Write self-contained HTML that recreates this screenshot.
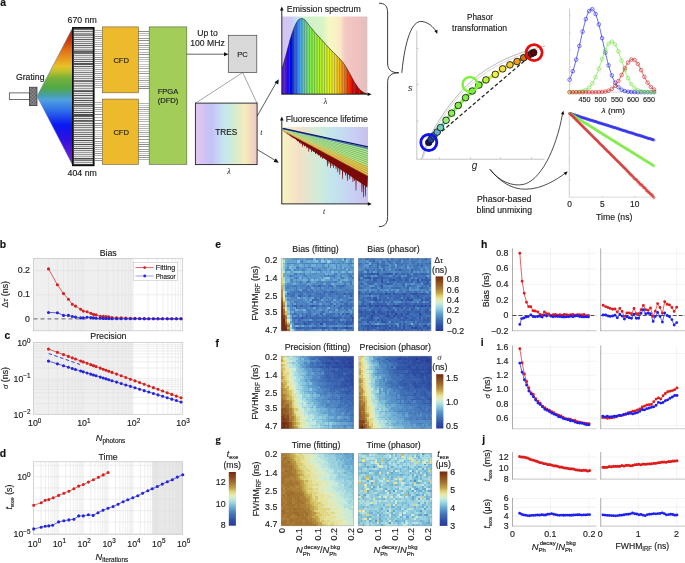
<!DOCTYPE html>
<html><head><meta charset="utf-8"><style>
html,body{margin:0;padding:0;background:#fff;width:685px;height:563px;overflow:hidden}
svg{display:block;font-family:"Liberation Sans",sans-serif;will-change:transform}
text{stroke:#222;stroke-width:0.16px}
</style></head><body>
<svg width="685" height="563" viewBox="0 0 685 563" fill="#222">
<rect width="685" height="563" fill="#fff"/>
<text x="0.2" y="5.9" font-size="10.4" fill="#111" font-weight="bold">a</text>
<defs>
<linearGradient id="spec" x1="0" y1="0" x2="0" y2="1">
<stop offset="0" stop-color="#9c1a00"/><stop offset="0.09" stop-color="#c83a08"/>
<stop offset="0.163" stop-color="#e07018"/><stop offset="0.236" stop-color="#e8a020"/>
<stop offset="0.28" stop-color="#e8c028"/><stop offset="0.322" stop-color="#b8c030"/>
<stop offset="0.366" stop-color="#78b038"/><stop offset="0.438" stop-color="#50a848"/>
<stop offset="0.489" stop-color="#48a0a0"/><stop offset="0.525" stop-color="#50a0e0"/>
<stop offset="0.598" stop-color="#3070e8"/><stop offset="0.707" stop-color="#0818f0"/>
<stop offset="0.815" stop-color="#3010e0"/><stop offset="0.96" stop-color="#7020d0"/>
<stop offset="1" stop-color="#8020d0"/>
</linearGradient>
<linearGradient id="tres" x1="0" y1="0" x2="1" y2="0">
<stop offset="0" stop-color="#e4c8ee"/><stop offset="0.25" stop-color="#c4c0f6"/>
<stop offset="0.45" stop-color="#c6e4f4"/><stop offset="0.62" stop-color="#d2ecd2"/>
<stop offset="0.8" stop-color="#f6ecbe"/><stop offset="1" stop-color="#ecc8c2"/>
</linearGradient>
<linearGradient id="embg" x1="0" y1="0" x2="1" y2="0">
<stop offset="0" stop-color="#d4c4f2"/><stop offset="0.1" stop-color="#d0c8f4"/>
<stop offset="0.16" stop-color="#c4dcf8"/><stop offset="0.27" stop-color="#cef0cc"/>
<stop offset="0.48" stop-color="#d8f4c4"/><stop offset="0.55" stop-color="#f8f8c4"/>
<stop offset="0.68" stop-color="#f8ecc4"/><stop offset="0.74" stop-color="#f4c8c4"/>
<stop offset="0.9" stop-color="#eec0c0"/><stop offset="1" stop-color="#e0c0c0"/>
</linearGradient>
<linearGradient id="ltbg" x1="0" y1="0" x2="1" y2="0">
<stop offset="0" stop-color="#f8f4c2"/><stop offset="0.2" stop-color="#f4e0c8"/>
<stop offset="0.42" stop-color="#d0ecd8"/><stop offset="0.6" stop-color="#c2e4ee"/>
<stop offset="0.85" stop-color="#c8cef4"/><stop offset="1" stop-color="#c8c0ec"/>
</linearGradient>
<pattern id="chk" width="1.4" height="1.4" patternUnits="userSpaceOnUse">
<rect width="1.4" height="1.4" fill="#9a9a9a"/><rect width="0.7" height="0.7" fill="#555"/><rect x="0.7" y="0.7" width="0.7" height="0.7" fill="#555"/>
</pattern>
</defs>
<rect x="9.3" y="92.9" width="20.1" height="6.6" fill="#fff" stroke="#333" stroke-width="0.7"/>
<rect x="29.4" y="87.2" width="7.6" height="18.5" fill="url(#chk)" stroke="#333" stroke-width="0.7"/>
<path d="M37 96.3L72.8 27.6L72.8 165.4Z" fill="url(#spec)" stroke="#5a78b8" stroke-width="0.5"/>
<rect x="73" y="28" width="20.6" height="137" fill="#e4e4e4"/>
<g shape-rendering="crispEdges">
<rect x="73.8" y="29" width="19" height="1" fill="#666666"/>
<rect x="73.8" y="31" width="19" height="1" fill="#777777"/>
<rect x="73.8" y="33" width="19" height="1" fill="#989898"/>
<rect x="73.8" y="34" width="19" height="1" fill="#959595"/>
<rect x="73.8" y="35" width="19" height="1" fill="#848484"/>
<rect x="73.8" y="37" width="19" height="1" fill="#8e8e8e"/>
<rect x="73.8" y="39" width="19" height="1" fill="#606060"/>
<rect x="73.8" y="41" width="19" height="1" fill="#8d8d8d"/>
<rect x="73.8" y="43" width="19" height="1" fill="#7a7a7a"/>
<rect x="73.8" y="45" width="19" height="1" fill="#656565"/>
<rect x="73.8" y="47" width="19" height="1" fill="#8a8a8a"/>
<rect x="73.8" y="49" width="19" height="1" fill="#a6a6a6"/>
<rect x="73.8" y="50" width="19" height="1" fill="#9d9d9d"/>
<rect x="73.8" y="51" width="19" height="1" fill="#5c5c5c"/>
<rect x="73.8" y="52" width="19" height="1" fill="#6e6e6e"/>
<rect x="73.8" y="53" width="19" height="1" fill="#6a6a6a"/>
<rect x="73.8" y="55" width="19" height="1" fill="#949494"/>
<rect x="73.8" y="57" width="19" height="1" fill="#a3a3a3"/>
<rect x="73.8" y="59" width="19" height="1" fill="#7a7a7a"/>
<rect x="73.8" y="61" width="19" height="1" fill="#595959"/>
<rect x="73.8" y="63" width="19" height="1" fill="#545454"/>
<rect x="73.8" y="64" width="19" height="1" fill="#595959"/>
<rect x="73.8" y="66" width="19" height="1" fill="#636363"/>
<rect x="73.8" y="68" width="19" height="1" fill="#9e9e9e"/>
<rect x="73.8" y="70" width="19" height="1" fill="#ababab"/>
<rect x="73.8" y="72" width="19" height="1" fill="#7d7d7d"/>
<rect x="73.8" y="74" width="19" height="1" fill="#919191"/>
<rect x="73.8" y="76" width="19" height="1" fill="#8c8c8c"/>
<rect x="73.8" y="78" width="19" height="1" fill="#929292"/>
<rect x="73.8" y="80" width="19" height="1" fill="#737373"/>
<rect x="73.8" y="81" width="19" height="1" fill="#6b6b6b"/>
<rect x="73.8" y="83" width="19" height="1" fill="#a1a1a1"/>
<rect x="73.8" y="85" width="19" height="1" fill="#8d8d8d"/>
<rect x="73.8" y="86" width="19" height="1" fill="#a3a3a3"/>
<rect x="73.8" y="88" width="19" height="1" fill="#999999"/>
<rect x="73.8" y="90" width="19" height="1" fill="#6c6c6c"/>
<rect x="73.8" y="91" width="19" height="1" fill="#505050"/>
<rect x="73.8" y="93" width="19" height="1" fill="#999999"/>
<rect x="73.8" y="95" width="19" height="1" fill="#535353"/>
<rect x="73.8" y="97" width="19" height="1" fill="#aeaeae"/>
<rect x="73.8" y="98" width="19" height="1" fill="#7c7c7c"/>
<rect x="73.8" y="100" width="19" height="1" fill="#4a4a4a"/>
<rect x="73.8" y="102" width="19" height="1" fill="#7e7e7e"/>
<rect x="73.8" y="104" width="19" height="1" fill="#575757"/>
<rect x="73.8" y="105" width="19" height="1" fill="#959595"/>
<rect x="73.8" y="106" width="19" height="1" fill="#787878"/>
<rect x="73.8" y="108" width="19" height="1" fill="#8e8e8e"/>
<rect x="73.8" y="110" width="19" height="1" fill="#888888"/>
<rect x="73.8" y="112" width="19" height="1" fill="#4c4c4c"/>
<rect x="73.8" y="114" width="19" height="1" fill="#484848"/>
<rect x="73.8" y="115" width="19" height="1" fill="#555555"/>
<rect x="73.8" y="116" width="19" height="1" fill="#616161"/>
<rect x="73.8" y="118" width="19" height="1" fill="#6d6d6d"/>
<rect x="73.8" y="120" width="19" height="1" fill="#5b5b5b"/>
<rect x="73.8" y="121" width="19" height="1" fill="#737373"/>
<rect x="73.8" y="123" width="19" height="1" fill="#767676"/>
<rect x="73.8" y="125" width="19" height="1" fill="#787878"/>
<rect x="73.8" y="127" width="19" height="1" fill="#828282"/>
<rect x="73.8" y="129" width="19" height="1" fill="#9a9a9a"/>
<rect x="73.8" y="130" width="19" height="1" fill="#979797"/>
<rect x="73.8" y="132" width="19" height="1" fill="#7f7f7f"/>
<rect x="73.8" y="134" width="19" height="1" fill="#6e6e6e"/>
<rect x="73.8" y="136" width="19" height="1" fill="#696969"/>
<rect x="73.8" y="138" width="19" height="1" fill="#8e8e8e"/>
<rect x="73.8" y="140" width="19" height="1" fill="#494949"/>
<rect x="73.8" y="142" width="19" height="1" fill="#929292"/>
<rect x="73.8" y="144" width="19" height="1" fill="#4a4a4a"/>
<rect x="73.8" y="146" width="19" height="1" fill="#969696"/>
<rect x="73.8" y="148" width="19" height="1" fill="#4f4f4f"/>
<rect x="73.8" y="150" width="19" height="1" fill="#838383"/>
<rect x="73.8" y="152" width="19" height="1" fill="#9e9e9e"/>
<rect x="73.8" y="154" width="19" height="1" fill="#959595"/>
<rect x="73.8" y="156" width="19" height="1" fill="#a6a6a6"/>
<rect x="73.8" y="158" width="19" height="1" fill="#4a4a4a"/>
<rect x="73.8" y="159" width="19" height="1" fill="#9e9e9e"/>
<rect x="73.8" y="160" width="19" height="1" fill="#777777"/>
<rect x="73.8" y="162" width="19" height="1" fill="#989898"/>
<rect x="73.8" y="164" width="19" height="1" fill="#6e6e6e"/>
</g>
<rect x="72.9" y="27.9" width="20.8" height="137.4" fill="none" stroke="#111" stroke-width="1.8"/>
<g shape-rendering="crispEdges">
<rect x="94.6" y="30" width="7.8" height="1" fill="#a8a8a8"/>
<rect x="94.6" y="32" width="7.8" height="1" fill="#cbcbcb"/>
<rect x="94.6" y="34" width="7.8" height="1" fill="#c3c3c3"/>
<rect x="94.6" y="36" width="7.8" height="1" fill="#8e8e8e"/>
<rect x="94.6" y="38" width="7.8" height="1" fill="#969696"/>
<rect x="94.6" y="40" width="7.8" height="1" fill="#c4c4c4"/>
<rect x="94.6" y="42" width="7.8" height="1" fill="#b8b8b8"/>
<rect x="94.6" y="44" width="7.8" height="1" fill="#a7a7a7"/>
<rect x="94.6" y="46" width="7.8" height="1" fill="#a3a3a3"/>
<rect x="94.6" y="49" width="7.8" height="1" fill="#ababab"/>
<rect x="94.6" y="51" width="7.8" height="1" fill="#b9b9b9"/>
<rect x="94.6" y="53" width="7.8" height="1" fill="#919191"/>
<rect x="94.6" y="55" width="7.8" height="1" fill="#c0c0c0"/>
<rect x="94.6" y="57" width="7.8" height="1" fill="#989898"/>
<rect x="94.6" y="59" width="7.8" height="1" fill="#888888"/>
<rect x="94.6" y="61" width="7.8" height="1" fill="#a3a3a3"/>
<rect x="94.6" y="63" width="7.8" height="1" fill="#9d9d9d"/>
<rect x="94.6" y="65" width="7.8" height="1" fill="#b0b0b0"/>
<rect x="94.6" y="67" width="7.8" height="1" fill="#cdcdcd"/>
<rect x="94.6" y="69" width="7.8" height="1" fill="#9f9f9f"/>
<rect x="94.6" y="71" width="7.8" height="1" fill="#b9b9b9"/>
<rect x="94.6" y="73" width="7.8" height="1" fill="#8a8a8a"/>
<rect x="94.6" y="75" width="7.8" height="1" fill="#bdbdbd"/>
<rect x="94.6" y="77" width="7.8" height="1" fill="#9a9a9a"/>
<rect x="94.6" y="79" width="7.8" height="1" fill="#909090"/>
<rect x="94.6" y="81" width="7.8" height="1" fill="#aeaeae"/>
<rect x="94.6" y="83" width="7.8" height="1" fill="#b3b3b3"/>
<rect x="94.6" y="85" width="7.8" height="1" fill="#afafaf"/>
<rect x="94.6" y="87" width="7.8" height="1" fill="#afafaf"/>
<rect x="94.6" y="102" width="7.8" height="1" fill="#b0b0b0"/>
<rect x="94.6" y="104" width="7.8" height="1" fill="#c5c5c5"/>
<rect x="94.6" y="107" width="7.8" height="1" fill="#9e9e9e"/>
<rect x="94.6" y="109" width="7.8" height="1" fill="#a8a8a8"/>
<rect x="94.6" y="111" width="7.8" height="1" fill="#b5b5b5"/>
<rect x="94.6" y="114" width="7.8" height="1" fill="#8a8a8a"/>
<rect x="94.6" y="117" width="7.8" height="1" fill="#b6b6b6"/>
<rect x="94.6" y="120" width="7.8" height="1" fill="#898989"/>
<rect x="94.6" y="123" width="7.8" height="1" fill="#8d8d8d"/>
<rect x="94.6" y="125" width="7.8" height="1" fill="#a1a1a1"/>
<rect x="94.6" y="127" width="7.8" height="1" fill="#a7a7a7"/>
<rect x="94.6" y="130" width="7.8" height="1" fill="#b4b4b4"/>
<rect x="94.6" y="132" width="7.8" height="1" fill="#cbcbcb"/>
<rect x="94.6" y="134" width="7.8" height="1" fill="#c3c3c3"/>
<rect x="94.6" y="136" width="7.8" height="1" fill="#b7b7b7"/>
<rect x="94.6" y="138" width="7.8" height="1" fill="#8c8c8c"/>
<rect x="94.6" y="141" width="7.8" height="1" fill="#939393"/>
<rect x="94.6" y="143" width="7.8" height="1" fill="#b3b3b3"/>
<rect x="94.6" y="145" width="7.8" height="1" fill="#9a9a9a"/>
<rect x="94.6" y="147" width="7.8" height="1" fill="#ababab"/>
<rect x="94.6" y="149" width="7.8" height="1" fill="#afafaf"/>
<rect x="94.6" y="151" width="7.8" height="1" fill="#afafaf"/>
<rect x="94.6" y="153" width="7.8" height="1" fill="#929292"/>
<rect x="94.6" y="155" width="7.8" height="1" fill="#afafaf"/>
<rect x="94.6" y="158" width="7.8" height="1" fill="#9c9c9c"/>
<rect x="94.6" y="160" width="7.8" height="1" fill="#929292"/>
<rect x="138.3" y="31" width="10.8" height="1" fill="#8c8c8c"/>
<rect x="138.3" y="33" width="10.8" height="1" fill="#b4b4b4"/>
<rect x="138.3" y="35" width="10.8" height="1" fill="#c2c2c2"/>
<rect x="138.3" y="38" width="10.8" height="1" fill="#9a9a9a"/>
<rect x="138.3" y="40" width="10.8" height="1" fill="#8c8c8c"/>
<rect x="138.3" y="43" width="10.8" height="1" fill="#b2b2b2"/>
<rect x="138.3" y="45" width="10.8" height="1" fill="#989898"/>
<rect x="138.3" y="47" width="10.8" height="1" fill="#bcbcbc"/>
<rect x="138.3" y="49" width="10.8" height="1" fill="#9d9d9d"/>
<rect x="138.3" y="52" width="10.8" height="1" fill="#b7b7b7"/>
<rect x="138.3" y="54" width="10.8" height="1" fill="#8f8f8f"/>
<rect x="138.3" y="57" width="10.8" height="1" fill="#adadad"/>
<rect x="138.3" y="59" width="10.8" height="1" fill="#c2c2c2"/>
<rect x="138.3" y="61" width="10.8" height="1" fill="#cacaca"/>
<rect x="138.3" y="64" width="10.8" height="1" fill="#c6c6c6"/>
<rect x="138.3" y="66" width="10.8" height="1" fill="#c5c5c5"/>
<rect x="138.3" y="68" width="10.8" height="1" fill="#adadad"/>
<rect x="138.3" y="71" width="10.8" height="1" fill="#bbbbbb"/>
<rect x="138.3" y="73" width="10.8" height="1" fill="#969696"/>
<rect x="138.3" y="76" width="10.8" height="1" fill="#cccccc"/>
<rect x="138.3" y="78" width="10.8" height="1" fill="#c7c7c7"/>
<rect x="138.3" y="80" width="10.8" height="1" fill="#9f9f9f"/>
<rect x="138.3" y="82" width="10.8" height="1" fill="#c6c6c6"/>
<rect x="138.3" y="84" width="10.8" height="1" fill="#c9c9c9"/>
<rect x="138.3" y="86" width="10.8" height="1" fill="#909090"/>
<rect x="138.3" y="88" width="10.8" height="1" fill="#8c8c8c"/>
<rect x="138.3" y="103" width="10.8" height="1" fill="#b6b6b6"/>
<rect x="138.3" y="105" width="10.8" height="1" fill="#c6c6c6"/>
<rect x="138.3" y="107" width="10.8" height="1" fill="#adadad"/>
<rect x="138.3" y="109" width="10.8" height="1" fill="#9e9e9e"/>
<rect x="138.3" y="111" width="10.8" height="1" fill="#c4c4c4"/>
<rect x="138.3" y="113" width="10.8" height="1" fill="#b1b1b1"/>
<rect x="138.3" y="115" width="10.8" height="1" fill="#c3c3c3"/>
<rect x="138.3" y="117" width="10.8" height="1" fill="#c8c8c8"/>
<rect x="138.3" y="119" width="10.8" height="1" fill="#b4b4b4"/>
<rect x="138.3" y="121" width="10.8" height="1" fill="#b4b4b4"/>
<rect x="138.3" y="124" width="10.8" height="1" fill="#b4b4b4"/>
<rect x="138.3" y="126" width="10.8" height="1" fill="#c1c1c1"/>
<rect x="138.3" y="128" width="10.8" height="1" fill="#b2b2b2"/>
<rect x="138.3" y="130" width="10.8" height="1" fill="#cbcbcb"/>
<rect x="138.3" y="132" width="10.8" height="1" fill="#a1a1a1"/>
<rect x="138.3" y="134" width="10.8" height="1" fill="#c5c5c5"/>
<rect x="138.3" y="136" width="10.8" height="1" fill="#929292"/>
<rect x="138.3" y="139" width="10.8" height="1" fill="#9d9d9d"/>
<rect x="138.3" y="142" width="10.8" height="1" fill="#aeaeae"/>
<rect x="138.3" y="144" width="10.8" height="1" fill="#8b8b8b"/>
<rect x="138.3" y="146" width="10.8" height="1" fill="#9c9c9c"/>
<rect x="138.3" y="149" width="10.8" height="1" fill="#9f9f9f"/>
<rect x="138.3" y="151" width="10.8" height="1" fill="#9f9f9f"/>
<rect x="138.3" y="153" width="10.8" height="1" fill="#c4c4c4"/>
<rect x="138.3" y="155" width="10.8" height="1" fill="#9d9d9d"/>
<rect x="138.3" y="157" width="10.8" height="1" fill="#999999"/>
<rect x="138.3" y="159" width="10.8" height="1" fill="#b0b0b0"/>
</g>
<rect x="102.5" y="26.9" width="35.8" height="65.9" fill="#eeba2d" stroke="#6a5a30" stroke-width="0.6"/>
<rect x="102.5" y="99.1" width="35.8" height="65.2" fill="#eeba2d" stroke="#6a5a30" stroke-width="0.6"/>
<text x="121.2" y="63.2" font-size="7.6" text-anchor="middle">CFD</text>
<text x="121.2" y="135" font-size="7.6" text-anchor="middle">CFD</text>
<rect x="149.2" y="26.9" width="37.6" height="137.4" fill="#a2cd58" stroke="#50603a" stroke-width="0.6"/>
<text x="168" y="93.8" font-size="7.6" text-anchor="middle">FPGA</text>
<text x="168" y="102.8" font-size="7.6" text-anchor="middle">(DFD)</text>
<text x="67.6" y="22.7" font-size="8.6" textLength="29.2" lengthAdjust="spacingAndGlyphs">670 nm</text>
<text x="67.6" y="176.2" font-size="8.6" textLength="29.2" lengthAdjust="spacingAndGlyphs">404 nm</text>
<text x="15.9" y="80.4" font-size="8.6" textLength="28.6" lengthAdjust="spacingAndGlyphs">Grating</text>
<line x1="186.8" y1="54.2" x2="226" y2="54.2" stroke="#222" stroke-width="0.7" />
<path d="M228.6 54.2L224 56.27L224 52.13Z" fill="#111"/>
<text x="207.5" y="36" font-size="8.6" text-anchor="middle">Up to</text>
<text x="207.5" y="45.7" font-size="8.6" text-anchor="middle">100 MHz</text>
<rect x="228.3" y="35.3" width="28.5" height="37.2" fill="#d9d9d9" stroke="#444" stroke-width="0.7"/>
<text x="242.5" y="57.2" font-size="7.6" text-anchor="middle">PC</text>
<line x1="242.7" y1="72.5" x2="195.5" y2="103.2" stroke="#333" stroke-width="0.45" />
<line x1="242.7" y1="72.5" x2="257" y2="103.2" stroke="#333" stroke-width="0.45" />
<rect x="195.4" y="103.1" width="61.7" height="61.5" fill="url(#tres)" stroke="#222" stroke-width="0.9"/>
<text x="226.2" y="135.3" font-size="8.2" text-anchor="middle">TRES</text>
<text x="260.2" y="134.5" font-size="8" font-style="italic" font-family="Liberation Serif" style="stroke:none">t</text>
<text x="229" y="174.3" font-size="8" text-anchor="middle" font-style="italic" font-family="Liberation Serif" style="stroke:none">&#955;</text>
<line x1="257.2" y1="116" x2="276.5" y2="82.2" stroke="#111" stroke-width="0.7" />
<path d="M278.8 79.2L278.25 84.43L274.52 82.26Z" fill="#111"/>
<line x1="257.2" y1="149.5" x2="275.5" y2="160.6" stroke="#111" stroke-width="0.7" />
<path d="M278.8 162.7L273.58 162.04L275.83 158.36Z" fill="#111"/>
<rect x="282" y="16.5" width="85.4" height="77.6" fill="url(#embg)"/>
<defs><clipPath id="specclip"><path d="M282 94.1L282 68.4L284 62L286 55L288 47.5L290 40L292 33.5L294 28L296 23.5L298 20.3L300 18.8L301.6 18.5L303 18.8L305 20L307 22.5L310 26.5L315 32.5L320 38L325 43.5L330 49L335 54L340 59L343 62.5L346 67L350 74L354 81.5L358 87.5L361 90.8L364 92.8L367.4 94L367.4 94.1Z"/></clipPath></defs>
<g clip-path="url(#specclip)">
<rect x="282" y="16" width="2.55" height="78.1" fill="#5f10eb"/>
<rect x="284.5" y="16" width="2.55" height="78.1" fill="#4410f0"/>
<rect x="287" y="16" width="2.55" height="78.1" fill="#1d0ef0"/>
<rect x="289.5" y="16" width="2.55" height="78.1" fill="#0104f0"/>
<rect x="292" y="16" width="2.55" height="78.1" fill="#0d33f0"/>
<rect x="294.5" y="16" width="2.55" height="78.1" fill="#2662f0"/>
<rect x="297" y="16" width="2.55" height="78.1" fill="#3e87f0"/>
<rect x="299.5" y="16" width="2.55" height="78.1" fill="#4ca8e4"/>
<rect x="302" y="16" width="2.55" height="78.1" fill="#57bfc6"/>
<rect x="304.5" y="16" width="2.55" height="78.1" fill="#68d09b"/>
<rect x="307" y="16" width="2.55" height="78.1" fill="#79e171"/>
<rect x="309.5" y="16" width="2.55" height="78.1" fill="#80ec4e"/>
<rect x="312" y="16" width="2.55" height="78.1" fill="#87f03c"/>
<rect x="314.5" y="16" width="2.55" height="78.1" fill="#95f036"/>
<rect x="317" y="16" width="2.55" height="78.1" fill="#a2f030"/>
<rect x="319.5" y="16" width="2.55" height="78.1" fill="#adf02d"/>
<rect x="322" y="16" width="2.55" height="78.1" fill="#b9f02a"/>
<rect x="324.5" y="16" width="2.55" height="78.1" fill="#c7f026"/>
<rect x="327" y="16" width="2.55" height="78.1" fill="#d6f022"/>
<rect x="329.5" y="16" width="2.55" height="78.1" fill="#e3ed20"/>
<rect x="332" y="16" width="2.55" height="78.1" fill="#ebe520"/>
<rect x="334.5" y="16" width="2.55" height="78.1" fill="#f0d820"/>
<rect x="337" y="16" width="2.55" height="78.1" fill="#f0c120"/>
<rect x="339.5" y="16" width="2.55" height="78.1" fill="#f0aa1a"/>
<rect x="342" y="16" width="2.55" height="78.1" fill="#f08b15"/>
<rect x="344.5" y="16" width="2.55" height="78.1" fill="#f0660f"/>
<rect x="347" y="16" width="2.55" height="78.1" fill="#f03709"/>
<rect x="349.5" y="16" width="2.55" height="78.1" fill="#e91c05"/>
<rect x="352" y="16" width="2.55" height="78.1" fill="#e20501"/>
<rect x="354.5" y="16" width="2.55" height="78.1" fill="#d20000"/>
<rect x="357" y="16" width="2.55" height="78.1" fill="#c00000"/>
<rect x="359.5" y="16" width="2.55" height="78.1" fill="#ae0000"/>
<rect x="362" y="16" width="2.55" height="78.1" fill="#970000"/>
<rect x="364.5" y="16" width="2.55" height="78.1" fill="#7f0000"/>
<rect x="367" y="16" width="0.45" height="78.1" fill="#720000"/>
<path d="M284.5 16V94.1M287 16V94.1M289.5 16V94.1M292 16V94.1M294.5 16V94.1M297 16V94.1M299.5 16V94.1M302 16V94.1M304.5 16V94.1M307 16V94.1M309.5 16V94.1M312 16V94.1M314.5 16V94.1M317 16V94.1M319.5 16V94.1M322 16V94.1M324.5 16V94.1M327 16V94.1M329.5 16V94.1M332 16V94.1M334.5 16V94.1M337 16V94.1M339.5 16V94.1M342 16V94.1M344.5 16V94.1M347 16V94.1M349.5 16V94.1M352 16V94.1M354.5 16V94.1M357 16V94.1M359.5 16V94.1M362 16V94.1M364.5 16V94.1" fill="none" stroke="#222" stroke-width="0.42" stroke-opacity="0.65"/>
</g>
<polyline points="282,68.4 284,62 286,55 288,47.5 290,40 292,33.5 294,28 296,23.5 298,20.3 300,18.8 301.6,18.5 303,18.8 305,20 307,22.5 310,26.5 315,32.5 320,38 325,43.5 330,49 335,54 340,59 343,62.5 346,67 350,74 354,81.5 358,87.5 361,90.8 364,92.8 367.4,94" fill="none" stroke="#222" stroke-width="0.6"/>
<line x1="281.8" y1="9.5" x2="281.8" y2="94.4" stroke="#111" stroke-width="0.9" />
<path d="M281.8 6.6L283.6 10.6L280 10.6Z" fill="#111"/>
<line x1="281.5" y1="94.2" x2="368.5" y2="94.2" stroke="#111" stroke-width="0.9" />
<path d="M371.6 94.2L367.6 96L367.6 92.4Z" fill="#111"/>
<text x="286.8" y="12" font-size="8.7" textLength="74" lengthAdjust="spacingAndGlyphs">Emission spectrum</text>
<text x="325.6" y="104.3" font-size="8" text-anchor="middle" font-style="italic" font-family="Liberation Serif" style="stroke:none">&#955;</text>
<rect x="282" y="127" width="86" height="76.8" fill="url(#ltbg)"/>
<path d="M282.8 128.4L368 175L367.39 187.49L366.57 186.94L365.92 186.17L365.67 195.85L365.07 196.97L364.82 185.77L363.93 184.84L363.68 196.6L363.08 197.95L362.83 184.44L362.45 183.85L362.2 191.69L361.6 192.61L361.35 183.45L360.45 182.85L359.38 182.13L358.57 181.59L357.22 180.69L356.55 179.9L356.3 190.03L355.7 191.2L355.45 179.5L355.01 178.88L354.76 180.66L354.16 180.91L353.91 178.48L353.51 177.87L353.26 181.87L352.66 182.36L352.41 177.47L351.11 176.6L350.39 175.78L350.14 179.04L349.54 179.45L349.29 175.38L348.47 174.83L347.92 174.13L347.67 180.59L347.07 181.36L346.82 173.73L345.95 172.81L345.7 175.43L345.1 175.76L344.85 172.41L343.6 171.58L343.15 170.94L342.9 178.66L342.3 179.56L342.05 170.54L341.16 169.94L340.34 169.06L340.09 174.41L339.49 175.04L339.24 168.66L338.36 167.74L338.11 171.93L337.51 172.44L337.26 167.34L336.6 166.56L336.35 169.03L335.75 169.34L335.5 166.16L334.65 165.59L334.17 164.93L333.92 167.86L333.32 168.23L333.07 164.53L332.62 163.89L332.37 165.92L331.77 166.19L331.52 163.49L331.16 162.92L330.91 167.69L330.31 168.26L330.06 162.52L329.52 161.82L329.27 163.66L328.67 163.91L328.42 161.42L327.94 160.76L327.69 166.13L327.09 166.77L326.84 160.36L325.88 159.72L324.82 159.01L323.64 158.22L322.9 157.39L322.65 158.77L322.05 158.97L321.8 156.99L321.16 156.23L320.91 157.46L320.31 157.64L320.06 155.83L319.23 155.27L318.78 154.63L318.53 155.46L317.93 155.6L317.68 154.23L316.3 153.31L315.95 152.74L315.7 154.11L315.1 154.31L314.85 152.34L314.17 151.55L313.92 152.02L313.32 152.12L313.07 151.15L312.18 150.22L311.93 152.12L311.33 152.37L311.08 149.82L310.16 149.2L309.35 148.32L309.1 151.6L308.5 152L308.25 147.92L307.44 147.05L307.19 148.31L306.59 148.5L306.34 146.65L305.5 146.09L305.06 145.46L304.81 146.3L304.21 146.44L303.96 145.06L303.16 144.18L302.91 146.58L302.31 146.89L302.06 143.78L301.59 143.13L301.34 144.08L300.74 144.22L300.49 142.73L299.89 142L299.64 143.16L299.04 143.34L298.79 141.6L297.98 140.72L297.73 141.34L297.13 141.45L296.88 140.32L296.07 139.77L295.65 139.16L295.4 139.05L294.8 139.08L294.55 138.76L294.24 138.22L293.99 138.19L293.39 138.23L293.14 137.82L292.45 137.02L292.2 137.73L291.6 137.86L291.35 136.62L291.02 136.07L290.77 136.35L290.17 136.43L289.92 135.67L289.07 135.1L288.71 134.52L288.46 134.62L287.86 134.68L287.61 134.12L286.51 133.38L285.85 132.61L285.6 132.34L285 132.35L284.75 132.21L283.9 131.3L283.65 130.9L283.05 130.9L282.8 130.9Z" fill="#7a0a0a"/>
<path d="M282.8 128.4L368 166L368 176L282.8 129.9Z" fill="#c8a820"/>
<path d="M282.8 128.4L368 147.5L368 166.5L282.8 129.4Z" fill="#98d070"/>
<line x1="282.8" y1="128.4" x2="368" y2="148" stroke="#e4f2dc" stroke-width="0.55" />
<line x1="282.8" y1="128.48" x2="368" y2="149.12" stroke="#329e93" stroke-width="0.55" />
<line x1="282.8" y1="128.56" x2="368" y2="150.24" stroke="#e4f2dc" stroke-width="0.55" />
<line x1="282.8" y1="128.64" x2="368" y2="151.36" stroke="#47ad65" stroke-width="0.55" />
<line x1="282.8" y1="128.72" x2="368" y2="152.48" stroke="#e4f2dc" stroke-width="0.55" />
<line x1="282.8" y1="128.8" x2="368" y2="153.6" stroke="#53b54d" stroke-width="0.55" />
<line x1="282.8" y1="128.88" x2="368" y2="154.72" stroke="#e4f2dc" stroke-width="0.55" />
<line x1="282.8" y1="128.96" x2="368" y2="155.84" stroke="#59b747" stroke-width="0.55" />
<line x1="282.8" y1="129.04" x2="368" y2="156.96" stroke="#e4f2dc" stroke-width="0.55" />
<line x1="282.8" y1="129.12" x2="368" y2="158.08" stroke="#5fb941" stroke-width="0.55" />
<line x1="282.8" y1="129.2" x2="368" y2="159.2" stroke="#e4f2dc" stroke-width="0.55" />
<line x1="282.8" y1="129.28" x2="368" y2="160.32" stroke="#64bb3c" stroke-width="0.55" />
<line x1="282.8" y1="129.36" x2="368" y2="161.44" stroke="#e4f2dc" stroke-width="0.55" />
<line x1="282.8" y1="129.44" x2="368" y2="162.56" stroke="#6abd36" stroke-width="0.55" />
<line x1="282.8" y1="129.52" x2="368" y2="163.68" stroke="#e4f2dc" stroke-width="0.55" />
<line x1="282.8" y1="129.6" x2="368" y2="164.8" stroke="#7abe31" stroke-width="0.55" />
<line x1="282.8" y1="129.68" x2="368" y2="165.92" stroke="#e4f2dc" stroke-width="0.55" />
<line x1="282.8" y1="129.76" x2="368" y2="167.04" stroke="#9dbe2d" stroke-width="0.55" />
<line x1="282.8" y1="129.84" x2="368" y2="168.16" stroke="#f0e8c0" stroke-width="0.55" />
<line x1="282.8" y1="129.92" x2="368" y2="169.28" stroke="#bfbe29" stroke-width="0.55" />
<line x1="282.8" y1="130" x2="368" y2="170.4" stroke="#f0e8c0" stroke-width="0.55" />
<line x1="282.8" y1="130.08" x2="368" y2="171.52" stroke="#c6ac23" stroke-width="0.55" />
<line x1="282.8" y1="130.16" x2="368" y2="172.64" stroke="#f0e8c0" stroke-width="0.55" />
<line x1="282.8" y1="130.24" x2="368" y2="173.76" stroke="#c3931d" stroke-width="0.55" />
<line x1="282.8" y1="130.32" x2="368" y2="174.88" stroke="#f0e8c0" stroke-width="0.55" />
<line x1="282.8" y1="130.4" x2="368" y2="176" stroke="#c07a17" stroke-width="0.55" />
<line x1="282.8" y1="128.7" x2="368" y2="148.3" stroke="#3060b0" stroke-width="0.9" />
<line x1="282.8" y1="128.4" x2="368" y2="146.8" stroke="#101870" stroke-width="1.3" />
<line x1="281.8" y1="119.5" x2="281.8" y2="204" stroke="#111" stroke-width="0.9" />
<path d="M281.8 116.6L283.6 120.6L280 120.6Z" fill="#111"/>
<line x1="281.5" y1="203.9" x2="368.5" y2="203.9" stroke="#111" stroke-width="0.9" />
<path d="M371.8 203.9L367.8 205.7L367.8 202.1Z" fill="#111"/>
<text x="285.8" y="121.7" font-size="8.7" textLength="82" lengthAdjust="spacingAndGlyphs">Fluorescence lifetime</text>
<text x="324" y="214" font-size="8" text-anchor="middle" font-style="italic" font-family="Liberation Serif" style="stroke:none">t</text>
<path d="M379 3.2C385 3.2 387.6 6 387.6 13V63C387.6 69.5 391 72.8 398.8 72.8C391 72.8 387.6 76 387.6 82.5V216.5C387.6 223.5 385 226.6 379 226.6" fill="none" stroke="#222" stroke-width="0.9"/>
<path d="M401.8 72.8C405 40 412 20 422 21.5C429 22.5 433 27 436 31" fill="none" stroke="#111" stroke-width="0.8"/>
<path d="M437.3 34L434.3 31.11L437.48 29.84Z" fill="#111"/>
<text x="480" y="20.2" font-size="8.2" text-anchor="middle">Phasor</text>
<text x="479.5" y="30.7" font-size="8.2" text-anchor="middle" textLength="55" lengthAdjust="spacingAndGlyphs">transformation</text>
<line x1="416.8" y1="30.5" x2="416.8" y2="159.3" stroke="#aaa" stroke-width="0.7" />
<line x1="416.5" y1="159.2" x2="544.5" y2="159.2" stroke="#aaa" stroke-width="0.7" />
<line x1="416.8" y1="48.4" x2="418.5" y2="48.4" stroke="#aaa" stroke-width="0.6" />
<line x1="416.8" y1="84.4" x2="418.5" y2="84.4" stroke="#aaa" stroke-width="0.6" />
<line x1="416.8" y1="121" x2="418.5" y2="121" stroke="#aaa" stroke-width="0.6" />
<line x1="439.4" y1="159.2" x2="439.4" y2="157.5" stroke="#aaa" stroke-width="0.6" />
<line x1="470.5" y1="159.2" x2="470.5" y2="157.5" stroke="#aaa" stroke-width="0.6" />
<line x1="500.4" y1="159.2" x2="500.4" y2="157.5" stroke="#aaa" stroke-width="0.6" />
<line x1="531.5" y1="159.2" x2="531.5" y2="157.5" stroke="#aaa" stroke-width="0.6" />
<text x="410.2" y="90.8" font-size="9.2" text-anchor="middle" font-style="italic" style="stroke:none">s</text>
<text x="474.6" y="169.4" font-size="10" text-anchor="middle" font-style="italic" style="stroke:none">g</text>
<path d="M421.7 159.1C425 146 432 131 440 119C452 100 468 82 485 70.5C502 59.5 520 51.5 545 46" fill="none" stroke="#888" stroke-width="0.6"/>
<path d="M423.3 157.5C426.6 145 433.5 131 441.3 119.8C453 101.5 469 84 486 72.5C503 61.5 520 54 540 49.5" fill="none" stroke="#999" stroke-width="0.4"/>
<line x1="428.8" y1="142.5" x2="534.1" y2="52.6" stroke="#222" stroke-width="1.25" stroke-dasharray="3.6 2.2"/>
<line x1="428.75" y1="142.48" x2="430.97" y2="139.38" stroke="#101060" stroke-width="3.4" stroke-linecap="round"/>
<line x1="430.97" y1="139.38" x2="433.86" y2="135.83" stroke="#2040a0" stroke-width="3.4" stroke-linecap="round"/>
<line x1="433.86" y1="135.83" x2="437.18" y2="132.06" stroke="#4080c0" stroke-width="3.4" stroke-linecap="round"/>
<line x1="437.18" y1="132.06" x2="440.51" y2="127.62" stroke="#60b0d0" stroke-width="3.4" stroke-linecap="round"/>
<line x1="440.51" y1="127.62" x2="446.06" y2="120.3" stroke="#70d0b8" stroke-width="3.4" stroke-linecap="round"/>
<line x1="446.06" y1="120.3" x2="451.6" y2="113.2" stroke="#98f070" stroke-width="3.4" stroke-linecap="round"/>
<line x1="451.6" y1="113.2" x2="458.26" y2="105.44" stroke="#88f050" stroke-width="3.4" stroke-linecap="round"/>
<line x1="458.26" y1="105.44" x2="465.58" y2="97.68" stroke="#80f048" stroke-width="3.4" stroke-linecap="round"/>
<line x1="465.58" y1="97.68" x2="472.23" y2="91.02" stroke="#80f040" stroke-width="3.4" stroke-linecap="round"/>
<line x1="472.23" y1="91.02" x2="478.89" y2="85.03" stroke="#80f040" stroke-width="3.4" stroke-linecap="round"/>
<line x1="478.89" y1="85.03" x2="485.98" y2="79.93" stroke="#90f040" stroke-width="3.4" stroke-linecap="round"/>
<line x1="485.98" y1="79.93" x2="495.3" y2="74.38" stroke="#c0f040" stroke-width="3.4" stroke-linecap="round"/>
<line x1="495.3" y1="74.38" x2="502.62" y2="68.84" stroke="#f0f040" stroke-width="3.4" stroke-linecap="round"/>
<line x1="502.62" y1="68.84" x2="509.94" y2="64.84" stroke="#f0e040" stroke-width="3.4" stroke-linecap="round"/>
<line x1="509.94" y1="64.84" x2="517.04" y2="61.52" stroke="#f0c830" stroke-width="3.4" stroke-linecap="round"/>
<line x1="517.04" y1="61.52" x2="523.7" y2="57.75" stroke="#f0a020" stroke-width="3.4" stroke-linecap="round"/>
<line x1="523.7" y1="57.75" x2="528.13" y2="55.53" stroke="#d87010" stroke-width="3.4" stroke-linecap="round"/>
<line x1="528.13" y1="55.53" x2="531.46" y2="53.75" stroke="#a84010" stroke-width="3.4" stroke-linecap="round"/>
<line x1="531.46" y1="53.75" x2="533.68" y2="52.64" stroke="#801010" stroke-width="3.4" stroke-linecap="round"/>
<circle cx="428.75" cy="142.48" r="3.3" fill="#101060" stroke="#111" stroke-width="0.85"/>
<circle cx="430.97" cy="139.38" r="3.3" fill="#2040a0" stroke="#111" stroke-width="0.85"/>
<circle cx="433.86" cy="135.83" r="3.3" fill="#4080c0" stroke="#111" stroke-width="0.85"/>
<circle cx="437.18" cy="132.06" r="3.3" fill="#60b0d0" stroke="#111" stroke-width="0.85"/>
<circle cx="440.51" cy="127.62" r="3.3" fill="#70d0b8" stroke="#111" stroke-width="0.85"/>
<circle cx="446.06" cy="120.3" r="3.3" fill="#98f070" stroke="#111" stroke-width="0.85"/>
<circle cx="451.6" cy="113.2" r="3.3" fill="#88f050" stroke="#111" stroke-width="0.85"/>
<circle cx="458.26" cy="105.44" r="3.3" fill="#80f048" stroke="#111" stroke-width="0.85"/>
<circle cx="465.58" cy="97.68" r="3.3" fill="#80f040" stroke="#111" stroke-width="0.85"/>
<circle cx="472.23" cy="91.02" r="3.3" fill="#80f040" stroke="#111" stroke-width="0.85"/>
<circle cx="478.89" cy="85.03" r="3.3" fill="#90f040" stroke="#111" stroke-width="0.85"/>
<circle cx="485.98" cy="79.93" r="3.3" fill="#c0f040" stroke="#111" stroke-width="0.85"/>
<circle cx="495.3" cy="74.38" r="3.3" fill="#f0f040" stroke="#111" stroke-width="0.85"/>
<circle cx="502.62" cy="68.84" r="3.3" fill="#f0e040" stroke="#111" stroke-width="0.85"/>
<circle cx="509.94" cy="64.84" r="3.3" fill="#f0c830" stroke="#111" stroke-width="0.85"/>
<circle cx="517.04" cy="61.52" r="3.3" fill="#f0a020" stroke="#111" stroke-width="0.85"/>
<circle cx="523.7" cy="57.75" r="3.3" fill="#d87010" stroke="#111" stroke-width="0.85"/>
<circle cx="528.13" cy="55.53" r="3.3" fill="#a84010" stroke="#111" stroke-width="0.85"/>
<circle cx="531.46" cy="53.75" r="3.3" fill="#801010" stroke="#111" stroke-width="0.85"/>
<circle cx="533.68" cy="52.64" r="3.3" fill="#600000" stroke="#111" stroke-width="0.85"/>
<circle cx="428.8" cy="142.5" r="8.0" fill="none" stroke="#1010e8" stroke-width="2.8"/>
<circle cx="534.1" cy="52.6" r="8.0" fill="none" stroke="#e01010" stroke-width="2.8"/>
<circle cx="470" cy="84.4" r="7.4" fill="none" stroke="#80f040" stroke-width="2.5"/>
<line x1="569.6" y1="8.5" x2="569.6" y2="92.2" stroke="#bbb" stroke-width="0.7" />
<line x1="569.6" y1="92.2" x2="656" y2="92.2" stroke="#ccc" stroke-width="0.7" />
<line x1="569.6" y1="16" x2="571" y2="16" stroke="#bbb" stroke-width="0.5" />
<line x1="569.6" y1="33" x2="571" y2="33" stroke="#bbb" stroke-width="0.5" />
<line x1="569.6" y1="50" x2="571" y2="50" stroke="#bbb" stroke-width="0.5" />
<line x1="569.6" y1="67" x2="571" y2="67" stroke="#bbb" stroke-width="0.5" />
<line x1="569.6" y1="84" x2="571" y2="84" stroke="#bbb" stroke-width="0.5" />
<polyline points="569.6,79.7 570.1,78.58 570.6,77.4 571.1,76.15 571.6,74.83 572.1,73.43 572.6,71.96 573.1,70.42 573.6,68.8 574.1,67.12 574.6,65.37 575.1,63.55 575.6,61.67 576.1,59.72 576.6,57.73 577.1,55.68 577.6,53.58 578.1,51.44 578.6,49.27 579.1,47.08 579.6,44.86 580.1,42.63 580.6,40.4 581.1,38.17 581.6,35.96 582.1,33.77 582.6,31.61 583.1,29.5 583.6,27.44 584.1,25.45 584.6,23.53 585.1,21.69 585.6,19.94 586.1,18.29 586.6,16.76 587.1,15.34 587.6,14.05 588.1,12.9 588.6,11.88 589.1,11.01 589.6,10.29 590.1,9.73 590.6,9.33 591.1,9.08 591.6,9 592.1,9.08 592.6,9.33 593.1,9.73 593.6,10.29 594.1,11.01 594.6,11.88 595.1,12.9 595.6,14.05 596.1,15.34 596.6,16.76 597.1,18.29 597.6,19.94 598.1,21.69 598.6,23.53 599.1,25.45 599.6,27.44 600.1,29.5 600.6,31.61 601.1,33.77 601.6,35.96 602.1,38.17 602.6,40.4 603.1,42.63 603.6,44.86 604.1,47.08 604.6,49.27 605.1,51.44 605.6,53.58 606.1,55.68 606.6,57.73 607.1,59.72 607.6,61.67 608.1,63.55 608.6,65.37 609.1,67.12 609.6,68.8 610.1,70.42 610.6,71.96 611.1,73.43 611.6,74.83 612.1,76.15 612.6,77.4 613.1,78.58 613.6,79.7 614.1,80.74 614.6,81.72 615.1,82.63 615.6,83.48 616.1,84.27 616.6,85 617.1,85.68 617.6,86.3 618.1,86.88 618.6,87.41 619.1,87.89 619.6,88.34 620.1,88.74 620.6,89.11 621.1,89.44 621.6,89.75 622.1,90.02 622.6,90.27 623.1,90.49 623.6,90.69 624.1,90.87 624.6,91.03 625.1,91.17 625.6,91.3 626.1,91.41 626.6,91.51 627.1,91.6 627.6,91.68 628.1,91.75 628.6,91.81 629.1,91.86 629.6,91.91 630.1,91.95 630.6,91.98 631.1,92.02 631.6,92.04 632.1,92.06 632.6,92.08 633.1,92.1 633.6,92.12 634.1,92.13 634.6,92.14 635.1,92.15 635.6,92.16 636.1,92.16 636.6,92.17 637.1,92.17 637.6,92.18 638.1,92.18 638.6,92.19 639.1,92.19 639.6,92.19 640.1,92.19 640.6,92.19 641.1,92.19 641.6,92.2 642.1,92.2 642.6,92.2 643.1,92.2 643.6,92.2 644.1,92.2 644.6,92.2 645.1,92.2 645.6,92.2 646.1,92.2 646.6,92.2 647.1,92.2 647.6,92.2 648.1,92.2 648.6,92.2 649.1,92.2 649.6,92.2 650.1,92.2 650.6,92.2 651.1,92.2 651.6,92.2 652.1,92.2 652.6,92.2 653.1,92.2 653.6,92.2 654.1,92.2 654.6,92.2 655.1,92.2 655.6,92.2" fill="none" stroke="#2020e8" stroke-width="0.7" />
<path d="M567.8 79.7a1.8 1.8 0 1 0 3.6 0a1.8 1.8 0 1 0 -3.6 0M571.05 71.2a1.8 1.8 0 1 0 3.6 0a1.8 1.8 0 1 0 -3.6 0M574.3 59.72a1.8 1.8 0 1 0 3.6 0a1.8 1.8 0 1 0 -3.6 0M577.55 45.97a1.8 1.8 0 1 0 3.6 0a1.8 1.8 0 1 0 -3.6 0M580.8 31.61a1.8 1.8 0 1 0 3.6 0a1.8 1.8 0 1 0 -3.6 0M584.05 19.1a1.8 1.8 0 1 0 3.6 0a1.8 1.8 0 1 0 -3.6 0M587.3 11.01a1.8 1.8 0 1 0 3.6 0a1.8 1.8 0 1 0 -3.6 0M590.55 9.18a1.8 1.8 0 1 0 3.6 0a1.8 1.8 0 1 0 -3.6 0M593.8 14.05a1.8 1.8 0 1 0 3.6 0a1.8 1.8 0 1 0 -3.6 0M597.05 24.48a1.8 1.8 0 1 0 3.6 0a1.8 1.8 0 1 0 -3.6 0M600.3 38.17a1.8 1.8 0 1 0 3.6 0a1.8 1.8 0 1 0 -3.6 0M603.55 52.52a1.8 1.8 0 1 0 3.6 0a1.8 1.8 0 1 0 -3.6 0M606.8 65.37a1.8 1.8 0 1 0 3.6 0a1.8 1.8 0 1 0 -3.6 0M610.05 75.5a1.8 1.8 0 1 0 3.6 0a1.8 1.8 0 1 0 -3.6 0M613.3 82.63a1.8 1.8 0 1 0 3.6 0a1.8 1.8 0 1 0 -3.6 0M616.55 87.15a1.8 1.8 0 1 0 3.6 0a1.8 1.8 0 1 0 -3.6 0M619.8 89.75a1.8 1.8 0 1 0 3.6 0a1.8 1.8 0 1 0 -3.6 0M623.05 91.1a1.8 1.8 0 1 0 3.6 0a1.8 1.8 0 1 0 -3.6 0M626.3 91.75a1.8 1.8 0 1 0 3.6 0a1.8 1.8 0 1 0 -3.6 0M629.55 92.03a1.8 1.8 0 1 0 3.6 0a1.8 1.8 0 1 0 -3.6 0M632.8 92.14a1.8 1.8 0 1 0 3.6 0a1.8 1.8 0 1 0 -3.6 0M636.05 92.18a1.8 1.8 0 1 0 3.6 0a1.8 1.8 0 1 0 -3.6 0M639.3 92.19a1.8 1.8 0 1 0 3.6 0a1.8 1.8 0 1 0 -3.6 0M642.55 92.2a1.8 1.8 0 1 0 3.6 0a1.8 1.8 0 1 0 -3.6 0M645.8 92.2a1.8 1.8 0 1 0 3.6 0a1.8 1.8 0 1 0 -3.6 0M649.05 92.2a1.8 1.8 0 1 0 3.6 0a1.8 1.8 0 1 0 -3.6 0M652.3 92.2a1.8 1.8 0 1 0 3.6 0a1.8 1.8 0 1 0 -3.6 0" fill="none" stroke="#2020e8" stroke-width="0.6"/>
<polyline points="569.6,92.19 570.1,92.18 570.6,92.18 571.1,92.18 571.6,92.17 572.1,92.17 572.6,92.16 573.1,92.15 573.6,92.14 574.1,92.13 574.6,92.12 575.1,92.11 575.6,92.09 576.1,92.07 576.6,92.04 577.1,92.01 577.6,91.98 578.1,91.94 578.6,91.9 579.1,91.85 579.6,91.79 580.1,91.73 580.6,91.65 581.1,91.57 581.6,91.47 582.1,91.36 582.6,91.24 583.1,91.1 583.6,90.94 584.1,90.77 584.6,90.57 585.1,90.35 585.6,90.11 586.1,89.84 586.6,89.54 587.1,89.21 587.6,88.85 588.1,88.45 588.6,88.02 589.1,87.54 589.6,87.03 590.1,86.47 590.6,85.87 591.1,85.22 591.6,84.52 592.1,83.77 592.6,82.97 593.1,82.12 593.6,81.21 594.1,80.25 594.6,79.24 595.1,78.17 595.6,77.06 596.1,75.89 596.6,74.68 597.1,73.42 597.6,72.11 598.1,70.77 598.6,69.38 599.1,67.97 599.6,66.53 600.1,65.07 600.6,63.59 601.1,62.11 601.6,60.62 602.1,59.13 602.6,57.66 603.1,56.2 603.6,54.78 604.1,53.38 604.6,52.03 605.1,50.74 605.6,49.5 606.1,48.32 606.6,47.22 607.1,46.21 607.6,45.28 608.1,44.44 608.6,43.7 609.1,43.07 609.6,42.54 610.1,42.13 610.6,41.84 611.1,41.66 611.6,41.6 612.1,41.66 612.6,41.84 613.1,42.13 613.6,42.54 614.1,43.07 614.6,43.7 615.1,44.44 615.6,45.28 616.1,46.21 616.6,47.22 617.1,48.32 617.6,49.5 618.1,50.74 618.6,52.03 619.1,53.38 619.6,54.78 620.1,56.2 620.6,57.66 621.1,59.13 621.6,60.62 622.1,62.11 622.6,63.59 623.1,65.07 623.6,66.53 624.1,67.97 624.6,69.38 625.1,70.77 625.6,72.11 626.1,73.42 626.6,74.68 627.1,75.89 627.6,77.06 628.1,78.17 628.6,79.24 629.1,80.25 629.6,81.21 630.1,82.12 630.6,82.97 631.1,83.77 631.6,84.52 632.1,85.22 632.6,85.87 633.1,86.47 633.6,87.03 634.1,87.54 634.6,88.02 635.1,88.45 635.6,88.85 636.1,89.21 636.6,89.54 637.1,89.84 637.6,90.11 638.1,90.35 638.6,90.57 639.1,90.77 639.6,90.94 640.1,91.1 640.6,91.24 641.1,91.36 641.6,91.47 642.1,91.57 642.6,91.65 643.1,91.73 643.6,91.79 644.1,91.85 644.6,91.9 645.1,91.94 645.6,91.98 646.1,92.01 646.6,92.04 647.1,92.07 647.6,92.09 648.1,92.11 648.6,92.12 649.1,92.13 649.6,92.14 650.1,92.15 650.6,92.16 651.1,92.17 651.6,92.17 652.1,92.18 652.6,92.18 653.1,92.18 653.6,92.19 654.1,92.19 654.6,92.19 655.1,92.19 655.6,92.19" fill="none" stroke="#70e040" stroke-width="0.7" />
<path d="M567.8 92.19a1.8 1.8 0 1 0 3.6 0a1.8 1.8 0 1 0 -3.6 0M571.05 92.16a1.8 1.8 0 1 0 3.6 0a1.8 1.8 0 1 0 -3.6 0M574.3 92.07a1.8 1.8 0 1 0 3.6 0a1.8 1.8 0 1 0 -3.6 0M577.55 91.82a1.8 1.8 0 1 0 3.6 0a1.8 1.8 0 1 0 -3.6 0M580.8 91.24a1.8 1.8 0 1 0 3.6 0a1.8 1.8 0 1 0 -3.6 0M584.05 89.98a1.8 1.8 0 1 0 3.6 0a1.8 1.8 0 1 0 -3.6 0M587.3 87.54a1.8 1.8 0 1 0 3.6 0a1.8 1.8 0 1 0 -3.6 0M590.55 83.38a1.8 1.8 0 1 0 3.6 0a1.8 1.8 0 1 0 -3.6 0M593.8 77.06a1.8 1.8 0 1 0 3.6 0a1.8 1.8 0 1 0 -3.6 0M597.05 68.68a1.8 1.8 0 1 0 3.6 0a1.8 1.8 0 1 0 -3.6 0M600.3 59.13a1.8 1.8 0 1 0 3.6 0a1.8 1.8 0 1 0 -3.6 0M603.55 50.11a1.8 1.8 0 1 0 3.6 0a1.8 1.8 0 1 0 -3.6 0M606.8 43.7a1.8 1.8 0 1 0 3.6 0a1.8 1.8 0 1 0 -3.6 0M610.05 41.61a1.8 1.8 0 1 0 3.6 0a1.8 1.8 0 1 0 -3.6 0M613.3 44.44a1.8 1.8 0 1 0 3.6 0a1.8 1.8 0 1 0 -3.6 0M616.55 51.38a1.8 1.8 0 1 0 3.6 0a1.8 1.8 0 1 0 -3.6 0M619.8 60.62a1.8 1.8 0 1 0 3.6 0a1.8 1.8 0 1 0 -3.6 0M623.05 70.08a1.8 1.8 0 1 0 3.6 0a1.8 1.8 0 1 0 -3.6 0M626.3 78.17a1.8 1.8 0 1 0 3.6 0a1.8 1.8 0 1 0 -3.6 0M629.55 84.15a1.8 1.8 0 1 0 3.6 0a1.8 1.8 0 1 0 -3.6 0M632.8 88.02a1.8 1.8 0 1 0 3.6 0a1.8 1.8 0 1 0 -3.6 0M636.05 90.23a1.8 1.8 0 1 0 3.6 0a1.8 1.8 0 1 0 -3.6 0M639.3 91.36a1.8 1.8 0 1 0 3.6 0a1.8 1.8 0 1 0 -3.6 0M642.55 91.88a1.8 1.8 0 1 0 3.6 0a1.8 1.8 0 1 0 -3.6 0M645.8 92.09a1.8 1.8 0 1 0 3.6 0a1.8 1.8 0 1 0 -3.6 0M649.05 92.16a1.8 1.8 0 1 0 3.6 0a1.8 1.8 0 1 0 -3.6 0M652.3 92.19a1.8 1.8 0 1 0 3.6 0a1.8 1.8 0 1 0 -3.6 0" fill="none" stroke="#70e040" stroke-width="0.6"/>
<polyline points="569.6,92.2 570.1,92.2 570.6,92.2 571.1,92.2 571.6,92.2 572.1,92.2 572.6,92.2 573.1,92.2 573.6,92.2 574.1,92.2 574.6,92.2 575.1,92.2 575.6,92.2 576.1,92.2 576.6,92.2 577.1,92.2 577.6,92.2 578.1,92.2 578.6,92.2 579.1,92.2 579.6,92.2 580.1,92.2 580.6,92.2 581.1,92.2 581.6,92.2 582.1,92.2 582.6,92.2 583.1,92.2 583.6,92.2 584.1,92.2 584.6,92.2 585.1,92.2 585.6,92.2 586.1,92.2 586.6,92.2 587.1,92.2 587.6,92.2 588.1,92.2 588.6,92.2 589.1,92.2 589.6,92.2 590.1,92.2 590.6,92.2 591.1,92.2 591.6,92.2 592.1,92.2 592.6,92.19 593.1,92.19 593.6,92.19 594.1,92.19 594.6,92.19 595.1,92.18 595.6,92.18 596.1,92.18 596.6,92.17 597.1,92.16 597.6,92.16 598.1,92.15 598.6,92.14 599.1,92.12 599.6,92.11 600.1,92.09 600.6,92.07 601.1,92.04 601.6,92.01 602.1,91.98 602.6,91.94 603.1,91.9 603.6,91.85 604.1,91.79 604.6,91.72 605.1,91.64 605.6,91.55 606.1,91.45 606.6,91.34 607.1,91.21 607.6,91.06 608.1,90.9 608.6,90.72 609.1,90.51 609.6,90.29 610.1,90.04 610.6,89.76 611.1,89.46 611.6,89.12 612.1,88.76 612.6,88.36 613.1,87.93 613.6,87.46 614.1,86.96 614.6,86.42 615.1,85.83 615.6,85.21 616.1,84.55 616.6,83.85 617.1,83.11 617.6,82.34 618.1,81.52 618.6,80.67 619.1,79.78 619.6,78.86 620.1,77.91 620.6,76.94 621.1,75.95 621.6,74.93 622.1,73.9 622.6,72.87 623.1,71.83 623.6,70.79 624.1,69.76 624.6,68.75 625.1,67.76 625.6,66.79 626.1,65.86 626.6,64.96 627.1,64.11 627.6,63.32 628.1,62.58 628.6,61.91 629.1,61.3 629.6,60.77 630.1,60.31 630.6,59.94 631.1,59.65 631.6,59.44 632.1,59.33 632.6,59.3 633.1,59.36 633.6,59.52 634.1,59.75 634.6,60.08 635.1,60.48 635.6,60.97 636.1,61.53 636.6,62.17 637.1,62.87 637.6,63.63 638.1,64.45 638.6,65.31 639.1,66.22 639.6,67.17 640.1,68.15 640.6,69.15 641.1,70.17 641.6,71.21 642.1,72.25 642.6,73.28 643.1,74.32 643.6,75.34 644.1,76.35 644.6,77.33 645.1,78.3 645.6,79.23 646.1,80.14 646.6,81.01 647.1,81.85 647.6,82.65 648.1,83.41 648.6,84.14 649.1,84.82 649.6,85.47 650.1,86.07 650.6,86.64 651.1,87.16 651.6,87.65 652.1,88.11 652.6,88.52 653.1,88.91 653.6,89.26 654.1,89.58 654.6,89.88 655.1,90.14 655.6,90.38" fill="none" stroke="#d02020" stroke-width="0.7" />
<path d="M567.8 92.2a1.8 1.8 0 1 0 3.6 0a1.8 1.8 0 1 0 -3.6 0M571.05 92.2a1.8 1.8 0 1 0 3.6 0a1.8 1.8 0 1 0 -3.6 0M574.3 92.2a1.8 1.8 0 1 0 3.6 0a1.8 1.8 0 1 0 -3.6 0M577.55 92.2a1.8 1.8 0 1 0 3.6 0a1.8 1.8 0 1 0 -3.6 0M580.8 92.2a1.8 1.8 0 1 0 3.6 0a1.8 1.8 0 1 0 -3.6 0M584.05 92.2a1.8 1.8 0 1 0 3.6 0a1.8 1.8 0 1 0 -3.6 0M587.3 92.2a1.8 1.8 0 1 0 3.6 0a1.8 1.8 0 1 0 -3.6 0M590.55 92.19a1.8 1.8 0 1 0 3.6 0a1.8 1.8 0 1 0 -3.6 0M593.8 92.18a1.8 1.8 0 1 0 3.6 0a1.8 1.8 0 1 0 -3.6 0M597.05 92.13a1.8 1.8 0 1 0 3.6 0a1.8 1.8 0 1 0 -3.6 0M600.3 91.98a1.8 1.8 0 1 0 3.6 0a1.8 1.8 0 1 0 -3.6 0M603.55 91.6a1.8 1.8 0 1 0 3.6 0a1.8 1.8 0 1 0 -3.6 0M606.8 90.72a1.8 1.8 0 1 0 3.6 0a1.8 1.8 0 1 0 -3.6 0M610.05 88.95a1.8 1.8 0 1 0 3.6 0a1.8 1.8 0 1 0 -3.6 0M613.3 85.83a1.8 1.8 0 1 0 3.6 0a1.8 1.8 0 1 0 -3.6 0M616.55 81.1a1.8 1.8 0 1 0 3.6 0a1.8 1.8 0 1 0 -3.6 0M619.8 74.93a1.8 1.8 0 1 0 3.6 0a1.8 1.8 0 1 0 -3.6 0M623.05 68.25a1.8 1.8 0 1 0 3.6 0a1.8 1.8 0 1 0 -3.6 0M626.3 62.58a1.8 1.8 0 1 0 3.6 0a1.8 1.8 0 1 0 -3.6 0M629.55 59.54a1.8 1.8 0 1 0 3.6 0a1.8 1.8 0 1 0 -3.6 0M632.8 60.08a1.8 1.8 0 1 0 3.6 0a1.8 1.8 0 1 0 -3.6 0M636.05 64.03a1.8 1.8 0 1 0 3.6 0a1.8 1.8 0 1 0 -3.6 0M639.3 70.17a1.8 1.8 0 1 0 3.6 0a1.8 1.8 0 1 0 -3.6 0M642.55 76.84a1.8 1.8 0 1 0 3.6 0a1.8 1.8 0 1 0 -3.6 0M645.8 82.65a1.8 1.8 0 1 0 3.6 0a1.8 1.8 0 1 0 -3.6 0M649.05 86.91a1.8 1.8 0 1 0 3.6 0a1.8 1.8 0 1 0 -3.6 0M652.3 89.58a1.8 1.8 0 1 0 3.6 0a1.8 1.8 0 1 0 -3.6 0" fill="none" stroke="#d02020" stroke-width="0.6"/>
<text x="584.5" y="102" font-size="7.2" text-anchor="middle">450</text>
<text x="600.5" y="102" font-size="7.2" text-anchor="middle">500</text>
<text x="617" y="102" font-size="7.2" text-anchor="middle">550</text>
<text x="633" y="102" font-size="7.2" text-anchor="middle">600</text>
<text x="649" y="102" font-size="7.2" text-anchor="middle">650</text>
<text x="613.3" y="112.7" font-size="7.8" text-anchor="middle" textLength="23.5" lengthAdjust="spacingAndGlyphs"><tspan font-style="italic">&#955;</tspan> (nm)</text>
<line x1="569.3" y1="112.7" x2="569.3" y2="197.2" stroke="#bbb" stroke-width="0.7" />
<line x1="569.3" y1="197.2" x2="655.4" y2="197.2" stroke="#ccc" stroke-width="0.7" />
<line x1="569.3" y1="138" x2="570.8" y2="138" stroke="#bbb" stroke-width="0.5" />
<line x1="569.3" y1="160" x2="570.8" y2="160" stroke="#bbb" stroke-width="0.5" />
<line x1="569.3" y1="180" x2="570.8" y2="180" stroke="#bbb" stroke-width="0.5" />
<line x1="602.3" y1="197.2" x2="602.3" y2="195.7" stroke="#bbb" stroke-width="0.5" />
<line x1="634.7" y1="197.2" x2="634.7" y2="195.7" stroke="#bbb" stroke-width="0.5" />
<line x1="569.8" y1="113.5" x2="653.8" y2="140" stroke="#3030ec" stroke-width="1.3" />
<path d="M568.65 113.58a1.15 1.15 0 1 0 2.3 0a1.15 1.15 0 1 0 -2.3 0M569.58 113.98a1.15 1.15 0 1 0 2.3 0a1.15 1.15 0 1 0 -2.3 0M570.52 113.9a1.15 1.15 0 1 0 2.3 0a1.15 1.15 0 1 0 -2.3 0M571.45 114.44a1.15 1.15 0 1 0 2.3 0a1.15 1.15 0 1 0 -2.3 0M572.38 114.67a1.15 1.15 0 1 0 2.3 0a1.15 1.15 0 1 0 -2.3 0M573.32 115.06a1.15 1.15 0 1 0 2.3 0a1.15 1.15 0 1 0 -2.3 0M574.25 115.19a1.15 1.15 0 1 0 2.3 0a1.15 1.15 0 1 0 -2.3 0M575.18 115.76a1.15 1.15 0 1 0 2.3 0a1.15 1.15 0 1 0 -2.3 0M576.12 115.69a1.15 1.15 0 1 0 2.3 0a1.15 1.15 0 1 0 -2.3 0M577.05 116.17a1.15 1.15 0 1 0 2.3 0a1.15 1.15 0 1 0 -2.3 0M577.98 116.54a1.15 1.15 0 1 0 2.3 0a1.15 1.15 0 1 0 -2.3 0M578.92 116.9a1.15 1.15 0 1 0 2.3 0a1.15 1.15 0 1 0 -2.3 0M579.85 117.13a1.15 1.15 0 1 0 2.3 0a1.15 1.15 0 1 0 -2.3 0M580.78 117.41a1.15 1.15 0 1 0 2.3 0a1.15 1.15 0 1 0 -2.3 0M581.72 117.74a1.15 1.15 0 1 0 2.3 0a1.15 1.15 0 1 0 -2.3 0M582.65 118.08a1.15 1.15 0 1 0 2.3 0a1.15 1.15 0 1 0 -2.3 0M583.58 118.15a1.15 1.15 0 1 0 2.3 0a1.15 1.15 0 1 0 -2.3 0M584.52 118.58a1.15 1.15 0 1 0 2.3 0a1.15 1.15 0 1 0 -2.3 0M585.45 118.96a1.15 1.15 0 1 0 2.3 0a1.15 1.15 0 1 0 -2.3 0M586.38 119.24a1.15 1.15 0 1 0 2.3 0a1.15 1.15 0 1 0 -2.3 0M587.32 119.36a1.15 1.15 0 1 0 2.3 0a1.15 1.15 0 1 0 -2.3 0M588.25 119.8a1.15 1.15 0 1 0 2.3 0a1.15 1.15 0 1 0 -2.3 0M589.18 120.12a1.15 1.15 0 1 0 2.3 0a1.15 1.15 0 1 0 -2.3 0M590.12 120.3a1.15 1.15 0 1 0 2.3 0a1.15 1.15 0 1 0 -2.3 0M591.05 120.62a1.15 1.15 0 1 0 2.3 0a1.15 1.15 0 1 0 -2.3 0M591.98 120.81a1.15 1.15 0 1 0 2.3 0a1.15 1.15 0 1 0 -2.3 0M592.92 121.19a1.15 1.15 0 1 0 2.3 0a1.15 1.15 0 1 0 -2.3 0M593.85 121.49a1.15 1.15 0 1 0 2.3 0a1.15 1.15 0 1 0 -2.3 0M594.78 121.58a1.15 1.15 0 1 0 2.3 0a1.15 1.15 0 1 0 -2.3 0M595.72 122.09a1.15 1.15 0 1 0 2.3 0a1.15 1.15 0 1 0 -2.3 0M596.65 122.53a1.15 1.15 0 1 0 2.3 0a1.15 1.15 0 1 0 -2.3 0M597.58 122.78a1.15 1.15 0 1 0 2.3 0a1.15 1.15 0 1 0 -2.3 0M598.52 123.01a1.15 1.15 0 1 0 2.3 0a1.15 1.15 0 1 0 -2.3 0M599.45 123.17a1.15 1.15 0 1 0 2.3 0a1.15 1.15 0 1 0 -2.3 0M600.38 123.61a1.15 1.15 0 1 0 2.3 0a1.15 1.15 0 1 0 -2.3 0M601.32 123.84a1.15 1.15 0 1 0 2.3 0a1.15 1.15 0 1 0 -2.3 0M602.25 124.08a1.15 1.15 0 1 0 2.3 0a1.15 1.15 0 1 0 -2.3 0M603.18 124.53a1.15 1.15 0 1 0 2.3 0a1.15 1.15 0 1 0 -2.3 0M604.12 124.52a1.15 1.15 0 1 0 2.3 0a1.15 1.15 0 1 0 -2.3 0M605.05 125.08a1.15 1.15 0 1 0 2.3 0a1.15 1.15 0 1 0 -2.3 0M605.98 125.09a1.15 1.15 0 1 0 2.3 0a1.15 1.15 0 1 0 -2.3 0M606.92 125.61a1.15 1.15 0 1 0 2.3 0a1.15 1.15 0 1 0 -2.3 0M607.85 125.86a1.15 1.15 0 1 0 2.3 0a1.15 1.15 0 1 0 -2.3 0M608.78 126.05a1.15 1.15 0 1 0 2.3 0a1.15 1.15 0 1 0 -2.3 0M609.72 126.53a1.15 1.15 0 1 0 2.3 0a1.15 1.15 0 1 0 -2.3 0M610.65 126.75a1.15 1.15 0 1 0 2.3 0a1.15 1.15 0 1 0 -2.3 0M611.58 127.09a1.15 1.15 0 1 0 2.3 0a1.15 1.15 0 1 0 -2.3 0M612.52 127.51a1.15 1.15 0 1 0 2.3 0a1.15 1.15 0 1 0 -2.3 0M613.45 127.54a1.15 1.15 0 1 0 2.3 0a1.15 1.15 0 1 0 -2.3 0M614.38 127.73a1.15 1.15 0 1 0 2.3 0a1.15 1.15 0 1 0 -2.3 0M615.32 128.14a1.15 1.15 0 1 0 2.3 0a1.15 1.15 0 1 0 -2.3 0M616.25 128.59a1.15 1.15 0 1 0 2.3 0a1.15 1.15 0 1 0 -2.3 0M617.18 128.69a1.15 1.15 0 1 0 2.3 0a1.15 1.15 0 1 0 -2.3 0M618.12 128.97a1.15 1.15 0 1 0 2.3 0a1.15 1.15 0 1 0 -2.3 0M619.05 129.56a1.15 1.15 0 1 0 2.3 0a1.15 1.15 0 1 0 -2.3 0M619.98 129.76a1.15 1.15 0 1 0 2.3 0a1.15 1.15 0 1 0 -2.3 0M620.92 129.97a1.15 1.15 0 1 0 2.3 0a1.15 1.15 0 1 0 -2.3 0M621.85 130.44a1.15 1.15 0 1 0 2.3 0a1.15 1.15 0 1 0 -2.3 0M622.78 130.51a1.15 1.15 0 1 0 2.3 0a1.15 1.15 0 1 0 -2.3 0M623.72 130.94a1.15 1.15 0 1 0 2.3 0a1.15 1.15 0 1 0 -2.3 0M624.65 131.05a1.15 1.15 0 1 0 2.3 0a1.15 1.15 0 1 0 -2.3 0M625.58 131.43a1.15 1.15 0 1 0 2.3 0a1.15 1.15 0 1 0 -2.3 0M626.52 131.88a1.15 1.15 0 1 0 2.3 0a1.15 1.15 0 1 0 -2.3 0M627.45 132.22a1.15 1.15 0 1 0 2.3 0a1.15 1.15 0 1 0 -2.3 0M628.38 132.5a1.15 1.15 0 1 0 2.3 0a1.15 1.15 0 1 0 -2.3 0M629.32 132.59a1.15 1.15 0 1 0 2.3 0a1.15 1.15 0 1 0 -2.3 0M630.25 132.97a1.15 1.15 0 1 0 2.3 0a1.15 1.15 0 1 0 -2.3 0M631.18 133.15a1.15 1.15 0 1 0 2.3 0a1.15 1.15 0 1 0 -2.3 0M632.12 133.38a1.15 1.15 0 1 0 2.3 0a1.15 1.15 0 1 0 -2.3 0M633.05 133.82a1.15 1.15 0 1 0 2.3 0a1.15 1.15 0 1 0 -2.3 0M633.98 134.25a1.15 1.15 0 1 0 2.3 0a1.15 1.15 0 1 0 -2.3 0M634.92 134.55a1.15 1.15 0 1 0 2.3 0a1.15 1.15 0 1 0 -2.3 0M635.85 134.78a1.15 1.15 0 1 0 2.3 0a1.15 1.15 0 1 0 -2.3 0M636.78 135.17a1.15 1.15 0 1 0 2.3 0a1.15 1.15 0 1 0 -2.3 0M637.72 135.2a1.15 1.15 0 1 0 2.3 0a1.15 1.15 0 1 0 -2.3 0M638.65 135.45a1.15 1.15 0 1 0 2.3 0a1.15 1.15 0 1 0 -2.3 0M639.58 135.86a1.15 1.15 0 1 0 2.3 0a1.15 1.15 0 1 0 -2.3 0M640.52 136.08a1.15 1.15 0 1 0 2.3 0a1.15 1.15 0 1 0 -2.3 0M641.45 136.35a1.15 1.15 0 1 0 2.3 0a1.15 1.15 0 1 0 -2.3 0M642.38 136.73a1.15 1.15 0 1 0 2.3 0a1.15 1.15 0 1 0 -2.3 0M643.32 137.11a1.15 1.15 0 1 0 2.3 0a1.15 1.15 0 1 0 -2.3 0M644.25 137.35a1.15 1.15 0 1 0 2.3 0a1.15 1.15 0 1 0 -2.3 0M645.18 137.57a1.15 1.15 0 1 0 2.3 0a1.15 1.15 0 1 0 -2.3 0M646.12 138.07a1.15 1.15 0 1 0 2.3 0a1.15 1.15 0 1 0 -2.3 0M647.05 138.43a1.15 1.15 0 1 0 2.3 0a1.15 1.15 0 1 0 -2.3 0M647.98 138.51a1.15 1.15 0 1 0 2.3 0a1.15 1.15 0 1 0 -2.3 0M648.92 138.65a1.15 1.15 0 1 0 2.3 0a1.15 1.15 0 1 0 -2.3 0M649.85 138.93a1.15 1.15 0 1 0 2.3 0a1.15 1.15 0 1 0 -2.3 0M650.78 139.56a1.15 1.15 0 1 0 2.3 0a1.15 1.15 0 1 0 -2.3 0M651.72 139.52a1.15 1.15 0 1 0 2.3 0a1.15 1.15 0 1 0 -2.3 0M652.65 140.08a1.15 1.15 0 1 0 2.3 0a1.15 1.15 0 1 0 -2.3 0" fill="none" stroke="#3030ec" stroke-width="0.65"/>
<line x1="569.8" y1="113.5" x2="653.8" y2="165.8" stroke="#80ea48" stroke-width="1.3" />
<path d="M568.65 113.53a1.15 1.15 0 1 0 2.3 0a1.15 1.15 0 1 0 -2.3 0M569.58 114a1.15 1.15 0 1 0 2.3 0a1.15 1.15 0 1 0 -2.3 0M570.52 114.78a1.15 1.15 0 1 0 2.3 0a1.15 1.15 0 1 0 -2.3 0M571.45 115.05a1.15 1.15 0 1 0 2.3 0a1.15 1.15 0 1 0 -2.3 0M572.38 115.68a1.15 1.15 0 1 0 2.3 0a1.15 1.15 0 1 0 -2.3 0M573.32 116.39a1.15 1.15 0 1 0 2.3 0a1.15 1.15 0 1 0 -2.3 0M574.25 116.8a1.15 1.15 0 1 0 2.3 0a1.15 1.15 0 1 0 -2.3 0M575.18 117.7a1.15 1.15 0 1 0 2.3 0a1.15 1.15 0 1 0 -2.3 0M576.12 118.04a1.15 1.15 0 1 0 2.3 0a1.15 1.15 0 1 0 -2.3 0M577.05 118.59a1.15 1.15 0 1 0 2.3 0a1.15 1.15 0 1 0 -2.3 0M577.98 119.13a1.15 1.15 0 1 0 2.3 0a1.15 1.15 0 1 0 -2.3 0M578.92 119.94a1.15 1.15 0 1 0 2.3 0a1.15 1.15 0 1 0 -2.3 0M579.85 120.45a1.15 1.15 0 1 0 2.3 0a1.15 1.15 0 1 0 -2.3 0M580.78 121.11a1.15 1.15 0 1 0 2.3 0a1.15 1.15 0 1 0 -2.3 0M581.72 121.7a1.15 1.15 0 1 0 2.3 0a1.15 1.15 0 1 0 -2.3 0M582.65 122.34a1.15 1.15 0 1 0 2.3 0a1.15 1.15 0 1 0 -2.3 0M583.58 122.98a1.15 1.15 0 1 0 2.3 0a1.15 1.15 0 1 0 -2.3 0M584.52 123.45a1.15 1.15 0 1 0 2.3 0a1.15 1.15 0 1 0 -2.3 0M585.45 123.84a1.15 1.15 0 1 0 2.3 0a1.15 1.15 0 1 0 -2.3 0M586.38 124.53a1.15 1.15 0 1 0 2.3 0a1.15 1.15 0 1 0 -2.3 0M587.32 124.99a1.15 1.15 0 1 0 2.3 0a1.15 1.15 0 1 0 -2.3 0M588.25 125.51a1.15 1.15 0 1 0 2.3 0a1.15 1.15 0 1 0 -2.3 0M589.18 126.27a1.15 1.15 0 1 0 2.3 0a1.15 1.15 0 1 0 -2.3 0M590.12 126.95a1.15 1.15 0 1 0 2.3 0a1.15 1.15 0 1 0 -2.3 0M591.05 127.32a1.15 1.15 0 1 0 2.3 0a1.15 1.15 0 1 0 -2.3 0M591.98 127.94a1.15 1.15 0 1 0 2.3 0a1.15 1.15 0 1 0 -2.3 0M592.92 128.55a1.15 1.15 0 1 0 2.3 0a1.15 1.15 0 1 0 -2.3 0M593.85 129.27a1.15 1.15 0 1 0 2.3 0a1.15 1.15 0 1 0 -2.3 0M594.78 129.78a1.15 1.15 0 1 0 2.3 0a1.15 1.15 0 1 0 -2.3 0M595.72 130.4a1.15 1.15 0 1 0 2.3 0a1.15 1.15 0 1 0 -2.3 0M596.65 131.04a1.15 1.15 0 1 0 2.3 0a1.15 1.15 0 1 0 -2.3 0M597.58 131.47a1.15 1.15 0 1 0 2.3 0a1.15 1.15 0 1 0 -2.3 0M598.52 132.21a1.15 1.15 0 1 0 2.3 0a1.15 1.15 0 1 0 -2.3 0M599.45 132.84a1.15 1.15 0 1 0 2.3 0a1.15 1.15 0 1 0 -2.3 0M600.38 133.09a1.15 1.15 0 1 0 2.3 0a1.15 1.15 0 1 0 -2.3 0M601.32 134.01a1.15 1.15 0 1 0 2.3 0a1.15 1.15 0 1 0 -2.3 0M602.25 134.51a1.15 1.15 0 1 0 2.3 0a1.15 1.15 0 1 0 -2.3 0M603.18 134.85a1.15 1.15 0 1 0 2.3 0a1.15 1.15 0 1 0 -2.3 0M604.12 135.56a1.15 1.15 0 1 0 2.3 0a1.15 1.15 0 1 0 -2.3 0M605.05 136.21a1.15 1.15 0 1 0 2.3 0a1.15 1.15 0 1 0 -2.3 0M605.98 136.91a1.15 1.15 0 1 0 2.3 0a1.15 1.15 0 1 0 -2.3 0M606.92 137.28a1.15 1.15 0 1 0 2.3 0a1.15 1.15 0 1 0 -2.3 0M607.85 137.93a1.15 1.15 0 1 0 2.3 0a1.15 1.15 0 1 0 -2.3 0M608.78 138.64a1.15 1.15 0 1 0 2.3 0a1.15 1.15 0 1 0 -2.3 0M609.72 139.19a1.15 1.15 0 1 0 2.3 0a1.15 1.15 0 1 0 -2.3 0M610.65 139.83a1.15 1.15 0 1 0 2.3 0a1.15 1.15 0 1 0 -2.3 0M611.58 140.22a1.15 1.15 0 1 0 2.3 0a1.15 1.15 0 1 0 -2.3 0M612.52 140.87a1.15 1.15 0 1 0 2.3 0a1.15 1.15 0 1 0 -2.3 0M613.45 141.28a1.15 1.15 0 1 0 2.3 0a1.15 1.15 0 1 0 -2.3 0M614.38 142.06a1.15 1.15 0 1 0 2.3 0a1.15 1.15 0 1 0 -2.3 0M615.32 142.68a1.15 1.15 0 1 0 2.3 0a1.15 1.15 0 1 0 -2.3 0M616.25 143.19a1.15 1.15 0 1 0 2.3 0a1.15 1.15 0 1 0 -2.3 0M617.18 143.8a1.15 1.15 0 1 0 2.3 0a1.15 1.15 0 1 0 -2.3 0M618.12 144.18a1.15 1.15 0 1 0 2.3 0a1.15 1.15 0 1 0 -2.3 0M619.05 145.04a1.15 1.15 0 1 0 2.3 0a1.15 1.15 0 1 0 -2.3 0M619.98 145.65a1.15 1.15 0 1 0 2.3 0a1.15 1.15 0 1 0 -2.3 0M620.92 146.23a1.15 1.15 0 1 0 2.3 0a1.15 1.15 0 1 0 -2.3 0M621.85 146.64a1.15 1.15 0 1 0 2.3 0a1.15 1.15 0 1 0 -2.3 0M622.78 147.32a1.15 1.15 0 1 0 2.3 0a1.15 1.15 0 1 0 -2.3 0M623.72 147.71a1.15 1.15 0 1 0 2.3 0a1.15 1.15 0 1 0 -2.3 0M624.65 148.53a1.15 1.15 0 1 0 2.3 0a1.15 1.15 0 1 0 -2.3 0M625.58 149.09a1.15 1.15 0 1 0 2.3 0a1.15 1.15 0 1 0 -2.3 0M626.52 149.47a1.15 1.15 0 1 0 2.3 0a1.15 1.15 0 1 0 -2.3 0M627.45 149.94a1.15 1.15 0 1 0 2.3 0a1.15 1.15 0 1 0 -2.3 0M628.38 150.67a1.15 1.15 0 1 0 2.3 0a1.15 1.15 0 1 0 -2.3 0M629.32 151.29a1.15 1.15 0 1 0 2.3 0a1.15 1.15 0 1 0 -2.3 0M630.25 151.96a1.15 1.15 0 1 0 2.3 0a1.15 1.15 0 1 0 -2.3 0M631.18 152.43a1.15 1.15 0 1 0 2.3 0a1.15 1.15 0 1 0 -2.3 0M632.12 152.83a1.15 1.15 0 1 0 2.3 0a1.15 1.15 0 1 0 -2.3 0M633.05 153.72a1.15 1.15 0 1 0 2.3 0a1.15 1.15 0 1 0 -2.3 0M633.98 154a1.15 1.15 0 1 0 2.3 0a1.15 1.15 0 1 0 -2.3 0M634.92 154.88a1.15 1.15 0 1 0 2.3 0a1.15 1.15 0 1 0 -2.3 0M635.85 155.21a1.15 1.15 0 1 0 2.3 0a1.15 1.15 0 1 0 -2.3 0M636.78 155.86a1.15 1.15 0 1 0 2.3 0a1.15 1.15 0 1 0 -2.3 0M637.72 156.62a1.15 1.15 0 1 0 2.3 0a1.15 1.15 0 1 0 -2.3 0M638.65 156.94a1.15 1.15 0 1 0 2.3 0a1.15 1.15 0 1 0 -2.3 0M639.58 157.52a1.15 1.15 0 1 0 2.3 0a1.15 1.15 0 1 0 -2.3 0M640.52 158.25a1.15 1.15 0 1 0 2.3 0a1.15 1.15 0 1 0 -2.3 0M641.45 158.92a1.15 1.15 0 1 0 2.3 0a1.15 1.15 0 1 0 -2.3 0M642.38 159.54a1.15 1.15 0 1 0 2.3 0a1.15 1.15 0 1 0 -2.3 0M643.32 160.06a1.15 1.15 0 1 0 2.3 0a1.15 1.15 0 1 0 -2.3 0M644.25 160.75a1.15 1.15 0 1 0 2.3 0a1.15 1.15 0 1 0 -2.3 0M645.18 161.15a1.15 1.15 0 1 0 2.3 0a1.15 1.15 0 1 0 -2.3 0M646.12 161.91a1.15 1.15 0 1 0 2.3 0a1.15 1.15 0 1 0 -2.3 0M647.05 162.15a1.15 1.15 0 1 0 2.3 0a1.15 1.15 0 1 0 -2.3 0M647.98 162.78a1.15 1.15 0 1 0 2.3 0a1.15 1.15 0 1 0 -2.3 0M648.92 163.49a1.15 1.15 0 1 0 2.3 0a1.15 1.15 0 1 0 -2.3 0M649.85 163.97a1.15 1.15 0 1 0 2.3 0a1.15 1.15 0 1 0 -2.3 0M650.78 164.73a1.15 1.15 0 1 0 2.3 0a1.15 1.15 0 1 0 -2.3 0M651.72 165.27a1.15 1.15 0 1 0 2.3 0a1.15 1.15 0 1 0 -2.3 0M652.65 165.81a1.15 1.15 0 1 0 2.3 0a1.15 1.15 0 1 0 -2.3 0" fill="none" stroke="#80ea48" stroke-width="0.65"/>
<line x1="569.8" y1="113.5" x2="653.8" y2="197.4" stroke="#d43a3a" stroke-width="1.3" />
<path d="M568.65 113.5a1.15 1.15 0 1 0 2.3 0a1.15 1.15 0 1 0 -2.3 0M569.58 114.43a1.15 1.15 0 1 0 2.3 0a1.15 1.15 0 1 0 -2.3 0M570.52 115.36a1.15 1.15 0 1 0 2.3 0a1.15 1.15 0 1 0 -2.3 0M571.45 116.3a1.15 1.15 0 1 0 2.3 0a1.15 1.15 0 1 0 -2.3 0M572.38 117.23a1.15 1.15 0 1 0 2.3 0a1.15 1.15 0 1 0 -2.3 0M573.32 118.16a1.15 1.15 0 1 0 2.3 0a1.15 1.15 0 1 0 -2.3 0M574.25 119.09a1.15 1.15 0 1 0 2.3 0a1.15 1.15 0 1 0 -2.3 0M575.18 120.03a1.15 1.15 0 1 0 2.3 0a1.15 1.15 0 1 0 -2.3 0M576.12 120.97a1.15 1.15 0 1 0 2.3 0a1.15 1.15 0 1 0 -2.3 0M577.05 121.89a1.15 1.15 0 1 0 2.3 0a1.15 1.15 0 1 0 -2.3 0M577.98 122.82a1.15 1.15 0 1 0 2.3 0a1.15 1.15 0 1 0 -2.3 0M578.92 123.75a1.15 1.15 0 1 0 2.3 0a1.15 1.15 0 1 0 -2.3 0M579.85 124.69a1.15 1.15 0 1 0 2.3 0a1.15 1.15 0 1 0 -2.3 0M580.78 125.62a1.15 1.15 0 1 0 2.3 0a1.15 1.15 0 1 0 -2.3 0M581.72 126.56a1.15 1.15 0 1 0 2.3 0a1.15 1.15 0 1 0 -2.3 0M582.65 127.46a1.15 1.15 0 1 0 2.3 0a1.15 1.15 0 1 0 -2.3 0M583.58 128.45a1.15 1.15 0 1 0 2.3 0a1.15 1.15 0 1 0 -2.3 0M584.52 129.35a1.15 1.15 0 1 0 2.3 0a1.15 1.15 0 1 0 -2.3 0M585.45 130.27a1.15 1.15 0 1 0 2.3 0a1.15 1.15 0 1 0 -2.3 0M586.38 131.24a1.15 1.15 0 1 0 2.3 0a1.15 1.15 0 1 0 -2.3 0M587.32 132.15a1.15 1.15 0 1 0 2.3 0a1.15 1.15 0 1 0 -2.3 0M588.25 133.08a1.15 1.15 0 1 0 2.3 0a1.15 1.15 0 1 0 -2.3 0M589.18 134.03a1.15 1.15 0 1 0 2.3 0a1.15 1.15 0 1 0 -2.3 0M590.12 134.88a1.15 1.15 0 1 0 2.3 0a1.15 1.15 0 1 0 -2.3 0M591.05 135.88a1.15 1.15 0 1 0 2.3 0a1.15 1.15 0 1 0 -2.3 0M591.98 136.79a1.15 1.15 0 1 0 2.3 0a1.15 1.15 0 1 0 -2.3 0M592.92 137.81a1.15 1.15 0 1 0 2.3 0a1.15 1.15 0 1 0 -2.3 0M593.85 138.75a1.15 1.15 0 1 0 2.3 0a1.15 1.15 0 1 0 -2.3 0M594.78 139.56a1.15 1.15 0 1 0 2.3 0a1.15 1.15 0 1 0 -2.3 0M595.72 140.53a1.15 1.15 0 1 0 2.3 0a1.15 1.15 0 1 0 -2.3 0M596.65 141.38a1.15 1.15 0 1 0 2.3 0a1.15 1.15 0 1 0 -2.3 0M597.58 142.38a1.15 1.15 0 1 0 2.3 0a1.15 1.15 0 1 0 -2.3 0M598.52 143.41a1.15 1.15 0 1 0 2.3 0a1.15 1.15 0 1 0 -2.3 0M599.45 144.37a1.15 1.15 0 1 0 2.3 0a1.15 1.15 0 1 0 -2.3 0M600.38 145.19a1.15 1.15 0 1 0 2.3 0a1.15 1.15 0 1 0 -2.3 0M601.32 146.07a1.15 1.15 0 1 0 2.3 0a1.15 1.15 0 1 0 -2.3 0M602.25 146.96a1.15 1.15 0 1 0 2.3 0a1.15 1.15 0 1 0 -2.3 0M603.18 148.03a1.15 1.15 0 1 0 2.3 0a1.15 1.15 0 1 0 -2.3 0M604.12 149.08a1.15 1.15 0 1 0 2.3 0a1.15 1.15 0 1 0 -2.3 0M605.05 149.72a1.15 1.15 0 1 0 2.3 0a1.15 1.15 0 1 0 -2.3 0M605.98 150.9a1.15 1.15 0 1 0 2.3 0a1.15 1.15 0 1 0 -2.3 0M606.92 151.52a1.15 1.15 0 1 0 2.3 0a1.15 1.15 0 1 0 -2.3 0M607.85 152.52a1.15 1.15 0 1 0 2.3 0a1.15 1.15 0 1 0 -2.3 0M608.78 153.46a1.15 1.15 0 1 0 2.3 0a1.15 1.15 0 1 0 -2.3 0M609.72 154.61a1.15 1.15 0 1 0 2.3 0a1.15 1.15 0 1 0 -2.3 0M610.65 155.36a1.15 1.15 0 1 0 2.3 0a1.15 1.15 0 1 0 -2.3 0M611.58 156.31a1.15 1.15 0 1 0 2.3 0a1.15 1.15 0 1 0 -2.3 0M612.52 157.38a1.15 1.15 0 1 0 2.3 0a1.15 1.15 0 1 0 -2.3 0M613.45 158.02a1.15 1.15 0 1 0 2.3 0a1.15 1.15 0 1 0 -2.3 0M614.38 159.32a1.15 1.15 0 1 0 2.3 0a1.15 1.15 0 1 0 -2.3 0M615.32 159.88a1.15 1.15 0 1 0 2.3 0a1.15 1.15 0 1 0 -2.3 0M616.25 161.05a1.15 1.15 0 1 0 2.3 0a1.15 1.15 0 1 0 -2.3 0M617.18 161.81a1.15 1.15 0 1 0 2.3 0a1.15 1.15 0 1 0 -2.3 0M618.12 162.7a1.15 1.15 0 1 0 2.3 0a1.15 1.15 0 1 0 -2.3 0M619.05 163.86a1.15 1.15 0 1 0 2.3 0a1.15 1.15 0 1 0 -2.3 0M619.98 164.72a1.15 1.15 0 1 0 2.3 0a1.15 1.15 0 1 0 -2.3 0M620.92 165.61a1.15 1.15 0 1 0 2.3 0a1.15 1.15 0 1 0 -2.3 0M621.85 166.57a1.15 1.15 0 1 0 2.3 0a1.15 1.15 0 1 0 -2.3 0M622.78 167.59a1.15 1.15 0 1 0 2.3 0a1.15 1.15 0 1 0 -2.3 0M623.72 168.21a1.15 1.15 0 1 0 2.3 0a1.15 1.15 0 1 0 -2.3 0M624.65 169.17a1.15 1.15 0 1 0 2.3 0a1.15 1.15 0 1 0 -2.3 0M625.58 170.49a1.15 1.15 0 1 0 2.3 0a1.15 1.15 0 1 0 -2.3 0M626.52 171.43a1.15 1.15 0 1 0 2.3 0a1.15 1.15 0 1 0 -2.3 0M627.45 172.26a1.15 1.15 0 1 0 2.3 0a1.15 1.15 0 1 0 -2.3 0M628.38 173.52a1.15 1.15 0 1 0 2.3 0a1.15 1.15 0 1 0 -2.3 0M629.32 174.21a1.15 1.15 0 1 0 2.3 0a1.15 1.15 0 1 0 -2.3 0M630.25 175.41a1.15 1.15 0 1 0 2.3 0a1.15 1.15 0 1 0 -2.3 0M631.18 175.66a1.15 1.15 0 1 0 2.3 0a1.15 1.15 0 1 0 -2.3 0M632.12 177.17a1.15 1.15 0 1 0 2.3 0a1.15 1.15 0 1 0 -2.3 0M633.05 178.19a1.15 1.15 0 1 0 2.3 0a1.15 1.15 0 1 0 -2.3 0M633.98 179.24a1.15 1.15 0 1 0 2.3 0a1.15 1.15 0 1 0 -2.3 0M634.92 179.46a1.15 1.15 0 1 0 2.3 0a1.15 1.15 0 1 0 -2.3 0M635.85 180.38a1.15 1.15 0 1 0 2.3 0a1.15 1.15 0 1 0 -2.3 0M636.78 182.11a1.15 1.15 0 1 0 2.3 0a1.15 1.15 0 1 0 -2.3 0M637.72 182.1a1.15 1.15 0 1 0 2.3 0a1.15 1.15 0 1 0 -2.3 0M638.65 184.11a1.15 1.15 0 1 0 2.3 0a1.15 1.15 0 1 0 -2.3 0M639.58 184.9a1.15 1.15 0 1 0 2.3 0a1.15 1.15 0 1 0 -2.3 0M640.52 184.75a1.15 1.15 0 1 0 2.3 0a1.15 1.15 0 1 0 -2.3 0M641.45 185.82a1.15 1.15 0 1 0 2.3 0a1.15 1.15 0 1 0 -2.3 0M642.38 187.49a1.15 1.15 0 1 0 2.3 0a1.15 1.15 0 1 0 -2.3 0M643.32 187.7a1.15 1.15 0 1 0 2.3 0a1.15 1.15 0 1 0 -2.3 0M644.25 188.36a1.15 1.15 0 1 0 2.3 0a1.15 1.15 0 1 0 -2.3 0M645.18 190.49a1.15 1.15 0 1 0 2.3 0a1.15 1.15 0 1 0 -2.3 0M646.12 190.74a1.15 1.15 0 1 0 2.3 0a1.15 1.15 0 1 0 -2.3 0M647.05 192.31a1.15 1.15 0 1 0 2.3 0a1.15 1.15 0 1 0 -2.3 0M647.98 192.07a1.15 1.15 0 1 0 2.3 0a1.15 1.15 0 1 0 -2.3 0M648.92 193.49a1.15 1.15 0 1 0 2.3 0a1.15 1.15 0 1 0 -2.3 0M649.85 194.95a1.15 1.15 0 1 0 2.3 0a1.15 1.15 0 1 0 -2.3 0M650.78 194.61a1.15 1.15 0 1 0 2.3 0a1.15 1.15 0 1 0 -2.3 0M651.72 195.88a1.15 1.15 0 1 0 2.3 0a1.15 1.15 0 1 0 -2.3 0M652.65 197.76a1.15 1.15 0 1 0 2.3 0a1.15 1.15 0 1 0 -2.3 0" fill="none" stroke="#d43a3a" stroke-width="0.65"/>
<text x="569.5" y="207.4" font-size="8.4" text-anchor="middle">0</text>
<text x="602.3" y="207.4" font-size="8.4" text-anchor="middle">5</text>
<text x="634.7" y="207.4" font-size="8.4" text-anchor="middle">10</text>
<text x="614.2" y="220.2" font-size="8.7" text-anchor="middle" textLength="36.4" lengthAdjust="spacingAndGlyphs">Time (ns)</text>
<path d="M489.9 169.3C500 182 512 186 522 184.7C540 182 556 150 562.5 114" fill="none" stroke="#111" stroke-width="0.75"/>
<path d="M563.4 110.7L564.24 114.78L560.91 114.04Z" fill="#111"/>
<path d="M489.9 169.3C500 182 512 189.5 526 189.2C542 189 556 180 565.5 173" fill="none" stroke="#111" stroke-width="0.75"/>
<path d="M567.7 171.4L565.9 175.16L563.69 172.55Z" fill="#111"/>
<text x="504.2" y="202.2" font-size="8.8" text-anchor="middle" textLength="54.4" lengthAdjust="spacingAndGlyphs">Phasor-based</text>
<text x="504.3" y="212.8" font-size="8.8" text-anchor="middle" textLength="55.4" lengthAdjust="spacingAndGlyphs">blind unmixing</text>
<rect x="33.5" y="258.4" width="99.2" height="72.4" fill="#efefef"/>
<path d="M48.49 258.4V330.8M57.26 258.4V330.8M63.48 258.4V330.8M68.31 258.4V330.8M72.25 258.4V330.8M75.59 258.4V330.8M78.47 258.4V330.8M81.02 258.4V330.8M83.3 258.4V330.8M98.29 258.4V330.8M107.06 258.4V330.8M113.28 258.4V330.8M118.11 258.4V330.8M122.05 258.4V330.8M125.39 258.4V330.8M128.27 258.4V330.8M130.82 258.4V330.8M133.1 258.4V330.8M148.09 258.4V330.8M156.86 258.4V330.8M163.08 258.4V330.8M167.91 258.4V330.8M171.85 258.4V330.8M175.19 258.4V330.8M178.07 258.4V330.8M180.62 258.4V330.8" fill="none" stroke="#dedede" stroke-width="0.5"/>
<path d="M33.5 270.6H182.7M33.5 294.8H182.7" fill="none" stroke="#dedede" stroke-width="0.5"/>
<rect x="33.5" y="258.4" width="149.2" height="72.4" fill="none" stroke="#c4c4c4" stroke-width="0.7"/>
<line x1="33.5" y1="318.9" x2="182.7" y2="318.9" stroke="#555" stroke-width="0.9" stroke-dasharray="4 3"/>
<polyline points="48.5,268.9 57.4,284.8 63.5,293.6 68.4,299.3 72.3,304.3 75.5,306.1 80.7,309.3 83.3,311.1 87.1,311.8 90.8,313.2 93.5,314.4 96.1,314.9 100.3,316.4 103.2,316.4 106,316.6 108.8,316.8 112,317.6 116.6,317.75 121.2,317.91 125.8,318.06 130.4,318.21 135,318.37 139.6,318.52 144.2,318.67 148.8,318.8 153.4,318.8 158,318.8 162.6,318.8 167.2,318.8 171.8,318.8 176.4,318.8 181,318.8" fill="none" stroke="#d42020" stroke-width="0.7" />
<path d="M46.95 268.9a1.55 1.55 0 1 0 3.1 0a1.55 1.55 0 1 0 -3.1 0M55.85 284.8a1.55 1.55 0 1 0 3.1 0a1.55 1.55 0 1 0 -3.1 0M61.95 293.6a1.55 1.55 0 1 0 3.1 0a1.55 1.55 0 1 0 -3.1 0M66.85 299.3a1.55 1.55 0 1 0 3.1 0a1.55 1.55 0 1 0 -3.1 0M70.75 304.3a1.55 1.55 0 1 0 3.1 0a1.55 1.55 0 1 0 -3.1 0M73.95 306.1a1.55 1.55 0 1 0 3.1 0a1.55 1.55 0 1 0 -3.1 0M79.15 309.3a1.55 1.55 0 1 0 3.1 0a1.55 1.55 0 1 0 -3.1 0M81.75 311.1a1.55 1.55 0 1 0 3.1 0a1.55 1.55 0 1 0 -3.1 0M85.55 311.8a1.55 1.55 0 1 0 3.1 0a1.55 1.55 0 1 0 -3.1 0M89.25 313.2a1.55 1.55 0 1 0 3.1 0a1.55 1.55 0 1 0 -3.1 0M91.95 314.4a1.55 1.55 0 1 0 3.1 0a1.55 1.55 0 1 0 -3.1 0M94.55 314.9a1.55 1.55 0 1 0 3.1 0a1.55 1.55 0 1 0 -3.1 0M98.75 316.4a1.55 1.55 0 1 0 3.1 0a1.55 1.55 0 1 0 -3.1 0M101.65 316.4a1.55 1.55 0 1 0 3.1 0a1.55 1.55 0 1 0 -3.1 0M104.45 316.6a1.55 1.55 0 1 0 3.1 0a1.55 1.55 0 1 0 -3.1 0M107.25 316.8a1.55 1.55 0 1 0 3.1 0a1.55 1.55 0 1 0 -3.1 0M110.45 317.6a1.55 1.55 0 1 0 3.1 0a1.55 1.55 0 1 0 -3.1 0M115.05 317.75a1.55 1.55 0 1 0 3.1 0a1.55 1.55 0 1 0 -3.1 0M119.65 317.91a1.55 1.55 0 1 0 3.1 0a1.55 1.55 0 1 0 -3.1 0M124.25 318.06a1.55 1.55 0 1 0 3.1 0a1.55 1.55 0 1 0 -3.1 0M128.85 318.21a1.55 1.55 0 1 0 3.1 0a1.55 1.55 0 1 0 -3.1 0M133.45 318.37a1.55 1.55 0 1 0 3.1 0a1.55 1.55 0 1 0 -3.1 0M138.05 318.52a1.55 1.55 0 1 0 3.1 0a1.55 1.55 0 1 0 -3.1 0M142.65 318.67a1.55 1.55 0 1 0 3.1 0a1.55 1.55 0 1 0 -3.1 0M147.25 318.8a1.55 1.55 0 1 0 3.1 0a1.55 1.55 0 1 0 -3.1 0M151.85 318.8a1.55 1.55 0 1 0 3.1 0a1.55 1.55 0 1 0 -3.1 0M156.45 318.8a1.55 1.55 0 1 0 3.1 0a1.55 1.55 0 1 0 -3.1 0M161.05 318.8a1.55 1.55 0 1 0 3.1 0a1.55 1.55 0 1 0 -3.1 0M165.65 318.8a1.55 1.55 0 1 0 3.1 0a1.55 1.55 0 1 0 -3.1 0M170.25 318.8a1.55 1.55 0 1 0 3.1 0a1.55 1.55 0 1 0 -3.1 0M174.85 318.8a1.55 1.55 0 1 0 3.1 0a1.55 1.55 0 1 0 -3.1 0M179.45 318.8a1.55 1.55 0 1 0 3.1 0a1.55 1.55 0 1 0 -3.1 0" fill="#d42020"/>
<polyline points="48.5,312.5 57.4,312.8 63.5,315.4 68.4,315.4 72.3,316.5 75.5,317.1 80.7,317.9 83.3,317.9 87.1,317.2 90.8,317.6 93.5,317.9 96.1,318.2 100.3,318.3 103.2,318.4 106,318.5 108.8,318.6 112,318.8 116.6,318.8 121.2,318.8 125.8,318.8 130.4,318.8 135,318.8 139.6,318.8 144.2,318.8 148.8,318.8 153.4,318.8 158,318.8 162.6,318.8 167.2,318.8 171.8,318.8 176.4,318.8 181,318.8" fill="none" stroke="#2424d8" stroke-width="0.7" />
<path d="M46.95 312.5a1.55 1.55 0 1 0 3.1 0a1.55 1.55 0 1 0 -3.1 0M55.85 312.8a1.55 1.55 0 1 0 3.1 0a1.55 1.55 0 1 0 -3.1 0M61.95 315.4a1.55 1.55 0 1 0 3.1 0a1.55 1.55 0 1 0 -3.1 0M66.85 315.4a1.55 1.55 0 1 0 3.1 0a1.55 1.55 0 1 0 -3.1 0M70.75 316.5a1.55 1.55 0 1 0 3.1 0a1.55 1.55 0 1 0 -3.1 0M73.95 317.1a1.55 1.55 0 1 0 3.1 0a1.55 1.55 0 1 0 -3.1 0M79.15 317.9a1.55 1.55 0 1 0 3.1 0a1.55 1.55 0 1 0 -3.1 0M81.75 317.9a1.55 1.55 0 1 0 3.1 0a1.55 1.55 0 1 0 -3.1 0M85.55 317.2a1.55 1.55 0 1 0 3.1 0a1.55 1.55 0 1 0 -3.1 0M89.25 317.6a1.55 1.55 0 1 0 3.1 0a1.55 1.55 0 1 0 -3.1 0M91.95 317.9a1.55 1.55 0 1 0 3.1 0a1.55 1.55 0 1 0 -3.1 0M94.55 318.2a1.55 1.55 0 1 0 3.1 0a1.55 1.55 0 1 0 -3.1 0M98.75 318.3a1.55 1.55 0 1 0 3.1 0a1.55 1.55 0 1 0 -3.1 0M101.65 318.4a1.55 1.55 0 1 0 3.1 0a1.55 1.55 0 1 0 -3.1 0M104.45 318.5a1.55 1.55 0 1 0 3.1 0a1.55 1.55 0 1 0 -3.1 0M107.25 318.6a1.55 1.55 0 1 0 3.1 0a1.55 1.55 0 1 0 -3.1 0M110.45 318.8a1.55 1.55 0 1 0 3.1 0a1.55 1.55 0 1 0 -3.1 0M115.05 318.8a1.55 1.55 0 1 0 3.1 0a1.55 1.55 0 1 0 -3.1 0M119.65 318.8a1.55 1.55 0 1 0 3.1 0a1.55 1.55 0 1 0 -3.1 0M124.25 318.8a1.55 1.55 0 1 0 3.1 0a1.55 1.55 0 1 0 -3.1 0M128.85 318.8a1.55 1.55 0 1 0 3.1 0a1.55 1.55 0 1 0 -3.1 0M133.45 318.8a1.55 1.55 0 1 0 3.1 0a1.55 1.55 0 1 0 -3.1 0M138.05 318.8a1.55 1.55 0 1 0 3.1 0a1.55 1.55 0 1 0 -3.1 0M142.65 318.8a1.55 1.55 0 1 0 3.1 0a1.55 1.55 0 1 0 -3.1 0M147.25 318.8a1.55 1.55 0 1 0 3.1 0a1.55 1.55 0 1 0 -3.1 0M151.85 318.8a1.55 1.55 0 1 0 3.1 0a1.55 1.55 0 1 0 -3.1 0M156.45 318.8a1.55 1.55 0 1 0 3.1 0a1.55 1.55 0 1 0 -3.1 0M161.05 318.8a1.55 1.55 0 1 0 3.1 0a1.55 1.55 0 1 0 -3.1 0M165.65 318.8a1.55 1.55 0 1 0 3.1 0a1.55 1.55 0 1 0 -3.1 0M170.25 318.8a1.55 1.55 0 1 0 3.1 0a1.55 1.55 0 1 0 -3.1 0M174.85 318.8a1.55 1.55 0 1 0 3.1 0a1.55 1.55 0 1 0 -3.1 0M179.45 318.8a1.55 1.55 0 1 0 3.1 0a1.55 1.55 0 1 0 -3.1 0" fill="#2424d8"/>
<rect x="133.3" y="262.4" width="44.5" height="18.3" fill="#fff" stroke="#bbb" stroke-width="0.5"/>
<line x1="135.5" y1="267.6" x2="153.5" y2="267.6" stroke="#d42020" stroke-width="0.7" />
<path d="M143.3 267.6a1.4 1.4 0 1 0 2.8 0a1.4 1.4 0 1 0 -2.8 0" fill="#d42020"/>
<line x1="135.5" y1="276" x2="153.5" y2="276" stroke="#7070e8" stroke-width="0.7" />
<path d="M143.3 276a1.4 1.4 0 1 0 2.8 0a1.4 1.4 0 1 0 -2.8 0" fill="#2424d8"/>
<text x="155.8" y="270.2" font-size="7.2" textLength="19.5" lengthAdjust="spacingAndGlyphs">Fitting</text>
<text x="155.8" y="279" font-size="7.2" textLength="19.8" lengthAdjust="spacingAndGlyphs">Phasor</text>
<text x="30" y="273.2" font-size="8.8" text-anchor="end">0.2</text>
<text x="30" y="297.4" font-size="8.8" text-anchor="end">0.1</text>
<text x="30" y="321.5" font-size="8.8" text-anchor="end">0</text>
<text x="108.2" y="255.8" font-size="8.8" text-anchor="middle">Bias</text>
<text transform="translate(7.6 294.3) rotate(-90)" font-size="8.8" text-anchor="middle" >&#916;<tspan font-style="italic" font-family="Liberation Serif">&#964;</tspan> (ns)</text>
<text x="-0.3" y="247.8" font-size="10.4" fill="#111" font-weight="bold">b</text>
<rect x="33.5" y="342.4" width="99.2" height="71.9" fill="#efefef"/>
<path d="M48.49 342.4V414.3M57.26 342.4V414.3M63.48 342.4V414.3M68.31 342.4V414.3M72.25 342.4V414.3M75.59 342.4V414.3M78.47 342.4V414.3M81.02 342.4V414.3M83.3 342.4V414.3M98.29 342.4V414.3M107.06 342.4V414.3M113.28 342.4V414.3M118.11 342.4V414.3M122.05 342.4V414.3M125.39 342.4V414.3M128.27 342.4V414.3M130.82 342.4V414.3M133.1 342.4V414.3M148.09 342.4V414.3M156.86 342.4V414.3M163.08 342.4V414.3M167.91 342.4V414.3M171.85 342.4V414.3M175.19 342.4V414.3M178.07 342.4V414.3M180.62 342.4V414.3M33.5 403.65H182.7M33.5 397.37H182.7M33.5 392.91H182.7M33.5 389.45H182.7M33.5 386.62H182.7M33.5 384.23H182.7M33.5 382.16H182.7M33.5 380.33H182.7M33.5 378.7H182.7M33.5 367.95H182.7M33.5 361.67H182.7M33.5 357.21H182.7M33.5 353.75H182.7M33.5 350.92H182.7M33.5 348.53H182.7M33.5 346.46H182.7M33.5 344.63H182.7" fill="none" stroke="#dedede" stroke-width="0.5"/>
<rect x="33.5" y="342.4" width="149.2" height="71.9" fill="none" stroke="#c4c4c4" stroke-width="0.7"/>
<polyline points="48.5,349.1 57.4,352.37 63.5,354.61 68.4,356.41 72.3,357.84 75.5,359.02 80.7,360.93 83.3,361.88 87.1,363.28 90.8,364.64 93.5,365.63 96.1,366.58 100.3,368.13 103.2,369.19 106,370.22 108.8,371.25 112,372.42 116.6,374.11 121.2,375.8 125.8,377.49 130.4,379.18 135,380.87 139.6,382.56 144.2,384.25 148.8,385.94 153.4,387.63 158,389.32 162.6,391.01 167.2,392.7 171.8,394.39 176.4,396.08 181,397.77" fill="none" stroke="#d42020" stroke-width="0.7" />
<path d="M46.95 349.1a1.55 1.55 0 1 0 3.1 0a1.55 1.55 0 1 0 -3.1 0M55.85 352.37a1.55 1.55 0 1 0 3.1 0a1.55 1.55 0 1 0 -3.1 0M61.95 354.61a1.55 1.55 0 1 0 3.1 0a1.55 1.55 0 1 0 -3.1 0M66.85 356.41a1.55 1.55 0 1 0 3.1 0a1.55 1.55 0 1 0 -3.1 0M70.75 357.84a1.55 1.55 0 1 0 3.1 0a1.55 1.55 0 1 0 -3.1 0M73.95 359.02a1.55 1.55 0 1 0 3.1 0a1.55 1.55 0 1 0 -3.1 0M79.15 360.93a1.55 1.55 0 1 0 3.1 0a1.55 1.55 0 1 0 -3.1 0M81.75 361.88a1.55 1.55 0 1 0 3.1 0a1.55 1.55 0 1 0 -3.1 0M85.55 363.28a1.55 1.55 0 1 0 3.1 0a1.55 1.55 0 1 0 -3.1 0M89.25 364.64a1.55 1.55 0 1 0 3.1 0a1.55 1.55 0 1 0 -3.1 0M91.95 365.63a1.55 1.55 0 1 0 3.1 0a1.55 1.55 0 1 0 -3.1 0M94.55 366.58a1.55 1.55 0 1 0 3.1 0a1.55 1.55 0 1 0 -3.1 0M98.75 368.13a1.55 1.55 0 1 0 3.1 0a1.55 1.55 0 1 0 -3.1 0M101.65 369.19a1.55 1.55 0 1 0 3.1 0a1.55 1.55 0 1 0 -3.1 0M104.45 370.22a1.55 1.55 0 1 0 3.1 0a1.55 1.55 0 1 0 -3.1 0M107.25 371.25a1.55 1.55 0 1 0 3.1 0a1.55 1.55 0 1 0 -3.1 0M110.45 372.42a1.55 1.55 0 1 0 3.1 0a1.55 1.55 0 1 0 -3.1 0M115.05 374.11a1.55 1.55 0 1 0 3.1 0a1.55 1.55 0 1 0 -3.1 0M119.65 375.8a1.55 1.55 0 1 0 3.1 0a1.55 1.55 0 1 0 -3.1 0M124.25 377.49a1.55 1.55 0 1 0 3.1 0a1.55 1.55 0 1 0 -3.1 0M128.85 379.18a1.55 1.55 0 1 0 3.1 0a1.55 1.55 0 1 0 -3.1 0M133.45 380.87a1.55 1.55 0 1 0 3.1 0a1.55 1.55 0 1 0 -3.1 0M138.05 382.56a1.55 1.55 0 1 0 3.1 0a1.55 1.55 0 1 0 -3.1 0M142.65 384.25a1.55 1.55 0 1 0 3.1 0a1.55 1.55 0 1 0 -3.1 0M147.25 385.94a1.55 1.55 0 1 0 3.1 0a1.55 1.55 0 1 0 -3.1 0M151.85 387.63a1.55 1.55 0 1 0 3.1 0a1.55 1.55 0 1 0 -3.1 0M156.45 389.32a1.55 1.55 0 1 0 3.1 0a1.55 1.55 0 1 0 -3.1 0M161.05 391.01a1.55 1.55 0 1 0 3.1 0a1.55 1.55 0 1 0 -3.1 0M165.65 392.7a1.55 1.55 0 1 0 3.1 0a1.55 1.55 0 1 0 -3.1 0M170.25 394.39a1.55 1.55 0 1 0 3.1 0a1.55 1.55 0 1 0 -3.1 0M174.85 396.08a1.55 1.55 0 1 0 3.1 0a1.55 1.55 0 1 0 -3.1 0M179.45 397.77a1.55 1.55 0 1 0 3.1 0a1.55 1.55 0 1 0 -3.1 0" fill="#d42020"/>
<polyline points="48.5,361.1 57.4,363.85 63.5,365.73 68.4,367.24 72.3,368.44 75.5,369.43 80.7,371.04 83.3,371.84 87.1,373.01 90.8,374.15 93.5,374.98 96.1,375.79 100.3,377.08 103.2,377.98 106,378.84 108.8,379.71 112,380.69 116.6,382.11 121.2,383.53 125.8,384.95 130.4,386.37 135,387.79 139.6,389.21 144.2,390.63 148.8,392.05 153.4,393.47 158,394.89 162.6,396.31 167.2,397.72 171.8,399.14 176.4,400.56 181,401.98" fill="none" stroke="#2424d8" stroke-width="0.7" />
<path d="M46.95 361.1a1.55 1.55 0 1 0 3.1 0a1.55 1.55 0 1 0 -3.1 0M55.85 363.85a1.55 1.55 0 1 0 3.1 0a1.55 1.55 0 1 0 -3.1 0M61.95 365.73a1.55 1.55 0 1 0 3.1 0a1.55 1.55 0 1 0 -3.1 0M66.85 367.24a1.55 1.55 0 1 0 3.1 0a1.55 1.55 0 1 0 -3.1 0M70.75 368.44a1.55 1.55 0 1 0 3.1 0a1.55 1.55 0 1 0 -3.1 0M73.95 369.43a1.55 1.55 0 1 0 3.1 0a1.55 1.55 0 1 0 -3.1 0M79.15 371.04a1.55 1.55 0 1 0 3.1 0a1.55 1.55 0 1 0 -3.1 0M81.75 371.84a1.55 1.55 0 1 0 3.1 0a1.55 1.55 0 1 0 -3.1 0M85.55 373.01a1.55 1.55 0 1 0 3.1 0a1.55 1.55 0 1 0 -3.1 0M89.25 374.15a1.55 1.55 0 1 0 3.1 0a1.55 1.55 0 1 0 -3.1 0M91.95 374.98a1.55 1.55 0 1 0 3.1 0a1.55 1.55 0 1 0 -3.1 0M94.55 375.79a1.55 1.55 0 1 0 3.1 0a1.55 1.55 0 1 0 -3.1 0M98.75 377.08a1.55 1.55 0 1 0 3.1 0a1.55 1.55 0 1 0 -3.1 0M101.65 377.98a1.55 1.55 0 1 0 3.1 0a1.55 1.55 0 1 0 -3.1 0M104.45 378.84a1.55 1.55 0 1 0 3.1 0a1.55 1.55 0 1 0 -3.1 0M107.25 379.71a1.55 1.55 0 1 0 3.1 0a1.55 1.55 0 1 0 -3.1 0M110.45 380.69a1.55 1.55 0 1 0 3.1 0a1.55 1.55 0 1 0 -3.1 0M115.05 382.11a1.55 1.55 0 1 0 3.1 0a1.55 1.55 0 1 0 -3.1 0M119.65 383.53a1.55 1.55 0 1 0 3.1 0a1.55 1.55 0 1 0 -3.1 0M124.25 384.95a1.55 1.55 0 1 0 3.1 0a1.55 1.55 0 1 0 -3.1 0M128.85 386.37a1.55 1.55 0 1 0 3.1 0a1.55 1.55 0 1 0 -3.1 0M133.45 387.79a1.55 1.55 0 1 0 3.1 0a1.55 1.55 0 1 0 -3.1 0M138.05 389.21a1.55 1.55 0 1 0 3.1 0a1.55 1.55 0 1 0 -3.1 0M142.65 390.63a1.55 1.55 0 1 0 3.1 0a1.55 1.55 0 1 0 -3.1 0M147.25 392.05a1.55 1.55 0 1 0 3.1 0a1.55 1.55 0 1 0 -3.1 0M151.85 393.47a1.55 1.55 0 1 0 3.1 0a1.55 1.55 0 1 0 -3.1 0M156.45 394.89a1.55 1.55 0 1 0 3.1 0a1.55 1.55 0 1 0 -3.1 0M161.05 396.31a1.55 1.55 0 1 0 3.1 0a1.55 1.55 0 1 0 -3.1 0M165.65 397.72a1.55 1.55 0 1 0 3.1 0a1.55 1.55 0 1 0 -3.1 0M170.25 399.14a1.55 1.55 0 1 0 3.1 0a1.55 1.55 0 1 0 -3.1 0M174.85 400.56a1.55 1.55 0 1 0 3.1 0a1.55 1.55 0 1 0 -3.1 0M179.45 401.98a1.55 1.55 0 1 0 3.1 0a1.55 1.55 0 1 0 -3.1 0" fill="#2424d8"/>
<line x1="48.7" y1="353.5" x2="80" y2="364.5" stroke="#2424d8" stroke-width="0.9" stroke-dasharray="3.5 2.5"/>
<text x="30.5" y="346.3" font-size="8.8" text-anchor="end">10<tspan font-size="6.34" dy="-3.6">0</tspan></text>
<text x="30.5" y="381.9" font-size="8.8" text-anchor="end">10<tspan font-size="6.34" dy="-3.6">&#8722;1</tspan></text>
<text x="30.5" y="417.5" font-size="8.8" text-anchor="end">10<tspan font-size="6.34" dy="-3.6">&#8722;2</tspan></text>
<text x="34.7" y="426.3" font-size="8.8" text-anchor="middle">10<tspan font-size="6.34" dy="-3.6">0</tspan></text>
<text x="83.8" y="426.3" font-size="8.8" text-anchor="middle">10<tspan font-size="6.34" dy="-3.6">1</tspan></text>
<text x="133.6" y="426.3" font-size="8.8" text-anchor="middle">10<tspan font-size="6.34" dy="-3.6">2</tspan></text>
<text x="183" y="426.3" font-size="8.8" text-anchor="middle">10<tspan font-size="6.34" dy="-3.6">3</tspan></text>
<text x="108.4" y="339.3" font-size="8.8" text-anchor="middle">Precision</text>
<text transform="translate(8.2 378) rotate(-90)" font-size="8.8" text-anchor="middle" ><tspan font-style="italic" font-family="Liberation Serif">&#963;</tspan> (ns)</text>
<text x="4.6" y="338.5" font-size="10.4" fill="#111" font-weight="bold">c</text>
<text x="95.8" y="440.6" font-size="9.2" font-style="italic">N<tspan font-style="normal" font-size="6.4" dy="2">photons</tspan></text>
<rect x="152.2" y="461.8" width="30.5" height="72.5" fill="#e8e8e8"/>
<path d="M40.98 461.8V534.3M45.36 461.8V534.3M48.46 461.8V534.3M50.87 461.8V534.3M52.84 461.8V534.3M54.5 461.8V534.3M55.94 461.8V534.3M57.21 461.8V534.3M58.35 461.8V534.3M65.83 461.8V534.3M70.21 461.8V534.3M73.31 461.8V534.3M75.72 461.8V534.3M77.69 461.8V534.3M79.35 461.8V534.3M80.79 461.8V534.3M82.06 461.8V534.3M83.2 461.8V534.3M90.68 461.8V534.3M95.06 461.8V534.3M98.16 461.8V534.3M100.57 461.8V534.3M102.54 461.8V534.3M104.2 461.8V534.3M105.64 461.8V534.3M106.91 461.8V534.3M108.05 461.8V534.3M115.53 461.8V534.3M119.91 461.8V534.3M123.01 461.8V534.3M125.42 461.8V534.3M127.39 461.8V534.3M129.05 461.8V534.3M130.49 461.8V534.3M131.76 461.8V534.3M132.9 461.8V534.3M140.38 461.8V534.3M144.76 461.8V534.3M147.86 461.8V534.3M150.27 461.8V534.3M152.24 461.8V534.3M153.9 461.8V534.3M155.34 461.8V534.3M156.61 461.8V534.3M157.75 461.8V534.3M165.23 461.8V534.3M169.61 461.8V534.3M172.71 461.8V534.3M175.12 461.8V534.3M177.09 461.8V534.3M178.75 461.8V534.3M180.19 461.8V534.3M181.46 461.8V534.3M33.5 533.4H182.7M33.5 522.04H182.7M33.5 510.68H182.7M33.5 499.32H182.7M33.5 487.96H182.7M33.5 476.6H182.7M33.5 465.24H182.7" fill="none" stroke="#dedede" stroke-width="0.5"/>
<rect x="33.5" y="461.8" width="149.2" height="72.5" fill="none" stroke="#c4c4c4" stroke-width="0.7"/>
<polyline points="33.7,505.2 41.2,502.8 45.2,500.2 48.8,499.6 53.2,497.8 58.6,495.4 63.9,493.2 68.9,491.2 73.9,488.8 78.7,486.1 83.3,484.5 88.4,482.1 93.4,479.7 98.4,477.3 103.2,474.9 108.1,472.5" fill="none" stroke="#d42020" stroke-width="0.7" />
<path d="M32.15 505.2a1.55 1.55 0 1 0 3.1 0a1.55 1.55 0 1 0 -3.1 0M39.65 502.8a1.55 1.55 0 1 0 3.1 0a1.55 1.55 0 1 0 -3.1 0M43.65 500.2a1.55 1.55 0 1 0 3.1 0a1.55 1.55 0 1 0 -3.1 0M47.25 499.6a1.55 1.55 0 1 0 3.1 0a1.55 1.55 0 1 0 -3.1 0M51.65 497.8a1.55 1.55 0 1 0 3.1 0a1.55 1.55 0 1 0 -3.1 0M57.05 495.4a1.55 1.55 0 1 0 3.1 0a1.55 1.55 0 1 0 -3.1 0M62.35 493.2a1.55 1.55 0 1 0 3.1 0a1.55 1.55 0 1 0 -3.1 0M67.35 491.2a1.55 1.55 0 1 0 3.1 0a1.55 1.55 0 1 0 -3.1 0M72.35 488.8a1.55 1.55 0 1 0 3.1 0a1.55 1.55 0 1 0 -3.1 0M77.15 486.1a1.55 1.55 0 1 0 3.1 0a1.55 1.55 0 1 0 -3.1 0M81.75 484.5a1.55 1.55 0 1 0 3.1 0a1.55 1.55 0 1 0 -3.1 0M86.85 482.1a1.55 1.55 0 1 0 3.1 0a1.55 1.55 0 1 0 -3.1 0M91.85 479.7a1.55 1.55 0 1 0 3.1 0a1.55 1.55 0 1 0 -3.1 0M96.85 477.3a1.55 1.55 0 1 0 3.1 0a1.55 1.55 0 1 0 -3.1 0M101.65 474.9a1.55 1.55 0 1 0 3.1 0a1.55 1.55 0 1 0 -3.1 0M106.55 472.5a1.55 1.55 0 1 0 3.1 0a1.55 1.55 0 1 0 -3.1 0" fill="#d42020"/>
<polyline points="33.7,528.9 41.2,527.3 45.2,526.3 48.8,525.9 52.6,525.3 58.6,521.9 63.9,520.7 68.9,519.9 73.9,519.3 78.7,515.9 83.3,515.9 88.4,514.7 93.2,515.4 98,512.7 103,510.2 108,508.2 113.1,506.6 118.1,504.2 123.1,501.8 127.8,499.8 132.8,497.8 137.8,495.8 142.6,493.2 147.8,490.8 152.2,488.8 157.3,486.5 162.3,484.1 167.3,481.7 172.3,479.7 177.3,477.1 182.8,474.7" fill="none" stroke="#2424d8" stroke-width="0.7" />
<path d="M32.15 528.9a1.55 1.55 0 1 0 3.1 0a1.55 1.55 0 1 0 -3.1 0M39.65 527.3a1.55 1.55 0 1 0 3.1 0a1.55 1.55 0 1 0 -3.1 0M43.65 526.3a1.55 1.55 0 1 0 3.1 0a1.55 1.55 0 1 0 -3.1 0M47.25 525.9a1.55 1.55 0 1 0 3.1 0a1.55 1.55 0 1 0 -3.1 0M51.05 525.3a1.55 1.55 0 1 0 3.1 0a1.55 1.55 0 1 0 -3.1 0M57.05 521.9a1.55 1.55 0 1 0 3.1 0a1.55 1.55 0 1 0 -3.1 0M62.35 520.7a1.55 1.55 0 1 0 3.1 0a1.55 1.55 0 1 0 -3.1 0M67.35 519.9a1.55 1.55 0 1 0 3.1 0a1.55 1.55 0 1 0 -3.1 0M72.35 519.3a1.55 1.55 0 1 0 3.1 0a1.55 1.55 0 1 0 -3.1 0M77.15 515.9a1.55 1.55 0 1 0 3.1 0a1.55 1.55 0 1 0 -3.1 0M81.75 515.9a1.55 1.55 0 1 0 3.1 0a1.55 1.55 0 1 0 -3.1 0M86.85 514.7a1.55 1.55 0 1 0 3.1 0a1.55 1.55 0 1 0 -3.1 0M91.65 515.4a1.55 1.55 0 1 0 3.1 0a1.55 1.55 0 1 0 -3.1 0M96.45 512.7a1.55 1.55 0 1 0 3.1 0a1.55 1.55 0 1 0 -3.1 0M101.45 510.2a1.55 1.55 0 1 0 3.1 0a1.55 1.55 0 1 0 -3.1 0M106.45 508.2a1.55 1.55 0 1 0 3.1 0a1.55 1.55 0 1 0 -3.1 0M111.55 506.6a1.55 1.55 0 1 0 3.1 0a1.55 1.55 0 1 0 -3.1 0M116.55 504.2a1.55 1.55 0 1 0 3.1 0a1.55 1.55 0 1 0 -3.1 0M121.55 501.8a1.55 1.55 0 1 0 3.1 0a1.55 1.55 0 1 0 -3.1 0M126.25 499.8a1.55 1.55 0 1 0 3.1 0a1.55 1.55 0 1 0 -3.1 0M131.25 497.8a1.55 1.55 0 1 0 3.1 0a1.55 1.55 0 1 0 -3.1 0M136.25 495.8a1.55 1.55 0 1 0 3.1 0a1.55 1.55 0 1 0 -3.1 0M141.05 493.2a1.55 1.55 0 1 0 3.1 0a1.55 1.55 0 1 0 -3.1 0M146.25 490.8a1.55 1.55 0 1 0 3.1 0a1.55 1.55 0 1 0 -3.1 0M150.65 488.8a1.55 1.55 0 1 0 3.1 0a1.55 1.55 0 1 0 -3.1 0M155.75 486.5a1.55 1.55 0 1 0 3.1 0a1.55 1.55 0 1 0 -3.1 0M160.75 484.1a1.55 1.55 0 1 0 3.1 0a1.55 1.55 0 1 0 -3.1 0M165.75 481.7a1.55 1.55 0 1 0 3.1 0a1.55 1.55 0 1 0 -3.1 0M170.75 479.7a1.55 1.55 0 1 0 3.1 0a1.55 1.55 0 1 0 -3.1 0M175.75 477.1a1.55 1.55 0 1 0 3.1 0a1.55 1.55 0 1 0 -3.1 0M181.25 474.7a1.55 1.55 0 1 0 3.1 0a1.55 1.55 0 1 0 -3.1 0" fill="#2424d8"/>
<text x="30.5" y="480.3" font-size="8.8" text-anchor="end">10<tspan font-size="6.34" dy="-3.6">0</tspan></text>
<text x="30.5" y="537.1" font-size="8.8" text-anchor="end">10<tspan font-size="6.34" dy="-3.6">&#8722;5</tspan></text>
<text x="34.5" y="546.6" font-size="8.8" text-anchor="middle">10<tspan font-size="6.34" dy="-3.6">0</tspan></text>
<text x="59.35" y="546.6" font-size="8.8" text-anchor="middle">10<tspan font-size="6.34" dy="-3.6">1</tspan></text>
<text x="84.2" y="546.6" font-size="8.8" text-anchor="middle">10<tspan font-size="6.34" dy="-3.6">2</tspan></text>
<text x="109.05" y="546.6" font-size="8.8" text-anchor="middle">10<tspan font-size="6.34" dy="-3.6">3</tspan></text>
<text x="133.9" y="546.6" font-size="8.8" text-anchor="middle">10<tspan font-size="6.34" dy="-3.6">4</tspan></text>
<text x="158.75" y="546.6" font-size="8.8" text-anchor="middle">10<tspan font-size="6.34" dy="-3.6">5</tspan></text>
<text x="183.6" y="546.6" font-size="8.8" text-anchor="middle">10<tspan font-size="6.34" dy="-3.6">6</tspan></text>
<text x="108" y="460" font-size="8.8" text-anchor="middle">Time</text>
<text transform="translate(12.2 497) rotate(-90)" font-size="8.8" text-anchor="middle" ><tspan font-style="italic">t</tspan><tspan font-size="6" dy="2">exe</tspan><tspan dy="-2"> (s)</tspan></text>
<text x="-0.3" y="456.7" font-size="10.4" fill="#111" font-weight="bold">d</text>
<text x="95.6" y="560.4" font-size="9.2" font-style="italic">N<tspan font-style="normal" font-size="6.4" dy="2">iterations</tspan></text>
<path shape-rendering="crispEdges" fill="#2c459d" d="M351.59 316.88h2.36v2.37h-2.36zM335.48 326.97h2.36v2.37h-2.36zM345.54 326.97h2.36v2.37h-2.36z"/>
<path shape-rendering="crispEdges" fill="#2e4aa0" d="M311.31 304.78h2.36v2.37h-2.36zM301.24 316.88h2.36v2.37h-2.36zM319.36 322.93h2.36v2.37h-2.36z"/>
<path shape-rendering="crispEdges" fill="#3050a4" d="M317.35 320.92h2.36v2.37h-2.36zM303.25 322.93h2.36v2.37h-2.36zM321.38 322.93h2.36v2.37h-2.36zM345.54 322.93h2.36v2.37h-2.36zM321.38 326.97h2.36v2.37h-2.36z"/>
<path shape-rendering="crispEdges" fill="#3458a8" d="M331.45 290.67h2.36v2.37h-2.36zM299.23 294.7h2.36v2.37h-2.36zM311.31 300.75h2.36v2.37h-2.36zM295.2 304.78h2.36v2.37h-2.36zM333.46 304.78h2.36v2.37h-2.36zM339.5 304.78h2.36v2.37h-2.36zM345.54 312.85h2.36v2.37h-2.36zM297.21 314.87h2.36v2.37h-2.36zM305.27 314.87h2.36v2.37h-2.36zM349.57 314.87h2.36v2.37h-2.36zM311.31 316.88h2.36v2.37h-2.36zM329.43 316.88h2.36v2.37h-2.36zM333.46 316.88h4.38v2.37h-4.38zM321.38 318.9h2.36v2.37h-2.36zM351.59 318.9h2.36v2.37h-2.36zM307.28 320.92h2.36v2.37h-2.36zM325.41 320.92h2.36v2.37h-2.36zM345.54 320.92h2.36v2.37h-2.36zM351.59 320.92h2.36v2.37h-2.36zM305.27 322.93h2.36v2.37h-2.36zM335.48 322.93h2.36v2.37h-2.36zM349.57 322.93h2.36v2.37h-2.36zM295.2 326.97h2.36v2.37h-2.36zM311.31 326.97h4.38v2.37h-4.38zM323.39 326.97h2.36v2.37h-2.36zM333.46 326.97h2.36v2.37h-2.36zM343.53 326.97h2.36v2.37h-2.36zM349.57 326.97h2.36v2.37h-2.36zM321.38 328.98h2.36v2.37h-2.36z"/>
<path shape-rendering="crispEdges" fill="#3860ad" d="M307.28 284.62h2.36v2.37h-2.36zM317.35 284.62h4.38v2.37h-4.38zM305.27 286.63h2.36v2.37h-2.36zM331.45 286.63h2.36v2.37h-2.36zM323.39 290.67h2.36v2.37h-2.36zM319.36 292.68h2.36v2.37h-2.36zM323.39 292.68h2.36v2.37h-2.36zM335.48 292.68h2.36v2.37h-2.36zM343.53 292.68h2.36v2.37h-2.36zM297.21 294.7h2.36v2.37h-2.36zM307.28 294.7h2.36v2.37h-2.36zM349.57 294.7h2.36v2.37h-2.36zM319.36 296.72h2.36v2.37h-2.36zM311.31 298.73h2.36v2.37h-2.36zM293.18 304.78h2.36v2.37h-2.36zM299.23 304.78h4.38v2.37h-4.38zM309.29 304.78h2.36v2.37h-2.36zM313.32 304.78h2.36v2.37h-2.36zM323.39 304.78h2.36v2.37h-2.36zM345.54 304.78h2.36v2.37h-2.36zM333.46 308.82h2.36v2.37h-2.36zM319.36 312.85h2.36v2.37h-2.36zM329.43 312.85h2.36v2.37h-2.36zM341.52 312.85h2.36v2.37h-2.36zM309.29 314.87h2.36v2.37h-2.36zM327.42 314.87h2.36v2.37h-2.36zM295.2 316.88h2.36v2.37h-2.36zM299.23 316.88h2.36v2.37h-2.36zM305.27 316.88h2.36v2.37h-2.36zM317.35 316.88h2.36v2.37h-2.36zM323.39 316.88h4.38v2.37h-4.38zM331.45 316.88h2.36v2.37h-2.36zM337.49 316.88h2.36v2.37h-2.36zM343.53 316.88h2.36v2.37h-2.36zM297.21 318.9h2.36v2.37h-2.36zM313.32 318.9h2.36v2.37h-2.36zM303.25 320.92h2.36v2.37h-2.36zM309.29 320.92h2.36v2.37h-2.36zM321.38 320.92h4.38v2.37h-4.38zM333.46 320.92h2.36v2.37h-2.36zM337.49 320.92h2.36v2.37h-2.36zM341.52 320.92h2.36v2.37h-2.36zM347.56 320.92h4.38v2.37h-4.38zM295.2 322.93h2.36v2.37h-2.36zM315.34 322.93h2.36v2.37h-2.36zM325.41 322.93h2.36v2.37h-2.36zM331.45 322.93h2.36v2.37h-2.36zM343.53 322.93h2.36v2.37h-2.36zM347.56 322.93h2.36v2.37h-2.36zM297.21 326.97h6.39v2.37h-6.39zM307.28 326.97h2.36v2.37h-2.36zM315.34 326.97h2.36v2.37h-2.36zM319.36 326.97h2.36v2.37h-2.36zM325.41 326.97h2.36v2.37h-2.36zM331.45 326.97h2.36v2.37h-2.36zM341.52 326.97h2.36v2.37h-2.36z"/>
<path shape-rendering="crispEdges" fill="#3c68b2" d="M301.24 260.42h2.36v2.37h-2.36zM323.39 262.43h2.36v2.37h-2.36zM297.21 266.47h2.36v2.37h-2.36zM293.18 284.62h2.36v2.37h-2.36zM313.32 284.62h2.36v2.37h-2.36zM329.43 284.62h2.36v2.37h-2.36zM341.52 284.62h2.36v2.37h-2.36zM297.21 290.67h2.36v2.37h-2.36zM307.28 290.67h2.36v2.37h-2.36zM311.31 290.67h2.36v2.37h-2.36zM329.43 290.67h2.36v2.37h-2.36zM287.14 292.68h2.36v2.37h-2.36zM301.24 292.68h2.36v2.37h-2.36zM309.29 292.68h2.36v2.37h-2.36zM329.43 292.68h2.36v2.37h-2.36zM347.56 292.68h4.38v2.37h-4.38zM303.25 294.7h2.36v2.37h-2.36zM309.29 294.7h2.36v2.37h-2.36zM321.38 294.7h2.36v2.37h-2.36zM313.32 298.73h4.38v2.37h-4.38zM349.57 298.73h2.36v2.37h-2.36zM325.41 300.75h2.36v2.37h-2.36zM329.43 300.75h2.36v2.37h-2.36zM339.5 300.75h2.36v2.37h-2.36zM343.53 302.77h4.38v2.37h-4.38zM315.34 304.78h4.38v2.37h-4.38zM329.43 304.78h2.36v2.37h-2.36zM347.56 304.78h4.38v2.37h-4.38zM295.2 306.8h2.36v2.37h-2.36zM305.27 306.8h2.36v2.37h-2.36zM337.49 306.8h2.36v2.37h-2.36zM343.53 306.8h2.36v2.37h-2.36zM345.54 308.82h2.36v2.37h-2.36zM321.38 310.83h2.36v2.37h-2.36zM293.18 312.85h2.36v2.37h-2.36zM301.24 312.85h2.36v2.37h-2.36zM305.27 312.85h2.36v2.37h-2.36zM309.29 312.85h2.36v2.37h-2.36zM321.38 312.85h2.36v2.37h-2.36zM333.46 312.85h2.36v2.37h-2.36zM337.49 312.85h2.36v2.37h-2.36zM347.56 312.85h2.36v2.37h-2.36zM315.34 314.87h2.36v2.37h-2.36zM321.38 314.87h2.36v2.37h-2.36zM325.41 314.87h2.36v2.37h-2.36zM293.18 316.88h2.36v2.37h-2.36zM303.25 316.88h2.36v2.37h-2.36zM309.29 316.88h2.36v2.37h-2.36zM313.32 316.88h4.38v2.37h-4.38zM319.36 316.88h4.38v2.37h-4.38zM339.5 316.88h2.36v2.37h-2.36zM347.56 316.88h4.38v2.37h-4.38zM299.23 318.9h2.36v2.37h-2.36zM325.41 318.9h2.36v2.37h-2.36zM333.46 318.9h2.36v2.37h-2.36zM337.49 318.9h2.36v2.37h-2.36zM345.54 318.9h4.38v2.37h-4.38zM297.21 320.92h2.36v2.37h-2.36zM301.24 320.92h2.36v2.37h-2.36zM311.31 320.92h2.36v2.37h-2.36zM315.34 320.92h2.36v2.37h-2.36zM327.42 320.92h6.39v2.37h-6.39zM339.5 320.92h2.36v2.37h-2.36zM293.18 322.93h2.36v2.37h-2.36zM297.21 322.93h4.38v2.37h-4.38zM307.28 322.93h4.38v2.37h-4.38zM313.32 322.93h2.36v2.37h-2.36zM327.42 322.93h4.38v2.37h-4.38zM333.46 322.93h2.36v2.37h-2.36zM303.25 326.97h4.38v2.37h-4.38zM317.35 326.97h2.36v2.37h-2.36zM327.42 326.97h2.36v2.37h-2.36zM339.5 326.97h2.36v2.37h-2.36zM347.56 326.97h2.36v2.37h-2.36zM305.27 328.98h2.36v2.37h-2.36zM327.42 328.98h2.36v2.37h-2.36zM333.46 328.98h2.36v2.37h-2.36z"/>
<path shape-rendering="crispEdges" fill="#4070b6" d="M311.31 258.4h2.36v2.37h-2.36zM315.34 258.4h2.36v2.37h-2.36zM343.53 258.4h2.36v2.37h-2.36zM315.34 262.43h2.36v2.37h-2.36zM321.38 262.43h2.36v2.37h-2.36zM349.57 262.43h2.36v2.37h-2.36zM295.2 266.47h2.36v2.37h-2.36zM307.28 266.47h2.36v2.37h-2.36zM293.18 268.48h2.36v2.37h-2.36zM301.24 268.48h2.36v2.37h-2.36zM295.2 272.52h2.36v2.37h-2.36zM335.48 272.52h2.36v2.37h-2.36zM289.16 274.53h2.36v2.37h-2.36zM327.42 274.53h2.36v2.37h-2.36zM349.57 274.53h2.36v2.37h-2.36zM295.2 276.55h2.36v2.37h-2.36zM351.59 276.55h2.36v2.37h-2.36zM299.23 280.58h2.36v2.37h-2.36zM307.28 280.58h2.36v2.37h-2.36zM327.42 280.58h2.36v2.37h-2.36zM323.39 284.62h2.36v2.37h-2.36zM327.42 284.62h2.36v2.37h-2.36zM331.45 284.62h2.36v2.37h-2.36zM337.49 284.62h4.38v2.37h-4.38zM295.2 286.63h2.36v2.37h-2.36zM309.29 286.63h2.36v2.37h-2.36zM319.36 286.63h2.36v2.37h-2.36zM327.42 286.63h2.36v2.37h-2.36zM339.5 286.63h2.36v2.37h-2.36zM295.2 288.65h2.36v2.37h-2.36zM303.25 288.65h4.38v2.37h-4.38zM345.54 288.65h2.36v2.37h-2.36zM293.18 290.67h2.36v2.37h-2.36zM299.23 290.67h2.36v2.37h-2.36zM305.27 290.67h2.36v2.37h-2.36zM315.34 290.67h2.36v2.37h-2.36zM325.41 290.67h2.36v2.37h-2.36zM333.46 290.67h4.38v2.37h-4.38zM351.59 290.67h2.36v2.37h-2.36zM291.17 292.68h4.38v2.37h-4.38zM299.23 292.68h2.36v2.37h-2.36zM315.34 292.68h4.38v2.37h-4.38zM327.42 292.68h2.36v2.37h-2.36zM337.49 292.68h2.36v2.37h-2.36zM341.52 292.68h2.36v2.37h-2.36zM345.54 292.68h2.36v2.37h-2.36zM351.59 292.68h2.36v2.37h-2.36zM289.16 294.7h6.39v2.37h-6.39zM319.36 294.7h2.36v2.37h-2.36zM323.39 294.7h2.36v2.37h-2.36zM329.43 294.7h2.36v2.37h-2.36zM337.49 294.7h4.38v2.37h-4.38zM345.54 294.7h2.36v2.37h-2.36zM313.32 296.72h4.38v2.37h-4.38zM321.38 296.72h2.36v2.37h-2.36zM331.45 296.72h2.36v2.37h-2.36zM337.49 296.72h2.36v2.37h-2.36zM307.28 298.73h2.36v2.37h-2.36zM317.35 298.73h2.36v2.37h-2.36zM323.39 298.73h2.36v2.37h-2.36zM331.45 298.73h2.36v2.37h-2.36zM347.56 298.73h2.36v2.37h-2.36zM295.2 300.75h2.36v2.37h-2.36zM309.29 300.75h2.36v2.37h-2.36zM291.17 302.77h2.36v2.37h-2.36zM305.27 302.77h2.36v2.37h-2.36zM329.43 302.77h4.38v2.37h-4.38zM335.48 302.77h2.36v2.37h-2.36zM349.57 302.77h2.36v2.37h-2.36zM291.17 304.78h2.36v2.37h-2.36zM305.27 304.78h2.36v2.37h-2.36zM321.38 304.78h2.36v2.37h-2.36zM327.42 304.78h2.36v2.37h-2.36zM341.52 304.78h4.38v2.37h-4.38zM351.59 304.78h2.36v2.37h-2.36zM315.34 306.8h2.36v2.37h-2.36zM349.57 306.8h2.36v2.37h-2.36zM307.28 308.82h2.36v2.37h-2.36zM293.18 310.83h2.36v2.37h-2.36zM307.28 310.83h4.38v2.37h-4.38zM313.32 310.83h2.36v2.37h-2.36zM323.39 310.83h2.36v2.37h-2.36zM295.2 312.85h2.36v2.37h-2.36zM315.34 312.85h2.36v2.37h-2.36zM325.41 312.85h2.36v2.37h-2.36zM331.45 312.85h2.36v2.37h-2.36zM351.59 312.85h2.36v2.37h-2.36zM291.17 314.87h2.36v2.37h-2.36zM301.24 314.87h2.36v2.37h-2.36zM307.28 314.87h2.36v2.37h-2.36zM313.32 314.87h2.36v2.37h-2.36zM317.35 314.87h2.36v2.37h-2.36zM329.43 314.87h4.38v2.37h-4.38zM337.49 314.87h4.38v2.37h-4.38zM345.54 314.87h2.36v2.37h-2.36zM351.59 314.87h2.36v2.37h-2.36zM291.17 316.88h2.36v2.37h-2.36zM297.21 316.88h2.36v2.37h-2.36zM307.28 316.88h2.36v2.37h-2.36zM327.42 316.88h2.36v2.37h-2.36zM345.54 316.88h2.36v2.37h-2.36zM293.18 318.9h2.36v2.37h-2.36zM315.34 318.9h2.36v2.37h-2.36zM327.42 318.9h2.36v2.37h-2.36zM331.45 318.9h2.36v2.37h-2.36zM335.48 318.9h2.36v2.37h-2.36zM293.18 320.92h2.36v2.37h-2.36zM305.27 320.92h2.36v2.37h-2.36zM313.32 320.92h2.36v2.37h-2.36zM319.36 320.92h2.36v2.37h-2.36zM343.53 320.92h2.36v2.37h-2.36zM301.24 322.93h2.36v2.37h-2.36zM339.5 322.93h4.38v2.37h-4.38zM351.59 322.93h2.36v2.37h-2.36zM315.34 324.95h4.38v2.37h-4.38zM325.41 324.95h2.36v2.37h-2.36zM309.29 326.97h2.36v2.37h-2.36zM337.49 326.97h2.36v2.37h-2.36zM351.59 326.97h2.36v2.37h-2.36zM299.23 328.98h2.36v2.37h-2.36zM303.25 328.98h2.36v2.37h-2.36zM335.48 328.98h2.36v2.37h-2.36zM347.56 328.98h2.36v2.37h-2.36zM351.59 328.98h2.36v2.37h-2.36z"/>
<path shape-rendering="crispEdges" fill="#477abb" d="M305.27 258.4h2.36v2.37h-2.36zM323.39 258.4h2.36v2.37h-2.36zM293.18 262.43h2.36v2.37h-2.36zM305.27 262.43h4.38v2.37h-4.38zM311.31 262.43h2.36v2.37h-2.36zM329.43 262.43h2.36v2.37h-2.36zM333.46 262.43h2.36v2.37h-2.36zM337.49 262.43h2.36v2.37h-2.36zM351.59 262.43h2.36v2.37h-2.36zM311.31 266.47h2.36v2.37h-2.36zM335.48 266.47h2.36v2.37h-2.36zM351.59 266.47h2.36v2.37h-2.36zM311.31 268.48h2.36v2.37h-2.36zM317.35 268.48h4.38v2.37h-4.38zM329.43 268.48h2.36v2.37h-2.36zM293.18 272.52h2.36v2.37h-2.36zM299.23 272.52h2.36v2.37h-2.36zM303.25 272.52h2.36v2.37h-2.36zM347.56 272.52h2.36v2.37h-2.36zM303.25 274.53h2.36v2.37h-2.36zM331.45 274.53h4.38v2.37h-4.38zM301.24 276.55h2.36v2.37h-2.36zM333.46 276.55h2.36v2.37h-2.36zM341.52 276.55h2.36v2.37h-2.36zM291.17 278.57h2.36v2.37h-2.36zM307.28 278.57h2.36v2.37h-2.36zM305.27 280.58h2.36v2.37h-2.36zM321.38 280.58h2.36v2.37h-2.36zM333.46 280.58h4.38v2.37h-4.38zM349.57 280.58h2.36v2.37h-2.36zM299.23 282.6h2.36v2.37h-2.36zM325.41 282.6h2.36v2.37h-2.36zM329.43 282.6h2.36v2.37h-2.36zM343.53 282.6h2.36v2.37h-2.36zM349.57 282.6h2.36v2.37h-2.36zM289.16 284.62h2.36v2.37h-2.36zM295.2 284.62h2.36v2.37h-2.36zM301.24 284.62h4.38v2.37h-4.38zM311.31 284.62h2.36v2.37h-2.36zM315.34 284.62h2.36v2.37h-2.36zM321.38 284.62h2.36v2.37h-2.36zM335.48 284.62h2.36v2.37h-2.36zM343.53 284.62h2.36v2.37h-2.36zM287.14 286.63h2.36v2.37h-2.36zM307.28 286.63h2.36v2.37h-2.36zM315.34 286.63h2.36v2.37h-2.36zM323.39 286.63h2.36v2.37h-2.36zM335.48 286.63h2.36v2.37h-2.36zM301.24 288.65h2.36v2.37h-2.36zM309.29 288.65h4.38v2.37h-4.38zM319.36 288.65h4.38v2.37h-4.38zM329.43 288.65h2.36v2.37h-2.36zM351.59 288.65h2.36v2.37h-2.36zM289.16 290.67h4.38v2.37h-4.38zM295.2 290.67h2.36v2.37h-2.36zM301.24 290.67h4.38v2.37h-4.38zM309.29 290.67h2.36v2.37h-2.36zM317.35 290.67h2.36v2.37h-2.36zM321.38 290.67h2.36v2.37h-2.36zM327.42 290.67h2.36v2.37h-2.36zM337.49 290.67h8.41v2.37h-8.41zM347.56 290.67h4.38v2.37h-4.38zM289.16 292.68h2.36v2.37h-2.36zM297.21 292.68h2.36v2.37h-2.36zM305.27 292.68h4.38v2.37h-4.38zM313.32 292.68h2.36v2.37h-2.36zM321.38 292.68h2.36v2.37h-2.36zM331.45 292.68h4.38v2.37h-4.38zM339.5 292.68h2.36v2.37h-2.36zM301.24 294.7h2.36v2.37h-2.36zM311.31 294.7h8.41v2.37h-8.41zM327.42 294.7h2.36v2.37h-2.36zM331.45 294.7h4.38v2.37h-4.38zM341.52 294.7h2.36v2.37h-2.36zM351.59 294.7h2.36v2.37h-2.36zM295.2 296.72h2.36v2.37h-2.36zM325.41 296.72h2.36v2.37h-2.36zM335.48 296.72h2.36v2.37h-2.36zM339.5 296.72h8.41v2.37h-8.41zM297.21 298.73h2.36v2.37h-2.36zM319.36 298.73h2.36v2.37h-2.36zM327.42 298.73h2.36v2.37h-2.36zM337.49 298.73h2.36v2.37h-2.36zM345.54 298.73h2.36v2.37h-2.36zM351.59 298.73h2.36v2.37h-2.36zM289.16 300.75h2.36v2.37h-2.36zM293.18 300.75h2.36v2.37h-2.36zM301.24 300.75h2.36v2.37h-2.36zM315.34 300.75h4.38v2.37h-4.38zM321.38 300.75h2.36v2.37h-2.36zM327.42 300.75h2.36v2.37h-2.36zM333.46 300.75h2.36v2.37h-2.36zM341.52 300.75h2.36v2.37h-2.36zM345.54 300.75h4.38v2.37h-4.38zM295.2 302.77h2.36v2.37h-2.36zM321.38 302.77h2.36v2.37h-2.36zM351.59 302.77h2.36v2.37h-2.36zM297.21 304.78h2.36v2.37h-2.36zM303.25 304.78h2.36v2.37h-2.36zM307.28 304.78h2.36v2.37h-2.36zM319.36 304.78h2.36v2.37h-2.36zM325.41 304.78h2.36v2.37h-2.36zM297.21 306.8h4.38v2.37h-4.38zM303.25 306.8h2.36v2.37h-2.36zM309.29 306.8h2.36v2.37h-2.36zM317.35 306.8h2.36v2.37h-2.36zM321.38 306.8h2.36v2.37h-2.36zM325.41 306.8h2.36v2.37h-2.36zM339.5 306.8h2.36v2.37h-2.36zM345.54 306.8h4.38v2.37h-4.38zM305.27 308.82h2.36v2.37h-2.36zM315.34 308.82h2.36v2.37h-2.36zM323.39 308.82h2.36v2.37h-2.36zM327.42 308.82h4.38v2.37h-4.38zM337.49 308.82h2.36v2.37h-2.36zM301.24 310.83h2.36v2.37h-2.36zM319.36 310.83h2.36v2.37h-2.36zM327.42 310.83h2.36v2.37h-2.36zM331.45 310.83h2.36v2.37h-2.36zM291.17 312.85h2.36v2.37h-2.36zM307.28 312.85h2.36v2.37h-2.36zM327.42 312.85h2.36v2.37h-2.36zM343.53 312.85h2.36v2.37h-2.36zM303.25 314.87h2.36v2.37h-2.36zM323.39 314.87h2.36v2.37h-2.36zM333.46 314.87h2.36v2.37h-2.36zM343.53 314.87h2.36v2.37h-2.36zM347.56 314.87h2.36v2.37h-2.36zM341.52 316.88h2.36v2.37h-2.36zM291.17 318.9h2.36v2.37h-2.36zM301.24 318.9h2.36v2.37h-2.36zM307.28 318.9h2.36v2.37h-2.36zM311.31 318.9h2.36v2.37h-2.36zM317.35 318.9h4.38v2.37h-4.38zM323.39 318.9h2.36v2.37h-2.36zM349.57 318.9h2.36v2.37h-2.36zM299.23 320.92h2.36v2.37h-2.36zM335.48 320.92h2.36v2.37h-2.36zM317.35 322.93h2.36v2.37h-2.36zM337.49 322.93h2.36v2.37h-2.36zM299.23 324.95h2.36v2.37h-2.36zM307.28 324.95h2.36v2.37h-2.36zM327.42 324.95h2.36v2.37h-2.36zM333.46 324.95h2.36v2.37h-2.36zM345.54 324.95h2.36v2.37h-2.36zM293.18 326.97h2.36v2.37h-2.36zM329.43 326.97h2.36v2.37h-2.36zM295.2 328.98h4.38v2.37h-4.38zM307.28 328.98h4.38v2.37h-4.38zM323.39 328.98h2.36v2.37h-2.36zM329.43 328.98h2.36v2.37h-2.36zM339.5 328.98h2.36v2.37h-2.36zM345.54 328.98h2.36v2.37h-2.36zM349.57 328.98h2.36v2.37h-2.36z"/>
<path shape-rendering="crispEdges" fill="#4e84c0" d="M297.21 258.4h2.36v2.37h-2.36zM301.24 258.4h2.36v2.37h-2.36zM307.28 258.4h4.38v2.37h-4.38zM335.48 258.4h2.36v2.37h-2.36zM299.23 260.42h2.36v2.37h-2.36zM287.14 262.43h6.39v2.37h-6.39zM301.24 262.43h4.38v2.37h-4.38zM309.29 262.43h2.36v2.37h-2.36zM313.32 262.43h2.36v2.37h-2.36zM319.36 262.43h2.36v2.37h-2.36zM325.41 262.43h2.36v2.37h-2.36zM331.45 262.43h2.36v2.37h-2.36zM341.52 262.43h2.36v2.37h-2.36zM345.54 262.43h4.38v2.37h-4.38zM327.42 264.45h2.36v2.37h-2.36zM335.48 264.45h2.36v2.37h-2.36zM303.25 266.47h2.36v2.37h-2.36zM309.29 266.47h2.36v2.37h-2.36zM321.38 266.47h4.38v2.37h-4.38zM327.42 266.47h2.36v2.37h-2.36zM331.45 266.47h2.36v2.37h-2.36zM339.5 266.47h2.36v2.37h-2.36zM349.57 266.47h2.36v2.37h-2.36zM287.14 268.48h2.36v2.37h-2.36zM297.21 268.48h2.36v2.37h-2.36zM303.25 268.48h2.36v2.37h-2.36zM347.56 268.48h2.36v2.37h-2.36zM345.54 270.5h2.36v2.37h-2.36zM323.39 272.52h2.36v2.37h-2.36zM333.46 272.52h2.36v2.37h-2.36zM351.59 272.52h2.36v2.37h-2.36zM291.17 274.53h2.36v2.37h-2.36zM305.27 274.53h2.36v2.37h-2.36zM309.29 274.53h2.36v2.37h-2.36zM323.39 274.53h4.38v2.37h-4.38zM329.43 274.53h2.36v2.37h-2.36zM339.5 274.53h2.36v2.37h-2.36zM347.56 274.53h2.36v2.37h-2.36zM293.18 276.55h2.36v2.37h-2.36zM313.32 276.55h2.36v2.37h-2.36zM321.38 276.55h2.36v2.37h-2.36zM329.43 276.55h2.36v2.37h-2.36zM339.5 276.55h2.36v2.37h-2.36zM347.56 276.55h2.36v2.37h-2.36zM289.16 278.57h2.36v2.37h-2.36zM329.43 278.57h2.36v2.37h-2.36zM337.49 278.57h2.36v2.37h-2.36zM291.17 280.58h2.36v2.37h-2.36zM295.2 280.58h2.36v2.37h-2.36zM301.24 280.58h2.36v2.37h-2.36zM309.29 280.58h2.36v2.37h-2.36zM315.34 280.58h6.39v2.37h-6.39zM325.41 280.58h2.36v2.37h-2.36zM329.43 280.58h4.38v2.37h-4.38zM341.52 280.58h4.38v2.37h-4.38zM347.56 280.58h2.36v2.37h-2.36zM303.25 282.6h2.36v2.37h-2.36zM313.32 282.6h2.36v2.37h-2.36zM319.36 282.6h4.38v2.37h-4.38zM327.42 282.6h2.36v2.37h-2.36zM287.14 284.62h2.36v2.37h-2.36zM291.17 284.62h2.36v2.37h-2.36zM297.21 284.62h4.38v2.37h-4.38zM305.27 284.62h2.36v2.37h-2.36zM325.41 284.62h2.36v2.37h-2.36zM345.54 284.62h2.36v2.37h-2.36zM351.59 284.62h2.36v2.37h-2.36zM285.13 286.63h2.36v2.37h-2.36zM291.17 286.63h2.36v2.37h-2.36zM299.23 286.63h4.38v2.37h-4.38zM313.32 286.63h2.36v2.37h-2.36zM325.41 286.63h2.36v2.37h-2.36zM337.49 286.63h2.36v2.37h-2.36zM341.52 286.63h4.38v2.37h-4.38zM347.56 286.63h2.36v2.37h-2.36zM289.16 288.65h2.36v2.37h-2.36zM293.18 288.65h2.36v2.37h-2.36zM315.34 288.65h4.38v2.37h-4.38zM323.39 288.65h4.38v2.37h-4.38zM331.45 288.65h6.39v2.37h-6.39zM341.52 288.65h4.38v2.37h-4.38zM347.56 288.65h4.38v2.37h-4.38zM313.32 290.67h2.36v2.37h-2.36zM319.36 290.67h2.36v2.37h-2.36zM295.2 292.68h2.36v2.37h-2.36zM311.31 292.68h2.36v2.37h-2.36zM325.41 292.68h2.36v2.37h-2.36zM287.14 294.7h2.36v2.37h-2.36zM305.27 294.7h2.36v2.37h-2.36zM325.41 294.7h2.36v2.37h-2.36zM335.48 294.7h2.36v2.37h-2.36zM347.56 294.7h2.36v2.37h-2.36zM291.17 296.72h4.38v2.37h-4.38zM299.23 296.72h2.36v2.37h-2.36zM307.28 296.72h4.38v2.37h-4.38zM317.35 296.72h2.36v2.37h-2.36zM327.42 296.72h2.36v2.37h-2.36zM333.46 296.72h2.36v2.37h-2.36zM351.59 296.72h2.36v2.37h-2.36zM287.14 298.73h2.36v2.37h-2.36zM295.2 298.73h2.36v2.37h-2.36zM299.23 298.73h4.38v2.37h-4.38zM329.43 298.73h2.36v2.37h-2.36zM335.48 298.73h2.36v2.37h-2.36zM341.52 298.73h4.38v2.37h-4.38zM297.21 300.75h4.38v2.37h-4.38zM303.25 300.75h2.36v2.37h-2.36zM319.36 300.75h2.36v2.37h-2.36zM343.53 300.75h2.36v2.37h-2.36zM297.21 302.77h8.41v2.37h-8.41zM307.28 302.77h2.36v2.37h-2.36zM311.31 302.77h2.36v2.37h-2.36zM315.34 302.77h4.38v2.37h-4.38zM323.39 302.77h2.36v2.37h-2.36zM327.42 302.77h2.36v2.37h-2.36zM337.49 302.77h2.36v2.37h-2.36zM341.52 302.77h2.36v2.37h-2.36zM347.56 302.77h2.36v2.37h-2.36zM287.14 304.78h2.36v2.37h-2.36zM331.45 304.78h2.36v2.37h-2.36zM335.48 304.78h4.38v2.37h-4.38zM289.16 306.8h2.36v2.37h-2.36zM301.24 306.8h2.36v2.37h-2.36zM311.31 306.8h2.36v2.37h-2.36zM323.39 306.8h2.36v2.37h-2.36zM329.43 306.8h8.41v2.37h-8.41zM291.17 308.82h4.38v2.37h-4.38zM309.29 308.82h6.39v2.37h-6.39zM321.38 308.82h2.36v2.37h-2.36zM331.45 308.82h2.36v2.37h-2.36zM339.5 308.82h6.39v2.37h-6.39zM351.59 308.82h2.36v2.37h-2.36zM289.16 310.83h2.36v2.37h-2.36zM297.21 310.83h4.38v2.37h-4.38zM337.49 310.83h2.36v2.37h-2.36zM343.53 310.83h2.36v2.37h-2.36zM347.56 310.83h2.36v2.37h-2.36zM351.59 310.83h2.36v2.37h-2.36zM297.21 312.85h4.38v2.37h-4.38zM303.25 312.85h2.36v2.37h-2.36zM311.31 312.85h2.36v2.37h-2.36zM317.35 312.85h2.36v2.37h-2.36zM335.48 312.85h2.36v2.37h-2.36zM349.57 312.85h2.36v2.37h-2.36zM295.2 314.87h2.36v2.37h-2.36zM311.31 314.87h2.36v2.37h-2.36zM319.36 314.87h2.36v2.37h-2.36zM335.48 314.87h2.36v2.37h-2.36zM341.52 314.87h2.36v2.37h-2.36zM295.2 318.9h2.36v2.37h-2.36zM303.25 318.9h4.38v2.37h-4.38zM341.52 318.9h4.38v2.37h-4.38zM291.17 320.92h2.36v2.37h-2.36zM295.2 320.92h2.36v2.37h-2.36zM311.31 322.93h2.36v2.37h-2.36zM293.18 324.95h2.36v2.37h-2.36zM303.25 324.95h4.38v2.37h-4.38zM311.31 324.95h4.38v2.37h-4.38zM319.36 324.95h4.38v2.37h-4.38zM341.52 324.95h2.36v2.37h-2.36zM347.56 324.95h2.36v2.37h-2.36zM301.24 328.98h2.36v2.37h-2.36zM311.31 328.98h4.38v2.37h-4.38zM317.35 328.98h2.36v2.37h-2.36zM331.45 328.98h2.36v2.37h-2.36zM337.49 328.98h2.36v2.37h-2.36z"/>
<path shape-rendering="crispEdges" fill="#558ec5" d="M291.17 258.4h6.39v2.37h-6.39zM317.35 258.4h4.38v2.37h-4.38zM327.42 258.4h6.39v2.37h-6.39zM349.57 258.4h2.36v2.37h-2.36zM325.41 260.42h2.36v2.37h-2.36zM333.46 260.42h2.36v2.37h-2.36zM339.5 260.42h4.38v2.37h-4.38zM349.57 260.42h2.36v2.37h-2.36zM295.2 262.43h2.36v2.37h-2.36zM299.23 262.43h2.36v2.37h-2.36zM317.35 262.43h2.36v2.37h-2.36zM335.48 262.43h2.36v2.37h-2.36zM303.25 264.45h2.36v2.37h-2.36zM309.29 264.45h2.36v2.37h-2.36zM315.34 264.45h2.36v2.37h-2.36zM321.38 264.45h2.36v2.37h-2.36zM339.5 264.45h2.36v2.37h-2.36zM347.56 264.45h2.36v2.37h-2.36zM287.14 266.47h2.36v2.37h-2.36zM291.17 266.47h2.36v2.37h-2.36zM305.27 266.47h2.36v2.37h-2.36zM313.32 266.47h2.36v2.37h-2.36zM317.35 266.47h2.36v2.37h-2.36zM325.41 266.47h2.36v2.37h-2.36zM343.53 266.47h2.36v2.37h-2.36zM285.13 268.48h2.36v2.37h-2.36zM289.16 268.48h2.36v2.37h-2.36zM295.2 268.48h2.36v2.37h-2.36zM313.32 268.48h4.38v2.37h-4.38zM323.39 268.48h4.38v2.37h-4.38zM333.46 268.48h4.38v2.37h-4.38zM339.5 268.48h6.39v2.37h-6.39zM319.36 270.5h2.36v2.37h-2.36zM325.41 270.5h2.36v2.37h-2.36zM329.43 270.5h2.36v2.37h-2.36zM337.49 270.5h2.36v2.37h-2.36zM301.24 272.52h2.36v2.37h-2.36zM311.31 272.52h6.39v2.37h-6.39zM339.5 272.52h8.41v2.37h-8.41zM349.57 272.52h2.36v2.37h-2.36zM293.18 274.53h2.36v2.37h-2.36zM297.21 274.53h2.36v2.37h-2.36zM301.24 274.53h2.36v2.37h-2.36zM319.36 274.53h4.38v2.37h-4.38zM335.48 274.53h2.36v2.37h-2.36zM289.16 276.55h2.36v2.37h-2.36zM297.21 276.55h2.36v2.37h-2.36zM305.27 276.55h4.38v2.37h-4.38zM349.57 276.55h2.36v2.37h-2.36zM295.2 278.57h2.36v2.37h-2.36zM313.32 278.57h2.36v2.37h-2.36zM319.36 278.57h2.36v2.37h-2.36zM331.45 278.57h2.36v2.37h-2.36zM349.57 278.57h2.36v2.37h-2.36zM289.16 280.58h2.36v2.37h-2.36zM297.21 280.58h2.36v2.37h-2.36zM323.39 280.58h2.36v2.37h-2.36zM345.54 280.58h2.36v2.37h-2.36zM287.14 282.6h4.38v2.37h-4.38zM297.21 282.6h2.36v2.37h-2.36zM301.24 282.6h2.36v2.37h-2.36zM305.27 282.6h2.36v2.37h-2.36zM311.31 282.6h2.36v2.37h-2.36zM315.34 282.6h4.38v2.37h-4.38zM285.13 284.62h2.36v2.37h-2.36zM309.29 284.62h2.36v2.37h-2.36zM347.56 284.62h4.38v2.37h-4.38zM289.16 286.63h2.36v2.37h-2.36zM293.18 286.63h2.36v2.37h-2.36zM297.21 286.63h2.36v2.37h-2.36zM303.25 286.63h2.36v2.37h-2.36zM317.35 286.63h2.36v2.37h-2.36zM329.43 286.63h2.36v2.37h-2.36zM333.46 286.63h2.36v2.37h-2.36zM345.54 286.63h2.36v2.37h-2.36zM349.57 286.63h4.38v2.37h-4.38zM285.13 288.65h2.36v2.37h-2.36zM297.21 288.65h2.36v2.37h-2.36zM307.28 288.65h2.36v2.37h-2.36zM313.32 288.65h2.36v2.37h-2.36zM327.42 288.65h2.36v2.37h-2.36zM337.49 288.65h4.38v2.37h-4.38zM287.14 290.67h2.36v2.37h-2.36zM345.54 290.67h2.36v2.37h-2.36zM303.25 292.68h2.36v2.37h-2.36zM285.13 294.7h2.36v2.37h-2.36zM295.2 294.7h2.36v2.37h-2.36zM289.16 296.72h2.36v2.37h-2.36zM301.24 296.72h2.36v2.37h-2.36zM305.27 296.72h2.36v2.37h-2.36zM323.39 296.72h2.36v2.37h-2.36zM329.43 296.72h2.36v2.37h-2.36zM347.56 296.72h4.38v2.37h-4.38zM289.16 298.73h6.39v2.37h-6.39zM303.25 298.73h2.36v2.37h-2.36zM325.41 298.73h2.36v2.37h-2.36zM305.27 300.75h2.36v2.37h-2.36zM323.39 300.75h2.36v2.37h-2.36zM335.48 300.75h4.38v2.37h-4.38zM349.57 300.75h4.38v2.37h-4.38zM289.16 302.77h2.36v2.37h-2.36zM313.32 302.77h2.36v2.37h-2.36zM325.41 302.77h2.36v2.37h-2.36zM339.5 302.77h2.36v2.37h-2.36zM289.16 304.78h2.36v2.37h-2.36zM291.17 306.8h2.36v2.37h-2.36zM307.28 306.8h2.36v2.37h-2.36zM319.36 306.8h2.36v2.37h-2.36zM341.52 306.8h2.36v2.37h-2.36zM289.16 308.82h2.36v2.37h-2.36zM317.35 308.82h2.36v2.37h-2.36zM349.57 308.82h2.36v2.37h-2.36zM295.2 310.83h2.36v2.37h-2.36zM305.27 310.83h2.36v2.37h-2.36zM311.31 310.83h2.36v2.37h-2.36zM315.34 310.83h4.38v2.37h-4.38zM325.41 310.83h2.36v2.37h-2.36zM333.46 310.83h4.38v2.37h-4.38zM339.5 310.83h2.36v2.37h-2.36zM345.54 310.83h2.36v2.37h-2.36zM289.16 312.85h2.36v2.37h-2.36zM329.43 318.9h2.36v2.37h-2.36zM323.39 322.93h2.36v2.37h-2.36zM329.43 324.95h4.38v2.37h-4.38zM337.49 324.95h4.38v2.37h-4.38zM343.53 324.95h2.36v2.37h-2.36zM351.59 324.95h2.36v2.37h-2.36zM291.17 326.97h2.36v2.37h-2.36zM315.34 328.98h2.36v2.37h-2.36zM325.41 328.98h2.36v2.37h-2.36z"/>
<path shape-rendering="crispEdges" fill="#5c98ca" d="M299.23 258.4h2.36v2.37h-2.36zM337.49 258.4h4.38v2.37h-4.38zM351.59 258.4h2.36v2.37h-2.36zM295.2 260.42h2.36v2.37h-2.36zM317.35 260.42h4.38v2.37h-4.38zM331.45 260.42h2.36v2.37h-2.36zM337.49 260.42h2.36v2.37h-2.36zM343.53 260.42h2.36v2.37h-2.36zM347.56 260.42h2.36v2.37h-2.36zM297.21 262.43h2.36v2.37h-2.36zM327.42 262.43h2.36v2.37h-2.36zM339.5 262.43h2.36v2.37h-2.36zM343.53 262.43h2.36v2.37h-2.36zM287.14 264.45h2.36v2.37h-2.36zM293.18 264.45h6.39v2.37h-6.39zM307.28 264.45h2.36v2.37h-2.36zM323.39 264.45h2.36v2.37h-2.36zM349.57 264.45h2.36v2.37h-2.36zM299.23 266.47h4.38v2.37h-4.38zM315.34 266.47h2.36v2.37h-2.36zM319.36 266.47h2.36v2.37h-2.36zM345.54 266.47h4.38v2.37h-4.38zM299.23 268.48h2.36v2.37h-2.36zM305.27 268.48h2.36v2.37h-2.36zM321.38 268.48h2.36v2.37h-2.36zM331.45 268.48h2.36v2.37h-2.36zM337.49 268.48h2.36v2.37h-2.36zM349.57 268.48h4.38v2.37h-4.38zM289.16 270.5h2.36v2.37h-2.36zM303.25 270.5h2.36v2.37h-2.36zM309.29 270.5h2.36v2.37h-2.36zM315.34 270.5h2.36v2.37h-2.36zM321.38 270.5h2.36v2.37h-2.36zM333.46 270.5h2.36v2.37h-2.36zM297.21 272.52h2.36v2.37h-2.36zM307.28 272.52h4.38v2.37h-4.38zM317.35 272.52h6.39v2.37h-6.39zM327.42 272.52h2.36v2.37h-2.36zM287.14 274.53h2.36v2.37h-2.36zM295.2 274.53h2.36v2.37h-2.36zM307.28 274.53h2.36v2.37h-2.36zM311.31 274.53h8.41v2.37h-8.41zM337.49 274.53h2.36v2.37h-2.36zM343.53 274.53h4.38v2.37h-4.38zM351.59 274.53h2.36v2.37h-2.36zM309.29 276.55h4.38v2.37h-4.38zM315.34 276.55h4.38v2.37h-4.38zM331.45 276.55h2.36v2.37h-2.36zM335.48 276.55h2.36v2.37h-2.36zM343.53 276.55h2.36v2.37h-2.36zM309.29 278.57h2.36v2.37h-2.36zM317.35 278.57h2.36v2.37h-2.36zM325.41 278.57h2.36v2.37h-2.36zM335.48 278.57h2.36v2.37h-2.36zM347.56 278.57h2.36v2.37h-2.36zM351.59 278.57h2.36v2.37h-2.36zM293.18 280.58h2.36v2.37h-2.36zM337.49 280.58h2.36v2.37h-2.36zM291.17 282.6h2.36v2.37h-2.36zM295.2 282.6h2.36v2.37h-2.36zM309.29 282.6h2.36v2.37h-2.36zM333.46 282.6h10.42v2.37h-10.42zM345.54 282.6h4.38v2.37h-4.38zM333.46 284.62h2.36v2.37h-2.36zM321.38 286.63h2.36v2.37h-2.36zM287.14 288.65h2.36v2.37h-2.36zM291.17 288.65h2.36v2.37h-2.36zM343.53 294.7h2.36v2.37h-2.36zM287.14 296.72h2.36v2.37h-2.36zM305.27 298.73h2.36v2.37h-2.36zM291.17 300.75h2.36v2.37h-2.36zM307.28 300.75h2.36v2.37h-2.36zM331.45 300.75h2.36v2.37h-2.36zM309.29 302.77h2.36v2.37h-2.36zM333.46 302.77h2.36v2.37h-2.36zM297.21 308.82h6.39v2.37h-6.39zM319.36 308.82h2.36v2.37h-2.36zM325.41 308.82h2.36v2.37h-2.36zM347.56 308.82h2.36v2.37h-2.36zM303.25 310.83h2.36v2.37h-2.36zM341.52 310.83h2.36v2.37h-2.36zM313.32 312.85h2.36v2.37h-2.36zM323.39 312.85h2.36v2.37h-2.36zM339.5 312.85h2.36v2.37h-2.36zM293.18 314.87h2.36v2.37h-2.36zM299.23 314.87h2.36v2.37h-2.36zM309.29 318.9h2.36v2.37h-2.36zM339.5 318.9h2.36v2.37h-2.36zM289.16 320.92h2.36v2.37h-2.36zM291.17 322.93h2.36v2.37h-2.36zM291.17 324.95h2.36v2.37h-2.36zM297.21 324.95h2.36v2.37h-2.36zM309.29 324.95h2.36v2.37h-2.36zM323.39 324.95h2.36v2.37h-2.36zM335.48 324.95h2.36v2.37h-2.36zM349.57 324.95h2.36v2.37h-2.36zM293.18 328.98h2.36v2.37h-2.36zM319.36 328.98h2.36v2.37h-2.36zM341.52 328.98h2.36v2.37h-2.36z"/>
<path shape-rendering="crispEdges" fill="#67a4ce" d="M287.14 258.4h4.38v2.37h-4.38zM303.25 258.4h2.36v2.37h-2.36zM325.41 258.4h2.36v2.37h-2.36zM333.46 258.4h2.36v2.37h-2.36zM347.56 258.4h2.36v2.37h-2.36zM287.14 260.42h8.41v2.37h-8.41zM303.25 260.42h4.38v2.37h-4.38zM309.29 260.42h4.38v2.37h-4.38zM335.48 260.42h2.36v2.37h-2.36zM285.13 262.43h2.36v2.37h-2.36zM289.16 264.45h2.36v2.37h-2.36zM301.24 264.45h2.36v2.37h-2.36zM305.27 264.45h2.36v2.37h-2.36zM317.35 264.45h4.38v2.37h-4.38zM329.43 264.45h2.36v2.37h-2.36zM333.46 264.45h2.36v2.37h-2.36zM337.49 264.45h2.36v2.37h-2.36zM341.52 264.45h6.39v2.37h-6.39zM285.13 266.47h2.36v2.37h-2.36zM329.43 266.47h2.36v2.37h-2.36zM337.49 266.47h2.36v2.37h-2.36zM307.28 268.48h4.38v2.37h-4.38zM327.42 268.48h2.36v2.37h-2.36zM285.13 270.5h2.36v2.37h-2.36zM291.17 270.5h2.36v2.37h-2.36zM301.24 270.5h2.36v2.37h-2.36zM327.42 270.5h2.36v2.37h-2.36zM339.5 270.5h2.36v2.37h-2.36zM351.59 270.5h2.36v2.37h-2.36zM285.13 272.52h8.41v2.37h-8.41zM305.27 272.52h2.36v2.37h-2.36zM329.43 272.52h4.38v2.37h-4.38zM337.49 272.52h2.36v2.37h-2.36zM283.11 274.53h2.36v2.37h-2.36zM299.23 274.53h2.36v2.37h-2.36zM341.52 274.53h2.36v2.37h-2.36zM291.17 276.55h2.36v2.37h-2.36zM303.25 276.55h2.36v2.37h-2.36zM319.36 276.55h2.36v2.37h-2.36zM337.49 276.55h2.36v2.37h-2.36zM345.54 276.55h2.36v2.37h-2.36zM293.18 278.57h2.36v2.37h-2.36zM297.21 278.57h6.39v2.37h-6.39zM327.42 278.57h2.36v2.37h-2.36zM333.46 278.57h2.36v2.37h-2.36zM339.5 278.57h4.38v2.37h-4.38zM303.25 280.58h2.36v2.37h-2.36zM311.31 280.58h4.38v2.37h-4.38zM351.59 280.58h2.36v2.37h-2.36zM285.13 282.6h2.36v2.37h-2.36zM307.28 282.6h2.36v2.37h-2.36zM323.39 282.6h2.36v2.37h-2.36zM351.59 282.6h2.36v2.37h-2.36zM311.31 286.63h2.36v2.37h-2.36zM299.23 288.65h2.36v2.37h-2.36zM303.25 296.72h2.36v2.37h-2.36zM311.31 296.72h2.36v2.37h-2.36zM309.29 298.73h2.36v2.37h-2.36zM321.38 298.73h2.36v2.37h-2.36zM333.46 298.73h2.36v2.37h-2.36zM339.5 298.73h2.36v2.37h-2.36zM313.32 300.75h2.36v2.37h-2.36zM287.14 302.77h2.36v2.37h-2.36zM293.18 302.77h2.36v2.37h-2.36zM319.36 302.77h2.36v2.37h-2.36zM293.18 306.8h2.36v2.37h-2.36zM313.32 306.8h2.36v2.37h-2.36zM351.59 306.8h2.36v2.37h-2.36zM335.48 308.82h2.36v2.37h-2.36zM329.43 310.83h2.36v2.37h-2.36zM349.57 310.83h2.36v2.37h-2.36zM289.16 316.88h2.36v2.37h-2.36zM301.24 324.95h2.36v2.37h-2.36zM343.53 328.98h2.36v2.37h-2.36z"/>
<path shape-rendering="crispEdges" fill="#72b1d3" d="M285.13 258.4h2.36v2.37h-2.36zM321.38 258.4h2.36v2.37h-2.36zM345.54 258.4h2.36v2.37h-2.36zM285.13 260.42h2.36v2.37h-2.36zM307.28 260.42h2.36v2.37h-2.36zM313.32 260.42h2.36v2.37h-2.36zM323.39 260.42h2.36v2.37h-2.36zM329.43 260.42h2.36v2.37h-2.36zM351.59 260.42h2.36v2.37h-2.36zM285.13 264.45h2.36v2.37h-2.36zM291.17 264.45h2.36v2.37h-2.36zM299.23 264.45h2.36v2.37h-2.36zM311.31 264.45h4.38v2.37h-4.38zM325.41 264.45h2.36v2.37h-2.36zM331.45 264.45h2.36v2.37h-2.36zM351.59 264.45h2.36v2.37h-2.36zM293.18 266.47h2.36v2.37h-2.36zM333.46 266.47h2.36v2.37h-2.36zM341.52 266.47h2.36v2.37h-2.36zM291.17 268.48h2.36v2.37h-2.36zM345.54 268.48h2.36v2.37h-2.36zM293.18 270.5h2.36v2.37h-2.36zM305.27 270.5h4.38v2.37h-4.38zM313.32 270.5h2.36v2.37h-2.36zM317.35 270.5h2.36v2.37h-2.36zM323.39 270.5h2.36v2.37h-2.36zM335.48 270.5h2.36v2.37h-2.36zM343.53 270.5h2.36v2.37h-2.36zM283.11 272.52h2.36v2.37h-2.36zM325.41 272.52h2.36v2.37h-2.36zM285.13 274.53h2.36v2.37h-2.36zM285.13 276.55h4.38v2.37h-4.38zM299.23 276.55h2.36v2.37h-2.36zM323.39 276.55h2.36v2.37h-2.36zM285.13 278.57h2.36v2.37h-2.36zM303.25 278.57h4.38v2.37h-4.38zM315.34 278.57h2.36v2.37h-2.36zM323.39 278.57h2.36v2.37h-2.36zM343.53 278.57h4.38v2.37h-4.38zM287.14 280.58h2.36v2.37h-2.36zM339.5 280.58h2.36v2.37h-2.36zM293.18 282.6h2.36v2.37h-2.36zM331.45 282.6h2.36v2.37h-2.36zM285.13 292.68h2.36v2.37h-2.36zM297.21 296.72h2.36v2.37h-2.36zM287.14 300.75h2.36v2.37h-2.36zM327.42 306.8h2.36v2.37h-2.36zM295.2 308.82h2.36v2.37h-2.36zM303.25 308.82h2.36v2.37h-2.36zM291.17 310.83h2.36v2.37h-2.36zM289.16 314.87h2.36v2.37h-2.36zM295.2 324.95h2.36v2.37h-2.36z"/>
<path shape-rendering="crispEdges" fill="#7ebed7" d="M283.11 258.4h2.36v2.37h-2.36zM313.32 258.4h2.36v2.37h-2.36zM341.52 258.4h2.36v2.37h-2.36zM315.34 260.42h2.36v2.37h-2.36zM345.54 260.42h2.36v2.37h-2.36zM283.11 262.43h2.36v2.37h-2.36zM289.16 266.47h2.36v2.37h-2.36zM295.2 270.5h6.39v2.37h-6.39zM311.31 270.5h2.36v2.37h-2.36zM331.45 270.5h2.36v2.37h-2.36zM341.52 270.5h2.36v2.37h-2.36zM347.56 270.5h4.38v2.37h-4.38zM325.41 276.55h2.36v2.37h-2.36zM287.14 278.57h2.36v2.37h-2.36zM311.31 278.57h2.36v2.37h-2.36zM321.38 278.57h2.36v2.37h-2.36zM285.13 280.58h2.36v2.37h-2.36zM283.11 284.62h2.36v2.37h-2.36zM285.13 296.72h2.36v2.37h-2.36zM285.13 298.73h2.36v2.37h-2.36zM287.14 306.8h2.36v2.37h-2.36zM287.14 308.82h2.36v2.37h-2.36zM287.14 312.85h2.36v2.37h-2.36zM289.16 322.93h2.36v2.37h-2.36z"/>
<path shape-rendering="crispEdges" fill="#8cc8da" d="M297.21 260.42h2.36v2.37h-2.36zM321.38 260.42h2.36v2.37h-2.36zM283.11 266.47h2.36v2.37h-2.36zM287.14 270.5h2.36v2.37h-2.36zM327.42 276.55h2.36v2.37h-2.36zM285.13 290.67h2.36v2.37h-2.36zM289.16 318.9h2.36v2.37h-2.36z"/>
<path shape-rendering="crispEdges" fill="#9bd2dd" d="M327.42 260.42h2.36v2.37h-2.36zM283.11 264.45h2.36v2.37h-2.36zM283.11 268.48h2.36v2.37h-2.36zM283.11 282.6h2.36v2.37h-2.36zM283.11 286.63h2.36v2.37h-2.36zM283.11 288.65h2.36v2.37h-2.36zM285.13 300.75h2.36v2.37h-2.36zM285.13 304.78h2.36v2.37h-2.36zM287.14 310.83h2.36v2.37h-2.36zM287.14 316.88h2.36v2.37h-2.36zM289.16 326.97h2.36v2.37h-2.36z"/>
<path shape-rendering="crispEdges" fill="#aadce0" d="M283.11 276.55h2.36v2.37h-2.36zM283.11 278.57h2.36v2.37h-2.36zM291.17 328.98h2.36v2.37h-2.36z"/>
<path shape-rendering="crispEdges" fill="#b9e3dc" d="M283.11 260.42h2.36v2.37h-2.36zM281.1 268.48h2.36v2.37h-2.36zM283.11 270.5h2.36v2.37h-2.36zM283.11 280.58h2.36v2.37h-2.36zM285.13 302.77h2.36v2.37h-2.36zM287.14 314.87h2.36v2.37h-2.36z"/>
<path shape-rendering="crispEdges" fill="#c8ead8" d="M281.1 262.43h2.36v2.37h-2.36zM281.1 266.47h2.36v2.37h-2.36zM283.11 290.67h2.36v2.37h-2.36zM283.11 292.68h2.36v2.37h-2.36zM289.16 324.95h2.36v2.37h-2.36z"/>
<path shape-rendering="crispEdges" fill="#d4ebcc" d="M281.1 258.4h2.36v2.37h-2.36zM283.11 294.7h2.36v2.37h-2.36z"/>
<path shape-rendering="crispEdges" fill="#e0ecc0" d="M281.1 260.42h2.36v2.37h-2.36zM281.1 264.45h2.36v2.37h-2.36zM283.11 296.72h2.36v2.37h-2.36zM285.13 308.82h2.36v2.37h-2.36zM287.14 318.9h2.36v2.37h-2.36z"/>
<path shape-rendering="crispEdges" fill="#e3e7ad" d="M281.1 270.5h2.36v2.37h-2.36zM281.1 274.53h2.36v2.37h-2.36zM285.13 306.8h2.36v2.37h-2.36zM289.16 328.98h2.36v2.37h-2.36z"/>
<path shape-rendering="crispEdges" fill="#e6e29a" d="M281.1 272.52h2.36v2.37h-2.36zM283.11 298.73h2.36v2.37h-2.36zM287.14 320.92h2.36v2.37h-2.36z"/>
<path shape-rendering="crispEdges" fill="#dfd582" d="M281.1 276.55h2.36v2.37h-2.36zM281.1 278.57h2.36v2.37h-2.36zM281.1 280.58h2.36v2.37h-2.36z"/>
<path shape-rendering="crispEdges" fill="#d8c86a" d="M281.1 282.6h2.36v2.37h-2.36zM285.13 312.85h2.36v2.37h-2.36z"/>
<path shape-rendering="crispEdges" fill="#cdb55a" d="M281.1 284.62h2.36v2.37h-2.36zM283.11 300.75h2.36v2.37h-2.36zM285.13 310.83h2.36v2.37h-2.36z"/>
<path shape-rendering="crispEdges" fill="#c2a24a" d="M281.1 286.63h2.36v2.37h-2.36zM283.11 306.8h2.36v2.37h-2.36zM287.14 322.93h2.36v2.37h-2.36zM287.14 326.97h2.36v2.37h-2.36z"/>
<path shape-rendering="crispEdges" fill="#ba9644" d="M281.1 288.65h2.36v2.37h-2.36zM283.11 302.77h2.36v2.37h-2.36z"/>
<path shape-rendering="crispEdges" fill="#b28a3d" d="M281.1 290.67h2.36v2.37h-2.36zM281.1 292.68h2.36v2.37h-2.36zM281.1 294.7h2.36v2.37h-2.36zM285.13 318.9h2.36v2.37h-2.36z"/>
<path shape-rendering="crispEdges" fill="#aa7e36" d="M283.11 304.78h2.36v2.37h-2.36zM285.13 314.87h2.36v2.37h-2.36z"/>
<path shape-rendering="crispEdges" fill="#a27230" d="M281.1 296.72h2.36v2.37h-2.36zM283.11 308.82h2.36v2.37h-2.36zM285.13 316.88h2.36v2.37h-2.36zM285.13 320.92h2.36v2.37h-2.36zM287.14 324.95h2.36v2.37h-2.36z"/>
<path shape-rendering="crispEdges" fill="#9c692c" d="M283.11 310.83h2.36v2.37h-2.36zM283.11 312.85h2.36v2.37h-2.36zM287.14 328.98h2.36v2.37h-2.36z"/>
<path shape-rendering="crispEdges" fill="#965f27" d="M281.1 298.73h2.36v2.37h-2.36z"/>
<path shape-rendering="crispEdges" fill="#905623" d="M285.13 322.93h2.36v2.37h-2.36z"/>
<path shape-rendering="crispEdges" fill="#8a4c1e" d="M281.1 300.75h2.36v2.37h-2.36z"/>
<path shape-rendering="crispEdges" fill="#84431a" d="M281.1 302.77h2.36v2.37h-2.36zM283.11 314.87h2.36v2.37h-2.36z"/>
<path shape-rendering="crispEdges" fill="#7d3b17" d="M281.1 304.78h2.36v2.37h-2.36zM283.11 316.88h2.36v2.37h-2.36zM285.13 324.95h2.36v2.37h-2.36z"/>
<path shape-rendering="crispEdges" fill="#763314" d="M281.1 306.8h2.36v2.37h-2.36zM285.13 326.97h2.36v2.37h-2.36z"/>
<path shape-rendering="crispEdges" fill="#702a10" d="M281.1 308.82h2.36v2.37h-2.36zM281.1 310.83h2.36v2.37h-2.36zM281.1 312.85h2.36v2.37h-2.36zM281.1 314.87h2.36v2.37h-2.36zM281.1 316.88h2.36v2.37h-2.36zM281.1 318.9h4.38v2.37h-4.38zM281.1 320.92h4.38v2.37h-4.38zM281.1 322.93h4.38v2.37h-4.38zM281.1 324.95h4.38v2.37h-4.38zM281.1 326.97h4.38v2.37h-4.38zM281.1 328.98h6.39v2.37h-6.39z"/>
<rect x="281.1" y="258.4" width="72.5" height="72.6" fill="none" stroke="#9a9a9a" stroke-width="0.4"/>
<path shape-rendering="crispEdges" fill="#2a409a" d="M394.75 312.85h2.37v2.37h-2.37z"/>
<path shape-rendering="crispEdges" fill="#2c459d" d="M396.77 304.78h2.37v2.37h-2.37zM421 304.78h2.37v2.37h-2.37zM429.08 304.78h2.37v2.37h-2.37zM364.46 314.87h2.37v2.37h-2.37zM370.52 314.87h2.37v2.37h-2.37zM414.94 326.97h2.37v2.37h-2.37zM362.44 328.98h2.37v2.37h-2.37z"/>
<path shape-rendering="crispEdges" fill="#2e4aa0" d="M376.57 272.52h2.37v2.37h-2.37zM368.5 292.68h2.37v2.37h-2.37zM384.65 292.68h2.37v2.37h-2.37zM374.56 298.73h2.37v2.37h-2.37zM374.56 304.78h2.37v2.37h-2.37zM412.93 304.78h2.37v2.37h-2.37zM416.96 304.78h2.37v2.37h-2.37zM425.04 304.78h2.37v2.37h-2.37zM360.42 310.83h2.37v2.37h-2.37zM372.54 312.85h2.37v2.37h-2.37zM418.98 312.85h2.37v2.37h-2.37zM386.67 314.87h2.37v2.37h-2.37zM392.73 314.87h2.37v2.37h-2.37zM370.52 324.95h2.37v2.37h-2.37zM425.04 324.95h2.37v2.37h-2.37zM388.69 326.97h2.37v2.37h-2.37zM402.83 326.97h2.37v2.37h-2.37zM427.06 326.97h2.37v2.37h-2.37z"/>
<path shape-rendering="crispEdges" fill="#3050a4" d="M360.42 272.52h2.37v2.37h-2.37zM370.52 272.52h2.37v2.37h-2.37zM368.5 276.55h2.37v2.37h-2.37zM392.73 278.57h2.37v2.37h-2.37zM416.96 278.57h2.37v2.37h-2.37zM380.61 280.58h2.37v2.37h-2.37zM427.06 280.58h2.37v2.37h-2.37zM392.73 292.68h2.37v2.37h-2.37zM402.83 292.68h2.37v2.37h-2.37zM412.93 292.68h4.39v2.37h-4.39zM416.96 294.7h2.37v2.37h-2.37zM406.87 296.72h2.37v2.37h-2.37zM400.81 298.73h2.37v2.37h-2.37zM408.89 298.73h4.39v2.37h-4.39zM421 298.73h2.37v2.37h-2.37zM368.5 302.77h2.37v2.37h-2.37zM404.85 302.77h2.37v2.37h-2.37zM364.46 304.78h2.37v2.37h-2.37zM370.52 304.78h2.37v2.37h-2.37zM376.57 304.78h2.37v2.37h-2.37zM380.61 304.78h2.37v2.37h-2.37zM384.65 304.78h2.37v2.37h-2.37zM392.73 304.78h4.39v2.37h-4.39zM398.79 304.78h2.37v2.37h-2.37zM400.81 306.8h2.37v2.37h-2.37zM364.46 310.83h2.37v2.37h-2.37zM370.52 310.83h4.39v2.37h-4.39zM376.57 310.83h4.39v2.37h-4.39zM386.67 310.83h2.37v2.37h-2.37zM390.71 310.83h2.37v2.37h-2.37zM380.61 312.85h2.37v2.37h-2.37zM400.81 312.85h2.37v2.37h-2.37zM406.87 312.85h2.37v2.37h-2.37zM384.65 314.87h2.37v2.37h-2.37zM400.81 314.87h2.37v2.37h-2.37zM370.52 316.88h2.37v2.37h-2.37zM404.85 316.88h2.37v2.37h-2.37zM376.57 318.9h2.37v2.37h-2.37zM380.61 318.9h2.37v2.37h-2.37zM366.48 320.92h2.37v2.37h-2.37zM382.63 320.92h2.37v2.37h-2.37zM366.48 324.95h2.37v2.37h-2.37zM374.56 324.95h2.37v2.37h-2.37zM378.59 324.95h2.37v2.37h-2.37zM390.71 324.95h2.37v2.37h-2.37zM402.83 324.95h2.37v2.37h-2.37zM423.02 324.95h2.37v2.37h-2.37zM384.65 326.97h2.37v2.37h-2.37zM410.91 326.97h4.39v2.37h-4.39zM366.48 328.98h2.37v2.37h-2.37zM382.63 328.98h2.37v2.37h-2.37zM400.81 328.98h2.37v2.37h-2.37zM421 328.98h2.37v2.37h-2.37z"/>
<path shape-rendering="crispEdges" fill="#3458a8" d="M372.54 260.42h2.37v2.37h-2.37zM429.08 262.43h2.37v2.37h-2.37zM421 264.45h2.37v2.37h-2.37zM398.79 268.48h2.37v2.37h-2.37zM372.54 272.52h2.37v2.37h-2.37zM384.65 272.52h6.41v2.37h-6.41zM394.75 272.52h2.37v2.37h-2.37zM364.46 276.55h4.39v2.37h-4.39zM374.56 276.55h2.37v2.37h-2.37zM380.61 276.55h2.37v2.37h-2.37zM398.79 276.55h2.37v2.37h-2.37zM425.04 276.55h2.37v2.37h-2.37zM358.4 278.57h2.37v2.37h-2.37zM372.54 278.57h4.39v2.37h-4.39zM380.61 278.57h2.37v2.37h-2.37zM390.71 278.57h2.37v2.37h-2.37zM404.85 278.57h2.37v2.37h-2.37zM421 278.57h2.37v2.37h-2.37zM425.04 278.57h2.37v2.37h-2.37zM416.96 280.58h2.37v2.37h-2.37zM360.42 282.6h2.37v2.37h-2.37zM425.04 282.6h2.37v2.37h-2.37zM380.61 284.62h2.37v2.37h-2.37zM421 286.63h2.37v2.37h-2.37zM358.4 290.67h2.37v2.37h-2.37zM358.4 292.68h2.37v2.37h-2.37zM380.61 292.68h2.37v2.37h-2.37zM388.69 292.68h2.37v2.37h-2.37zM410.91 292.68h2.37v2.37h-2.37zM421 292.68h4.39v2.37h-4.39zM372.54 296.72h4.39v2.37h-4.39zM429.08 296.72h2.37v2.37h-2.37zM372.54 298.73h2.37v2.37h-2.37zM378.59 298.73h2.37v2.37h-2.37zM406.87 298.73h2.37v2.37h-2.37zM425.04 298.73h4.39v2.37h-4.39zM429.08 300.75h2.37v2.37h-2.37zM414.94 302.77h2.37v2.37h-2.37zM360.42 304.78h4.39v2.37h-4.39zM368.5 304.78h2.37v2.37h-2.37zM382.63 304.78h2.37v2.37h-2.37zM386.67 304.78h2.37v2.37h-2.37zM402.83 304.78h2.37v2.37h-2.37zM406.87 304.78h4.39v2.37h-4.39zM418.98 304.78h2.37v2.37h-2.37zM423.02 304.78h2.37v2.37h-2.37zM386.67 306.8h2.37v2.37h-2.37zM364.46 308.82h2.37v2.37h-2.37zM378.59 308.82h2.37v2.37h-2.37zM410.91 308.82h2.37v2.37h-2.37zM425.04 308.82h4.39v2.37h-4.39zM358.4 310.83h2.37v2.37h-2.37zM392.73 310.83h2.37v2.37h-2.37zM406.87 310.83h4.39v2.37h-4.39zM414.94 310.83h4.39v2.37h-4.39zM425.04 310.83h2.37v2.37h-2.37zM429.08 310.83h2.37v2.37h-2.37zM360.42 312.85h2.37v2.37h-2.37zM366.48 312.85h2.37v2.37h-2.37zM382.63 312.85h2.37v2.37h-2.37zM386.67 312.85h2.37v2.37h-2.37zM390.71 312.85h2.37v2.37h-2.37zM404.85 312.85h2.37v2.37h-2.37zM360.42 314.87h2.37v2.37h-2.37zM388.69 314.87h2.37v2.37h-2.37zM396.77 314.87h2.37v2.37h-2.37zM418.98 314.87h2.37v2.37h-2.37zM368.5 316.88h2.37v2.37h-2.37zM390.71 316.88h2.37v2.37h-2.37zM396.77 316.88h2.37v2.37h-2.37zM418.98 316.88h2.37v2.37h-2.37zM427.06 316.88h2.37v2.37h-2.37zM362.44 318.9h2.37v2.37h-2.37zM366.48 318.9h6.41v2.37h-6.41zM402.83 318.9h2.37v2.37h-2.37zM410.91 318.9h2.37v2.37h-2.37zM423.02 318.9h2.37v2.37h-2.37zM427.06 318.9h2.37v2.37h-2.37zM380.61 320.92h2.37v2.37h-2.37zM384.65 320.92h2.37v2.37h-2.37zM390.71 320.92h2.37v2.37h-2.37zM427.06 320.92h2.37v2.37h-2.37zM398.79 322.93h2.37v2.37h-2.37zM360.42 324.95h2.37v2.37h-2.37zM364.46 324.95h2.37v2.37h-2.37zM372.54 324.95h2.37v2.37h-2.37zM382.63 324.95h6.41v2.37h-6.41zM394.75 324.95h2.37v2.37h-2.37zM408.89 324.95h2.37v2.37h-2.37zM414.94 324.95h2.37v2.37h-2.37zM366.48 326.97h2.37v2.37h-2.37zM372.54 326.97h2.37v2.37h-2.37zM394.75 326.97h2.37v2.37h-2.37zM398.79 326.97h2.37v2.37h-2.37zM418.98 326.97h2.37v2.37h-2.37zM378.59 328.98h4.39v2.37h-4.39zM386.67 328.98h2.37v2.37h-2.37zM390.71 328.98h2.37v2.37h-2.37zM396.77 328.98h2.37v2.37h-2.37z"/>
<path shape-rendering="crispEdges" fill="#3860ad" d="M425.04 258.4h2.37v2.37h-2.37zM382.63 260.42h2.37v2.37h-2.37zM398.79 260.42h2.37v2.37h-2.37zM376.57 262.43h2.37v2.37h-2.37zM396.77 262.43h2.37v2.37h-2.37zM366.48 268.48h2.37v2.37h-2.37zM382.63 268.48h2.37v2.37h-2.37zM410.91 268.48h2.37v2.37h-2.37zM366.48 272.52h4.39v2.37h-4.39zM382.63 272.52h2.37v2.37h-2.37zM390.71 272.52h2.37v2.37h-2.37zM400.81 272.52h2.37v2.37h-2.37zM406.87 272.52h2.37v2.37h-2.37zM414.94 272.52h2.37v2.37h-2.37zM421 272.52h2.37v2.37h-2.37zM360.42 274.53h4.39v2.37h-4.39zM408.89 274.53h2.37v2.37h-2.37zM358.4 276.55h2.37v2.37h-2.37zM372.54 276.55h2.37v2.37h-2.37zM376.57 276.55h2.37v2.37h-2.37zM382.63 276.55h2.37v2.37h-2.37zM388.69 276.55h2.37v2.37h-2.37zM396.77 276.55h2.37v2.37h-2.37zM404.85 276.55h4.39v2.37h-4.39zM388.69 278.57h2.37v2.37h-2.37zM398.79 278.57h4.39v2.37h-4.39zM406.87 278.57h2.37v2.37h-2.37zM410.91 278.57h4.39v2.37h-4.39zM423.02 278.57h2.37v2.37h-2.37zM427.06 278.57h4.39v2.37h-4.39zM366.48 280.58h2.37v2.37h-2.37zM396.77 280.58h2.37v2.37h-2.37zM410.91 280.58h2.37v2.37h-2.37zM368.5 282.6h2.37v2.37h-2.37zM386.67 282.6h4.39v2.37h-4.39zM402.83 284.62h2.37v2.37h-2.37zM360.42 286.63h2.37v2.37h-2.37zM380.61 286.63h2.37v2.37h-2.37zM406.87 286.63h2.37v2.37h-2.37zM414.94 290.67h2.37v2.37h-2.37zM364.46 292.68h2.37v2.37h-2.37zM386.67 292.68h2.37v2.37h-2.37zM394.75 292.68h4.39v2.37h-4.39zM400.81 292.68h2.37v2.37h-2.37zM404.85 292.68h2.37v2.37h-2.37zM416.96 292.68h4.39v2.37h-4.39zM425.04 292.68h2.37v2.37h-2.37zM378.59 294.7h2.37v2.37h-2.37zM388.69 294.7h2.37v2.37h-2.37zM398.79 294.7h2.37v2.37h-2.37zM402.83 294.7h2.37v2.37h-2.37zM362.44 296.72h2.37v2.37h-2.37zM366.48 296.72h4.39v2.37h-4.39zM394.75 296.72h4.39v2.37h-4.39zM402.83 296.72h2.37v2.37h-2.37zM416.96 296.72h2.37v2.37h-2.37zM362.44 298.73h2.37v2.37h-2.37zM382.63 298.73h2.37v2.37h-2.37zM386.67 298.73h2.37v2.37h-2.37zM404.85 298.73h2.37v2.37h-2.37zM362.44 300.75h2.37v2.37h-2.37zM382.63 300.75h2.37v2.37h-2.37zM390.71 300.75h2.37v2.37h-2.37zM360.42 302.77h4.39v2.37h-4.39zM372.54 302.77h2.37v2.37h-2.37zM376.57 302.77h6.41v2.37h-6.41zM384.65 302.77h2.37v2.37h-2.37zM392.73 302.77h2.37v2.37h-2.37zM400.81 302.77h2.37v2.37h-2.37zM406.87 302.77h2.37v2.37h-2.37zM418.98 302.77h4.39v2.37h-4.39zM427.06 302.77h2.37v2.37h-2.37zM358.4 304.78h2.37v2.37h-2.37zM378.59 304.78h2.37v2.37h-2.37zM388.69 304.78h4.39v2.37h-4.39zM400.81 304.78h2.37v2.37h-2.37zM410.91 304.78h2.37v2.37h-2.37zM368.5 306.8h2.37v2.37h-2.37zM388.69 306.8h2.37v2.37h-2.37zM406.87 306.8h2.37v2.37h-2.37zM410.91 306.8h4.39v2.37h-4.39zM358.4 308.82h2.37v2.37h-2.37zM370.52 308.82h4.39v2.37h-4.39zM388.69 308.82h2.37v2.37h-2.37zM392.73 308.82h2.37v2.37h-2.37zM396.77 308.82h2.37v2.37h-2.37zM418.98 308.82h2.37v2.37h-2.37zM362.44 310.83h2.37v2.37h-2.37zM366.48 310.83h2.37v2.37h-2.37zM380.61 310.83h2.37v2.37h-2.37zM384.65 310.83h2.37v2.37h-2.37zM402.83 310.83h2.37v2.37h-2.37zM418.98 310.83h2.37v2.37h-2.37zM423.02 310.83h2.37v2.37h-2.37zM427.06 310.83h2.37v2.37h-2.37zM362.44 312.85h4.39v2.37h-4.39zM368.5 312.85h2.37v2.37h-2.37zM374.56 312.85h6.41v2.37h-6.41zM398.79 312.85h2.37v2.37h-2.37zM421 312.85h2.37v2.37h-2.37zM427.06 312.85h4.39v2.37h-4.39zM358.4 314.87h2.37v2.37h-2.37zM362.44 314.87h2.37v2.37h-2.37zM368.5 314.87h2.37v2.37h-2.37zM372.54 314.87h2.37v2.37h-2.37zM376.57 314.87h2.37v2.37h-2.37zM394.75 314.87h2.37v2.37h-2.37zM398.79 314.87h2.37v2.37h-2.37zM404.85 314.87h2.37v2.37h-2.37zM410.91 314.87h2.37v2.37h-2.37zM378.59 316.88h2.37v2.37h-2.37zM382.63 316.88h2.37v2.37h-2.37zM386.67 316.88h4.39v2.37h-4.39zM398.79 316.88h2.37v2.37h-2.37zM402.83 316.88h2.37v2.37h-2.37zM406.87 316.88h2.37v2.37h-2.37zM412.93 316.88h4.39v2.37h-4.39zM423.02 316.88h2.37v2.37h-2.37zM429.08 316.88h2.37v2.37h-2.37zM360.42 318.9h2.37v2.37h-2.37zM372.54 318.9h2.37v2.37h-2.37zM384.65 318.9h2.37v2.37h-2.37zM388.69 318.9h2.37v2.37h-2.37zM398.79 318.9h4.39v2.37h-4.39zM408.89 318.9h2.37v2.37h-2.37zM412.93 318.9h2.37v2.37h-2.37zM418.98 318.9h2.37v2.37h-2.37zM425.04 318.9h2.37v2.37h-2.37zM358.4 320.92h4.39v2.37h-4.39zM374.56 320.92h2.37v2.37h-2.37zM412.93 320.92h2.37v2.37h-2.37zM416.96 320.92h2.37v2.37h-2.37zM423.02 320.92h2.37v2.37h-2.37zM368.5 322.93h2.37v2.37h-2.37zM402.83 322.93h2.37v2.37h-2.37zM362.44 324.95h2.37v2.37h-2.37zM376.57 324.95h2.37v2.37h-2.37zM380.61 324.95h2.37v2.37h-2.37zM398.79 324.95h2.37v2.37h-2.37zM406.87 324.95h2.37v2.37h-2.37zM410.91 324.95h2.37v2.37h-2.37zM416.96 324.95h2.37v2.37h-2.37zM362.44 326.97h2.37v2.37h-2.37zM368.5 326.97h4.39v2.37h-4.39zM374.56 326.97h2.37v2.37h-2.37zM378.59 326.97h2.37v2.37h-2.37zM382.63 326.97h2.37v2.37h-2.37zM392.73 326.97h2.37v2.37h-2.37zM416.96 326.97h2.37v2.37h-2.37zM423.02 326.97h2.37v2.37h-2.37zM429.08 326.97h2.37v2.37h-2.37zM384.65 328.98h2.37v2.37h-2.37zM394.75 328.98h2.37v2.37h-2.37zM404.85 328.98h4.39v2.37h-4.39zM416.96 328.98h2.37v2.37h-2.37zM425.04 328.98h2.37v2.37h-2.37z"/>
<path shape-rendering="crispEdges" fill="#3c68b2" d="M364.46 258.4h4.39v2.37h-4.39zM370.52 258.4h2.37v2.37h-2.37zM390.71 258.4h2.37v2.37h-2.37zM406.87 258.4h2.37v2.37h-2.37zM368.5 260.42h2.37v2.37h-2.37zM386.67 260.42h4.39v2.37h-4.39zM360.42 262.43h2.37v2.37h-2.37zM416.96 262.43h2.37v2.37h-2.37zM425.04 262.43h2.37v2.37h-2.37zM368.5 264.45h2.37v2.37h-2.37zM376.57 264.45h2.37v2.37h-2.37zM380.61 264.45h6.41v2.37h-6.41zM414.94 264.45h4.39v2.37h-4.39zM364.46 266.47h2.37v2.37h-2.37zM394.75 268.48h2.37v2.37h-2.37zM423.02 268.48h2.37v2.37h-2.37zM366.48 270.5h2.37v2.37h-2.37zM410.91 270.5h2.37v2.37h-2.37zM364.46 272.52h2.37v2.37h-2.37zM374.56 272.52h2.37v2.37h-2.37zM402.83 272.52h2.37v2.37h-2.37zM412.93 272.52h2.37v2.37h-2.37zM423.02 272.52h4.39v2.37h-4.39zM358.4 274.53h2.37v2.37h-2.37zM378.59 274.53h4.39v2.37h-4.39zM392.73 274.53h2.37v2.37h-2.37zM398.79 274.53h2.37v2.37h-2.37zM406.87 274.53h2.37v2.37h-2.37zM414.94 274.53h2.37v2.37h-2.37zM362.44 276.55h2.37v2.37h-2.37zM378.59 276.55h2.37v2.37h-2.37zM384.65 276.55h2.37v2.37h-2.37zM368.5 278.57h2.37v2.37h-2.37zM394.75 278.57h4.39v2.37h-4.39zM370.52 280.58h4.39v2.37h-4.39zM384.65 280.58h2.37v2.37h-2.37zM388.69 280.58h2.37v2.37h-2.37zM404.85 280.58h4.39v2.37h-4.39zM418.98 280.58h2.37v2.37h-2.37zM423.02 280.58h2.37v2.37h-2.37zM370.52 282.6h2.37v2.37h-2.37zM384.65 282.6h2.37v2.37h-2.37zM390.71 282.6h2.37v2.37h-2.37zM402.83 282.6h2.37v2.37h-2.37zM423.02 282.6h2.37v2.37h-2.37zM427.06 282.6h2.37v2.37h-2.37zM358.4 284.62h2.37v2.37h-2.37zM378.59 284.62h2.37v2.37h-2.37zM406.87 284.62h4.39v2.37h-4.39zM429.08 284.62h2.37v2.37h-2.37zM358.4 286.63h2.37v2.37h-2.37zM370.52 286.63h2.37v2.37h-2.37zM374.56 286.63h2.37v2.37h-2.37zM394.75 286.63h6.41v2.37h-6.41zM370.52 290.67h2.37v2.37h-2.37zM384.65 290.67h2.37v2.37h-2.37zM392.73 290.67h2.37v2.37h-2.37zM406.87 290.67h2.37v2.37h-2.37zM360.42 292.68h2.37v2.37h-2.37zM370.52 292.68h10.45v2.37h-10.45zM398.79 292.68h2.37v2.37h-2.37zM408.89 292.68h2.37v2.37h-2.37zM429.08 292.68h2.37v2.37h-2.37zM358.4 294.7h2.37v2.37h-2.37zM380.61 294.7h4.39v2.37h-4.39zM390.71 294.7h2.37v2.37h-2.37zM394.75 294.7h4.39v2.37h-4.39zM404.85 294.7h6.41v2.37h-6.41zM412.93 294.7h4.39v2.37h-4.39zM418.98 294.7h2.37v2.37h-2.37zM423.02 294.7h2.37v2.37h-2.37zM427.06 294.7h2.37v2.37h-2.37zM358.4 296.72h2.37v2.37h-2.37zM378.59 296.72h2.37v2.37h-2.37zM382.63 296.72h4.39v2.37h-4.39zM388.69 296.72h2.37v2.37h-2.37zM392.73 296.72h2.37v2.37h-2.37zM398.79 296.72h2.37v2.37h-2.37zM410.91 296.72h2.37v2.37h-2.37zM414.94 296.72h2.37v2.37h-2.37zM418.98 296.72h4.39v2.37h-4.39zM425.04 296.72h4.39v2.37h-4.39zM360.42 298.73h2.37v2.37h-2.37zM368.5 298.73h4.39v2.37h-4.39zM376.57 298.73h2.37v2.37h-2.37zM384.65 298.73h2.37v2.37h-2.37zM392.73 298.73h2.37v2.37h-2.37zM398.79 298.73h2.37v2.37h-2.37zM364.46 300.75h2.37v2.37h-2.37zM374.56 300.75h4.39v2.37h-4.39zM404.85 300.75h2.37v2.37h-2.37zM418.98 300.75h2.37v2.37h-2.37zM366.48 302.77h2.37v2.37h-2.37zM374.56 302.77h2.37v2.37h-2.37zM382.63 302.77h2.37v2.37h-2.37zM398.79 302.77h2.37v2.37h-2.37zM408.89 302.77h2.37v2.37h-2.37zM412.93 302.77h2.37v2.37h-2.37zM423.02 302.77h4.39v2.37h-4.39zM429.08 302.77h2.37v2.37h-2.37zM366.48 304.78h2.37v2.37h-2.37zM372.54 304.78h2.37v2.37h-2.37zM404.85 304.78h2.37v2.37h-2.37zM414.94 304.78h2.37v2.37h-2.37zM427.06 304.78h2.37v2.37h-2.37zM372.54 306.8h10.45v2.37h-10.45zM390.71 306.8h2.37v2.37h-2.37zM396.77 306.8h2.37v2.37h-2.37zM404.85 306.8h2.37v2.37h-2.37zM418.98 306.8h2.37v2.37h-2.37zM427.06 306.8h2.37v2.37h-2.37zM360.42 308.82h2.37v2.37h-2.37zM374.56 308.82h4.39v2.37h-4.39zM390.71 308.82h2.37v2.37h-2.37zM402.83 308.82h4.39v2.37h-4.39zM412.93 308.82h2.37v2.37h-2.37zM368.5 310.83h2.37v2.37h-2.37zM382.63 310.83h2.37v2.37h-2.37zM388.69 310.83h2.37v2.37h-2.37zM394.75 310.83h8.43v2.37h-8.43zM404.85 310.83h2.37v2.37h-2.37zM410.91 310.83h4.39v2.37h-4.39zM358.4 312.85h2.37v2.37h-2.37zM370.52 312.85h2.37v2.37h-2.37zM384.65 312.85h2.37v2.37h-2.37zM392.73 312.85h2.37v2.37h-2.37zM396.77 312.85h2.37v2.37h-2.37zM414.94 312.85h2.37v2.37h-2.37zM425.04 312.85h2.37v2.37h-2.37zM374.56 314.87h2.37v2.37h-2.37zM378.59 314.87h2.37v2.37h-2.37zM382.63 314.87h2.37v2.37h-2.37zM402.83 314.87h2.37v2.37h-2.37zM408.89 314.87h2.37v2.37h-2.37zM416.96 314.87h2.37v2.37h-2.37zM421 314.87h2.37v2.37h-2.37zM358.4 316.88h2.37v2.37h-2.37zM366.48 316.88h2.37v2.37h-2.37zM380.61 316.88h2.37v2.37h-2.37zM392.73 316.88h2.37v2.37h-2.37zM410.91 316.88h2.37v2.37h-2.37zM364.46 318.9h2.37v2.37h-2.37zM378.59 318.9h2.37v2.37h-2.37zM382.63 318.9h2.37v2.37h-2.37zM394.75 318.9h2.37v2.37h-2.37zM404.85 318.9h4.39v2.37h-4.39zM414.94 318.9h2.37v2.37h-2.37zM429.08 318.9h2.37v2.37h-2.37zM394.75 320.92h4.39v2.37h-4.39zM402.83 320.92h2.37v2.37h-2.37zM418.98 320.92h4.39v2.37h-4.39zM425.04 320.92h2.37v2.37h-2.37zM404.85 322.93h2.37v2.37h-2.37zM416.96 322.93h2.37v2.37h-2.37zM425.04 322.93h2.37v2.37h-2.37zM368.5 324.95h2.37v2.37h-2.37zM429.08 324.95h2.37v2.37h-2.37zM358.4 326.97h2.37v2.37h-2.37zM364.46 326.97h2.37v2.37h-2.37zM380.61 326.97h2.37v2.37h-2.37zM386.67 326.97h2.37v2.37h-2.37zM390.71 326.97h2.37v2.37h-2.37zM396.77 326.97h2.37v2.37h-2.37zM406.87 326.97h4.39v2.37h-4.39zM421 326.97h2.37v2.37h-2.37zM425.04 326.97h2.37v2.37h-2.37zM358.4 328.98h2.37v2.37h-2.37zM368.5 328.98h4.39v2.37h-4.39zM374.56 328.98h4.39v2.37h-4.39zM398.79 328.98h2.37v2.37h-2.37zM402.83 328.98h2.37v2.37h-2.37zM408.89 328.98h4.39v2.37h-4.39zM414.94 328.98h2.37v2.37h-2.37zM418.98 328.98h2.37v2.37h-2.37zM427.06 328.98h2.37v2.37h-2.37z"/>
<path shape-rendering="crispEdges" fill="#4070b6" d="M360.42 258.4h2.37v2.37h-2.37zM372.54 258.4h2.37v2.37h-2.37zM380.61 258.4h2.37v2.37h-2.37zM386.67 258.4h2.37v2.37h-2.37zM398.79 258.4h2.37v2.37h-2.37zM402.83 258.4h4.39v2.37h-4.39zM410.91 258.4h2.37v2.37h-2.37zM416.96 258.4h2.37v2.37h-2.37zM394.75 260.42h2.37v2.37h-2.37zM412.93 260.42h2.37v2.37h-2.37zM358.4 262.43h2.37v2.37h-2.37zM364.46 262.43h4.39v2.37h-4.39zM374.56 262.43h2.37v2.37h-2.37zM380.61 262.43h4.39v2.37h-4.39zM388.69 262.43h4.39v2.37h-4.39zM400.81 262.43h4.39v2.37h-4.39zM406.87 262.43h2.37v2.37h-2.37zM410.91 262.43h4.39v2.37h-4.39zM421 262.43h2.37v2.37h-2.37zM358.4 264.45h2.37v2.37h-2.37zM370.52 264.45h2.37v2.37h-2.37zM386.67 264.45h2.37v2.37h-2.37zM396.77 264.45h2.37v2.37h-2.37zM400.81 264.45h2.37v2.37h-2.37zM404.85 264.45h2.37v2.37h-2.37zM408.89 264.45h2.37v2.37h-2.37zM368.5 266.47h2.37v2.37h-2.37zM376.57 266.47h2.37v2.37h-2.37zM380.61 266.47h4.39v2.37h-4.39zM390.71 266.47h4.39v2.37h-4.39zM396.77 266.47h2.37v2.37h-2.37zM404.85 266.47h2.37v2.37h-2.37zM414.94 266.47h2.37v2.37h-2.37zM421 266.47h2.37v2.37h-2.37zM364.46 268.48h2.37v2.37h-2.37zM372.54 268.48h2.37v2.37h-2.37zM376.57 268.48h4.39v2.37h-4.39zM400.81 268.48h2.37v2.37h-2.37zM406.87 268.48h2.37v2.37h-2.37zM414.94 268.48h2.37v2.37h-2.37zM360.42 270.5h2.37v2.37h-2.37zM376.57 270.5h2.37v2.37h-2.37zM358.4 272.52h2.37v2.37h-2.37zM362.44 272.52h2.37v2.37h-2.37zM396.77 272.52h2.37v2.37h-2.37zM404.85 272.52h2.37v2.37h-2.37zM416.96 272.52h4.39v2.37h-4.39zM427.06 272.52h2.37v2.37h-2.37zM366.48 274.53h4.39v2.37h-4.39zM376.57 274.53h2.37v2.37h-2.37zM412.93 274.53h2.37v2.37h-2.37zM416.96 274.53h2.37v2.37h-2.37zM423.02 274.53h2.37v2.37h-2.37zM386.67 276.55h2.37v2.37h-2.37zM390.71 276.55h6.41v2.37h-6.41zM402.83 276.55h2.37v2.37h-2.37zM408.89 276.55h2.37v2.37h-2.37zM412.93 276.55h2.37v2.37h-2.37zM416.96 276.55h6.41v2.37h-6.41zM427.06 276.55h2.37v2.37h-2.37zM360.42 278.57h4.39v2.37h-4.39zM378.59 278.57h2.37v2.37h-2.37zM386.67 278.57h2.37v2.37h-2.37zM360.42 280.58h2.37v2.37h-2.37zM368.5 280.58h2.37v2.37h-2.37zM374.56 280.58h4.39v2.37h-4.39zM382.63 280.58h2.37v2.37h-2.37zM390.71 280.58h4.39v2.37h-4.39zM398.79 280.58h6.41v2.37h-6.41zM408.89 280.58h2.37v2.37h-2.37zM414.94 280.58h2.37v2.37h-2.37zM425.04 280.58h2.37v2.37h-2.37zM358.4 282.6h2.37v2.37h-2.37zM362.44 282.6h2.37v2.37h-2.37zM380.61 282.6h4.39v2.37h-4.39zM394.75 282.6h2.37v2.37h-2.37zM400.81 282.6h2.37v2.37h-2.37zM429.08 282.6h2.37v2.37h-2.37zM364.46 284.62h2.37v2.37h-2.37zM374.56 284.62h2.37v2.37h-2.37zM412.93 284.62h2.37v2.37h-2.37zM421 284.62h2.37v2.37h-2.37zM425.04 284.62h2.37v2.37h-2.37zM372.54 286.63h2.37v2.37h-2.37zM390.71 286.63h4.39v2.37h-4.39zM404.85 286.63h2.37v2.37h-2.37zM418.98 286.63h2.37v2.37h-2.37zM423.02 286.63h6.41v2.37h-6.41zM376.57 288.65h2.37v2.37h-2.37zM406.87 288.65h2.37v2.37h-2.37zM360.42 290.67h2.37v2.37h-2.37zM364.46 290.67h4.39v2.37h-4.39zM372.54 290.67h2.37v2.37h-2.37zM376.57 290.67h4.39v2.37h-4.39zM390.71 290.67h2.37v2.37h-2.37zM400.81 290.67h2.37v2.37h-2.37zM404.85 290.67h2.37v2.37h-2.37zM408.89 290.67h2.37v2.37h-2.37zM423.02 290.67h2.37v2.37h-2.37zM429.08 290.67h2.37v2.37h-2.37zM362.44 292.68h2.37v2.37h-2.37zM366.48 292.68h2.37v2.37h-2.37zM382.63 292.68h2.37v2.37h-2.37zM406.87 292.68h2.37v2.37h-2.37zM427.06 292.68h2.37v2.37h-2.37zM362.44 294.7h2.37v2.37h-2.37zM386.67 294.7h2.37v2.37h-2.37zM392.73 294.7h2.37v2.37h-2.37zM400.81 294.7h2.37v2.37h-2.37zM421 294.7h2.37v2.37h-2.37zM364.46 296.72h2.37v2.37h-2.37zM380.61 296.72h2.37v2.37h-2.37zM404.85 296.72h2.37v2.37h-2.37zM408.89 296.72h2.37v2.37h-2.37zM412.93 296.72h2.37v2.37h-2.37zM358.4 298.73h2.37v2.37h-2.37zM366.48 298.73h2.37v2.37h-2.37zM380.61 298.73h2.37v2.37h-2.37zM388.69 298.73h4.39v2.37h-4.39zM394.75 298.73h4.39v2.37h-4.39zM402.83 298.73h2.37v2.37h-2.37zM423.02 298.73h2.37v2.37h-2.37zM429.08 298.73h2.37v2.37h-2.37zM360.42 300.75h2.37v2.37h-2.37zM386.67 300.75h2.37v2.37h-2.37zM408.89 300.75h2.37v2.37h-2.37zM421 300.75h2.37v2.37h-2.37zM388.69 302.77h4.39v2.37h-4.39zM396.77 302.77h2.37v2.37h-2.37zM402.83 302.77h2.37v2.37h-2.37zM410.91 302.77h2.37v2.37h-2.37zM416.96 302.77h2.37v2.37h-2.37zM358.4 306.8h4.39v2.37h-4.39zM384.65 306.8h2.37v2.37h-2.37zM394.75 306.8h2.37v2.37h-2.37zM398.79 306.8h2.37v2.37h-2.37zM421 306.8h6.41v2.37h-6.41zM429.08 306.8h2.37v2.37h-2.37zM362.44 308.82h2.37v2.37h-2.37zM366.48 308.82h2.37v2.37h-2.37zM380.61 308.82h4.39v2.37h-4.39zM386.67 308.82h2.37v2.37h-2.37zM398.79 308.82h2.37v2.37h-2.37zM406.87 308.82h2.37v2.37h-2.37zM414.94 308.82h4.39v2.37h-4.39zM421 308.82h4.39v2.37h-4.39zM421 310.83h2.37v2.37h-2.37zM388.69 312.85h2.37v2.37h-2.37zM402.83 312.85h2.37v2.37h-2.37zM408.89 312.85h6.41v2.37h-6.41zM416.96 312.85h2.37v2.37h-2.37zM423.02 312.85h2.37v2.37h-2.37zM366.48 314.87h2.37v2.37h-2.37zM380.61 314.87h2.37v2.37h-2.37zM390.71 314.87h2.37v2.37h-2.37zM406.87 314.87h2.37v2.37h-2.37zM412.93 314.87h4.39v2.37h-4.39zM423.02 314.87h4.39v2.37h-4.39zM429.08 314.87h2.37v2.37h-2.37zM362.44 316.88h4.39v2.37h-4.39zM372.54 316.88h2.37v2.37h-2.37zM384.65 316.88h2.37v2.37h-2.37zM408.89 316.88h2.37v2.37h-2.37zM425.04 316.88h2.37v2.37h-2.37zM386.67 318.9h2.37v2.37h-2.37zM390.71 318.9h4.39v2.37h-4.39zM396.77 318.9h2.37v2.37h-2.37zM416.96 318.9h2.37v2.37h-2.37zM421 318.9h2.37v2.37h-2.37zM370.52 320.92h2.37v2.37h-2.37zM378.59 320.92h2.37v2.37h-2.37zM386.67 320.92h2.37v2.37h-2.37zM392.73 320.92h2.37v2.37h-2.37zM398.79 320.92h2.37v2.37h-2.37zM406.87 320.92h2.37v2.37h-2.37zM429.08 320.92h2.37v2.37h-2.37zM360.42 322.93h2.37v2.37h-2.37zM384.65 322.93h2.37v2.37h-2.37zM388.69 322.93h6.41v2.37h-6.41zM414.94 322.93h2.37v2.37h-2.37zM421 322.93h2.37v2.37h-2.37zM358.4 324.95h2.37v2.37h-2.37zM392.73 324.95h2.37v2.37h-2.37zM400.81 324.95h2.37v2.37h-2.37zM404.85 324.95h2.37v2.37h-2.37zM418.98 324.95h4.39v2.37h-4.39zM427.06 324.95h2.37v2.37h-2.37zM360.42 326.97h2.37v2.37h-2.37zM404.85 326.97h2.37v2.37h-2.37zM360.42 328.98h2.37v2.37h-2.37zM364.46 328.98h2.37v2.37h-2.37zM388.69 328.98h2.37v2.37h-2.37zM392.73 328.98h2.37v2.37h-2.37zM412.93 328.98h2.37v2.37h-2.37z"/>
<path shape-rendering="crispEdges" fill="#477abb" d="M368.5 258.4h2.37v2.37h-2.37zM374.56 258.4h2.37v2.37h-2.37zM378.59 258.4h2.37v2.37h-2.37zM384.65 258.4h2.37v2.37h-2.37zM392.73 258.4h2.37v2.37h-2.37zM396.77 258.4h2.37v2.37h-2.37zM400.81 258.4h2.37v2.37h-2.37zM414.94 258.4h2.37v2.37h-2.37zM421 258.4h4.39v2.37h-4.39zM427.06 258.4h2.37v2.37h-2.37zM370.52 260.42h2.37v2.37h-2.37zM376.57 260.42h2.37v2.37h-2.37zM380.61 260.42h2.37v2.37h-2.37zM390.71 260.42h2.37v2.37h-2.37zM396.77 260.42h2.37v2.37h-2.37zM402.83 260.42h4.39v2.37h-4.39zM408.89 260.42h4.39v2.37h-4.39zM414.94 260.42h2.37v2.37h-2.37zM421 260.42h4.39v2.37h-4.39zM429.08 260.42h2.37v2.37h-2.37zM370.52 262.43h4.39v2.37h-4.39zM394.75 262.43h2.37v2.37h-2.37zM398.79 262.43h2.37v2.37h-2.37zM404.85 262.43h2.37v2.37h-2.37zM427.06 262.43h2.37v2.37h-2.37zM360.42 264.45h2.37v2.37h-2.37zM390.71 264.45h4.39v2.37h-4.39zM398.79 264.45h2.37v2.37h-2.37zM412.93 264.45h2.37v2.37h-2.37zM418.98 264.45h2.37v2.37h-2.37zM423.02 264.45h8.43v2.37h-8.43zM360.42 266.47h2.37v2.37h-2.37zM372.54 266.47h4.39v2.37h-4.39zM412.93 266.47h2.37v2.37h-2.37zM416.96 266.47h2.37v2.37h-2.37zM429.08 266.47h2.37v2.37h-2.37zM370.52 268.48h2.37v2.37h-2.37zM390.71 268.48h2.37v2.37h-2.37zM396.77 268.48h2.37v2.37h-2.37zM402.83 268.48h4.39v2.37h-4.39zM412.93 268.48h2.37v2.37h-2.37zM416.96 268.48h4.39v2.37h-4.39zM429.08 268.48h2.37v2.37h-2.37zM358.4 270.5h2.37v2.37h-2.37zM362.44 270.5h2.37v2.37h-2.37zM370.52 270.5h2.37v2.37h-2.37zM378.59 270.5h2.37v2.37h-2.37zM384.65 270.5h2.37v2.37h-2.37zM388.69 270.5h2.37v2.37h-2.37zM396.77 270.5h2.37v2.37h-2.37zM400.81 270.5h6.41v2.37h-6.41zM429.08 270.5h2.37v2.37h-2.37zM378.59 272.52h4.39v2.37h-4.39zM398.79 272.52h2.37v2.37h-2.37zM408.89 272.52h2.37v2.37h-2.37zM429.08 272.52h2.37v2.37h-2.37zM382.63 274.53h6.41v2.37h-6.41zM394.75 274.53h4.39v2.37h-4.39zM410.91 274.53h2.37v2.37h-2.37zM418.98 274.53h4.39v2.37h-4.39zM425.04 274.53h2.37v2.37h-2.37zM370.52 276.55h2.37v2.37h-2.37zM400.81 276.55h2.37v2.37h-2.37zM423.02 276.55h2.37v2.37h-2.37zM429.08 276.55h2.37v2.37h-2.37zM376.57 278.57h2.37v2.37h-2.37zM382.63 278.57h4.39v2.37h-4.39zM402.83 278.57h2.37v2.37h-2.37zM414.94 278.57h2.37v2.37h-2.37zM358.4 280.58h2.37v2.37h-2.37zM364.46 280.58h2.37v2.37h-2.37zM378.59 280.58h2.37v2.37h-2.37zM394.75 280.58h2.37v2.37h-2.37zM421 280.58h2.37v2.37h-2.37zM366.48 282.6h2.37v2.37h-2.37zM372.54 282.6h2.37v2.37h-2.37zM376.57 282.6h4.39v2.37h-4.39zM398.79 282.6h2.37v2.37h-2.37zM414.94 282.6h6.41v2.37h-6.41zM362.44 284.62h2.37v2.37h-2.37zM366.48 284.62h2.37v2.37h-2.37zM392.73 284.62h6.41v2.37h-6.41zM400.81 284.62h2.37v2.37h-2.37zM410.91 284.62h2.37v2.37h-2.37zM414.94 284.62h2.37v2.37h-2.37zM423.02 284.62h2.37v2.37h-2.37zM362.44 286.63h4.39v2.37h-4.39zM382.63 286.63h6.41v2.37h-6.41zM402.83 286.63h2.37v2.37h-2.37zM410.91 286.63h4.39v2.37h-4.39zM362.44 288.65h2.37v2.37h-2.37zM366.48 288.65h2.37v2.37h-2.37zM388.69 288.65h2.37v2.37h-2.37zM398.79 288.65h4.39v2.37h-4.39zM418.98 288.65h2.37v2.37h-2.37zM427.06 288.65h2.37v2.37h-2.37zM380.61 290.67h2.37v2.37h-2.37zM388.69 290.67h2.37v2.37h-2.37zM398.79 290.67h2.37v2.37h-2.37zM410.91 290.67h4.39v2.37h-4.39zM416.96 290.67h4.39v2.37h-4.39zM390.71 292.68h2.37v2.37h-2.37zM360.42 294.7h2.37v2.37h-2.37zM368.5 294.7h2.37v2.37h-2.37zM374.56 294.7h2.37v2.37h-2.37zM384.65 294.7h2.37v2.37h-2.37zM425.04 294.7h2.37v2.37h-2.37zM429.08 294.7h2.37v2.37h-2.37zM360.42 296.72h2.37v2.37h-2.37zM370.52 296.72h2.37v2.37h-2.37zM390.71 296.72h2.37v2.37h-2.37zM423.02 296.72h2.37v2.37h-2.37zM364.46 298.73h2.37v2.37h-2.37zM412.93 298.73h2.37v2.37h-2.37zM416.96 298.73h2.37v2.37h-2.37zM366.48 300.75h2.37v2.37h-2.37zM378.59 300.75h2.37v2.37h-2.37zM400.81 300.75h4.39v2.37h-4.39zM406.87 300.75h2.37v2.37h-2.37zM414.94 300.75h2.37v2.37h-2.37zM425.04 300.75h2.37v2.37h-2.37zM364.46 302.77h2.37v2.37h-2.37zM370.52 302.77h2.37v2.37h-2.37zM362.44 306.8h6.41v2.37h-6.41zM370.52 306.8h2.37v2.37h-2.37zM382.63 306.8h2.37v2.37h-2.37zM408.89 306.8h2.37v2.37h-2.37zM414.94 306.8h2.37v2.37h-2.37zM384.65 308.82h2.37v2.37h-2.37zM400.81 308.82h2.37v2.37h-2.37zM408.89 308.82h2.37v2.37h-2.37zM374.56 310.83h2.37v2.37h-2.37zM427.06 314.87h2.37v2.37h-2.37zM374.56 316.88h2.37v2.37h-2.37zM394.75 316.88h2.37v2.37h-2.37zM400.81 316.88h2.37v2.37h-2.37zM416.96 316.88h2.37v2.37h-2.37zM421 316.88h2.37v2.37h-2.37zM374.56 318.9h2.37v2.37h-2.37zM362.44 320.92h4.39v2.37h-4.39zM368.5 320.92h2.37v2.37h-2.37zM372.54 320.92h2.37v2.37h-2.37zM376.57 320.92h2.37v2.37h-2.37zM400.81 320.92h2.37v2.37h-2.37zM408.89 320.92h4.39v2.37h-4.39zM358.4 322.93h2.37v2.37h-2.37zM362.44 322.93h2.37v2.37h-2.37zM366.48 322.93h2.37v2.37h-2.37zM386.67 322.93h2.37v2.37h-2.37zM400.81 322.93h2.37v2.37h-2.37zM406.87 322.93h4.39v2.37h-4.39zM412.93 322.93h2.37v2.37h-2.37zM423.02 322.93h2.37v2.37h-2.37zM388.69 324.95h2.37v2.37h-2.37zM412.93 324.95h2.37v2.37h-2.37zM376.57 326.97h2.37v2.37h-2.37zM400.81 326.97h2.37v2.37h-2.37zM423.02 328.98h2.37v2.37h-2.37zM429.08 328.98h2.37v2.37h-2.37z"/>
<path shape-rendering="crispEdges" fill="#4e84c0" d="M358.4 258.4h2.37v2.37h-2.37zM376.57 258.4h2.37v2.37h-2.37zM394.75 258.4h2.37v2.37h-2.37zM412.93 258.4h2.37v2.37h-2.37zM418.98 258.4h2.37v2.37h-2.37zM429.08 258.4h2.37v2.37h-2.37zM358.4 260.42h2.37v2.37h-2.37zM364.46 260.42h2.37v2.37h-2.37zM374.56 260.42h2.37v2.37h-2.37zM392.73 260.42h2.37v2.37h-2.37zM406.87 260.42h2.37v2.37h-2.37zM416.96 260.42h2.37v2.37h-2.37zM425.04 260.42h4.39v2.37h-4.39zM362.44 262.43h2.37v2.37h-2.37zM378.59 262.43h2.37v2.37h-2.37zM384.65 262.43h4.39v2.37h-4.39zM414.94 262.43h2.37v2.37h-2.37zM418.98 262.43h2.37v2.37h-2.37zM423.02 262.43h2.37v2.37h-2.37zM362.44 264.45h2.37v2.37h-2.37zM374.56 264.45h2.37v2.37h-2.37zM378.59 264.45h2.37v2.37h-2.37zM402.83 264.45h2.37v2.37h-2.37zM410.91 264.45h2.37v2.37h-2.37zM358.4 266.47h2.37v2.37h-2.37zM370.52 266.47h2.37v2.37h-2.37zM384.65 266.47h6.41v2.37h-6.41zM398.79 266.47h2.37v2.37h-2.37zM402.83 266.47h2.37v2.37h-2.37zM408.89 266.47h4.39v2.37h-4.39zM418.98 266.47h2.37v2.37h-2.37zM423.02 266.47h2.37v2.37h-2.37zM427.06 266.47h2.37v2.37h-2.37zM360.42 268.48h4.39v2.37h-4.39zM368.5 268.48h2.37v2.37h-2.37zM374.56 268.48h2.37v2.37h-2.37zM384.65 268.48h4.39v2.37h-4.39zM392.73 268.48h2.37v2.37h-2.37zM380.61 270.5h4.39v2.37h-4.39zM386.67 270.5h2.37v2.37h-2.37zM406.87 270.5h4.39v2.37h-4.39zM418.98 270.5h2.37v2.37h-2.37zM423.02 270.5h4.39v2.37h-4.39zM372.54 274.53h2.37v2.37h-2.37zM390.71 274.53h2.37v2.37h-2.37zM402.83 274.53h2.37v2.37h-2.37zM429.08 274.53h2.37v2.37h-2.37zM364.46 278.57h4.39v2.37h-4.39zM370.52 278.57h2.37v2.37h-2.37zM408.89 278.57h2.37v2.37h-2.37zM418.98 278.57h2.37v2.37h-2.37zM362.44 280.58h2.37v2.37h-2.37zM412.93 280.58h2.37v2.37h-2.37zM429.08 280.58h2.37v2.37h-2.37zM392.73 282.6h2.37v2.37h-2.37zM396.77 282.6h2.37v2.37h-2.37zM406.87 282.6h4.39v2.37h-4.39zM360.42 284.62h2.37v2.37h-2.37zM376.57 284.62h2.37v2.37h-2.37zM384.65 284.62h4.39v2.37h-4.39zM398.79 284.62h2.37v2.37h-2.37zM427.06 284.62h2.37v2.37h-2.37zM366.48 286.63h4.39v2.37h-4.39zM378.59 286.63h2.37v2.37h-2.37zM388.69 286.63h2.37v2.37h-2.37zM400.81 286.63h2.37v2.37h-2.37zM414.94 286.63h2.37v2.37h-2.37zM358.4 288.65h2.37v2.37h-2.37zM378.59 288.65h2.37v2.37h-2.37zM382.63 288.65h2.37v2.37h-2.37zM392.73 288.65h2.37v2.37h-2.37zM402.83 288.65h4.39v2.37h-4.39zM423.02 288.65h4.39v2.37h-4.39zM362.44 290.67h2.37v2.37h-2.37zM374.56 290.67h2.37v2.37h-2.37zM382.63 290.67h2.37v2.37h-2.37zM386.67 290.67h2.37v2.37h-2.37zM396.77 290.67h2.37v2.37h-2.37zM364.46 294.7h4.39v2.37h-4.39zM372.54 294.7h2.37v2.37h-2.37zM376.57 294.7h2.37v2.37h-2.37zM410.91 294.7h2.37v2.37h-2.37zM376.57 296.72h2.37v2.37h-2.37zM386.67 296.72h2.37v2.37h-2.37zM414.94 298.73h2.37v2.37h-2.37zM418.98 298.73h2.37v2.37h-2.37zM368.5 300.75h2.37v2.37h-2.37zM372.54 300.75h2.37v2.37h-2.37zM380.61 300.75h2.37v2.37h-2.37zM384.65 300.75h2.37v2.37h-2.37zM388.69 300.75h2.37v2.37h-2.37zM410.91 300.75h4.39v2.37h-4.39zM427.06 300.75h2.37v2.37h-2.37zM358.4 302.77h2.37v2.37h-2.37zM394.75 302.77h2.37v2.37h-2.37zM402.83 306.8h2.37v2.37h-2.37zM368.5 308.82h2.37v2.37h-2.37zM429.08 308.82h2.37v2.37h-2.37zM360.42 316.88h2.37v2.37h-2.37zM376.57 316.88h2.37v2.37h-2.37zM358.4 318.9h2.37v2.37h-2.37zM404.85 320.92h2.37v2.37h-2.37zM414.94 320.92h2.37v2.37h-2.37zM364.46 322.93h2.37v2.37h-2.37zM370.52 322.93h4.39v2.37h-4.39zM380.61 322.93h4.39v2.37h-4.39zM418.98 322.93h2.37v2.37h-2.37zM429.08 322.93h2.37v2.37h-2.37zM372.54 328.98h2.37v2.37h-2.37z"/>
<path shape-rendering="crispEdges" fill="#558ec5" d="M362.44 258.4h2.37v2.37h-2.37zM382.63 258.4h2.37v2.37h-2.37zM388.69 258.4h2.37v2.37h-2.37zM408.89 258.4h2.37v2.37h-2.37zM360.42 260.42h4.39v2.37h-4.39zM384.65 260.42h2.37v2.37h-2.37zM418.98 260.42h2.37v2.37h-2.37zM392.73 262.43h2.37v2.37h-2.37zM408.89 262.43h2.37v2.37h-2.37zM372.54 264.45h2.37v2.37h-2.37zM406.87 264.45h2.37v2.37h-2.37zM362.44 266.47h2.37v2.37h-2.37zM366.48 266.47h2.37v2.37h-2.37zM394.75 266.47h2.37v2.37h-2.37zM400.81 266.47h2.37v2.37h-2.37zM425.04 266.47h2.37v2.37h-2.37zM358.4 268.48h2.37v2.37h-2.37zM408.89 268.48h2.37v2.37h-2.37zM425.04 268.48h4.39v2.37h-4.39zM368.5 270.5h2.37v2.37h-2.37zM374.56 270.5h2.37v2.37h-2.37zM390.71 270.5h6.41v2.37h-6.41zM398.79 270.5h2.37v2.37h-2.37zM414.94 270.5h2.37v2.37h-2.37zM421 270.5h2.37v2.37h-2.37zM392.73 272.52h2.37v2.37h-2.37zM410.91 272.52h2.37v2.37h-2.37zM364.46 274.53h2.37v2.37h-2.37zM404.85 274.53h2.37v2.37h-2.37zM360.42 276.55h2.37v2.37h-2.37zM410.91 276.55h2.37v2.37h-2.37zM414.94 276.55h2.37v2.37h-2.37zM386.67 280.58h2.37v2.37h-2.37zM364.46 282.6h2.37v2.37h-2.37zM412.93 282.6h2.37v2.37h-2.37zM372.54 284.62h2.37v2.37h-2.37zM382.63 284.62h2.37v2.37h-2.37zM388.69 284.62h4.39v2.37h-4.39zM418.98 284.62h2.37v2.37h-2.37zM376.57 286.63h2.37v2.37h-2.37zM416.96 286.63h2.37v2.37h-2.37zM429.08 286.63h2.37v2.37h-2.37zM360.42 288.65h2.37v2.37h-2.37zM370.52 288.65h6.41v2.37h-6.41zM380.61 288.65h2.37v2.37h-2.37zM394.75 288.65h2.37v2.37h-2.37zM410.91 288.65h6.41v2.37h-6.41zM421 288.65h2.37v2.37h-2.37zM368.5 290.67h2.37v2.37h-2.37zM402.83 290.67h2.37v2.37h-2.37zM421 290.67h2.37v2.37h-2.37zM425.04 290.67h2.37v2.37h-2.37zM400.81 296.72h2.37v2.37h-2.37zM358.4 300.75h2.37v2.37h-2.37zM392.73 300.75h6.41v2.37h-6.41zM386.67 302.77h2.37v2.37h-2.37zM392.73 306.8h2.37v2.37h-2.37zM416.96 306.8h2.37v2.37h-2.37zM394.75 308.82h2.37v2.37h-2.37zM378.59 322.93h2.37v2.37h-2.37zM394.75 322.93h2.37v2.37h-2.37zM427.06 322.93h2.37v2.37h-2.37zM396.77 324.95h2.37v2.37h-2.37z"/>
<path shape-rendering="crispEdges" fill="#5c98ca" d="M366.48 260.42h2.37v2.37h-2.37zM378.59 260.42h2.37v2.37h-2.37zM400.81 260.42h2.37v2.37h-2.37zM364.46 264.45h4.39v2.37h-4.39zM388.69 264.45h2.37v2.37h-2.37zM378.59 266.47h2.37v2.37h-2.37zM380.61 268.48h2.37v2.37h-2.37zM388.69 268.48h2.37v2.37h-2.37zM421 268.48h2.37v2.37h-2.37zM412.93 270.5h2.37v2.37h-2.37zM416.96 270.5h2.37v2.37h-2.37zM370.52 274.53h2.37v2.37h-2.37zM374.56 274.53h2.37v2.37h-2.37zM388.69 274.53h2.37v2.37h-2.37zM400.81 274.53h2.37v2.37h-2.37zM374.56 282.6h2.37v2.37h-2.37zM404.85 282.6h2.37v2.37h-2.37zM410.91 282.6h2.37v2.37h-2.37zM421 282.6h2.37v2.37h-2.37zM368.5 284.62h4.39v2.37h-4.39zM404.85 284.62h2.37v2.37h-2.37zM416.96 284.62h2.37v2.37h-2.37zM408.89 286.63h2.37v2.37h-2.37zM364.46 288.65h2.37v2.37h-2.37zM368.5 288.65h2.37v2.37h-2.37zM384.65 288.65h4.39v2.37h-4.39zM390.71 288.65h2.37v2.37h-2.37zM408.89 288.65h2.37v2.37h-2.37zM416.96 288.65h2.37v2.37h-2.37zM429.08 288.65h2.37v2.37h-2.37zM394.75 290.67h2.37v2.37h-2.37zM427.06 290.67h2.37v2.37h-2.37zM370.52 294.7h2.37v2.37h-2.37zM370.52 300.75h2.37v2.37h-2.37zM398.79 300.75h2.37v2.37h-2.37zM416.96 300.75h2.37v2.37h-2.37zM423.02 300.75h2.37v2.37h-2.37zM388.69 320.92h2.37v2.37h-2.37zM374.56 322.93h2.37v2.37h-2.37zM396.77 322.93h2.37v2.37h-2.37z"/>
<path shape-rendering="crispEdges" fill="#67a4ce" d="M394.75 264.45h2.37v2.37h-2.37zM406.87 266.47h2.37v2.37h-2.37zM364.46 270.5h2.37v2.37h-2.37zM372.54 270.5h2.37v2.37h-2.37zM427.06 270.5h2.37v2.37h-2.37zM427.06 274.53h2.37v2.37h-2.37zM396.77 288.65h2.37v2.37h-2.37zM376.57 322.93h2.37v2.37h-2.37z"/>
<path shape-rendering="crispEdges" fill="#72b1d3" d="M368.5 262.43h2.37v2.37h-2.37zM410.91 322.93h2.37v2.37h-2.37z"/>
<rect x="358.4" y="258.4" width="72.7" height="72.6" fill="none" stroke="#9a9a9a" stroke-width="0.4"/>
<defs><linearGradient id="cb1" x1="0" y1="0" x2="0" y2="1"><stop offset="0" stop-color="#702a10"/><stop offset="0.1" stop-color="#8a4c1e"/><stop offset="0.2" stop-color="#a27230"/><stop offset="0.3" stop-color="#c2a24a"/><stop offset="0.35" stop-color="#d8c86a"/><stop offset="0.4" stop-color="#e6e29a"/><stop offset="0.45" stop-color="#e0ecc0"/><stop offset="0.5" stop-color="#c8ead8"/><stop offset="0.55" stop-color="#aadce0"/><stop offset="0.62" stop-color="#80c0d8"/><stop offset="0.7" stop-color="#5c98ca"/><stop offset="0.8" stop-color="#4070b6"/><stop offset="0.9" stop-color="#3050a4"/><stop offset="1" stop-color="#283a96"/></linearGradient></defs>
<rect x="435.6" y="276.4" width="7.6" height="54.6" fill="url(#cb1)"/>
<text x="315.6" y="252.4" font-size="8.8" text-anchor="middle">Bias (fitting)</text>
<text x="393.5" y="252.4" font-size="8.8" text-anchor="middle">Bias (phasor)</text>
<text x="277.3" y="263" font-size="8.8" text-anchor="end">0.2</text>
<text x="277.3" y="280.8" font-size="8.8" text-anchor="end">1.4</text>
<text x="277.3" y="299.1" font-size="8.8" text-anchor="end">2.5</text>
<text x="277.3" y="314.6" font-size="8.8" text-anchor="end">3.5</text>
<text x="277.3" y="332.8" font-size="8.8" text-anchor="end">4.7</text>
<text transform="translate(257.6 293.3) rotate(-90)" font-size="8.8" text-anchor="middle" >FWHM<tspan font-size="6.3" dy="2">IRF</tspan><tspan dy="-2"> (ns)</tspan></text>
<text x="215.3" y="247.9" font-size="10.4" fill="#111" font-weight="bold">e</text>
<text x="434.6" y="262.8" font-size="8.2">&#916;<tspan font-family="Liberation Serif" font-style="italic">&#964;</tspan></text>
<text x="432" y="273.2" font-size="8.8">(ns)</text>
<text x="446.8" y="281.7" font-size="8.8">0.8</text>
<text x="446.8" y="292.7" font-size="8.8">0.6</text>
<text x="446.8" y="303" font-size="8.8">0.4</text>
<text x="446.8" y="313.4" font-size="8.8">0.2</text>
<text x="446.8" y="323.5" font-size="8.8">0</text>
<text x="446.8" y="334.2" font-size="8.8">&#8722;0.2</text>
<path shape-rendering="crispEdges" fill="#283a96" d="M349.48 362.12h2.36v2.36h-2.36zM349.48 366.14h4.37v2.36h-4.37z"/>
<path shape-rendering="crispEdges" fill="#2a409a" d="M331.38 358.11h2.36v2.36h-2.36zM345.46 358.11h6.38v2.36h-6.38zM351.49 360.12h2.36v2.36h-2.36zM335.4 362.12h2.36v2.36h-2.36zM343.44 362.12h2.36v2.36h-2.36zM347.47 362.12h2.36v2.36h-2.36zM351.49 362.12h2.36v2.36h-2.36z"/>
<path shape-rendering="crispEdges" fill="#2c459d" d="M331.38 356.1h2.36v2.36h-2.36zM337.41 356.1h2.36v2.36h-2.36zM343.44 356.1h2.36v2.36h-2.36zM349.48 356.1h2.36v2.36h-2.36zM341.43 358.11h2.36v2.36h-2.36zM351.49 358.11h2.36v2.36h-2.36zM337.41 362.12h2.36v2.36h-2.36zM345.46 364.13h2.36v2.36h-2.36zM349.48 364.13h4.37v2.36h-4.37zM345.46 366.14h4.37v2.36h-4.37zM351.49 374.18h2.36v2.36h-2.36zM351.49 378.19h2.36v2.36h-2.36zM345.46 380.2h2.36v2.36h-2.36zM351.49 382.21h2.36v2.36h-2.36zM351.49 384.22h2.36v2.36h-2.36z"/>
<path shape-rendering="crispEdges" fill="#2e4aa0" d="M341.43 356.1h2.36v2.36h-2.36zM345.46 356.1h2.36v2.36h-2.36zM351.49 356.1h2.36v2.36h-2.36zM329.37 358.11h2.36v2.36h-2.36zM339.42 358.11h2.36v2.36h-2.36zM343.44 358.11h2.36v2.36h-2.36zM333.39 360.12h2.36v2.36h-2.36zM341.43 360.12h4.37v2.36h-4.37zM347.47 360.12h4.37v2.36h-4.37zM325.34 362.12h6.38v2.36h-6.38zM333.39 362.12h2.36v2.36h-2.36zM341.43 362.12h2.36v2.36h-2.36zM343.44 364.13h2.36v2.36h-2.36zM347.47 364.13h2.36v2.36h-2.36zM331.38 366.14h10.41v2.36h-10.41zM343.44 366.14h2.36v2.36h-2.36zM349.48 368.15h4.37v2.36h-4.37zM333.39 370.16h2.36v2.36h-2.36zM343.44 370.16h4.37v2.36h-4.37zM349.48 372.17h2.36v2.36h-2.36zM347.47 374.18h4.37v2.36h-4.37zM343.44 376.18h2.36v2.36h-2.36zM347.47 376.18h2.36v2.36h-2.36zM351.49 376.18h2.36v2.36h-2.36zM345.46 378.19h2.36v2.36h-2.36zM349.48 378.19h2.36v2.36h-2.36zM347.47 380.2h6.38v2.36h-6.38zM343.44 384.22h4.37v2.36h-4.37zM349.48 384.22h2.36v2.36h-2.36z"/>
<path shape-rendering="crispEdges" fill="#3050a4" d="M327.36 356.1h4.37v2.36h-4.37zM335.4 356.1h2.36v2.36h-2.36zM339.42 356.1h2.36v2.36h-2.36zM347.47 356.1h2.36v2.36h-2.36zM333.39 358.11h6.38v2.36h-6.38zM339.42 360.12h2.36v2.36h-2.36zM345.46 360.12h2.36v2.36h-2.36zM321.32 362.12h2.36v2.36h-2.36zM339.42 362.12h2.36v2.36h-2.36zM345.46 362.12h2.36v2.36h-2.36zM329.37 364.13h2.36v2.36h-2.36zM335.4 364.13h8.39v2.36h-8.39zM325.34 366.14h4.37v2.36h-4.37zM341.43 366.14h2.36v2.36h-2.36zM339.42 368.15h4.37v2.36h-4.37zM347.47 368.15h2.36v2.36h-2.36zM331.38 370.16h2.36v2.36h-2.36zM337.41 370.16h2.36v2.36h-2.36zM341.43 370.16h2.36v2.36h-2.36zM351.49 370.16h2.36v2.36h-2.36zM335.4 372.17h2.36v2.36h-2.36zM341.43 372.17h2.36v2.36h-2.36zM351.49 372.17h2.36v2.36h-2.36zM337.41 374.18h6.38v2.36h-6.38zM345.46 374.18h2.36v2.36h-2.36zM349.48 376.18h2.36v2.36h-2.36zM341.43 380.2h2.36v2.36h-2.36zM341.43 382.21h2.36v2.36h-2.36zM345.46 382.21h2.36v2.36h-2.36zM349.48 382.21h2.36v2.36h-2.36zM339.42 384.22h2.36v2.36h-2.36zM347.47 386.23h2.36v2.36h-2.36zM351.49 386.23h2.36v2.36h-2.36zM345.46 390.24h2.36v2.36h-2.36zM349.48 390.24h2.36v2.36h-2.36zM347.47 392.25h2.36v2.36h-2.36zM351.49 392.25h2.36v2.36h-2.36zM351.49 402.29h2.36v2.36h-2.36z"/>
<path shape-rendering="crispEdges" fill="#3458a8" d="M323.33 356.1h4.37v2.36h-4.37zM333.39 356.1h2.36v2.36h-2.36zM325.34 358.11h4.37v2.36h-4.37zM321.32 360.12h2.36v2.36h-2.36zM325.34 360.12h2.36v2.36h-2.36zM329.37 360.12h4.37v2.36h-4.37zM337.41 360.12h2.36v2.36h-2.36zM323.33 362.12h2.36v2.36h-2.36zM331.38 362.12h2.36v2.36h-2.36zM325.34 364.13h4.37v2.36h-4.37zM331.38 364.13h4.37v2.36h-4.37zM319.31 366.14h4.37v2.36h-4.37zM327.36 368.15h2.36v2.36h-2.36zM333.39 368.15h2.36v2.36h-2.36zM337.41 368.15h2.36v2.36h-2.36zM343.44 368.15h4.37v2.36h-4.37zM325.34 370.16h2.36v2.36h-2.36zM329.37 370.16h2.36v2.36h-2.36zM335.4 370.16h2.36v2.36h-2.36zM339.42 370.16h2.36v2.36h-2.36zM347.47 370.16h4.37v2.36h-4.37zM333.39 372.17h2.36v2.36h-2.36zM337.41 372.17h4.37v2.36h-4.37zM345.46 372.17h4.37v2.36h-4.37zM325.34 374.18h2.36v2.36h-2.36zM333.39 374.18h2.36v2.36h-2.36zM343.44 374.18h2.36v2.36h-2.36zM333.39 376.18h10.41v2.36h-10.41zM345.46 376.18h2.36v2.36h-2.36zM337.41 378.19h2.36v2.36h-2.36zM343.44 378.19h2.36v2.36h-2.36zM347.47 378.19h2.36v2.36h-2.36zM327.36 380.2h2.36v2.36h-2.36zM331.38 380.2h2.36v2.36h-2.36zM335.4 380.2h2.36v2.36h-2.36zM343.44 380.2h2.36v2.36h-2.36zM343.44 382.21h2.36v2.36h-2.36zM347.47 382.21h2.36v2.36h-2.36zM335.4 384.22h2.36v2.36h-2.36zM341.43 384.22h2.36v2.36h-2.36zM347.47 384.22h2.36v2.36h-2.36zM333.39 386.23h2.36v2.36h-2.36zM339.42 386.23h8.39v2.36h-8.39zM347.47 388.23h6.38v2.36h-6.38zM333.39 390.24h2.36v2.36h-2.36zM339.42 390.24h2.36v2.36h-2.36zM343.44 390.24h2.36v2.36h-2.36zM347.47 390.24h2.36v2.36h-2.36zM345.46 392.25h2.36v2.36h-2.36zM343.44 396.27h2.36v2.36h-2.36zM347.47 398.27h2.36v2.36h-2.36z"/>
<path shape-rendering="crispEdges" fill="#3860ad" d="M321.32 356.1h2.36v2.36h-2.36zM317.3 358.11h8.39v2.36h-8.39zM323.33 360.12h2.36v2.36h-2.36zM327.36 360.12h2.36v2.36h-2.36zM335.4 360.12h2.36v2.36h-2.36zM323.33 366.14h2.36v2.36h-2.36zM329.37 366.14h2.36v2.36h-2.36zM331.38 368.15h2.36v2.36h-2.36zM327.36 370.16h2.36v2.36h-2.36zM327.36 372.17h2.36v2.36h-2.36zM331.38 372.17h2.36v2.36h-2.36zM321.32 374.18h2.36v2.36h-2.36zM327.36 374.18h4.37v2.36h-4.37zM335.4 374.18h2.36v2.36h-2.36zM325.34 376.18h6.38v2.36h-6.38zM327.36 378.19h4.37v2.36h-4.37zM333.39 378.19h4.37v2.36h-4.37zM339.42 378.19h2.36v2.36h-2.36zM325.34 380.2h2.36v2.36h-2.36zM329.37 380.2h2.36v2.36h-2.36zM333.39 380.2h2.36v2.36h-2.36zM339.42 380.2h2.36v2.36h-2.36zM331.38 382.21h2.36v2.36h-2.36zM335.4 382.21h2.36v2.36h-2.36zM339.42 382.21h2.36v2.36h-2.36zM329.37 384.22h2.36v2.36h-2.36zM333.39 384.22h2.36v2.36h-2.36zM337.41 384.22h2.36v2.36h-2.36zM335.4 386.23h4.37v2.36h-4.37zM349.48 386.23h2.36v2.36h-2.36zM337.41 388.23h2.36v2.36h-2.36zM343.44 388.23h2.36v2.36h-2.36zM341.43 390.24h2.36v2.36h-2.36zM351.49 390.24h2.36v2.36h-2.36zM341.43 392.25h4.37v2.36h-4.37zM349.48 392.25h2.36v2.36h-2.36zM345.46 394.26h2.36v2.36h-2.36zM339.42 396.27h4.37v2.36h-4.37zM351.49 396.27h2.36v2.36h-2.36zM339.42 398.27h2.36v2.36h-2.36zM351.49 398.27h2.36v2.36h-2.36zM345.46 400.28h2.36v2.36h-2.36zM349.48 400.28h2.36v2.36h-2.36zM343.44 402.29h2.36v2.36h-2.36zM349.48 404.3h2.36v2.36h-2.36z"/>
<path shape-rendering="crispEdges" fill="#3c68b2" d="M315.29 356.1h6.38v2.36h-6.38zM311.27 358.11h4.37v2.36h-4.37zM319.31 360.12h2.36v2.36h-2.36zM311.27 362.12h2.36v2.36h-2.36zM315.29 362.12h6.38v2.36h-6.38zM317.3 364.13h2.36v2.36h-2.36zM321.32 364.13h4.37v2.36h-4.37zM315.29 366.14h4.37v2.36h-4.37zM321.32 368.15h6.38v2.36h-6.38zM329.37 368.15h2.36v2.36h-2.36zM335.4 368.15h2.36v2.36h-2.36zM319.31 370.16h2.36v2.36h-2.36zM323.33 370.16h2.36v2.36h-2.36zM323.33 372.17h4.37v2.36h-4.37zM329.37 372.17h2.36v2.36h-2.36zM343.44 372.17h2.36v2.36h-2.36zM323.33 374.18h2.36v2.36h-2.36zM331.38 374.18h2.36v2.36h-2.36zM323.33 376.18h2.36v2.36h-2.36zM331.38 376.18h2.36v2.36h-2.36zM321.32 378.19h2.36v2.36h-2.36zM325.34 378.19h2.36v2.36h-2.36zM331.38 378.19h2.36v2.36h-2.36zM341.43 378.19h2.36v2.36h-2.36zM319.31 380.2h2.36v2.36h-2.36zM337.41 380.2h2.36v2.36h-2.36zM333.39 382.21h2.36v2.36h-2.36zM337.41 382.21h2.36v2.36h-2.36zM325.34 384.22h4.37v2.36h-4.37zM331.38 384.22h2.36v2.36h-2.36zM325.34 386.23h2.36v2.36h-2.36zM329.37 386.23h4.37v2.36h-4.37zM329.37 388.23h8.39v2.36h-8.39zM339.42 388.23h2.36v2.36h-2.36zM345.46 388.23h2.36v2.36h-2.36zM329.37 390.24h2.36v2.36h-2.36zM331.38 392.25h2.36v2.36h-2.36zM335.4 392.25h6.38v2.36h-6.38zM347.47 394.26h6.38v2.36h-6.38zM331.38 396.27h2.36v2.36h-2.36zM335.4 396.27h2.36v2.36h-2.36zM345.46 396.27h6.38v2.36h-6.38zM327.36 398.27h2.36v2.36h-2.36zM333.39 398.27h2.36v2.36h-2.36zM341.43 398.27h2.36v2.36h-2.36zM345.46 398.27h2.36v2.36h-2.36zM349.48 398.27h2.36v2.36h-2.36zM351.49 400.28h2.36v2.36h-2.36zM345.46 402.29h4.37v2.36h-4.37zM341.43 404.3h2.36v2.36h-2.36zM347.47 404.3h2.36v2.36h-2.36zM351.49 404.3h2.36v2.36h-2.36zM337.41 406.31h2.36v2.36h-2.36zM345.46 406.31h2.36v2.36h-2.36zM349.48 414.34h2.36v2.36h-2.36z"/>
<path shape-rendering="crispEdges" fill="#4070b6" d="M313.28 356.1h2.36v2.36h-2.36zM309.26 358.11h2.36v2.36h-2.36zM309.26 362.12h2.36v2.36h-2.36zM311.27 364.13h2.36v2.36h-2.36zM315.29 364.13h2.36v2.36h-2.36zM319.31 364.13h2.36v2.36h-2.36zM309.26 366.14h6.38v2.36h-6.38zM313.28 370.16h2.36v2.36h-2.36zM319.31 376.18h4.37v2.36h-4.37zM323.33 378.19h2.36v2.36h-2.36zM321.32 380.2h4.37v2.36h-4.37zM325.34 382.21h6.38v2.36h-6.38zM323.33 384.22h2.36v2.36h-2.36zM319.31 386.23h2.36v2.36h-2.36zM323.33 386.23h2.36v2.36h-2.36zM327.36 386.23h2.36v2.36h-2.36zM341.43 388.23h2.36v2.36h-2.36zM325.34 390.24h2.36v2.36h-2.36zM331.38 390.24h2.36v2.36h-2.36zM337.41 390.24h2.36v2.36h-2.36zM323.33 392.25h2.36v2.36h-2.36zM339.42 394.26h6.38v2.36h-6.38zM335.4 398.27h4.37v2.36h-4.37zM343.44 398.27h2.36v2.36h-2.36zM339.42 400.28h6.38v2.36h-6.38zM347.47 400.28h2.36v2.36h-2.36zM339.42 402.29h2.36v2.36h-2.36zM349.48 402.29h2.36v2.36h-2.36zM339.42 404.3h2.36v2.36h-2.36zM343.44 404.3h2.36v2.36h-2.36zM339.42 406.31h2.36v2.36h-2.36zM347.47 406.31h6.38v2.36h-6.38zM347.47 408.32h6.38v2.36h-6.38zM341.43 410.32h2.36v2.36h-2.36zM345.46 410.32h4.37v2.36h-4.37zM345.46 412.33h2.36v2.36h-2.36zM351.49 412.33h2.36v2.36h-2.36zM351.49 414.34h2.36v2.36h-2.36zM349.48 420.37h2.36v2.36h-2.36z"/>
<path shape-rendering="crispEdges" fill="#477abb" d="M309.26 356.1h4.37v2.36h-4.37zM315.29 358.11h2.36v2.36h-2.36zM315.29 360.12h4.37v2.36h-4.37zM313.28 362.12h2.36v2.36h-2.36zM309.26 364.13h2.36v2.36h-2.36zM313.28 364.13h2.36v2.36h-2.36zM319.31 368.15h2.36v2.36h-2.36zM317.3 370.16h2.36v2.36h-2.36zM321.32 370.16h2.36v2.36h-2.36zM315.29 372.17h2.36v2.36h-2.36zM319.31 372.17h2.36v2.36h-2.36zM317.3 374.18h4.37v2.36h-4.37zM317.3 378.19h4.37v2.36h-4.37zM317.3 380.2h2.36v2.36h-2.36zM317.3 382.21h2.36v2.36h-2.36zM321.32 382.21h4.37v2.36h-4.37zM317.3 384.22h6.38v2.36h-6.38zM321.32 386.23h2.36v2.36h-2.36zM317.3 388.23h2.36v2.36h-2.36zM321.32 388.23h2.36v2.36h-2.36zM325.34 388.23h4.37v2.36h-4.37zM323.33 390.24h2.36v2.36h-2.36zM327.36 390.24h2.36v2.36h-2.36zM335.4 390.24h2.36v2.36h-2.36zM319.31 392.25h2.36v2.36h-2.36zM325.34 392.25h2.36v2.36h-2.36zM329.37 392.25h2.36v2.36h-2.36zM333.39 392.25h2.36v2.36h-2.36zM325.34 394.26h2.36v2.36h-2.36zM331.38 394.26h4.37v2.36h-4.37zM337.41 394.26h2.36v2.36h-2.36zM329.37 396.27h2.36v2.36h-2.36zM333.39 396.27h2.36v2.36h-2.36zM329.37 398.27h4.37v2.36h-4.37zM329.37 400.28h2.36v2.36h-2.36zM335.4 400.28h2.36v2.36h-2.36zM331.38 402.29h2.36v2.36h-2.36zM337.41 402.29h2.36v2.36h-2.36zM341.43 402.29h2.36v2.36h-2.36zM325.34 404.3h4.37v2.36h-4.37zM333.39 404.3h2.36v2.36h-2.36zM337.41 404.3h2.36v2.36h-2.36zM345.46 404.3h2.36v2.36h-2.36zM335.4 406.31h2.36v2.36h-2.36zM341.43 406.31h4.37v2.36h-4.37zM343.44 408.32h4.37v2.36h-4.37zM349.48 410.32h4.37v2.36h-4.37zM339.42 412.33h2.36v2.36h-2.36zM349.48 412.33h2.36v2.36h-2.36zM345.46 414.34h2.36v2.36h-2.36zM349.48 416.35h4.37v2.36h-4.37zM343.44 418.36h4.37v2.36h-4.37zM349.48 418.36h4.37v2.36h-4.37zM347.47 420.37h2.36v2.36h-2.36zM351.49 420.37h2.36v2.36h-2.36zM343.44 424.38h2.36v2.36h-2.36zM351.49 424.38h2.36v2.36h-2.36z"/>
<path shape-rendering="crispEdges" fill="#4e84c0" d="M307.24 356.1h2.36v2.36h-2.36zM309.26 360.12h2.36v2.36h-2.36zM303.22 362.12h4.37v2.36h-4.37zM307.24 364.13h2.36v2.36h-2.36zM305.23 366.14h4.37v2.36h-4.37zM311.27 368.15h8.39v2.36h-8.39zM311.27 370.16h2.36v2.36h-2.36zM315.29 370.16h2.36v2.36h-2.36zM311.27 374.18h2.36v2.36h-2.36zM315.29 374.18h2.36v2.36h-2.36zM313.28 376.18h4.37v2.36h-4.37zM311.27 378.19h6.38v2.36h-6.38zM313.28 380.2h4.37v2.36h-4.37zM319.31 382.21h2.36v2.36h-2.36zM315.29 384.22h2.36v2.36h-2.36zM323.33 388.23h2.36v2.36h-2.36zM321.32 390.24h2.36v2.36h-2.36zM317.3 392.25h2.36v2.36h-2.36zM321.32 392.25h2.36v2.36h-2.36zM327.36 392.25h2.36v2.36h-2.36zM319.31 394.26h2.36v2.36h-2.36zM323.33 394.26h2.36v2.36h-2.36zM329.37 394.26h2.36v2.36h-2.36zM335.4 394.26h2.36v2.36h-2.36zM327.36 396.27h2.36v2.36h-2.36zM337.41 396.27h2.36v2.36h-2.36zM321.32 398.27h6.38v2.36h-6.38zM331.38 400.28h4.37v2.36h-4.37zM337.41 400.28h2.36v2.36h-2.36zM325.34 402.29h6.38v2.36h-6.38zM333.39 402.29h4.37v2.36h-4.37zM329.37 404.3h2.36v2.36h-2.36zM335.4 404.3h2.36v2.36h-2.36zM325.34 406.31h2.36v2.36h-2.36zM329.37 406.31h6.38v2.36h-6.38zM335.4 408.32h2.36v2.36h-2.36zM339.42 408.32h4.37v2.36h-4.37zM337.41 410.32h4.37v2.36h-4.37zM343.44 410.32h2.36v2.36h-2.36zM343.44 412.33h2.36v2.36h-2.36zM347.47 412.33h2.36v2.36h-2.36zM343.44 414.34h2.36v2.36h-2.36zM347.47 414.34h2.36v2.36h-2.36zM339.42 420.37h4.37v2.36h-4.37zM345.46 420.37h2.36v2.36h-2.36zM349.48 424.38h2.36v2.36h-2.36z"/>
<path shape-rendering="crispEdges" fill="#558ec5" d="M307.24 358.11h2.36v2.36h-2.36zM311.27 360.12h4.37v2.36h-4.37zM305.23 364.13h2.36v2.36h-2.36zM307.24 370.16h2.36v2.36h-2.36zM313.28 372.17h2.36v2.36h-2.36zM317.3 372.17h2.36v2.36h-2.36zM321.32 372.17h2.36v2.36h-2.36zM307.24 374.18h2.36v2.36h-2.36zM313.28 374.18h2.36v2.36h-2.36zM311.27 376.18h2.36v2.36h-2.36zM317.3 376.18h2.36v2.36h-2.36zM305.23 378.19h2.36v2.36h-2.36zM309.26 378.19h2.36v2.36h-2.36zM305.23 380.2h2.36v2.36h-2.36zM309.26 380.2h4.37v2.36h-4.37zM313.28 382.21h4.37v2.36h-4.37zM309.26 384.22h2.36v2.36h-2.36zM313.28 384.22h2.36v2.36h-2.36zM315.29 386.23h2.36v2.36h-2.36zM319.31 388.23h2.36v2.36h-2.36zM313.28 390.24h8.39v2.36h-8.39zM311.27 392.25h2.36v2.36h-2.36zM315.29 392.25h2.36v2.36h-2.36zM321.32 394.26h2.36v2.36h-2.36zM327.36 394.26h2.36v2.36h-2.36zM323.33 396.27h4.37v2.36h-4.37zM315.29 398.27h2.36v2.36h-2.36zM321.32 400.28h6.38v2.36h-6.38zM321.32 402.29h4.37v2.36h-4.37zM321.32 404.3h2.36v2.36h-2.36zM331.38 404.3h2.36v2.36h-2.36zM327.36 406.31h2.36v2.36h-2.36zM327.36 408.32h2.36v2.36h-2.36zM337.41 408.32h2.36v2.36h-2.36zM329.37 410.32h2.36v2.36h-2.36zM333.39 410.32h4.37v2.36h-4.37zM331.38 412.33h2.36v2.36h-2.36zM335.4 412.33h4.37v2.36h-4.37zM335.4 414.34h8.39v2.36h-8.39zM335.4 416.35h2.36v2.36h-2.36zM343.44 416.35h2.36v2.36h-2.36zM347.47 416.35h2.36v2.36h-2.36zM331.38 418.36h2.36v2.36h-2.36zM339.42 418.36h4.37v2.36h-4.37zM347.47 418.36h2.36v2.36h-2.36zM335.4 420.37h4.37v2.36h-4.37zM343.44 420.37h2.36v2.36h-2.36zM351.49 422.38h2.36v2.36h-2.36zM337.41 424.38h2.36v2.36h-2.36zM341.43 424.38h2.36v2.36h-2.36zM345.46 424.38h4.37v2.36h-4.37zM343.44 426.39h4.37v2.36h-4.37zM351.49 426.39h2.36v2.36h-2.36z"/>
<path shape-rendering="crispEdges" fill="#5c98ca" d="M301.21 356.1h2.36v2.36h-2.36zM305.23 356.1h2.36v2.36h-2.36zM299.2 358.11h2.36v2.36h-2.36zM303.22 358.11h4.37v2.36h-4.37zM307.24 362.12h2.36v2.36h-2.36zM303.22 364.13h2.36v2.36h-2.36zM301.21 366.14h4.37v2.36h-4.37zM305.23 368.15h6.38v2.36h-6.38zM309.26 370.16h2.36v2.36h-2.36zM307.24 372.17h4.37v2.36h-4.37zM305.23 374.18h2.36v2.36h-2.36zM309.26 374.18h2.36v2.36h-2.36zM311.27 382.21h2.36v2.36h-2.36zM311.27 384.22h2.36v2.36h-2.36zM307.24 386.23h2.36v2.36h-2.36zM311.27 386.23h4.37v2.36h-4.37zM317.3 386.23h2.36v2.36h-2.36zM315.29 388.23h2.36v2.36h-2.36zM317.3 396.27h6.38v2.36h-6.38zM317.3 398.27h4.37v2.36h-4.37zM317.3 400.28h4.37v2.36h-4.37zM327.36 400.28h2.36v2.36h-2.36zM313.28 402.29h2.36v2.36h-2.36zM319.31 402.29h2.36v2.36h-2.36zM319.31 404.3h2.36v2.36h-2.36zM323.33 404.3h2.36v2.36h-2.36zM323.33 406.31h2.36v2.36h-2.36zM329.37 408.32h6.38v2.36h-6.38zM323.33 410.32h2.36v2.36h-2.36zM327.36 410.32h2.36v2.36h-2.36zM323.33 412.33h2.36v2.36h-2.36zM327.36 412.33h4.37v2.36h-4.37zM333.39 412.33h2.36v2.36h-2.36zM341.43 412.33h2.36v2.36h-2.36zM327.36 414.34h8.39v2.36h-8.39zM333.39 416.35h2.36v2.36h-2.36zM341.43 416.35h2.36v2.36h-2.36zM345.46 416.35h2.36v2.36h-2.36zM329.37 418.36h2.36v2.36h-2.36zM333.39 418.36h6.38v2.36h-6.38zM333.39 420.37h2.36v2.36h-2.36zM347.47 422.38h4.37v2.36h-4.37zM331.38 424.38h6.38v2.36h-6.38zM339.42 424.38h2.36v2.36h-2.36zM337.41 426.39h2.36v2.36h-2.36zM341.43 426.39h2.36v2.36h-2.36zM349.48 426.39h2.36v2.36h-2.36z"/>
<path shape-rendering="crispEdges" fill="#67a4ce" d="M303.22 356.1h2.36v2.36h-2.36zM303.22 360.12h6.38v2.36h-6.38zM301.21 362.12h2.36v2.36h-2.36zM299.2 364.13h4.37v2.36h-4.37zM303.22 368.15h2.36v2.36h-2.36zM301.21 370.16h2.36v2.36h-2.36zM305.23 370.16h2.36v2.36h-2.36zM305.23 372.17h2.36v2.36h-2.36zM311.27 372.17h2.36v2.36h-2.36zM307.24 376.18h4.37v2.36h-4.37zM307.24 378.19h2.36v2.36h-2.36zM307.24 382.21h2.36v2.36h-2.36zM305.23 384.22h4.37v2.36h-4.37zM309.26 386.23h2.36v2.36h-2.36zM307.24 388.23h2.36v2.36h-2.36zM311.27 388.23h4.37v2.36h-4.37zM307.24 390.24h6.38v2.36h-6.38zM311.27 396.27h2.36v2.36h-2.36zM315.29 396.27h2.36v2.36h-2.36zM313.28 398.27h2.36v2.36h-2.36zM315.29 400.28h2.36v2.36h-2.36zM317.3 402.29h2.36v2.36h-2.36zM317.3 404.3h2.36v2.36h-2.36zM311.27 406.31h2.36v2.36h-2.36zM315.29 406.31h8.39v2.36h-8.39zM325.34 408.32h2.36v2.36h-2.36zM319.31 410.32h2.36v2.36h-2.36zM325.34 410.32h2.36v2.36h-2.36zM331.38 410.32h2.36v2.36h-2.36zM321.32 412.33h2.36v2.36h-2.36zM325.34 412.33h2.36v2.36h-2.36zM327.36 416.35h2.36v2.36h-2.36zM339.42 416.35h2.36v2.36h-2.36zM327.36 418.36h2.36v2.36h-2.36zM327.36 420.37h6.38v2.36h-6.38zM339.42 422.38h8.39v2.36h-8.39zM327.36 424.38h2.36v2.36h-2.36zM331.38 426.39h6.38v2.36h-6.38zM339.42 426.39h2.36v2.36h-2.36zM347.47 426.39h2.36v2.36h-2.36z"/>
<path shape-rendering="crispEdges" fill="#72b1d3" d="M299.2 356.1h2.36v2.36h-2.36zM299.2 360.12h4.37v2.36h-4.37zM297.19 362.12h4.37v2.36h-4.37zM299.2 366.14h2.36v2.36h-2.36zM303.22 370.16h2.36v2.36h-2.36zM301.21 374.18h4.37v2.36h-4.37zM303.22 376.18h4.37v2.36h-4.37zM303.22 378.19h2.36v2.36h-2.36zM303.22 380.2h2.36v2.36h-2.36zM307.24 380.2h2.36v2.36h-2.36zM305.23 382.21h2.36v2.36h-2.36zM303.22 384.22h2.36v2.36h-2.36zM305.23 386.23h2.36v2.36h-2.36zM303.22 390.24h4.37v2.36h-4.37zM307.24 392.25h4.37v2.36h-4.37zM313.28 392.25h2.36v2.36h-2.36zM311.27 394.26h2.36v2.36h-2.36zM315.29 394.26h4.37v2.36h-4.37zM313.28 396.27h2.36v2.36h-2.36zM305.23 398.27h2.36v2.36h-2.36zM311.27 398.27h2.36v2.36h-2.36zM311.27 400.28h4.37v2.36h-4.37zM307.24 402.29h2.36v2.36h-2.36zM315.29 402.29h2.36v2.36h-2.36zM315.29 404.3h2.36v2.36h-2.36zM319.31 408.32h6.38v2.36h-6.38zM317.3 410.32h2.36v2.36h-2.36zM321.32 410.32h2.36v2.36h-2.36zM319.31 412.33h2.36v2.36h-2.36zM325.34 416.35h2.36v2.36h-2.36zM329.37 416.35h4.37v2.36h-4.37zM337.41 416.35h2.36v2.36h-2.36zM321.32 418.36h2.36v2.36h-2.36zM325.34 418.36h2.36v2.36h-2.36zM323.33 420.37h4.37v2.36h-4.37zM327.36 422.38h2.36v2.36h-2.36zM335.4 422.38h4.37v2.36h-4.37zM323.33 424.38h4.37v2.36h-4.37zM327.36 426.39h2.36v2.36h-2.36z"/>
<path shape-rendering="crispEdges" fill="#7ebed7" d="M297.19 356.1h2.36v2.36h-2.36zM297.19 358.11h2.36v2.36h-2.36zM301.21 358.11h2.36v2.36h-2.36zM295.18 360.12h4.37v2.36h-4.37zM297.19 366.14h2.36v2.36h-2.36zM299.2 368.15h4.37v2.36h-4.37zM303.22 372.17h2.36v2.36h-2.36zM299.2 374.18h2.36v2.36h-2.36zM299.2 378.19h4.37v2.36h-4.37zM301.21 380.2h2.36v2.36h-2.36zM301.21 382.21h2.36v2.36h-2.36zM309.26 382.21h2.36v2.36h-2.36zM299.2 384.22h4.37v2.36h-4.37zM303.22 386.23h2.36v2.36h-2.36zM303.22 388.23h4.37v2.36h-4.37zM303.22 392.25h4.37v2.36h-4.37zM309.26 394.26h2.36v2.36h-2.36zM313.28 394.26h2.36v2.36h-2.36zM303.22 396.27h2.36v2.36h-2.36zM309.26 396.27h2.36v2.36h-2.36zM307.24 398.27h4.37v2.36h-4.37zM309.26 400.28h2.36v2.36h-2.36zM311.27 404.3h4.37v2.36h-4.37zM309.26 406.31h2.36v2.36h-2.36zM315.29 408.32h4.37v2.36h-4.37zM311.27 410.32h2.36v2.36h-2.36zM315.29 410.32h2.36v2.36h-2.36zM317.3 412.33h2.36v2.36h-2.36zM317.3 414.34h10.41v2.36h-10.41zM321.32 416.35h2.36v2.36h-2.36zM319.31 418.36h2.36v2.36h-2.36zM323.33 418.36h2.36v2.36h-2.36zM321.32 420.37h2.36v2.36h-2.36zM331.38 422.38h4.37v2.36h-4.37zM319.31 424.38h2.36v2.36h-2.36zM329.37 424.38h2.36v2.36h-2.36zM323.33 426.39h2.36v2.36h-2.36z"/>
<path shape-rendering="crispEdges" fill="#8cc8da" d="M295.18 356.1h2.36v2.36h-2.36zM291.16 362.12h4.37v2.36h-4.37zM295.18 364.13h4.37v2.36h-4.37zM297.19 368.15h2.36v2.36h-2.36zM297.19 370.16h4.37v2.36h-4.37zM297.19 372.17h6.38v2.36h-6.38zM297.19 376.18h2.36v2.36h-2.36zM301.21 376.18h2.36v2.36h-2.36zM299.2 380.2h2.36v2.36h-2.36zM303.22 382.21h2.36v2.36h-2.36zM301.21 386.23h2.36v2.36h-2.36zM297.19 388.23h2.36v2.36h-2.36zM301.21 388.23h2.36v2.36h-2.36zM309.26 388.23h2.36v2.36h-2.36zM301.21 390.24h2.36v2.36h-2.36zM303.22 394.26h2.36v2.36h-2.36zM301.21 396.27h2.36v2.36h-2.36zM305.23 396.27h4.37v2.36h-4.37zM307.24 400.28h2.36v2.36h-2.36zM301.21 402.29h2.36v2.36h-2.36zM309.26 402.29h4.37v2.36h-4.37zM303.22 406.31h2.36v2.36h-2.36zM313.28 410.32h2.36v2.36h-2.36zM307.24 412.33h2.36v2.36h-2.36zM313.28 412.33h4.37v2.36h-4.37zM315.29 414.34h2.36v2.36h-2.36zM317.3 416.35h2.36v2.36h-2.36zM323.33 416.35h2.36v2.36h-2.36zM311.27 418.36h2.36v2.36h-2.36zM317.3 418.36h2.36v2.36h-2.36zM315.29 420.37h4.37v2.36h-4.37zM319.31 422.38h6.38v2.36h-6.38zM315.29 424.38h2.36v2.36h-2.36zM321.32 424.38h2.36v2.36h-2.36zM325.34 426.39h2.36v2.36h-2.36zM329.37 426.39h2.36v2.36h-2.36z"/>
<path shape-rendering="crispEdges" fill="#9bd2dd" d="M293.17 356.1h2.36v2.36h-2.36zM295.18 358.11h2.36v2.36h-2.36zM295.18 362.12h2.36v2.36h-2.36zM295.18 366.14h2.36v2.36h-2.36zM295.18 368.15h2.36v2.36h-2.36zM295.18 370.16h2.36v2.36h-2.36zM293.17 374.18h6.38v2.36h-6.38zM299.2 376.18h2.36v2.36h-2.36zM297.19 380.2h2.36v2.36h-2.36zM297.19 382.21h4.37v2.36h-4.37zM299.2 388.23h2.36v2.36h-2.36zM299.2 390.24h2.36v2.36h-2.36zM299.2 392.25h4.37v2.36h-4.37zM301.21 394.26h2.36v2.36h-2.36zM305.23 394.26h4.37v2.36h-4.37zM301.21 398.27h2.36v2.36h-2.36zM305.23 400.28h2.36v2.36h-2.36zM305.23 402.29h2.36v2.36h-2.36zM307.24 404.3h4.37v2.36h-4.37zM305.23 406.31h4.37v2.36h-4.37zM313.28 406.31h2.36v2.36h-2.36zM309.26 408.32h6.38v2.36h-6.38zM307.24 410.32h4.37v2.36h-4.37zM309.26 412.33h4.37v2.36h-4.37zM313.28 414.34h2.36v2.36h-2.36zM309.26 416.35h2.36v2.36h-2.36zM313.28 416.35h4.37v2.36h-4.37zM319.31 416.35h2.36v2.36h-2.36zM313.28 418.36h4.37v2.36h-4.37zM319.31 420.37h2.36v2.36h-2.36zM315.29 422.38h4.37v2.36h-4.37zM325.34 422.38h2.36v2.36h-2.36zM329.37 422.38h2.36v2.36h-2.36zM311.27 424.38h4.37v2.36h-4.37zM319.31 426.39h4.37v2.36h-4.37z"/>
<path shape-rendering="crispEdges" fill="#aadce0" d="M287.13 356.1h2.36v2.36h-2.36zM291.16 356.1h2.36v2.36h-2.36zM289.14 358.11h6.38v2.36h-6.38zM293.17 360.12h2.36v2.36h-2.36zM289.14 362.12h2.36v2.36h-2.36zM291.16 364.13h4.37v2.36h-4.37zM293.17 366.14h2.36v2.36h-2.36zM293.17 370.16h2.36v2.36h-2.36zM293.17 372.17h4.37v2.36h-4.37zM295.18 376.18h2.36v2.36h-2.36zM295.18 378.19h4.37v2.36h-4.37zM295.18 380.2h2.36v2.36h-2.36zM297.19 384.22h2.36v2.36h-2.36zM297.19 386.23h4.37v2.36h-4.37zM295.18 388.23h2.36v2.36h-2.36zM303.22 398.27h2.36v2.36h-2.36zM303.22 400.28h2.36v2.36h-2.36zM299.2 402.29h2.36v2.36h-2.36zM301.21 404.3h2.36v2.36h-2.36zM305.23 404.3h2.36v2.36h-2.36zM301.21 406.31h2.36v2.36h-2.36zM303.22 408.32h4.37v2.36h-4.37zM305.23 410.32h2.36v2.36h-2.36zM307.24 414.34h2.36v2.36h-2.36zM311.27 414.34h2.36v2.36h-2.36zM307.24 418.36h2.36v2.36h-2.36zM311.27 420.37h2.36v2.36h-2.36zM309.26 424.38h2.36v2.36h-2.36zM317.3 424.38h2.36v2.36h-2.36zM315.29 426.39h2.36v2.36h-2.36z"/>
<path shape-rendering="crispEdges" fill="#b9e3dc" d="M291.16 360.12h2.36v2.36h-2.36zM287.13 362.12h2.36v2.36h-2.36zM289.14 366.14h4.37v2.36h-4.37zM291.16 370.16h2.36v2.36h-2.36zM293.17 378.19h2.36v2.36h-2.36zM293.17 380.2h2.36v2.36h-2.36zM295.18 382.21h2.36v2.36h-2.36zM295.18 384.22h2.36v2.36h-2.36zM295.18 386.23h2.36v2.36h-2.36zM297.19 390.24h2.36v2.36h-2.36zM295.18 392.25h4.37v2.36h-4.37zM295.18 396.27h4.37v2.36h-4.37zM299.2 398.27h2.36v2.36h-2.36zM297.19 400.28h2.36v2.36h-2.36zM301.21 400.28h2.36v2.36h-2.36zM303.22 404.3h2.36v2.36h-2.36zM307.24 408.32h2.36v2.36h-2.36zM303.22 410.32h2.36v2.36h-2.36zM303.22 412.33h4.37v2.36h-4.37zM303.22 414.34h2.36v2.36h-2.36zM309.26 414.34h2.36v2.36h-2.36zM307.24 416.35h2.36v2.36h-2.36zM311.27 416.35h2.36v2.36h-2.36zM305.23 418.36h2.36v2.36h-2.36zM305.23 420.37h6.38v2.36h-6.38zM313.28 420.37h2.36v2.36h-2.36zM305.23 424.38h2.36v2.36h-2.36zM311.27 426.39h4.37v2.36h-4.37zM317.3 426.39h2.36v2.36h-2.36z"/>
<path shape-rendering="crispEdges" fill="#c8ead8" d="M289.14 356.1h2.36v2.36h-2.36zM289.14 360.12h2.36v2.36h-2.36zM289.14 364.13h2.36v2.36h-2.36zM291.16 368.15h2.36v2.36h-2.36zM291.16 372.17h2.36v2.36h-2.36zM291.16 374.18h2.36v2.36h-2.36zM291.16 376.18h4.37v2.36h-4.37zM293.17 382.21h2.36v2.36h-2.36zM295.18 390.24h2.36v2.36h-2.36zM293.17 392.25h2.36v2.36h-2.36zM297.19 394.26h4.37v2.36h-4.37zM299.2 396.27h2.36v2.36h-2.36zM303.22 402.29h2.36v2.36h-2.36zM299.2 410.32h2.36v2.36h-2.36zM301.21 412.33h2.36v2.36h-2.36zM305.23 414.34h2.36v2.36h-2.36zM309.26 418.36h2.36v2.36h-2.36zM303.22 420.37h2.36v2.36h-2.36zM307.24 422.38h8.39v2.36h-8.39zM307.24 424.38h2.36v2.36h-2.36zM307.24 426.39h4.37v2.36h-4.37z"/>
<path shape-rendering="crispEdges" fill="#d4ebcc" d="M285.12 356.1h2.36v2.36h-2.36zM285.12 358.11h4.37v2.36h-4.37zM287.13 364.13h2.36v2.36h-2.36zM287.13 366.14h2.36v2.36h-2.36zM293.17 368.15h2.36v2.36h-2.36zM289.14 370.16h2.36v2.36h-2.36zM291.16 378.19h2.36v2.36h-2.36zM291.16 382.21h2.36v2.36h-2.36zM293.17 384.22h2.36v2.36h-2.36zM293.17 386.23h2.36v2.36h-2.36zM295.18 394.26h2.36v2.36h-2.36zM295.18 398.27h4.37v2.36h-4.37zM299.2 400.28h2.36v2.36h-2.36zM297.19 402.29h2.36v2.36h-2.36zM297.19 404.3h4.37v2.36h-4.37zM297.19 406.31h4.37v2.36h-4.37zM299.2 408.32h4.37v2.36h-4.37zM301.21 410.32h2.36v2.36h-2.36zM299.2 412.33h2.36v2.36h-2.36zM303.22 416.35h4.37v2.36h-4.37zM301.21 418.36h4.37v2.36h-4.37zM299.2 420.37h2.36v2.36h-2.36zM303.22 424.38h2.36v2.36h-2.36zM301.21 426.39h4.37v2.36h-4.37z"/>
<path shape-rendering="crispEdges" fill="#e0ecc0" d="M283.11 358.11h2.36v2.36h-2.36zM287.13 360.12h2.36v2.36h-2.36zM285.12 362.12h2.36v2.36h-2.36zM289.14 368.15h2.36v2.36h-2.36zM287.13 370.16h2.36v2.36h-2.36zM289.14 372.17h2.36v2.36h-2.36zM289.14 374.18h2.36v2.36h-2.36zM289.14 376.18h2.36v2.36h-2.36zM289.14 378.19h2.36v2.36h-2.36zM289.14 380.2h4.37v2.36h-4.37zM291.16 384.22h2.36v2.36h-2.36zM291.16 386.23h2.36v2.36h-2.36zM293.17 388.23h2.36v2.36h-2.36zM293.17 390.24h2.36v2.36h-2.36zM293.17 398.27h2.36v2.36h-2.36zM295.18 400.28h2.36v2.36h-2.36zM293.17 402.29h2.36v2.36h-2.36zM301.21 414.34h2.36v2.36h-2.36zM299.2 416.35h4.37v2.36h-4.37zM301.21 420.37h2.36v2.36h-2.36zM305.23 422.38h2.36v2.36h-2.36zM301.21 424.38h2.36v2.36h-2.36zM305.23 426.39h2.36v2.36h-2.36z"/>
<path shape-rendering="crispEdges" fill="#e3e7ad" d="M285.12 366.14h2.36v2.36h-2.36zM287.13 368.15h2.36v2.36h-2.36zM287.13 374.18h2.36v2.36h-2.36zM287.13 378.19h2.36v2.36h-2.36zM289.14 382.21h2.36v2.36h-2.36zM289.14 384.22h2.36v2.36h-2.36zM289.14 386.23h2.36v2.36h-2.36zM291.16 388.23h2.36v2.36h-2.36zM295.18 402.29h2.36v2.36h-2.36zM295.18 404.3h2.36v2.36h-2.36zM295.18 406.31h2.36v2.36h-2.36zM297.19 408.32h2.36v2.36h-2.36zM297.19 410.32h2.36v2.36h-2.36zM297.19 412.33h2.36v2.36h-2.36zM297.19 414.34h4.37v2.36h-4.37zM299.2 418.36h2.36v2.36h-2.36zM301.21 422.38h4.37v2.36h-4.37zM297.19 424.38h2.36v2.36h-2.36z"/>
<path shape-rendering="crispEdges" fill="#e6e29a" d="M285.12 360.12h2.36v2.36h-2.36zM281.1 362.12h4.37v2.36h-4.37zM285.12 364.13h2.36v2.36h-2.36zM285.12 368.15h2.36v2.36h-2.36zM283.11 370.16h4.37v2.36h-4.37zM285.12 372.17h2.36v2.36h-2.36zM287.13 376.18h2.36v2.36h-2.36zM287.13 382.21h2.36v2.36h-2.36zM287.13 384.22h2.36v2.36h-2.36zM289.14 388.23h2.36v2.36h-2.36zM291.16 390.24h2.36v2.36h-2.36zM291.16 392.25h2.36v2.36h-2.36zM291.16 394.26h4.37v2.36h-4.37zM293.17 396.27h2.36v2.36h-2.36zM293.17 400.28h2.36v2.36h-2.36zM293.17 404.3h2.36v2.36h-2.36zM293.17 406.31h2.36v2.36h-2.36zM293.17 410.32h4.37v2.36h-4.37zM295.18 412.33h2.36v2.36h-2.36zM295.18 414.34h2.36v2.36h-2.36zM297.19 420.37h2.36v2.36h-2.36zM299.2 422.38h2.36v2.36h-2.36zM299.2 424.38h2.36v2.36h-2.36zM299.2 426.39h2.36v2.36h-2.36z"/>
<path shape-rendering="crispEdges" fill="#dfd582" d="M283.11 356.1h2.36v2.36h-2.36zM283.11 360.12h2.36v2.36h-2.36zM283.11 366.14h2.36v2.36h-2.36zM283.11 372.17h2.36v2.36h-2.36zM287.13 372.17h2.36v2.36h-2.36zM283.11 374.18h4.37v2.36h-4.37zM285.12 376.18h2.36v2.36h-2.36zM285.12 378.19h2.36v2.36h-2.36zM287.13 380.2h2.36v2.36h-2.36zM291.16 396.27h2.36v2.36h-2.36zM291.16 398.27h2.36v2.36h-2.36zM291.16 402.29h2.36v2.36h-2.36zM293.17 408.32h2.36v2.36h-2.36zM293.17 412.33h2.36v2.36h-2.36zM295.18 416.35h4.37v2.36h-4.37zM297.19 418.36h2.36v2.36h-2.36zM295.18 420.37h2.36v2.36h-2.36zM295.18 424.38h2.36v2.36h-2.36zM297.19 426.39h2.36v2.36h-2.36z"/>
<path shape-rendering="crispEdges" fill="#d8c86a" d="M281.1 356.1h2.36v2.36h-2.36zM283.11 364.13h2.36v2.36h-2.36zM281.1 366.14h2.36v2.36h-2.36zM283.11 368.15h2.36v2.36h-2.36zM283.11 378.19h2.36v2.36h-2.36zM281.1 380.2h2.36v2.36h-2.36zM285.12 380.2h2.36v2.36h-2.36zM285.12 384.22h2.36v2.36h-2.36zM285.12 386.23h2.36v2.36h-2.36zM287.13 388.23h2.36v2.36h-2.36zM289.14 390.24h2.36v2.36h-2.36zM289.14 392.25h2.36v2.36h-2.36zM289.14 394.26h2.36v2.36h-2.36zM291.16 400.28h2.36v2.36h-2.36zM291.16 404.3h2.36v2.36h-2.36zM291.16 406.31h2.36v2.36h-2.36zM295.18 408.32h2.36v2.36h-2.36zM295.18 418.36h2.36v2.36h-2.36zM297.19 422.38h2.36v2.36h-2.36z"/>
<path shape-rendering="crispEdges" fill="#cdb55a" d="M281.1 358.11h2.36v2.36h-2.36zM281.1 364.13h2.36v2.36h-2.36zM281.1 368.15h2.36v2.36h-2.36zM281.1 370.16h2.36v2.36h-2.36zM281.1 374.18h2.36v2.36h-2.36zM283.11 376.18h2.36v2.36h-2.36zM281.1 378.19h2.36v2.36h-2.36zM283.11 380.2h2.36v2.36h-2.36zM283.11 382.21h4.37v2.36h-4.37zM283.11 386.23h2.36v2.36h-2.36zM287.13 386.23h2.36v2.36h-2.36zM287.13 390.24h2.36v2.36h-2.36zM287.13 392.25h2.36v2.36h-2.36zM287.13 396.27h4.37v2.36h-4.37zM287.13 398.27h4.37v2.36h-4.37zM293.17 414.34h2.36v2.36h-2.36zM293.17 420.37h2.36v2.36h-2.36zM295.18 422.38h2.36v2.36h-2.36zM293.17 424.38h2.36v2.36h-2.36z"/>
<path shape-rendering="crispEdges" fill="#c2a24a" d="M281.1 360.12h2.36v2.36h-2.36zM281.1 372.17h2.36v2.36h-2.36zM283.11 384.22h2.36v2.36h-2.36zM285.12 388.23h2.36v2.36h-2.36zM283.11 390.24h4.37v2.36h-4.37zM283.11 392.25h4.37v2.36h-4.37zM287.13 394.26h2.36v2.36h-2.36zM289.14 400.28h2.36v2.36h-2.36zM289.14 404.3h2.36v2.36h-2.36zM291.16 408.32h2.36v2.36h-2.36zM291.16 410.32h2.36v2.36h-2.36zM291.16 414.34h2.36v2.36h-2.36zM293.17 416.35h2.36v2.36h-2.36zM293.17 418.36h2.36v2.36h-2.36zM295.18 426.39h2.36v2.36h-2.36z"/>
<path shape-rendering="crispEdges" fill="#ba9644" d="M281.1 376.18h2.36v2.36h-2.36zM281.1 384.22h2.36v2.36h-2.36zM283.11 388.23h2.36v2.36h-2.36zM285.12 394.26h2.36v2.36h-2.36zM285.12 396.27h2.36v2.36h-2.36zM285.12 398.27h2.36v2.36h-2.36zM289.14 402.29h2.36v2.36h-2.36zM289.14 406.31h2.36v2.36h-2.36zM291.16 412.33h2.36v2.36h-2.36zM291.16 420.37h2.36v2.36h-2.36zM293.17 422.38h2.36v2.36h-2.36zM293.17 426.39h2.36v2.36h-2.36z"/>
<path shape-rendering="crispEdges" fill="#b28a3d" d="M281.1 382.21h2.36v2.36h-2.36zM281.1 386.23h2.36v2.36h-2.36zM283.11 396.27h2.36v2.36h-2.36zM287.13 400.28h2.36v2.36h-2.36zM287.13 402.29h2.36v2.36h-2.36zM289.14 410.32h2.36v2.36h-2.36zM291.16 418.36h2.36v2.36h-2.36zM291.16 424.38h2.36v2.36h-2.36z"/>
<path shape-rendering="crispEdges" fill="#aa7e36" d="M281.1 388.23h2.36v2.36h-2.36zM281.1 390.24h2.36v2.36h-2.36zM281.1 392.25h2.36v2.36h-2.36zM283.11 394.26h2.36v2.36h-2.36zM281.1 396.27h2.36v2.36h-2.36zM283.11 398.27h2.36v2.36h-2.36zM285.12 400.28h2.36v2.36h-2.36zM283.11 402.29h4.37v2.36h-4.37zM289.14 408.32h2.36v2.36h-2.36zM289.14 412.33h2.36v2.36h-2.36zM289.14 414.34h2.36v2.36h-2.36zM289.14 416.35h4.37v2.36h-4.37zM291.16 422.38h2.36v2.36h-2.36z"/>
<path shape-rendering="crispEdges" fill="#a27230" d="M281.1 394.26h2.36v2.36h-2.36zM281.1 398.27h2.36v2.36h-2.36zM283.11 404.3h4.37v2.36h-4.37zM283.11 406.31h2.36v2.36h-2.36zM287.13 406.31h2.36v2.36h-2.36zM285.12 412.33h2.36v2.36h-2.36zM289.14 418.36h2.36v2.36h-2.36zM289.14 420.37h2.36v2.36h-2.36zM291.16 426.39h2.36v2.36h-2.36z"/>
<path shape-rendering="crispEdges" fill="#9c692c" d="M281.1 400.28h4.37v2.36h-4.37zM281.1 404.3h2.36v2.36h-2.36zM287.13 404.3h2.36v2.36h-2.36zM281.1 406.31h2.36v2.36h-2.36zM285.12 406.31h2.36v2.36h-2.36zM287.13 408.32h2.36v2.36h-2.36zM287.13 410.32h2.36v2.36h-2.36zM287.13 412.33h2.36v2.36h-2.36z"/>
<path shape-rendering="crispEdges" fill="#965f27" d="M281.1 402.29h2.36v2.36h-2.36zM285.12 408.32h2.36v2.36h-2.36zM283.11 410.32h2.36v2.36h-2.36zM283.11 412.33h2.36v2.36h-2.36zM285.12 416.35h2.36v2.36h-2.36zM289.14 426.39h2.36v2.36h-2.36z"/>
<path shape-rendering="crispEdges" fill="#905623" d="M283.11 408.32h2.36v2.36h-2.36zM285.12 410.32h2.36v2.36h-2.36zM285.12 414.34h4.37v2.36h-4.37zM287.13 420.37h2.36v2.36h-2.36zM289.14 422.38h2.36v2.36h-2.36zM289.14 424.38h2.36v2.36h-2.36z"/>
<path shape-rendering="crispEdges" fill="#8a4c1e" d="M281.1 408.32h2.36v2.36h-2.36zM281.1 410.32h2.36v2.36h-2.36zM281.1 412.33h2.36v2.36h-2.36zM281.1 414.34h4.37v2.36h-4.37zM287.13 416.35h2.36v2.36h-2.36zM287.13 418.36h2.36v2.36h-2.36zM283.11 420.37h4.37v2.36h-4.37z"/>
<path shape-rendering="crispEdges" fill="#84431a" d="M283.11 416.35h2.36v2.36h-2.36zM285.12 418.36h2.36v2.36h-2.36zM285.12 424.38h4.37v2.36h-4.37z"/>
<path shape-rendering="crispEdges" fill="#7d3b17" d="M281.1 416.35h2.36v2.36h-2.36zM281.1 418.36h4.37v2.36h-4.37zM281.1 420.37h2.36v2.36h-2.36zM287.13 422.38h2.36v2.36h-2.36zM281.1 424.38h2.36v2.36h-2.36zM285.12 426.39h2.36v2.36h-2.36z"/>
<path shape-rendering="crispEdges" fill="#763314" d="M281.1 422.38h2.36v2.36h-2.36zM285.12 422.38h2.36v2.36h-2.36zM283.11 424.38h2.36v2.36h-2.36zM287.13 426.39h2.36v2.36h-2.36z"/>
<path shape-rendering="crispEdges" fill="#702a10" d="M283.11 422.38h2.36v2.36h-2.36zM281.1 426.39h4.37v2.36h-4.37z"/>
<rect x="281.1" y="356.1" width="72.4" height="72.3" fill="none" stroke="#9a9a9a" stroke-width="0.4"/>
<path shape-rendering="crispEdges" fill="#283a96" d="M415.51 358.11h2.39v2.36h-2.39zM425.69 360.12h2.39v2.36h-2.39zM429.76 368.15h2.39v2.36h-2.39zM427.73 372.17h2.39v2.36h-2.39z"/>
<path shape-rendering="crispEdges" fill="#2a409a" d="M425.69 358.11h4.42v2.36h-4.42zM427.73 360.12h2.39v2.36h-2.39zM421.62 368.15h2.39v2.36h-2.39zM427.73 368.15h2.39v2.36h-2.39z"/>
<path shape-rendering="crispEdges" fill="#2c459d" d="M415.51 356.1h2.39v2.36h-2.39zM419.58 356.1h6.46v2.36h-6.46zM399.22 358.11h2.39v2.36h-2.39zM411.44 358.11h2.39v2.36h-2.39zM419.58 358.11h2.39v2.36h-2.39zM429.76 358.11h2.39v2.36h-2.39zM407.37 360.12h2.39v2.36h-2.39zM419.58 360.12h4.42v2.36h-4.42zM429.76 360.12h2.39v2.36h-2.39zM417.55 362.12h2.39v2.36h-2.39zM429.76 362.12h2.39v2.36h-2.39zM409.4 366.14h2.39v2.36h-2.39zM409.4 368.15h2.39v2.36h-2.39zM413.48 368.15h6.46v2.36h-6.46zM425.69 368.15h2.39v2.36h-2.39zM429.76 370.16h2.39v2.36h-2.39zM425.69 372.17h2.39v2.36h-2.39zM429.76 372.17h2.39v2.36h-2.39zM429.76 376.18h2.39v2.36h-2.39z"/>
<path shape-rendering="crispEdges" fill="#2e4aa0" d="M413.48 356.1h2.39v2.36h-2.39zM425.69 356.1h2.39v2.36h-2.39zM397.19 358.11h2.39v2.36h-2.39zM403.29 358.11h4.42v2.36h-4.42zM413.48 358.11h2.39v2.36h-2.39zM417.55 358.11h2.39v2.36h-2.39zM421.62 358.11h4.42v2.36h-4.42zM411.44 360.12h4.42v2.36h-4.42zM423.66 360.12h2.39v2.36h-2.39zM405.33 362.12h2.39v2.36h-2.39zM413.48 362.12h2.39v2.36h-2.39zM419.58 362.12h2.39v2.36h-2.39zM425.69 362.12h4.42v2.36h-4.42zM401.26 366.14h2.39v2.36h-2.39zM407.37 366.14h2.39v2.36h-2.39zM415.51 366.14h2.39v2.36h-2.39zM421.62 366.14h2.39v2.36h-2.39zM427.73 366.14h4.42v2.36h-4.42zM403.29 368.15h2.39v2.36h-2.39zM411.44 368.15h2.39v2.36h-2.39zM419.58 368.15h2.39v2.36h-2.39zM411.44 370.16h2.39v2.36h-2.39zM415.51 370.16h2.39v2.36h-2.39zM427.73 370.16h2.39v2.36h-2.39zM411.44 372.17h4.42v2.36h-4.42zM417.55 372.17h6.46v2.36h-6.46zM413.48 374.18h2.39v2.36h-2.39zM419.58 374.18h4.42v2.36h-4.42zM425.69 374.18h2.39v2.36h-2.39zM425.69 376.18h4.42v2.36h-4.42zM429.76 378.19h2.39v2.36h-2.39zM427.73 380.2h2.39v2.36h-2.39zM413.48 382.21h2.39v2.36h-2.39zM427.73 382.21h4.42v2.36h-4.42zM425.69 384.22h6.46v2.36h-6.46zM413.48 386.23h2.39v2.36h-2.39zM429.76 398.27h2.39v2.36h-2.39z"/>
<path shape-rendering="crispEdges" fill="#3050a4" d="M399.22 356.1h2.39v2.36h-2.39zM407.37 356.1h6.46v2.36h-6.46zM401.26 358.11h2.39v2.36h-2.39zM407.37 358.11h4.42v2.36h-4.42zM401.26 360.12h2.39v2.36h-2.39zM415.51 360.12h2.39v2.36h-2.39zM397.19 362.12h2.39v2.36h-2.39zM401.26 362.12h4.42v2.36h-4.42zM411.44 362.12h2.39v2.36h-2.39zM415.51 362.12h2.39v2.36h-2.39zM421.62 362.12h4.42v2.36h-4.42zM407.37 364.13h8.49v2.36h-8.49zM417.55 364.13h2.39v2.36h-2.39zM421.62 364.13h10.53v2.36h-10.53zM405.33 366.14h2.39v2.36h-2.39zM417.55 366.14h2.39v2.36h-2.39zM423.66 366.14h4.42v2.36h-4.42zM397.19 368.15h6.46v2.36h-6.46zM405.33 368.15h2.39v2.36h-2.39zM423.66 368.15h2.39v2.36h-2.39zM407.37 370.16h2.39v2.36h-2.39zM413.48 370.16h2.39v2.36h-2.39zM417.55 370.16h2.39v2.36h-2.39zM423.66 370.16h4.42v2.36h-4.42zM399.22 372.17h2.39v2.36h-2.39zM403.29 372.17h8.49v2.36h-8.49zM415.51 372.17h2.39v2.36h-2.39zM423.66 372.17h2.39v2.36h-2.39zM423.66 374.18h2.39v2.36h-2.39zM429.76 374.18h2.39v2.36h-2.39zM407.37 376.18h2.39v2.36h-2.39zM415.51 376.18h8.49v2.36h-8.49zM421.62 378.19h2.39v2.36h-2.39zM425.69 378.19h4.42v2.36h-4.42zM411.44 380.2h2.39v2.36h-2.39zM421.62 380.2h4.42v2.36h-4.42zM403.29 382.21h2.39v2.36h-2.39zM411.44 382.21h2.39v2.36h-2.39zM417.55 382.21h10.53v2.36h-10.53zM413.48 384.22h4.42v2.36h-4.42zM415.51 386.23h2.39v2.36h-2.39zM419.58 386.23h2.39v2.36h-2.39zM423.66 386.23h8.49v2.36h-8.49zM427.73 388.23h2.39v2.36h-2.39zM427.73 398.27h2.39v2.36h-2.39z"/>
<path shape-rendering="crispEdges" fill="#3458a8" d="M401.26 356.1h4.42v2.36h-4.42zM417.55 356.1h2.39v2.36h-2.39zM427.73 356.1h4.42v2.36h-4.42zM395.15 358.11h2.39v2.36h-2.39zM389.04 360.12h2.39v2.36h-2.39zM395.15 360.12h4.42v2.36h-4.42zM403.29 360.12h4.42v2.36h-4.42zM409.4 360.12h2.39v2.36h-2.39zM417.55 360.12h2.39v2.36h-2.39zM399.22 362.12h2.39v2.36h-2.39zM407.37 362.12h4.42v2.36h-4.42zM399.22 364.13h2.39v2.36h-2.39zM403.29 364.13h4.42v2.36h-4.42zM415.51 364.13h2.39v2.36h-2.39zM419.58 364.13h2.39v2.36h-2.39zM391.08 366.14h2.39v2.36h-2.39zM395.15 366.14h6.46v2.36h-6.46zM403.29 366.14h2.39v2.36h-2.39zM411.44 366.14h4.42v2.36h-4.42zM419.58 366.14h2.39v2.36h-2.39zM393.11 368.15h4.42v2.36h-4.42zM407.37 368.15h2.39v2.36h-2.39zM409.4 370.16h2.39v2.36h-2.39zM419.58 370.16h4.42v2.36h-4.42zM397.19 374.18h2.39v2.36h-2.39zM405.33 374.18h4.42v2.36h-4.42zM411.44 374.18h2.39v2.36h-2.39zM415.51 374.18h4.42v2.36h-4.42zM427.73 374.18h2.39v2.36h-2.39zM399.22 376.18h2.39v2.36h-2.39zM409.4 376.18h2.39v2.36h-2.39zM413.48 376.18h2.39v2.36h-2.39zM419.58 378.19h2.39v2.36h-2.39zM423.66 378.19h2.39v2.36h-2.39zM399.22 380.2h4.42v2.36h-4.42zM409.4 380.2h2.39v2.36h-2.39zM413.48 380.2h2.39v2.36h-2.39zM417.55 380.2h4.42v2.36h-4.42zM425.69 380.2h2.39v2.36h-2.39zM429.76 380.2h2.39v2.36h-2.39zM405.33 382.21h2.39v2.36h-2.39zM415.51 382.21h2.39v2.36h-2.39zM399.22 384.22h8.49v2.36h-8.49zM411.44 384.22h2.39v2.36h-2.39zM417.55 384.22h8.49v2.36h-8.49zM395.15 386.23h2.39v2.36h-2.39zM407.37 386.23h4.42v2.36h-4.42zM417.55 386.23h2.39v2.36h-2.39zM407.37 388.23h2.39v2.36h-2.39zM425.69 388.23h2.39v2.36h-2.39zM429.76 388.23h2.39v2.36h-2.39zM415.51 390.24h2.39v2.36h-2.39zM423.66 390.24h2.39v2.36h-2.39zM427.73 390.24h2.39v2.36h-2.39zM413.48 392.25h2.39v2.36h-2.39zM419.58 392.25h2.39v2.36h-2.39zM423.66 392.25h2.39v2.36h-2.39zM413.48 394.26h2.39v2.36h-2.39zM421.62 394.26h6.46v2.36h-6.46zM427.73 396.27h4.42v2.36h-4.42zM413.48 398.27h2.39v2.36h-2.39zM417.55 398.27h2.39v2.36h-2.39zM429.76 400.28h2.39v2.36h-2.39zM423.66 402.29h4.42v2.36h-4.42zM429.76 402.29h2.39v2.36h-2.39z"/>
<path shape-rendering="crispEdges" fill="#3860ad" d="M395.15 356.1h4.42v2.36h-4.42zM405.33 356.1h2.39v2.36h-2.39zM387.01 358.11h2.39v2.36h-2.39zM391.08 358.11h4.42v2.36h-4.42zM393.11 360.12h2.39v2.36h-2.39zM399.22 360.12h2.39v2.36h-2.39zM397.19 364.13h2.39v2.36h-2.39zM401.26 364.13h2.39v2.36h-2.39zM395.15 370.16h10.53v2.36h-10.53zM393.11 372.17h6.46v2.36h-6.46zM401.26 372.17h2.39v2.36h-2.39zM403.29 374.18h2.39v2.36h-2.39zM409.4 374.18h2.39v2.36h-2.39zM403.29 376.18h4.42v2.36h-4.42zM411.44 376.18h2.39v2.36h-2.39zM423.66 376.18h2.39v2.36h-2.39zM401.26 378.19h18.68v2.36h-18.68zM403.29 380.2h6.46v2.36h-6.46zM415.51 380.2h2.39v2.36h-2.39zM397.19 382.21h6.46v2.36h-6.46zM407.37 382.21h4.42v2.36h-4.42zM407.37 384.22h2.39v2.36h-2.39zM403.29 386.23h4.42v2.36h-4.42zM421.62 386.23h2.39v2.36h-2.39zM403.29 388.23h4.42v2.36h-4.42zM411.44 388.23h14.6v2.36h-14.6zM407.37 390.24h2.39v2.36h-2.39zM411.44 390.24h2.39v2.36h-2.39zM419.58 390.24h4.42v2.36h-4.42zM429.76 390.24h2.39v2.36h-2.39zM415.51 392.25h2.39v2.36h-2.39zM421.62 392.25h2.39v2.36h-2.39zM425.69 392.25h2.39v2.36h-2.39zM409.4 394.26h4.42v2.36h-4.42zM417.55 394.26h4.42v2.36h-4.42zM429.76 394.26h2.39v2.36h-2.39zM415.51 396.27h2.39v2.36h-2.39zM423.66 396.27h4.42v2.36h-4.42zM411.44 398.27h2.39v2.36h-2.39zM415.51 398.27h2.39v2.36h-2.39zM419.58 398.27h4.42v2.36h-4.42zM425.69 398.27h2.39v2.36h-2.39zM421.62 400.28h2.39v2.36h-2.39zM409.4 402.29h2.39v2.36h-2.39zM427.73 402.29h2.39v2.36h-2.39zM429.76 404.3h2.39v2.36h-2.39z"/>
<path shape-rendering="crispEdges" fill="#3c68b2" d="M389.04 356.1h2.39v2.36h-2.39zM393.11 356.1h2.39v2.36h-2.39zM384.97 358.11h2.39v2.36h-2.39zM389.04 358.11h2.39v2.36h-2.39zM391.08 360.12h2.39v2.36h-2.39zM393.11 362.12h4.42v2.36h-4.42zM393.11 364.13h2.39v2.36h-2.39zM389.04 368.15h2.39v2.36h-2.39zM393.11 370.16h2.39v2.36h-2.39zM405.33 370.16h2.39v2.36h-2.39zM389.04 372.17h2.39v2.36h-2.39zM395.15 374.18h2.39v2.36h-2.39zM401.26 374.18h2.39v2.36h-2.39zM391.08 376.18h2.39v2.36h-2.39zM397.19 376.18h2.39v2.36h-2.39zM401.26 376.18h2.39v2.36h-2.39zM393.11 378.19h2.39v2.36h-2.39zM397.19 378.19h2.39v2.36h-2.39zM397.19 380.2h2.39v2.36h-2.39zM391.08 382.21h2.39v2.36h-2.39zM393.11 384.22h6.46v2.36h-6.46zM409.4 384.22h2.39v2.36h-2.39zM401.26 386.23h2.39v2.36h-2.39zM411.44 386.23h2.39v2.36h-2.39zM401.26 388.23h2.39v2.36h-2.39zM409.4 388.23h2.39v2.36h-2.39zM401.26 390.24h2.39v2.36h-2.39zM405.33 390.24h2.39v2.36h-2.39zM409.4 390.24h2.39v2.36h-2.39zM417.55 390.24h2.39v2.36h-2.39zM425.69 390.24h2.39v2.36h-2.39zM403.29 392.25h2.39v2.36h-2.39zM407.37 392.25h2.39v2.36h-2.39zM411.44 392.25h2.39v2.36h-2.39zM417.55 392.25h2.39v2.36h-2.39zM427.73 392.25h4.42v2.36h-4.42zM401.26 394.26h8.49v2.36h-8.49zM415.51 394.26h2.39v2.36h-2.39zM427.73 394.26h2.39v2.36h-2.39zM405.33 396.27h2.39v2.36h-2.39zM413.48 396.27h2.39v2.36h-2.39zM417.55 396.27h4.42v2.36h-4.42zM397.19 398.27h2.39v2.36h-2.39zM405.33 398.27h2.39v2.36h-2.39zM409.4 398.27h2.39v2.36h-2.39zM423.66 398.27h2.39v2.36h-2.39zM407.37 400.28h2.39v2.36h-2.39zM411.44 400.28h2.39v2.36h-2.39zM423.66 400.28h2.39v2.36h-2.39zM427.73 400.28h2.39v2.36h-2.39zM407.37 402.29h2.39v2.36h-2.39zM413.48 402.29h2.39v2.36h-2.39zM417.55 402.29h6.46v2.36h-6.46zM427.73 404.3h2.39v2.36h-2.39zM417.55 406.31h4.42v2.36h-4.42zM423.66 406.31h2.39v2.36h-2.39zM419.58 408.32h2.39v2.36h-2.39zM427.73 408.32h4.42v2.36h-4.42zM421.62 410.32h2.39v2.36h-2.39zM427.73 410.32h2.39v2.36h-2.39zM429.76 412.33h2.39v2.36h-2.39z"/>
<path shape-rendering="crispEdges" fill="#4070b6" d="M391.08 356.1h2.39v2.36h-2.39zM382.93 360.12h2.39v2.36h-2.39zM387.01 360.12h2.39v2.36h-2.39zM384.97 362.12h2.39v2.36h-2.39zM391.08 362.12h2.39v2.36h-2.39zM395.15 364.13h2.39v2.36h-2.39zM387.01 366.14h2.39v2.36h-2.39zM387.01 368.15h2.39v2.36h-2.39zM391.08 368.15h2.39v2.36h-2.39zM389.04 370.16h4.42v2.36h-4.42zM391.08 372.17h2.39v2.36h-2.39zM391.08 374.18h4.42v2.36h-4.42zM399.22 374.18h2.39v2.36h-2.39zM393.11 376.18h4.42v2.36h-4.42zM395.15 378.19h2.39v2.36h-2.39zM399.22 378.19h2.39v2.36h-2.39zM389.04 380.2h4.42v2.36h-4.42zM395.15 380.2h2.39v2.36h-2.39zM389.04 382.21h2.39v2.36h-2.39zM393.11 382.21h4.42v2.36h-4.42zM391.08 384.22h2.39v2.36h-2.39zM391.08 386.23h2.39v2.36h-2.39zM397.19 386.23h2.39v2.36h-2.39zM397.19 388.23h4.42v2.36h-4.42zM399.22 390.24h2.39v2.36h-2.39zM403.29 390.24h2.39v2.36h-2.39zM413.48 390.24h2.39v2.36h-2.39zM399.22 392.25h4.42v2.36h-4.42zM405.33 392.25h2.39v2.36h-2.39zM409.4 392.25h2.39v2.36h-2.39zM395.15 394.26h2.39v2.36h-2.39zM399.22 394.26h2.39v2.36h-2.39zM403.29 396.27h2.39v2.36h-2.39zM411.44 396.27h2.39v2.36h-2.39zM421.62 396.27h2.39v2.36h-2.39zM401.26 398.27h4.42v2.36h-4.42zM399.22 400.28h2.39v2.36h-2.39zM403.29 400.28h2.39v2.36h-2.39zM415.51 400.28h6.46v2.36h-6.46zM425.69 400.28h2.39v2.36h-2.39zM401.26 402.29h2.39v2.36h-2.39zM405.33 402.29h2.39v2.36h-2.39zM415.51 402.29h2.39v2.36h-2.39zM409.4 404.3h4.42v2.36h-4.42zM417.55 404.3h10.53v2.36h-10.53zM415.51 406.31h2.39v2.36h-2.39zM427.73 406.31h4.42v2.36h-4.42zM421.62 408.32h4.42v2.36h-4.42zM417.55 410.32h2.39v2.36h-2.39zM423.66 410.32h4.42v2.36h-4.42zM429.76 410.32h2.39v2.36h-2.39zM409.4 412.33h2.39v2.36h-2.39zM417.55 412.33h2.39v2.36h-2.39zM425.69 412.33h2.39v2.36h-2.39zM427.73 414.34h2.39v2.36h-2.39zM409.4 416.35h2.39v2.36h-2.39zM419.58 416.35h2.39v2.36h-2.39zM423.66 416.35h2.39v2.36h-2.39zM427.73 416.35h4.42v2.36h-4.42zM415.51 418.36h2.39v2.36h-2.39zM421.62 418.36h6.46v2.36h-6.46zM429.76 418.36h2.39v2.36h-2.39z"/>
<path shape-rendering="crispEdges" fill="#477abb" d="M382.93 356.1h6.46v2.36h-6.46zM376.82 358.11h4.42v2.36h-4.42zM382.93 358.11h2.39v2.36h-2.39zM380.9 360.12h2.39v2.36h-2.39zM384.97 360.12h2.39v2.36h-2.39zM378.86 362.12h2.39v2.36h-2.39zM382.93 362.12h2.39v2.36h-2.39zM387.01 362.12h4.42v2.36h-4.42zM387.01 364.13h6.46v2.36h-6.46zM389.04 366.14h2.39v2.36h-2.39zM393.11 366.14h2.39v2.36h-2.39zM384.97 368.15h2.39v2.36h-2.39zM387.01 370.16h2.39v2.36h-2.39zM384.97 372.17h2.39v2.36h-2.39zM389.04 374.18h2.39v2.36h-2.39zM387.01 376.18h2.39v2.36h-2.39zM382.93 378.19h2.39v2.36h-2.39zM391.08 378.19h2.39v2.36h-2.39zM387.01 380.2h2.39v2.36h-2.39zM393.11 380.2h2.39v2.36h-2.39zM384.97 382.21h4.42v2.36h-4.42zM389.04 384.22h2.39v2.36h-2.39zM387.01 386.23h4.42v2.36h-4.42zM393.11 386.23h2.39v2.36h-2.39zM399.22 386.23h2.39v2.36h-2.39zM393.11 388.23h4.42v2.36h-4.42zM393.11 390.24h2.39v2.36h-2.39zM397.19 390.24h2.39v2.36h-2.39zM395.15 392.25h4.42v2.36h-4.42zM395.15 396.27h2.39v2.36h-2.39zM399.22 396.27h4.42v2.36h-4.42zM407.37 396.27h4.42v2.36h-4.42zM395.15 398.27h2.39v2.36h-2.39zM399.22 398.27h2.39v2.36h-2.39zM407.37 398.27h2.39v2.36h-2.39zM405.33 400.28h2.39v2.36h-2.39zM409.4 400.28h2.39v2.36h-2.39zM397.19 402.29h4.42v2.36h-4.42zM403.29 402.29h2.39v2.36h-2.39zM411.44 402.29h2.39v2.36h-2.39zM405.33 404.3h2.39v2.36h-2.39zM413.48 404.3h4.42v2.36h-4.42zM413.48 406.31h2.39v2.36h-2.39zM421.62 406.31h2.39v2.36h-2.39zM425.69 406.31h2.39v2.36h-2.39zM405.33 408.32h2.39v2.36h-2.39zM409.4 408.32h10.53v2.36h-10.53zM399.22 410.32h4.42v2.36h-4.42zM405.33 410.32h2.39v2.36h-2.39zM409.4 410.32h2.39v2.36h-2.39zM413.48 410.32h4.42v2.36h-4.42zM419.58 410.32h2.39v2.36h-2.39zM407.37 412.33h2.39v2.36h-2.39zM411.44 412.33h4.42v2.36h-4.42zM421.62 412.33h4.42v2.36h-4.42zM427.73 412.33h2.39v2.36h-2.39zM413.48 414.34h2.39v2.36h-2.39zM421.62 414.34h4.42v2.36h-4.42zM411.44 416.35h2.39v2.36h-2.39zM415.51 416.35h2.39v2.36h-2.39zM421.62 416.35h2.39v2.36h-2.39zM407.37 418.36h4.42v2.36h-4.42zM417.55 418.36h2.39v2.36h-2.39zM427.73 418.36h2.39v2.36h-2.39zM417.55 422.38h4.42v2.36h-4.42zM429.76 422.38h2.39v2.36h-2.39z"/>
<path shape-rendering="crispEdges" fill="#4e84c0" d="M380.9 356.1h2.39v2.36h-2.39zM380.9 358.11h2.39v2.36h-2.39zM378.86 360.12h2.39v2.36h-2.39zM380.9 364.13h2.39v2.36h-2.39zM384.97 364.13h2.39v2.36h-2.39zM380.9 366.14h6.46v2.36h-6.46zM376.82 368.15h2.39v2.36h-2.39zM382.93 368.15h2.39v2.36h-2.39zM382.93 370.16h4.42v2.36h-4.42zM378.86 372.17h2.39v2.36h-2.39zM382.93 372.17h2.39v2.36h-2.39zM387.01 372.17h2.39v2.36h-2.39zM387.01 374.18h2.39v2.36h-2.39zM382.93 376.18h4.42v2.36h-4.42zM389.04 376.18h2.39v2.36h-2.39zM387.01 378.19h4.42v2.36h-4.42zM382.93 380.2h2.39v2.36h-2.39zM382.93 384.22h6.46v2.36h-6.46zM391.08 388.23h2.39v2.36h-2.39zM395.15 390.24h2.39v2.36h-2.39zM389.04 392.25h2.39v2.36h-2.39zM391.08 394.26h4.42v2.36h-4.42zM395.15 400.28h2.39v2.36h-2.39zM413.48 400.28h2.39v2.36h-2.39zM395.15 402.29h2.39v2.36h-2.39zM399.22 404.3h2.39v2.36h-2.39zM403.29 404.3h2.39v2.36h-2.39zM407.37 404.3h2.39v2.36h-2.39zM403.29 406.31h6.46v2.36h-6.46zM411.44 406.31h2.39v2.36h-2.39zM401.26 408.32h2.39v2.36h-2.39zM407.37 408.32h2.39v2.36h-2.39zM425.69 408.32h2.39v2.36h-2.39zM397.19 410.32h2.39v2.36h-2.39zM403.29 410.32h2.39v2.36h-2.39zM407.37 410.32h2.39v2.36h-2.39zM411.44 410.32h2.39v2.36h-2.39zM403.29 412.33h2.39v2.36h-2.39zM415.51 412.33h2.39v2.36h-2.39zM419.58 412.33h2.39v2.36h-2.39zM409.4 414.34h4.42v2.36h-4.42zM415.51 414.34h4.42v2.36h-4.42zM425.69 414.34h2.39v2.36h-2.39zM429.76 414.34h2.39v2.36h-2.39zM403.29 416.35h2.39v2.36h-2.39zM413.48 416.35h2.39v2.36h-2.39zM417.55 416.35h2.39v2.36h-2.39zM425.69 416.35h2.39v2.36h-2.39zM405.33 418.36h2.39v2.36h-2.39zM411.44 418.36h4.42v2.36h-4.42zM419.58 418.36h2.39v2.36h-2.39zM411.44 420.37h2.39v2.36h-2.39zM425.69 420.37h2.39v2.36h-2.39zM429.76 420.37h2.39v2.36h-2.39zM415.51 422.38h2.39v2.36h-2.39zM421.62 422.38h2.39v2.36h-2.39zM427.73 422.38h2.39v2.36h-2.39zM419.58 424.38h2.39v2.36h-2.39zM423.66 424.38h2.39v2.36h-2.39zM427.73 424.38h4.42v2.36h-4.42zM421.62 426.39h2.39v2.36h-2.39z"/>
<path shape-rendering="crispEdges" fill="#558ec5" d="M378.86 356.1h2.39v2.36h-2.39zM374.79 358.11h2.39v2.36h-2.39zM376.82 360.12h2.39v2.36h-2.39zM380.9 362.12h2.39v2.36h-2.39zM378.86 364.13h2.39v2.36h-2.39zM382.93 364.13h2.39v2.36h-2.39zM378.86 368.15h4.42v2.36h-4.42zM380.9 370.16h2.39v2.36h-2.39zM376.82 372.17h2.39v2.36h-2.39zM380.9 372.17h2.39v2.36h-2.39zM384.97 374.18h2.39v2.36h-2.39zM378.86 378.19h2.39v2.36h-2.39zM384.97 380.2h2.39v2.36h-2.39zM378.86 382.21h2.39v2.36h-2.39zM384.97 386.23h2.39v2.36h-2.39zM384.97 388.23h2.39v2.36h-2.39zM384.97 390.24h2.39v2.36h-2.39zM389.04 390.24h4.42v2.36h-4.42zM384.97 392.25h2.39v2.36h-2.39zM391.08 392.25h4.42v2.36h-4.42zM389.04 394.26h2.39v2.36h-2.39zM397.19 394.26h2.39v2.36h-2.39zM391.08 396.27h4.42v2.36h-4.42zM397.19 396.27h2.39v2.36h-2.39zM391.08 398.27h4.42v2.36h-4.42zM391.08 400.28h4.42v2.36h-4.42zM397.19 400.28h2.39v2.36h-2.39zM401.26 400.28h2.39v2.36h-2.39zM384.97 402.29h2.39v2.36h-2.39zM391.08 402.29h2.39v2.36h-2.39zM401.26 404.3h2.39v2.36h-2.39zM397.19 406.31h2.39v2.36h-2.39zM401.26 406.31h2.39v2.36h-2.39zM409.4 406.31h2.39v2.36h-2.39zM397.19 408.32h4.42v2.36h-4.42zM403.29 408.32h2.39v2.36h-2.39zM393.11 410.32h4.42v2.36h-4.42zM397.19 412.33h2.39v2.36h-2.39zM401.26 412.33h2.39v2.36h-2.39zM401.26 414.34h4.42v2.36h-4.42zM407.37 414.34h2.39v2.36h-2.39zM419.58 414.34h2.39v2.36h-2.39zM399.22 416.35h2.39v2.36h-2.39zM405.33 416.35h4.42v2.36h-4.42zM403.29 418.36h2.39v2.36h-2.39zM409.4 420.37h2.39v2.36h-2.39zM413.48 420.37h12.57v2.36h-12.57zM427.73 420.37h2.39v2.36h-2.39zM405.33 422.38h2.39v2.36h-2.39zM409.4 422.38h6.46v2.36h-6.46zM423.66 422.38h4.42v2.36h-4.42zM411.44 424.38h2.39v2.36h-2.39zM415.51 424.38h4.42v2.36h-4.42zM419.58 426.39h2.39v2.36h-2.39zM423.66 426.39h2.39v2.36h-2.39zM429.76 426.39h2.39v2.36h-2.39z"/>
<path shape-rendering="crispEdges" fill="#5c98ca" d="M372.75 356.1h2.39v2.36h-2.39zM376.82 356.1h2.39v2.36h-2.39zM372.75 360.12h2.39v2.36h-2.39zM378.86 366.14h2.39v2.36h-2.39zM374.79 368.15h2.39v2.36h-2.39zM376.82 370.16h4.42v2.36h-4.42zM374.79 372.17h2.39v2.36h-2.39zM376.82 374.18h2.39v2.36h-2.39zM380.9 374.18h4.42v2.36h-4.42zM380.9 376.18h2.39v2.36h-2.39zM380.9 378.19h2.39v2.36h-2.39zM384.97 378.19h2.39v2.36h-2.39zM378.86 380.2h4.42v2.36h-4.42zM380.9 382.21h4.42v2.36h-4.42zM376.82 384.22h6.46v2.36h-6.46zM380.9 386.23h4.42v2.36h-4.42zM378.86 388.23h2.39v2.36h-2.39zM382.93 388.23h2.39v2.36h-2.39zM387.01 388.23h4.42v2.36h-4.42zM378.86 390.24h2.39v2.36h-2.39zM382.93 390.24h2.39v2.36h-2.39zM378.86 392.25h2.39v2.36h-2.39zM384.97 394.26h4.42v2.36h-4.42zM384.97 396.27h6.46v2.36h-6.46zM384.97 398.27h2.39v2.36h-2.39zM389.04 398.27h2.39v2.36h-2.39zM387.01 400.28h4.42v2.36h-4.42zM387.01 402.29h4.42v2.36h-4.42zM393.11 402.29h2.39v2.36h-2.39zM389.04 404.3h2.39v2.36h-2.39zM395.15 404.3h4.42v2.36h-4.42zM391.08 406.31h6.46v2.36h-6.46zM399.22 406.31h2.39v2.36h-2.39zM391.08 408.32h6.46v2.36h-6.46zM389.04 410.32h2.39v2.36h-2.39zM399.22 412.33h2.39v2.36h-2.39zM405.33 412.33h2.39v2.36h-2.39zM393.11 414.34h2.39v2.36h-2.39zM401.26 416.35h2.39v2.36h-2.39zM403.29 420.37h6.46v2.36h-6.46zM401.26 422.38h2.39v2.36h-2.39zM405.33 424.38h2.39v2.36h-2.39zM409.4 424.38h2.39v2.36h-2.39zM421.62 424.38h2.39v2.36h-2.39zM425.69 424.38h2.39v2.36h-2.39zM403.29 426.39h2.39v2.36h-2.39zM411.44 426.39h8.49v2.36h-8.49zM425.69 426.39h4.42v2.36h-4.42z"/>
<path shape-rendering="crispEdges" fill="#67a4ce" d="M374.79 356.1h2.39v2.36h-2.39zM372.75 358.11h2.39v2.36h-2.39zM374.79 360.12h2.39v2.36h-2.39zM376.82 362.12h2.39v2.36h-2.39zM374.79 366.14h4.42v2.36h-4.42zM372.75 372.17h2.39v2.36h-2.39zM374.79 374.18h2.39v2.36h-2.39zM378.86 374.18h2.39v2.36h-2.39zM376.82 376.18h2.39v2.36h-2.39zM374.79 380.2h4.42v2.36h-4.42zM378.86 386.23h2.39v2.36h-2.39zM380.9 390.24h2.39v2.36h-2.39zM387.01 390.24h2.39v2.36h-2.39zM387.01 392.25h2.39v2.36h-2.39zM380.9 396.27h4.42v2.36h-4.42zM378.86 398.27h2.39v2.36h-2.39zM382.93 398.27h2.39v2.36h-2.39zM387.01 398.27h2.39v2.36h-2.39zM393.11 404.3h2.39v2.36h-2.39zM389.04 408.32h2.39v2.36h-2.39zM384.97 410.32h2.39v2.36h-2.39zM391.08 412.33h2.39v2.36h-2.39zM395.15 412.33h2.39v2.36h-2.39zM395.15 414.34h6.46v2.36h-6.46zM405.33 414.34h2.39v2.36h-2.39zM395.15 416.35h4.42v2.36h-4.42zM393.11 418.36h2.39v2.36h-2.39zM397.19 418.36h6.46v2.36h-6.46zM395.15 420.37h4.42v2.36h-4.42zM401.26 420.37h2.39v2.36h-2.39zM395.15 422.38h6.46v2.36h-6.46zM403.29 422.38h2.39v2.36h-2.39zM407.37 422.38h2.39v2.36h-2.39zM393.11 424.38h2.39v2.36h-2.39zM401.26 424.38h4.42v2.36h-4.42zM407.37 424.38h2.39v2.36h-2.39zM413.48 424.38h2.39v2.36h-2.39zM405.33 426.39h6.46v2.36h-6.46z"/>
<path shape-rendering="crispEdges" fill="#72b1d3" d="M370.72 360.12h2.39v2.36h-2.39zM372.75 362.12h4.42v2.36h-4.42zM376.82 364.13h2.39v2.36h-2.39zM374.79 370.16h2.39v2.36h-2.39zM374.79 378.19h4.42v2.36h-4.42zM374.79 382.21h4.42v2.36h-4.42zM374.79 384.22h2.39v2.36h-2.39zM374.79 386.23h2.39v2.36h-2.39zM376.82 392.25h2.39v2.36h-2.39zM380.9 392.25h4.42v2.36h-4.42zM378.86 394.26h6.46v2.36h-6.46zM378.86 396.27h2.39v2.36h-2.39zM380.9 398.27h2.39v2.36h-2.39zM378.86 400.28h2.39v2.36h-2.39zM384.97 400.28h2.39v2.36h-2.39zM380.9 402.29h2.39v2.36h-2.39zM384.97 404.3h4.42v2.36h-4.42zM391.08 404.3h2.39v2.36h-2.39zM384.97 406.31h6.46v2.36h-6.46zM380.9 410.32h2.39v2.36h-2.39zM387.01 410.32h2.39v2.36h-2.39zM391.08 410.32h2.39v2.36h-2.39zM393.11 412.33h2.39v2.36h-2.39zM391.08 414.34h2.39v2.36h-2.39zM387.01 416.35h8.49v2.36h-8.49zM384.97 418.36h2.39v2.36h-2.39zM389.04 418.36h2.39v2.36h-2.39zM395.15 418.36h2.39v2.36h-2.39zM399.22 420.37h2.39v2.36h-2.39zM391.08 422.38h4.42v2.36h-4.42zM395.15 424.38h6.46v2.36h-6.46z"/>
<path shape-rendering="crispEdges" fill="#7ebed7" d="M370.72 362.12h2.39v2.36h-2.39zM372.75 364.13h4.42v2.36h-4.42zM372.75 366.14h2.39v2.36h-2.39zM370.72 368.15h4.42v2.36h-4.42zM372.75 370.16h2.39v2.36h-2.39zM372.75 374.18h2.39v2.36h-2.39zM372.75 376.18h2.39v2.36h-2.39zM378.86 376.18h2.39v2.36h-2.39zM376.82 386.23h2.39v2.36h-2.39zM374.79 388.23h2.39v2.36h-2.39zM380.9 388.23h2.39v2.36h-2.39zM374.79 392.25h2.39v2.36h-2.39zM376.82 394.26h2.39v2.36h-2.39zM376.82 396.27h2.39v2.36h-2.39zM380.9 400.28h4.42v2.36h-4.42zM382.93 402.29h2.39v2.36h-2.39zM382.93 404.3h2.39v2.36h-2.39zM376.82 408.32h2.39v2.36h-2.39zM387.01 408.32h2.39v2.36h-2.39zM382.93 410.32h2.39v2.36h-2.39zM384.97 412.33h6.46v2.36h-6.46zM384.97 414.34h2.39v2.36h-2.39zM389.04 414.34h2.39v2.36h-2.39zM380.9 416.35h4.42v2.36h-4.42zM391.08 418.36h2.39v2.36h-2.39zM391.08 420.37h4.42v2.36h-4.42zM387.01 422.38h2.39v2.36h-2.39zM389.04 424.38h4.42v2.36h-4.42zM395.15 426.39h8.49v2.36h-8.49z"/>
<path shape-rendering="crispEdges" fill="#8cc8da" d="M368.68 356.1h4.42v2.36h-4.42zM368.68 358.11h4.42v2.36h-4.42zM368.68 360.12h2.39v2.36h-2.39zM370.72 366.14h2.39v2.36h-2.39zM368.68 368.15h2.39v2.36h-2.39zM370.72 372.17h2.39v2.36h-2.39zM370.72 374.18h2.39v2.36h-2.39zM374.79 376.18h2.39v2.36h-2.39zM372.75 382.21h2.39v2.36h-2.39zM372.75 384.22h2.39v2.36h-2.39zM376.82 388.23h2.39v2.36h-2.39zM374.79 394.26h2.39v2.36h-2.39zM376.82 398.27h2.39v2.36h-2.39zM376.82 402.29h4.42v2.36h-4.42zM380.9 404.3h2.39v2.36h-2.39zM380.9 406.31h2.39v2.36h-2.39zM380.9 408.32h2.39v2.36h-2.39zM384.97 408.32h2.39v2.36h-2.39zM378.86 410.32h2.39v2.36h-2.39zM378.86 412.33h2.39v2.36h-2.39zM382.93 414.34h2.39v2.36h-2.39zM387.01 414.34h2.39v2.36h-2.39zM378.86 416.35h2.39v2.36h-2.39zM384.97 416.35h2.39v2.36h-2.39zM387.01 418.36h2.39v2.36h-2.39zM387.01 420.37h4.42v2.36h-4.42zM384.97 422.38h2.39v2.36h-2.39zM387.01 424.38h2.39v2.36h-2.39zM393.11 426.39h2.39v2.36h-2.39z"/>
<path shape-rendering="crispEdges" fill="#9bd2dd" d="M368.68 362.12h2.39v2.36h-2.39zM370.72 364.13h2.39v2.36h-2.39zM368.68 366.14h2.39v2.36h-2.39zM366.64 368.15h2.39v2.36h-2.39zM368.68 372.17h2.39v2.36h-2.39zM370.72 376.18h2.39v2.36h-2.39zM370.72 378.19h4.42v2.36h-4.42zM370.72 380.2h4.42v2.36h-4.42zM370.72 382.21h2.39v2.36h-2.39zM370.72 384.22h2.39v2.36h-2.39zM370.72 386.23h4.42v2.36h-4.42zM372.75 388.23h2.39v2.36h-2.39zM372.75 390.24h4.42v2.36h-4.42zM372.75 392.25h2.39v2.36h-2.39zM374.79 396.27h2.39v2.36h-2.39zM374.79 398.27h2.39v2.36h-2.39zM376.82 400.28h2.39v2.36h-2.39zM376.82 404.3h4.42v2.36h-4.42zM376.82 406.31h4.42v2.36h-4.42zM382.93 406.31h2.39v2.36h-2.39zM374.79 408.32h2.39v2.36h-2.39zM382.93 408.32h2.39v2.36h-2.39zM380.9 412.33h4.42v2.36h-4.42zM378.86 414.34h4.42v2.36h-4.42zM380.9 418.36h4.42v2.36h-4.42zM389.04 422.38h2.39v2.36h-2.39zM384.97 424.38h2.39v2.36h-2.39zM387.01 426.39h2.39v2.36h-2.39zM391.08 426.39h2.39v2.36h-2.39z"/>
<path shape-rendering="crispEdges" fill="#aadce0" d="M366.64 356.1h2.39v2.36h-2.39zM364.61 358.11h4.42v2.36h-4.42zM366.64 360.12h2.39v2.36h-2.39zM366.64 362.12h2.39v2.36h-2.39zM368.68 364.13h2.39v2.36h-2.39zM370.72 370.16h2.39v2.36h-2.39zM366.64 372.17h2.39v2.36h-2.39zM368.68 376.18h2.39v2.36h-2.39zM368.68 382.21h2.39v2.36h-2.39zM370.72 390.24h2.39v2.36h-2.39zM376.82 390.24h2.39v2.36h-2.39zM370.72 392.25h2.39v2.36h-2.39zM372.75 394.26h2.39v2.36h-2.39zM370.72 398.27h4.42v2.36h-4.42zM372.75 400.28h2.39v2.36h-2.39zM372.75 402.29h4.42v2.36h-4.42zM374.79 406.31h2.39v2.36h-2.39zM378.86 408.32h2.39v2.36h-2.39zM374.79 410.32h4.42v2.36h-4.42zM374.79 412.33h4.42v2.36h-4.42zM376.82 416.35h2.39v2.36h-2.39zM376.82 418.36h4.42v2.36h-4.42zM378.86 420.37h2.39v2.36h-2.39zM382.93 420.37h4.42v2.36h-4.42zM382.93 422.38h2.39v2.36h-2.39zM380.9 424.38h2.39v2.36h-2.39zM382.93 426.39h4.42v2.36h-4.42z"/>
<path shape-rendering="crispEdges" fill="#b9e3dc" d="M364.61 368.15h2.39v2.36h-2.39zM368.68 370.16h2.39v2.36h-2.39zM368.68 374.18h2.39v2.36h-2.39zM368.68 378.19h2.39v2.36h-2.39zM368.68 384.22h2.39v2.36h-2.39zM368.68 388.23h2.39v2.36h-2.39zM370.72 396.27h4.42v2.36h-4.42zM370.72 400.28h2.39v2.36h-2.39zM374.79 400.28h2.39v2.36h-2.39zM374.79 404.3h2.39v2.36h-2.39zM372.75 408.32h2.39v2.36h-2.39zM374.79 414.34h4.42v2.36h-4.42zM374.79 416.35h2.39v2.36h-2.39zM380.9 420.37h2.39v2.36h-2.39zM378.86 422.38h4.42v2.36h-4.42zM382.93 424.38h2.39v2.36h-2.39zM380.9 426.39h2.39v2.36h-2.39zM389.04 426.39h2.39v2.36h-2.39z"/>
<path shape-rendering="crispEdges" fill="#c8ead8" d="M364.61 356.1h2.39v2.36h-2.39zM364.61 360.12h2.39v2.36h-2.39zM366.64 364.13h2.39v2.36h-2.39zM366.64 366.14h2.39v2.36h-2.39zM368.68 380.2h2.39v2.36h-2.39zM366.64 382.21h2.39v2.36h-2.39zM366.64 386.23h2.39v2.36h-2.39zM370.72 388.23h2.39v2.36h-2.39zM368.68 394.26h4.42v2.36h-4.42zM368.68 396.27h2.39v2.36h-2.39zM370.72 402.29h2.39v2.36h-2.39zM372.75 404.3h2.39v2.36h-2.39zM372.75 410.32h2.39v2.36h-2.39zM372.75 412.33h2.39v2.36h-2.39zM372.75 418.36h4.42v2.36h-4.42zM376.82 420.37h2.39v2.36h-2.39zM378.86 424.38h2.39v2.36h-2.39zM376.82 426.39h2.39v2.36h-2.39z"/>
<path shape-rendering="crispEdges" fill="#d4ebcc" d="M362.57 358.11h2.39v2.36h-2.39zM362.57 360.12h2.39v2.36h-2.39zM364.61 362.12h2.39v2.36h-2.39zM364.61 364.13h2.39v2.36h-2.39zM364.61 370.16h4.42v2.36h-4.42zM364.61 372.17h2.39v2.36h-2.39zM364.61 376.18h4.42v2.36h-4.42zM364.61 378.19h2.39v2.36h-2.39zM366.64 380.2h2.39v2.36h-2.39zM366.64 384.22h2.39v2.36h-2.39zM368.68 386.23h2.39v2.36h-2.39zM368.68 392.25h2.39v2.36h-2.39zM368.68 402.29h2.39v2.36h-2.39zM370.72 404.3h2.39v2.36h-2.39zM370.72 406.31h4.42v2.36h-4.42zM370.72 410.32h2.39v2.36h-2.39zM370.72 416.35h4.42v2.36h-4.42zM372.75 420.37h4.42v2.36h-4.42zM372.75 422.38h6.46v2.36h-6.46zM376.82 424.38h2.39v2.36h-2.39zM378.86 426.39h2.39v2.36h-2.39z"/>
<path shape-rendering="crispEdges" fill="#e0ecc0" d="M364.61 366.14h2.39v2.36h-2.39zM362.57 368.15h2.39v2.36h-2.39zM362.57 372.17h2.39v2.36h-2.39zM364.61 374.18h4.42v2.36h-4.42zM362.57 376.18h2.39v2.36h-2.39zM364.61 384.22h2.39v2.36h-2.39zM366.64 388.23h2.39v2.36h-2.39zM368.68 390.24h2.39v2.36h-2.39zM366.64 394.26h2.39v2.36h-2.39zM368.68 398.27h2.39v2.36h-2.39zM368.68 404.3h2.39v2.36h-2.39zM370.72 408.32h2.39v2.36h-2.39zM370.72 414.34h4.42v2.36h-4.42zM370.72 420.37h2.39v2.36h-2.39zM372.75 424.38h4.42v2.36h-4.42zM374.79 426.39h2.39v2.36h-2.39z"/>
<path shape-rendering="crispEdges" fill="#e3e7ad" d="M362.57 356.1h2.39v2.36h-2.39zM362.57 362.12h2.39v2.36h-2.39zM362.57 364.13h2.39v2.36h-2.39zM362.57 366.14h2.39v2.36h-2.39zM362.57 374.18h2.39v2.36h-2.39zM366.64 378.19h2.39v2.36h-2.39zM364.61 380.2h2.39v2.36h-2.39zM364.61 382.21h2.39v2.36h-2.39zM364.61 388.23h2.39v2.36h-2.39zM366.64 390.24h2.39v2.36h-2.39zM366.64 392.25h2.39v2.36h-2.39zM364.61 394.26h2.39v2.36h-2.39zM368.68 400.28h2.39v2.36h-2.39zM366.64 404.3h2.39v2.36h-2.39zM368.68 408.32h2.39v2.36h-2.39zM368.68 412.33h4.42v2.36h-4.42zM368.68 416.35h2.39v2.36h-2.39z"/>
<path shape-rendering="crispEdges" fill="#e6e29a" d="M360.54 358.11h2.39v2.36h-2.39zM360.54 360.12h2.39v2.36h-2.39zM360.54 368.15h2.39v2.36h-2.39zM362.57 370.16h2.39v2.36h-2.39zM360.54 372.17h2.39v2.36h-2.39zM362.57 380.2h2.39v2.36h-2.39zM364.61 386.23h2.39v2.36h-2.39zM364.61 390.24h2.39v2.36h-2.39zM364.61 392.25h2.39v2.36h-2.39zM366.64 396.27h2.39v2.36h-2.39zM366.64 398.27h2.39v2.36h-2.39zM366.64 400.28h2.39v2.36h-2.39zM366.64 402.29h2.39v2.36h-2.39zM368.68 406.31h2.39v2.36h-2.39zM366.64 410.32h4.42v2.36h-4.42zM368.68 414.34h2.39v2.36h-2.39zM372.75 426.39h2.39v2.36h-2.39z"/>
<path shape-rendering="crispEdges" fill="#dfd582" d="M358.5 356.1h2.39v2.36h-2.39zM358.5 360.12h2.39v2.36h-2.39zM360.54 362.12h2.39v2.36h-2.39zM360.54 364.13h2.39v2.36h-2.39zM360.54 366.14h2.39v2.36h-2.39zM362.57 378.19h2.39v2.36h-2.39zM362.57 382.21h2.39v2.36h-2.39zM362.57 384.22h2.39v2.36h-2.39zM362.57 386.23h2.39v2.36h-2.39zM362.57 388.23h2.39v2.36h-2.39zM366.64 406.31h2.39v2.36h-2.39zM366.64 408.32h2.39v2.36h-2.39zM366.64 416.35h2.39v2.36h-2.39zM368.68 418.36h4.42v2.36h-4.42zM368.68 420.37h2.39v2.36h-2.39zM368.68 422.38h4.42v2.36h-4.42zM368.68 424.38h2.39v2.36h-2.39zM370.72 426.39h2.39v2.36h-2.39z"/>
<path shape-rendering="crispEdges" fill="#d8c86a" d="M360.54 356.1h2.39v2.36h-2.39zM358.5 358.11h2.39v2.36h-2.39zM358.5 366.14h2.39v2.36h-2.39zM360.54 370.16h2.39v2.36h-2.39zM358.5 374.18h4.42v2.36h-4.42zM358.5 376.18h4.42v2.36h-4.42zM360.54 382.21h2.39v2.36h-2.39zM362.57 392.25h2.39v2.36h-2.39zM362.57 394.26h2.39v2.36h-2.39zM364.61 396.27h2.39v2.36h-2.39zM364.61 398.27h2.39v2.36h-2.39zM364.61 410.32h2.39v2.36h-2.39zM366.64 412.33h2.39v2.36h-2.39zM366.64 418.36h2.39v2.36h-2.39zM370.72 424.38h2.39v2.36h-2.39z"/>
<path shape-rendering="crispEdges" fill="#cdb55a" d="M358.5 362.12h2.39v2.36h-2.39zM358.5 364.13h2.39v2.36h-2.39zM358.5 368.15h2.39v2.36h-2.39zM360.54 378.19h2.39v2.36h-2.39zM360.54 384.22h2.39v2.36h-2.39zM360.54 386.23h2.39v2.36h-2.39zM362.57 390.24h2.39v2.36h-2.39zM364.61 400.28h2.39v2.36h-2.39zM364.61 402.29h2.39v2.36h-2.39zM364.61 404.3h2.39v2.36h-2.39zM364.61 406.31h2.39v2.36h-2.39zM364.61 408.32h2.39v2.36h-2.39zM366.64 420.37h2.39v2.36h-2.39z"/>
<path shape-rendering="crispEdges" fill="#c2a24a" d="M358.5 370.16h2.39v2.36h-2.39zM358.5 372.17h2.39v2.36h-2.39zM360.54 380.2h2.39v2.36h-2.39zM358.5 382.21h2.39v2.36h-2.39zM358.5 384.22h2.39v2.36h-2.39zM360.54 394.26h2.39v2.36h-2.39zM362.57 396.27h2.39v2.36h-2.39zM362.57 398.27h2.39v2.36h-2.39zM362.57 400.28h2.39v2.36h-2.39zM364.61 412.33h2.39v2.36h-2.39zM366.64 414.34h2.39v2.36h-2.39zM364.61 422.38h2.39v2.36h-2.39zM368.68 426.39h2.39v2.36h-2.39z"/>
<path shape-rendering="crispEdges" fill="#ba9644" d="M358.5 378.19h2.39v2.36h-2.39zM358.5 388.23h4.42v2.36h-4.42zM358.5 390.24h2.39v2.36h-2.39zM360.54 392.25h2.39v2.36h-2.39zM358.5 394.26h2.39v2.36h-2.39zM360.54 398.27h2.39v2.36h-2.39zM364.61 416.35h2.39v2.36h-2.39zM366.64 422.38h2.39v2.36h-2.39zM366.64 424.38h2.39v2.36h-2.39z"/>
<path shape-rendering="crispEdges" fill="#b28a3d" d="M358.5 380.2h2.39v2.36h-2.39zM358.5 386.23h2.39v2.36h-2.39zM360.54 390.24h2.39v2.36h-2.39zM360.54 396.27h2.39v2.36h-2.39zM358.5 398.27h2.39v2.36h-2.39zM360.54 402.29h2.39v2.36h-2.39zM364.61 414.34h2.39v2.36h-2.39zM364.61 418.36h2.39v2.36h-2.39zM366.64 426.39h2.39v2.36h-2.39z"/>
<path shape-rendering="crispEdges" fill="#aa7e36" d="M358.5 392.25h2.39v2.36h-2.39zM360.54 400.28h2.39v2.36h-2.39zM362.57 402.29h2.39v2.36h-2.39zM360.54 404.3h2.39v2.36h-2.39zM362.57 406.31h2.39v2.36h-2.39zM360.54 410.32h2.39v2.36h-2.39zM364.61 420.37h2.39v2.36h-2.39z"/>
<path shape-rendering="crispEdges" fill="#a27230" d="M358.5 396.27h2.39v2.36h-2.39zM358.5 400.28h2.39v2.36h-2.39zM362.57 404.3h2.39v2.36h-2.39zM362.57 408.32h2.39v2.36h-2.39zM362.57 410.32h2.39v2.36h-2.39zM360.54 412.33h4.42v2.36h-4.42zM362.57 416.35h2.39v2.36h-2.39zM364.61 426.39h2.39v2.36h-2.39z"/>
<path shape-rendering="crispEdges" fill="#9c692c" d="M358.5 402.29h2.39v2.36h-2.39zM358.5 404.3h2.39v2.36h-2.39zM358.5 406.31h4.42v2.36h-4.42zM360.54 408.32h2.39v2.36h-2.39zM360.54 414.34h4.42v2.36h-4.42zM360.54 418.36h4.42v2.36h-4.42zM364.61 424.38h2.39v2.36h-2.39z"/>
<path shape-rendering="crispEdges" fill="#965f27" d="M358.5 408.32h2.39v2.36h-2.39zM358.5 410.32h2.39v2.36h-2.39zM358.5 416.35h4.42v2.36h-4.42zM358.5 418.36h2.39v2.36h-2.39zM362.57 422.38h2.39v2.36h-2.39zM362.57 424.38h2.39v2.36h-2.39z"/>
<path shape-rendering="crispEdges" fill="#905623" d="M358.5 412.33h2.39v2.36h-2.39zM358.5 414.34h2.39v2.36h-2.39z"/>
<path shape-rendering="crispEdges" fill="#8a4c1e" d="M362.57 420.37h2.39v2.36h-2.39zM358.5 422.38h4.42v2.36h-4.42z"/>
<path shape-rendering="crispEdges" fill="#84431a" d="M358.5 420.37h4.42v2.36h-4.42zM358.5 424.38h4.42v2.36h-4.42zM362.57 426.39h2.39v2.36h-2.39z"/>
<path shape-rendering="crispEdges" fill="#7d3b17" d="M358.5 426.39h2.39v2.36h-2.39z"/>
<path shape-rendering="crispEdges" fill="#702a10" d="M360.54 426.39h2.39v2.36h-2.39z"/>
<rect x="358.5" y="356.1" width="73.3" height="72.3" fill="none" stroke="#9a9a9a" stroke-width="0.4"/>
<defs><linearGradient id="cb2" x1="0" y1="0" x2="0" y2="1"><stop offset="0" stop-color="#702a10"/><stop offset="0.1" stop-color="#8a4c1e"/><stop offset="0.2" stop-color="#a27230"/><stop offset="0.3" stop-color="#c2a24a"/><stop offset="0.35" stop-color="#d8c86a"/><stop offset="0.4" stop-color="#e6e29a"/><stop offset="0.45" stop-color="#e0ecc0"/><stop offset="0.5" stop-color="#c8ead8"/><stop offset="0.55" stop-color="#aadce0"/><stop offset="0.62" stop-color="#80c0d8"/><stop offset="0.7" stop-color="#5c98ca"/><stop offset="0.8" stop-color="#4070b6"/><stop offset="0.9" stop-color="#3050a4"/><stop offset="1" stop-color="#283a96"/></linearGradient></defs>
<rect x="436.2" y="374.2" width="7.2" height="54.3" fill="url(#cb2)"/>
<text x="317.4" y="350" font-size="8.8" text-anchor="middle">Precision (fitting)</text>
<text x="395.3" y="350" font-size="8.8" text-anchor="middle">Precision (phasor)</text>
<text x="277.3" y="360.1" font-size="8.8" text-anchor="end">0.2</text>
<text x="277.3" y="378.4" font-size="8.8" text-anchor="end">1.4</text>
<text x="277.3" y="395.6" font-size="8.8" text-anchor="end">2.5</text>
<text x="277.3" y="411.3" font-size="8.8" text-anchor="end">3.5</text>
<text x="277.3" y="429.4" font-size="8.8" text-anchor="end">4.7</text>
<text transform="translate(257.6 392.2) rotate(-90)" font-size="8.8" text-anchor="middle" >FWHM<tspan font-size="6.3" dy="2">IRF</tspan><tspan dy="-2"> (ns)</tspan></text>
<text x="215.5" y="346.9" font-size="10.4" fill="#111" font-weight="bold">f</text>
<text x="437.3" y="360.2" font-size="9" font-style="italic" font-family="Liberation Serif" style="stroke:none">&#963;</text>
<text x="432.3" y="370.3" font-size="8.8">(ns)</text>
<text x="446" y="381.2" font-size="8.8">1.5</text>
<text x="446" y="404.9" font-size="8.8">1.0</text>
<text x="446" y="428.5" font-size="8.8">0.5</text>
<path shape-rendering="crispEdges" fill="#558ec5" d="M351.59 457.43h2.36v2.36h-2.36z"/>
<path shape-rendering="crispEdges" fill="#5c98ca" d="M343.53 453.4h4.38v2.36h-4.38zM351.59 453.4h2.36v2.36h-2.36zM351.59 455.41h2.36v2.36h-2.36z"/>
<path shape-rendering="crispEdges" fill="#67a4ce" d="M347.56 453.4h4.38v2.36h-4.38zM345.54 455.41h6.39v2.36h-6.39zM345.54 457.43h4.38v2.36h-4.38zM343.53 459.44h2.36v2.36h-2.36zM349.57 459.44h4.38v2.36h-4.38zM345.54 461.46h2.36v2.36h-2.36zM349.57 461.46h4.38v2.36h-4.38zM345.54 463.47h2.36v2.36h-2.36zM349.57 463.47h4.38v2.36h-4.38zM347.56 465.48h2.36v2.36h-2.36z"/>
<path shape-rendering="crispEdges" fill="#72b1d3" d="M335.48 453.4h8.41v2.36h-8.41zM341.52 455.41h4.38v2.36h-4.38zM339.5 457.43h6.39v2.36h-6.39zM349.57 457.43h2.36v2.36h-2.36zM335.48 459.44h2.36v2.36h-2.36zM339.5 459.44h2.36v2.36h-2.36zM345.54 459.44h4.38v2.36h-4.38zM343.53 461.46h2.36v2.36h-2.36zM347.56 461.46h2.36v2.36h-2.36zM341.52 463.47h4.38v2.36h-4.38zM347.56 463.47h2.36v2.36h-2.36zM341.52 465.48h2.36v2.36h-2.36zM351.59 465.48h2.36v2.36h-2.36zM345.54 467.5h4.38v2.36h-4.38zM351.59 467.5h2.36v2.36h-2.36zM349.57 469.51h4.38v2.36h-4.38zM343.53 471.52h2.36v2.36h-2.36zM351.59 471.52h2.36v2.36h-2.36z"/>
<path shape-rendering="crispEdges" fill="#7ebed7" d="M331.45 453.4h4.38v2.36h-4.38zM335.48 455.41h6.39v2.36h-6.39zM335.48 457.43h4.38v2.36h-4.38zM341.52 459.44h2.36v2.36h-2.36zM337.49 461.46h2.36v2.36h-2.36zM341.52 461.46h2.36v2.36h-2.36zM337.49 463.47h2.36v2.36h-2.36zM343.53 465.48h4.38v2.36h-4.38zM349.57 465.48h2.36v2.36h-2.36zM343.53 467.5h2.36v2.36h-2.36zM349.57 467.5h2.36v2.36h-2.36zM345.54 469.51h4.38v2.36h-4.38zM345.54 471.52h2.36v2.36h-2.36zM349.57 471.52h2.36v2.36h-2.36zM347.56 473.54h6.39v2.36h-6.39zM351.59 475.55h2.36v2.36h-2.36zM347.56 477.57h6.39v2.36h-6.39zM351.59 481.59h2.36v2.36h-2.36zM349.57 485.62h2.36v2.36h-2.36z"/>
<path shape-rendering="crispEdges" fill="#8cc8da" d="M327.42 453.4h4.38v2.36h-4.38zM329.43 455.41h2.36v2.36h-2.36zM333.46 455.41h2.36v2.36h-2.36zM331.45 457.43h2.36v2.36h-2.36zM337.49 459.44h2.36v2.36h-2.36zM331.45 461.46h4.38v2.36h-4.38zM339.5 461.46h2.36v2.36h-2.36zM339.5 463.47h2.36v2.36h-2.36zM333.46 465.48h2.36v2.36h-2.36zM337.49 465.48h4.38v2.36h-4.38zM339.5 467.5h4.38v2.36h-4.38zM335.48 469.51h2.36v2.36h-2.36zM343.53 469.51h2.36v2.36h-2.36zM337.49 471.52h2.36v2.36h-2.36zM341.52 471.52h2.36v2.36h-2.36zM347.56 471.52h2.36v2.36h-2.36zM337.49 473.54h2.36v2.36h-2.36zM345.54 473.54h2.36v2.36h-2.36zM337.49 475.55h14.45v2.36h-14.45zM343.53 477.57h4.38v2.36h-4.38zM343.53 479.58h2.36v2.36h-2.36zM349.57 479.58h4.38v2.36h-4.38zM345.54 481.59h2.36v2.36h-2.36zM343.53 483.61h2.36v2.36h-2.36zM349.57 483.61h4.38v2.36h-4.38zM347.56 485.62h2.36v2.36h-2.36zM351.59 485.62h2.36v2.36h-2.36zM351.59 487.64h2.36v2.36h-2.36zM351.59 491.66h2.36v2.36h-2.36z"/>
<path shape-rendering="crispEdges" fill="#9bd2dd" d="M323.39 453.4h4.38v2.36h-4.38zM323.39 455.41h6.39v2.36h-6.39zM331.45 455.41h2.36v2.36h-2.36zM327.42 457.43h4.38v2.36h-4.38zM333.46 457.43h2.36v2.36h-2.36zM325.41 459.44h10.42v2.36h-10.42zM327.42 461.46h4.38v2.36h-4.38zM335.48 461.46h2.36v2.36h-2.36zM329.43 463.47h8.41v2.36h-8.41zM329.43 465.48h4.38v2.36h-4.38zM335.48 465.48h2.36v2.36h-2.36zM333.46 467.5h6.39v2.36h-6.39zM333.46 469.51h2.36v2.36h-2.36zM339.5 469.51h4.38v2.36h-4.38zM333.46 471.52h4.38v2.36h-4.38zM339.5 471.52h2.36v2.36h-2.36zM339.5 473.54h6.39v2.36h-6.39zM335.48 475.55h2.36v2.36h-2.36zM335.48 477.57h8.41v2.36h-8.41zM339.5 479.58h2.36v2.36h-2.36zM345.54 479.58h4.38v2.36h-4.38zM341.52 481.59h4.38v2.36h-4.38zM347.56 481.59h4.38v2.36h-4.38zM345.54 483.61h4.38v2.36h-4.38zM343.53 485.62h4.38v2.36h-4.38zM343.53 487.64h8.41v2.36h-8.41zM345.54 489.65h8.41v2.36h-8.41zM345.54 491.66h2.36v2.36h-2.36zM349.57 491.66h2.36v2.36h-2.36zM351.59 493.68h2.36v2.36h-2.36zM349.57 495.69h4.38v2.36h-4.38zM351.59 497.71h2.36v2.36h-2.36zM349.57 499.72h2.36v2.36h-2.36zM347.56 501.73h2.36v2.36h-2.36z"/>
<path shape-rendering="crispEdges" fill="#aadce0" d="M321.38 453.4h2.36v2.36h-2.36zM317.35 455.41h4.38v2.36h-4.38zM321.38 457.43h6.39v2.36h-6.39zM325.41 463.47h4.38v2.36h-4.38zM327.42 465.48h2.36v2.36h-2.36zM329.43 467.5h4.38v2.36h-4.38zM337.49 469.51h2.36v2.36h-2.36zM331.45 471.52h2.36v2.36h-2.36zM335.48 473.54h2.36v2.36h-2.36zM329.43 475.55h2.36v2.36h-2.36zM329.43 477.57h2.36v2.36h-2.36zM333.46 477.57h2.36v2.36h-2.36zM335.48 479.58h4.38v2.36h-4.38zM341.52 479.58h2.36v2.36h-2.36zM337.49 481.59h4.38v2.36h-4.38zM337.49 483.61h4.38v2.36h-4.38zM339.5 485.62h4.38v2.36h-4.38zM337.49 487.64h6.39v2.36h-6.39zM341.52 489.65h2.36v2.36h-2.36zM343.53 491.66h2.36v2.36h-2.36zM347.56 491.66h2.36v2.36h-2.36zM343.53 493.68h8.41v2.36h-8.41zM343.53 495.69h6.39v2.36h-6.39zM347.56 497.71h4.38v2.36h-4.38zM345.54 499.72h4.38v2.36h-4.38zM349.57 501.73h4.38v2.36h-4.38zM349.57 503.75h4.38v2.36h-4.38zM343.53 505.76h2.36v2.36h-2.36zM347.56 505.76h2.36v2.36h-2.36zM349.57 507.77h4.38v2.36h-4.38z"/>
<path shape-rendering="crispEdges" fill="#b9e3dc" d="M313.32 453.4h2.36v2.36h-2.36zM317.35 453.4h4.38v2.36h-4.38zM321.38 455.41h2.36v2.36h-2.36zM319.36 457.43h2.36v2.36h-2.36zM321.38 459.44h4.38v2.36h-4.38zM317.35 461.46h4.38v2.36h-4.38zM323.39 461.46h4.38v2.36h-4.38zM321.38 463.47h4.38v2.36h-4.38zM321.38 465.48h6.39v2.36h-6.39zM327.42 467.5h2.36v2.36h-2.36zM325.41 469.51h4.38v2.36h-4.38zM331.45 469.51h2.36v2.36h-2.36zM327.42 471.52h4.38v2.36h-4.38zM329.43 473.54h6.39v2.36h-6.39zM331.45 475.55h4.38v2.36h-4.38zM323.39 477.57h2.36v2.36h-2.36zM331.45 477.57h2.36v2.36h-2.36zM333.46 479.58h2.36v2.36h-2.36zM333.46 481.59h2.36v2.36h-2.36zM341.52 483.61h2.36v2.36h-2.36zM331.45 485.62h8.41v2.36h-8.41zM333.46 487.64h4.38v2.36h-4.38zM335.48 489.65h6.39v2.36h-6.39zM343.53 489.65h2.36v2.36h-2.36zM339.5 491.66h4.38v2.36h-4.38zM339.5 493.68h4.38v2.36h-4.38zM341.52 495.69h2.36v2.36h-2.36zM343.53 497.71h4.38v2.36h-4.38zM351.59 499.72h2.36v2.36h-2.36zM343.53 503.75h6.39v2.36h-6.39zM345.54 505.76h2.36v2.36h-2.36zM349.57 505.76h2.36v2.36h-2.36zM347.56 507.77h2.36v2.36h-2.36zM351.59 509.79h2.36v2.36h-2.36zM351.59 511.8h2.36v2.36h-2.36zM351.59 513.82h2.36v2.36h-2.36zM351.59 515.83h2.36v2.36h-2.36z"/>
<path shape-rendering="crispEdges" fill="#c8ead8" d="M315.34 453.4h2.36v2.36h-2.36zM315.34 455.41h2.36v2.36h-2.36zM315.34 457.43h4.38v2.36h-4.38zM315.34 459.44h6.39v2.36h-6.39zM315.34 461.46h2.36v2.36h-2.36zM321.38 461.46h2.36v2.36h-2.36zM319.36 463.47h2.36v2.36h-2.36zM319.36 465.48h2.36v2.36h-2.36zM321.38 467.5h6.39v2.36h-6.39zM323.39 469.51h2.36v2.36h-2.36zM329.43 469.51h2.36v2.36h-2.36zM325.41 471.52h2.36v2.36h-2.36zM323.39 473.54h4.38v2.36h-4.38zM323.39 475.55h2.36v2.36h-2.36zM327.42 475.55h2.36v2.36h-2.36zM325.41 477.57h4.38v2.36h-4.38zM329.43 479.58h4.38v2.36h-4.38zM331.45 481.59h2.36v2.36h-2.36zM335.48 481.59h2.36v2.36h-2.36zM331.45 483.61h6.39v2.36h-6.39zM327.42 487.64h2.36v2.36h-2.36zM331.45 487.64h2.36v2.36h-2.36zM331.45 489.65h4.38v2.36h-4.38zM333.46 491.66h6.39v2.36h-6.39zM335.48 493.68h4.38v2.36h-4.38zM331.45 495.69h2.36v2.36h-2.36zM337.49 495.69h4.38v2.36h-4.38zM335.48 497.71h2.36v2.36h-2.36zM339.5 497.71h4.38v2.36h-4.38zM337.49 499.72h8.41v2.36h-8.41zM337.49 501.73h10.42v2.36h-10.42zM339.5 503.75h4.38v2.36h-4.38zM351.59 505.76h2.36v2.36h-2.36zM343.53 507.77h2.36v2.36h-2.36zM343.53 509.79h2.36v2.36h-2.36zM347.56 509.79h4.38v2.36h-4.38zM347.56 511.8h4.38v2.36h-4.38zM343.53 513.82h4.38v2.36h-4.38zM349.57 513.82h2.36v2.36h-2.36zM345.54 515.83h6.39v2.36h-6.39zM349.57 517.84h4.38v2.36h-4.38zM347.56 519.86h2.36v2.36h-2.36zM351.59 519.86h2.36v2.36h-2.36zM347.56 521.87h2.36v2.36h-2.36zM349.57 523.89h4.38v2.36h-4.38z"/>
<path shape-rendering="crispEdges" fill="#d4ebcc" d="M307.28 453.4h6.39v2.36h-6.39zM309.29 455.41h2.36v2.36h-2.36zM313.32 455.41h2.36v2.36h-2.36zM313.32 457.43h2.36v2.36h-2.36zM309.29 459.44h6.39v2.36h-6.39zM309.29 461.46h6.39v2.36h-6.39zM309.29 463.47h2.36v2.36h-2.36zM313.32 463.47h6.39v2.36h-6.39zM317.35 465.48h2.36v2.36h-2.36zM315.34 467.5h4.38v2.36h-4.38zM317.35 469.51h6.39v2.36h-6.39zM319.36 471.52h6.39v2.36h-6.39zM327.42 473.54h2.36v2.36h-2.36zM319.36 475.55h4.38v2.36h-4.38zM325.41 475.55h2.36v2.36h-2.36zM319.36 477.57h4.38v2.36h-4.38zM325.41 479.58h4.38v2.36h-4.38zM325.41 481.59h6.39v2.36h-6.39zM325.41 483.61h6.39v2.36h-6.39zM325.41 485.62h6.39v2.36h-6.39zM325.41 487.64h2.36v2.36h-2.36zM329.43 487.64h2.36v2.36h-2.36zM323.39 489.65h8.41v2.36h-8.41zM329.43 491.66h4.38v2.36h-4.38zM333.46 495.69h4.38v2.36h-4.38zM329.43 497.71h2.36v2.36h-2.36zM337.49 497.71h2.36v2.36h-2.36zM333.46 499.72h4.38v2.36h-4.38zM335.48 503.75h4.38v2.36h-4.38zM333.46 505.76h2.36v2.36h-2.36zM337.49 505.76h6.39v2.36h-6.39zM341.52 507.77h2.36v2.36h-2.36zM345.54 507.77h2.36v2.36h-2.36zM341.52 509.79h2.36v2.36h-2.36zM345.54 509.79h2.36v2.36h-2.36zM343.53 511.8h4.38v2.36h-4.38zM337.49 513.82h6.39v2.36h-6.39zM347.56 513.82h2.36v2.36h-2.36zM343.53 517.84h6.39v2.36h-6.39zM345.54 519.86h2.36v2.36h-2.36zM349.57 519.86h2.36v2.36h-2.36zM349.57 521.87h4.38v2.36h-4.38zM345.54 523.89h4.38v2.36h-4.38z"/>
<path shape-rendering="crispEdges" fill="#e0ecc0" d="M301.24 453.4h2.36v2.36h-2.36zM305.27 453.4h2.36v2.36h-2.36zM311.31 455.41h2.36v2.36h-2.36zM305.27 457.43h2.36v2.36h-2.36zM309.29 457.43h4.38v2.36h-4.38zM311.31 463.47h2.36v2.36h-2.36zM313.32 465.48h4.38v2.36h-4.38zM319.36 467.5h2.36v2.36h-2.36zM315.34 471.52h4.38v2.36h-4.38zM317.35 473.54h2.36v2.36h-2.36zM321.38 473.54h2.36v2.36h-2.36zM317.35 477.57h2.36v2.36h-2.36zM315.34 479.58h2.36v2.36h-2.36zM321.38 479.58h2.36v2.36h-2.36zM321.38 481.59h4.38v2.36h-4.38zM321.38 483.61h4.38v2.36h-4.38zM319.36 485.62h6.39v2.36h-6.39zM319.36 487.64h2.36v2.36h-2.36zM323.39 487.64h2.36v2.36h-2.36zM323.39 491.66h6.39v2.36h-6.39zM329.43 493.68h6.39v2.36h-6.39zM325.41 495.69h2.36v2.36h-2.36zM331.45 497.71h4.38v2.36h-4.38zM327.42 499.72h6.39v2.36h-6.39zM329.43 501.73h2.36v2.36h-2.36zM333.46 501.73h4.38v2.36h-4.38zM327.42 503.75h2.36v2.36h-2.36zM333.46 503.75h2.36v2.36h-2.36zM327.42 505.76h2.36v2.36h-2.36zM331.45 505.76h2.36v2.36h-2.36zM335.48 505.76h2.36v2.36h-2.36zM331.45 507.77h2.36v2.36h-2.36zM337.49 507.77h4.38v2.36h-4.38zM333.46 509.79h8.41v2.36h-8.41zM337.49 511.8h6.39v2.36h-6.39zM331.45 513.82h2.36v2.36h-2.36zM335.48 513.82h2.36v2.36h-2.36zM337.49 515.83h8.41v2.36h-8.41zM335.48 517.84h4.38v2.36h-4.38zM341.52 517.84h2.36v2.36h-2.36zM341.52 519.86h4.38v2.36h-4.38zM339.5 521.87h2.36v2.36h-2.36zM343.53 521.87h4.38v2.36h-4.38zM341.52 523.89h2.36v2.36h-2.36z"/>
<path shape-rendering="crispEdges" fill="#e3e7ad" d="M303.25 453.4h2.36v2.36h-2.36zM305.27 455.41h4.38v2.36h-4.38zM303.25 457.43h2.36v2.36h-2.36zM307.28 457.43h2.36v2.36h-2.36zM305.27 459.44h4.38v2.36h-4.38zM305.27 461.46h4.38v2.36h-4.38zM307.28 463.47h2.36v2.36h-2.36zM305.27 465.48h4.38v2.36h-4.38zM311.31 465.48h2.36v2.36h-2.36zM309.29 467.5h6.39v2.36h-6.39zM311.31 469.51h6.39v2.36h-6.39zM311.31 471.52h4.38v2.36h-4.38zM313.32 473.54h4.38v2.36h-4.38zM319.36 473.54h2.36v2.36h-2.36zM311.31 475.55h2.36v2.36h-2.36zM315.34 475.55h4.38v2.36h-4.38zM311.31 477.57h6.39v2.36h-6.39zM317.35 479.58h4.38v2.36h-4.38zM323.39 479.58h2.36v2.36h-2.36zM319.36 481.59h2.36v2.36h-2.36zM319.36 483.61h2.36v2.36h-2.36zM313.32 485.62h6.39v2.36h-6.39zM317.35 487.64h2.36v2.36h-2.36zM321.38 487.64h2.36v2.36h-2.36zM317.35 489.65h6.39v2.36h-6.39zM319.36 491.66h4.38v2.36h-4.38zM323.39 493.68h6.39v2.36h-6.39zM323.39 495.69h2.36v2.36h-2.36zM329.43 495.69h2.36v2.36h-2.36zM323.39 497.71h6.39v2.36h-6.39zM325.41 499.72h2.36v2.36h-2.36zM321.38 501.73h4.38v2.36h-4.38zM327.42 501.73h2.36v2.36h-2.36zM331.45 501.73h2.36v2.36h-2.36zM325.41 503.75h2.36v2.36h-2.36zM329.43 503.75h4.38v2.36h-4.38zM325.41 505.76h2.36v2.36h-2.36zM329.43 505.76h2.36v2.36h-2.36zM329.43 507.77h2.36v2.36h-2.36zM333.46 507.77h4.38v2.36h-4.38zM329.43 509.79h4.38v2.36h-4.38zM335.48 511.8h2.36v2.36h-2.36zM329.43 513.82h2.36v2.36h-2.36zM333.46 513.82h2.36v2.36h-2.36zM335.48 515.83h2.36v2.36h-2.36zM333.46 517.84h2.36v2.36h-2.36zM339.5 517.84h2.36v2.36h-2.36zM333.46 519.86h2.36v2.36h-2.36zM337.49 519.86h2.36v2.36h-2.36zM337.49 521.87h2.36v2.36h-2.36zM341.52 521.87h2.36v2.36h-2.36zM337.49 523.89h4.38v2.36h-4.38zM343.53 523.89h2.36v2.36h-2.36z"/>
<path shape-rendering="crispEdges" fill="#e6e29a" d="M295.2 453.4h4.38v2.36h-4.38zM303.25 455.41h2.36v2.36h-2.36zM299.23 457.43h2.36v2.36h-2.36zM301.24 459.44h4.38v2.36h-4.38zM301.24 461.46h4.38v2.36h-4.38zM303.25 463.47h4.38v2.36h-4.38zM309.29 465.48h2.36v2.36h-2.36zM303.25 467.5h2.36v2.36h-2.36zM307.28 467.5h2.36v2.36h-2.36zM305.27 469.51h2.36v2.36h-2.36zM309.29 469.51h2.36v2.36h-2.36zM305.27 471.52h6.39v2.36h-6.39zM309.29 473.54h4.38v2.36h-4.38zM309.29 475.55h2.36v2.36h-2.36zM313.32 475.55h2.36v2.36h-2.36zM307.28 477.57h4.38v2.36h-4.38zM311.31 479.58h4.38v2.36h-4.38zM311.31 481.59h8.41v2.36h-8.41zM313.32 483.61h2.36v2.36h-2.36zM317.35 483.61h2.36v2.36h-2.36zM311.31 485.62h2.36v2.36h-2.36zM313.32 487.64h2.36v2.36h-2.36zM313.32 489.65h4.38v2.36h-4.38zM317.35 491.66h2.36v2.36h-2.36zM315.34 493.68h8.41v2.36h-8.41zM317.35 495.69h6.39v2.36h-6.39zM327.42 495.69h2.36v2.36h-2.36zM313.32 497.71h2.36v2.36h-2.36zM317.35 497.71h6.39v2.36h-6.39zM317.35 499.72h8.41v2.36h-8.41zM325.41 501.73h2.36v2.36h-2.36zM323.39 503.75h2.36v2.36h-2.36zM321.38 505.76h4.38v2.36h-4.38zM325.41 509.79h4.38v2.36h-4.38zM323.39 511.8h2.36v2.36h-2.36zM327.42 511.8h4.38v2.36h-4.38zM333.46 511.8h2.36v2.36h-2.36zM325.41 513.82h2.36v2.36h-2.36zM321.38 515.83h2.36v2.36h-2.36zM325.41 515.83h10.42v2.36h-10.42zM323.39 517.84h10.42v2.36h-10.42zM325.41 519.86h2.36v2.36h-2.36zM329.43 519.86h4.38v2.36h-4.38zM335.48 519.86h2.36v2.36h-2.36zM339.5 519.86h2.36v2.36h-2.36zM327.42 521.87h4.38v2.36h-4.38zM333.46 521.87h4.38v2.36h-4.38zM327.42 523.89h2.36v2.36h-2.36zM333.46 523.89h4.38v2.36h-4.38z"/>
<path shape-rendering="crispEdges" fill="#dfd582" d="M299.23 453.4h2.36v2.36h-2.36zM297.21 455.41h6.39v2.36h-6.39zM295.2 457.43h2.36v2.36h-2.36zM301.24 457.43h2.36v2.36h-2.36zM299.23 459.44h2.36v2.36h-2.36zM299.23 461.46h2.36v2.36h-2.36zM297.21 463.47h2.36v2.36h-2.36zM301.24 463.47h2.36v2.36h-2.36zM299.23 465.48h6.39v2.36h-6.39zM301.24 467.5h2.36v2.36h-2.36zM305.27 467.5h2.36v2.36h-2.36zM303.25 469.51h2.36v2.36h-2.36zM307.28 469.51h2.36v2.36h-2.36zM303.25 471.52h2.36v2.36h-2.36zM303.25 473.54h6.39v2.36h-6.39zM305.27 475.55h4.38v2.36h-4.38zM303.25 477.57h4.38v2.36h-4.38zM307.28 479.58h4.38v2.36h-4.38zM307.28 481.59h4.38v2.36h-4.38zM307.28 483.61h6.39v2.36h-6.39zM315.34 483.61h2.36v2.36h-2.36zM307.28 485.62h4.38v2.36h-4.38zM311.31 487.64h2.36v2.36h-2.36zM315.34 487.64h2.36v2.36h-2.36zM307.28 489.65h6.39v2.36h-6.39zM307.28 491.66h2.36v2.36h-2.36zM311.31 491.66h6.39v2.36h-6.39zM311.31 493.68h4.38v2.36h-4.38zM311.31 495.69h4.38v2.36h-4.38zM315.34 499.72h2.36v2.36h-2.36zM315.34 501.73h2.36v2.36h-2.36zM319.36 501.73h2.36v2.36h-2.36zM317.35 503.75h6.39v2.36h-6.39zM317.35 505.76h4.38v2.36h-4.38zM317.35 507.77h12.43v2.36h-12.43zM315.34 509.79h10.42v2.36h-10.42zM319.36 511.8h4.38v2.36h-4.38zM325.41 511.8h2.36v2.36h-2.36zM331.45 511.8h2.36v2.36h-2.36zM321.38 513.82h4.38v2.36h-4.38zM327.42 513.82h2.36v2.36h-2.36zM319.36 515.83h2.36v2.36h-2.36zM323.39 515.83h2.36v2.36h-2.36zM319.36 517.84h4.38v2.36h-4.38zM319.36 519.86h2.36v2.36h-2.36zM323.39 519.86h2.36v2.36h-2.36zM327.42 519.86h2.36v2.36h-2.36zM321.38 521.87h6.39v2.36h-6.39zM331.45 521.87h2.36v2.36h-2.36zM325.41 523.89h2.36v2.36h-2.36zM329.43 523.89h4.38v2.36h-4.38z"/>
<path shape-rendering="crispEdges" fill="#d8c86a" d="M293.18 453.4h2.36v2.36h-2.36zM295.2 455.41h2.36v2.36h-2.36zM293.18 457.43h2.36v2.36h-2.36zM297.21 457.43h2.36v2.36h-2.36zM295.2 459.44h4.38v2.36h-4.38zM295.2 461.46h4.38v2.36h-4.38zM299.23 463.47h2.36v2.36h-2.36zM297.21 465.48h2.36v2.36h-2.36zM299.23 467.5h2.36v2.36h-2.36zM301.24 469.51h2.36v2.36h-2.36zM301.24 471.52h2.36v2.36h-2.36zM299.23 475.55h6.39v2.36h-6.39zM301.24 477.57h2.36v2.36h-2.36zM303.25 479.58h2.36v2.36h-2.36zM303.25 481.59h4.38v2.36h-4.38zM305.27 483.61h2.36v2.36h-2.36zM305.27 485.62h2.36v2.36h-2.36zM305.27 487.64h6.39v2.36h-6.39zM305.27 489.65h2.36v2.36h-2.36zM309.29 491.66h2.36v2.36h-2.36zM315.34 495.69h2.36v2.36h-2.36zM311.31 497.71h2.36v2.36h-2.36zM315.34 497.71h2.36v2.36h-2.36zM311.31 499.72h4.38v2.36h-4.38zM313.32 501.73h2.36v2.36h-2.36zM317.35 501.73h2.36v2.36h-2.36zM313.32 503.75h4.38v2.36h-4.38zM315.34 505.76h2.36v2.36h-2.36zM313.32 509.79h2.36v2.36h-2.36zM317.35 511.8h2.36v2.36h-2.36zM315.34 513.82h6.39v2.36h-6.39zM317.35 515.83h2.36v2.36h-2.36zM321.38 519.86h2.36v2.36h-2.36zM323.39 523.89h2.36v2.36h-2.36z"/>
<path shape-rendering="crispEdges" fill="#cdb55a" d="M291.17 453.4h2.36v2.36h-2.36zM293.18 455.41h2.36v2.36h-2.36zM293.18 459.44h2.36v2.36h-2.36zM295.2 463.47h2.36v2.36h-2.36zM297.21 467.5h2.36v2.36h-2.36zM299.23 469.51h2.36v2.36h-2.36zM297.21 471.52h4.38v2.36h-4.38zM301.24 473.54h2.36v2.36h-2.36zM299.23 477.57h2.36v2.36h-2.36zM305.27 479.58h2.36v2.36h-2.36zM303.25 483.61h2.36v2.36h-2.36zM303.25 485.62h2.36v2.36h-2.36zM303.25 487.64h2.36v2.36h-2.36zM305.27 491.66h2.36v2.36h-2.36zM307.28 493.68h4.38v2.36h-4.38zM309.29 495.69h2.36v2.36h-2.36zM309.29 497.71h2.36v2.36h-2.36zM309.29 499.72h2.36v2.36h-2.36zM309.29 501.73h4.38v2.36h-4.38zM311.31 503.75h2.36v2.36h-2.36zM313.32 505.76h2.36v2.36h-2.36zM313.32 507.77h4.38v2.36h-4.38zM315.34 511.8h2.36v2.36h-2.36zM313.32 515.83h2.36v2.36h-2.36zM317.35 517.84h2.36v2.36h-2.36zM317.35 519.86h2.36v2.36h-2.36zM321.38 523.89h2.36v2.36h-2.36z"/>
<path shape-rendering="crispEdges" fill="#c2a24a" d="M289.16 453.4h2.36v2.36h-2.36zM289.16 455.41h4.38v2.36h-4.38zM291.17 457.43h2.36v2.36h-2.36zM295.2 465.48h2.36v2.36h-2.36zM295.2 467.5h2.36v2.36h-2.36zM297.21 469.51h2.36v2.36h-2.36zM299.23 473.54h2.36v2.36h-2.36zM297.21 475.55h2.36v2.36h-2.36zM301.24 479.58h2.36v2.36h-2.36zM301.24 481.59h2.36v2.36h-2.36zM301.24 483.61h2.36v2.36h-2.36zM301.24 485.62h2.36v2.36h-2.36zM301.24 487.64h2.36v2.36h-2.36zM303.25 489.65h2.36v2.36h-2.36zM303.25 491.66h2.36v2.36h-2.36zM305.27 493.68h2.36v2.36h-2.36zM305.27 495.69h4.38v2.36h-4.38zM309.29 503.75h2.36v2.36h-2.36zM311.31 505.76h2.36v2.36h-2.36zM309.29 507.77h4.38v2.36h-4.38zM311.31 509.79h2.36v2.36h-2.36zM313.32 513.82h2.36v2.36h-2.36zM311.31 515.83h2.36v2.36h-2.36zM315.34 515.83h2.36v2.36h-2.36zM315.34 517.84h2.36v2.36h-2.36zM315.34 519.86h2.36v2.36h-2.36zM317.35 521.87h4.38v2.36h-4.38zM317.35 523.89h4.38v2.36h-4.38z"/>
<path shape-rendering="crispEdges" fill="#ba9644" d="M289.16 457.43h2.36v2.36h-2.36zM291.17 459.44h2.36v2.36h-2.36zM291.17 461.46h4.38v2.36h-4.38zM293.18 463.47h2.36v2.36h-2.36zM293.18 465.48h2.36v2.36h-2.36zM295.2 469.51h2.36v2.36h-2.36zM295.2 471.52h2.36v2.36h-2.36zM297.21 473.54h2.36v2.36h-2.36zM297.21 477.57h2.36v2.36h-2.36zM299.23 479.58h2.36v2.36h-2.36zM299.23 481.59h2.36v2.36h-2.36zM299.23 483.61h2.36v2.36h-2.36zM301.24 489.65h2.36v2.36h-2.36zM303.25 493.68h2.36v2.36h-2.36zM307.28 497.71h2.36v2.36h-2.36zM307.28 499.72h2.36v2.36h-2.36zM305.27 501.73h4.38v2.36h-4.38zM309.29 505.76h2.36v2.36h-2.36zM311.31 511.8h4.38v2.36h-4.38zM311.31 513.82h2.36v2.36h-2.36zM313.32 517.84h2.36v2.36h-2.36zM313.32 521.87h2.36v2.36h-2.36z"/>
<path shape-rendering="crispEdges" fill="#b28a3d" d="M287.14 453.4h2.36v2.36h-2.36zM283.11 455.41h2.36v2.36h-2.36zM287.14 455.41h2.36v2.36h-2.36zM289.16 459.44h2.36v2.36h-2.36zM291.17 463.47h2.36v2.36h-2.36zM293.18 467.5h2.36v2.36h-2.36zM291.17 469.51h2.36v2.36h-2.36zM295.2 473.54h2.36v2.36h-2.36zM295.2 475.55h2.36v2.36h-2.36zM291.17 477.57h2.36v2.36h-2.36zM295.2 477.57h2.36v2.36h-2.36zM297.21 479.58h2.36v2.36h-2.36zM289.16 485.62h2.36v2.36h-2.36zM295.2 485.62h6.39v2.36h-6.39zM283.11 487.64h2.36v2.36h-2.36zM293.18 487.64h2.36v2.36h-2.36zM299.23 487.64h2.36v2.36h-2.36zM297.21 489.65h2.36v2.36h-2.36zM283.11 491.66h2.36v2.36h-2.36zM299.23 495.69h2.36v2.36h-2.36zM303.25 495.69h2.36v2.36h-2.36zM305.27 497.71h2.36v2.36h-2.36zM305.27 499.72h2.36v2.36h-2.36zM291.17 501.73h2.36v2.36h-2.36zM305.27 503.75h4.38v2.36h-4.38zM305.27 505.76h4.38v2.36h-4.38zM309.29 509.79h2.36v2.36h-2.36zM309.29 511.8h2.36v2.36h-2.36zM303.25 513.82h2.36v2.36h-2.36zM309.29 513.82h2.36v2.36h-2.36zM291.17 515.83h2.36v2.36h-2.36zM307.28 515.83h4.38v2.36h-4.38zM307.28 517.84h2.36v2.36h-2.36zM311.31 517.84h2.36v2.36h-2.36zM311.31 519.86h4.38v2.36h-4.38zM315.34 521.87h2.36v2.36h-2.36zM315.34 523.89h2.36v2.36h-2.36z"/>
<path shape-rendering="crispEdges" fill="#aa7e36" d="M281.1 453.4h6.39v2.36h-6.39zM281.1 455.41h2.36v2.36h-2.36zM285.13 455.41h2.36v2.36h-2.36zM281.1 457.43h2.36v2.36h-2.36zM287.14 457.43h2.36v2.36h-2.36zM281.1 459.44h2.36v2.36h-2.36zM285.13 459.44h4.38v2.36h-4.38zM283.11 461.46h4.38v2.36h-4.38zM289.16 461.46h2.36v2.36h-2.36zM287.14 463.47h4.38v2.36h-4.38zM291.17 465.48h2.36v2.36h-2.36zM281.1 467.5h4.38v2.36h-4.38zM287.14 467.5h2.36v2.36h-2.36zM291.17 467.5h2.36v2.36h-2.36zM281.1 469.51h4.38v2.36h-4.38zM293.18 469.51h2.36v2.36h-2.36zM285.13 471.52h2.36v2.36h-2.36zM291.17 471.52h4.38v2.36h-4.38zM281.1 473.54h2.36v2.36h-2.36zM293.18 473.54h2.36v2.36h-2.36zM289.16 475.55h6.39v2.36h-6.39zM285.13 477.57h6.39v2.36h-6.39zM293.18 477.57h2.36v2.36h-2.36zM285.13 479.58h4.38v2.36h-4.38zM291.17 479.58h6.39v2.36h-6.39zM285.13 481.59h2.36v2.36h-2.36zM293.18 481.59h2.36v2.36h-2.36zM297.21 481.59h2.36v2.36h-2.36zM281.1 483.61h4.38v2.36h-4.38zM293.18 483.61h6.39v2.36h-6.39zM281.1 485.62h6.39v2.36h-6.39zM291.17 485.62h4.38v2.36h-4.38zM287.14 487.64h6.39v2.36h-6.39zM295.2 487.64h4.38v2.36h-4.38zM283.11 489.65h4.38v2.36h-4.38zM291.17 489.65h6.39v2.36h-6.39zM299.23 489.65h2.36v2.36h-2.36zM281.1 491.66h2.36v2.36h-2.36zM295.2 491.66h2.36v2.36h-2.36zM299.23 491.66h4.38v2.36h-4.38zM285.13 493.68h2.36v2.36h-2.36zM297.21 493.68h2.36v2.36h-2.36zM301.24 493.68h2.36v2.36h-2.36zM281.1 495.69h2.36v2.36h-2.36zM285.13 495.69h2.36v2.36h-2.36zM291.17 495.69h2.36v2.36h-2.36zM295.2 495.69h2.36v2.36h-2.36zM301.24 495.69h2.36v2.36h-2.36zM283.11 497.71h2.36v2.36h-2.36zM291.17 497.71h4.38v2.36h-4.38zM299.23 497.71h6.39v2.36h-6.39zM283.11 499.72h4.38v2.36h-4.38zM291.17 499.72h6.39v2.36h-6.39zM301.24 499.72h4.38v2.36h-4.38zM285.13 501.73h2.36v2.36h-2.36zM293.18 501.73h2.36v2.36h-2.36zM299.23 501.73h2.36v2.36h-2.36zM303.25 501.73h2.36v2.36h-2.36zM283.11 503.75h2.36v2.36h-2.36zM295.2 503.75h2.36v2.36h-2.36zM299.23 503.75h6.39v2.36h-6.39zM281.1 505.76h2.36v2.36h-2.36zM285.13 505.76h2.36v2.36h-2.36zM293.18 505.76h4.38v2.36h-4.38zM299.23 505.76h6.39v2.36h-6.39zM281.1 507.77h2.36v2.36h-2.36zM291.17 507.77h2.36v2.36h-2.36zM303.25 507.77h6.39v2.36h-6.39zM285.13 509.79h4.38v2.36h-4.38zM291.17 509.79h2.36v2.36h-2.36zM297.21 509.79h2.36v2.36h-2.36zM301.24 509.79h2.36v2.36h-2.36zM305.27 509.79h4.38v2.36h-4.38zM307.28 511.8h2.36v2.36h-2.36zM285.13 513.82h2.36v2.36h-2.36zM291.17 513.82h4.38v2.36h-4.38zM307.28 513.82h2.36v2.36h-2.36zM283.11 515.83h2.36v2.36h-2.36zM289.16 515.83h2.36v2.36h-2.36zM293.18 515.83h4.38v2.36h-4.38zM299.23 515.83h2.36v2.36h-2.36zM305.27 515.83h2.36v2.36h-2.36zM281.1 517.84h8.41v2.36h-8.41zM293.18 517.84h2.36v2.36h-2.36zM299.23 517.84h2.36v2.36h-2.36zM309.29 517.84h2.36v2.36h-2.36zM287.14 519.86h2.36v2.36h-2.36zM293.18 519.86h2.36v2.36h-2.36zM297.21 519.86h2.36v2.36h-2.36zM301.24 519.86h4.38v2.36h-4.38zM307.28 519.86h4.38v2.36h-4.38zM287.14 521.87h2.36v2.36h-2.36zM291.17 521.87h4.38v2.36h-4.38zM311.31 521.87h2.36v2.36h-2.36zM289.16 523.89h4.38v2.36h-4.38zM301.24 523.89h2.36v2.36h-2.36zM311.31 523.89h2.36v2.36h-2.36z"/>
<path shape-rendering="crispEdges" fill="#a27230" d="M283.11 457.43h4.38v2.36h-4.38zM283.11 459.44h2.36v2.36h-2.36zM281.1 461.46h2.36v2.36h-2.36zM287.14 461.46h2.36v2.36h-2.36zM281.1 463.47h6.39v2.36h-6.39zM281.1 465.48h10.42v2.36h-10.42zM285.13 467.5h2.36v2.36h-2.36zM289.16 467.5h2.36v2.36h-2.36zM287.14 469.51h4.38v2.36h-4.38zM281.1 471.52h4.38v2.36h-4.38zM287.14 471.52h4.38v2.36h-4.38zM283.11 473.54h10.42v2.36h-10.42zM281.1 475.55h8.41v2.36h-8.41zM281.1 477.57h4.38v2.36h-4.38zM281.1 479.58h4.38v2.36h-4.38zM289.16 479.58h2.36v2.36h-2.36zM281.1 481.59h4.38v2.36h-4.38zM287.14 481.59h6.39v2.36h-6.39zM295.2 481.59h2.36v2.36h-2.36zM285.13 483.61h8.41v2.36h-8.41zM287.14 485.62h2.36v2.36h-2.36zM281.1 487.64h2.36v2.36h-2.36zM285.13 487.64h2.36v2.36h-2.36zM281.1 489.65h2.36v2.36h-2.36zM287.14 489.65h4.38v2.36h-4.38zM285.13 491.66h6.39v2.36h-6.39zM293.18 491.66h2.36v2.36h-2.36zM297.21 491.66h2.36v2.36h-2.36zM281.1 493.68h4.38v2.36h-4.38zM289.16 493.68h8.41v2.36h-8.41zM299.23 493.68h2.36v2.36h-2.36zM283.11 495.69h2.36v2.36h-2.36zM287.14 495.69h4.38v2.36h-4.38zM293.18 495.69h2.36v2.36h-2.36zM297.21 495.69h2.36v2.36h-2.36zM281.1 497.71h2.36v2.36h-2.36zM285.13 497.71h6.39v2.36h-6.39zM295.2 497.71h4.38v2.36h-4.38zM281.1 499.72h2.36v2.36h-2.36zM287.14 499.72h4.38v2.36h-4.38zM297.21 499.72h4.38v2.36h-4.38zM281.1 501.73h4.38v2.36h-4.38zM287.14 501.73h2.36v2.36h-2.36zM295.2 501.73h4.38v2.36h-4.38zM301.24 501.73h2.36v2.36h-2.36zM285.13 503.75h10.42v2.36h-10.42zM297.21 503.75h2.36v2.36h-2.36zM283.11 505.76h2.36v2.36h-2.36zM287.14 505.76h6.39v2.36h-6.39zM297.21 505.76h2.36v2.36h-2.36zM283.11 507.77h8.41v2.36h-8.41zM295.2 507.77h8.41v2.36h-8.41zM289.16 509.79h2.36v2.36h-2.36zM293.18 509.79h4.38v2.36h-4.38zM299.23 509.79h2.36v2.36h-2.36zM303.25 509.79h2.36v2.36h-2.36zM281.1 511.8h2.36v2.36h-2.36zM285.13 511.8h8.41v2.36h-8.41zM297.21 511.8h10.42v2.36h-10.42zM281.1 513.82h4.38v2.36h-4.38zM287.14 513.82h4.38v2.36h-4.38zM295.2 513.82h2.36v2.36h-2.36zM299.23 513.82h4.38v2.36h-4.38zM305.27 513.82h2.36v2.36h-2.36zM281.1 515.83h2.36v2.36h-2.36zM285.13 515.83h4.38v2.36h-4.38zM297.21 515.83h2.36v2.36h-2.36zM301.24 515.83h4.38v2.36h-4.38zM289.16 517.84h4.38v2.36h-4.38zM295.2 517.84h4.38v2.36h-4.38zM301.24 517.84h6.39v2.36h-6.39zM281.1 519.86h6.39v2.36h-6.39zM289.16 519.86h4.38v2.36h-4.38zM295.2 519.86h2.36v2.36h-2.36zM299.23 519.86h2.36v2.36h-2.36zM305.27 519.86h2.36v2.36h-2.36zM283.11 521.87h4.38v2.36h-4.38zM289.16 521.87h2.36v2.36h-2.36zM295.2 521.87h16.46v2.36h-16.46zM281.1 523.89h8.41v2.36h-8.41zM293.18 523.89h8.41v2.36h-8.41zM303.25 523.89h8.41v2.36h-8.41zM313.32 523.89h2.36v2.36h-2.36z"/>
<path shape-rendering="crispEdges" fill="#9c692c" d="M285.13 469.51h2.36v2.36h-2.36zM291.17 491.66h2.36v2.36h-2.36zM287.14 493.68h2.36v2.36h-2.36zM289.16 501.73h2.36v2.36h-2.36zM281.1 503.75h2.36v2.36h-2.36zM293.18 507.77h2.36v2.36h-2.36zM281.1 509.79h4.38v2.36h-4.38zM283.11 511.8h2.36v2.36h-2.36zM293.18 511.8h4.38v2.36h-4.38zM297.21 513.82h2.36v2.36h-2.36zM281.1 521.87h2.36v2.36h-2.36z"/>
<rect x="281.1" y="453.4" width="72.5" height="72.5" fill="none" stroke="#9a9a9a" stroke-width="0.4"/>
<path shape-rendering="crispEdges" fill="#558ec5" d="M423.72 463.47h2.39v2.36h-2.39zM413.5 479.58h2.39v2.36h-2.39z"/>
<path shape-rendering="crispEdges" fill="#5c98ca" d="M421.68 453.4h2.39v2.36h-2.39zM360.34 461.46h2.39v2.36h-2.39zM364.43 463.47h2.39v2.36h-2.39zM372.61 465.48h2.39v2.36h-2.39zM415.54 487.64h2.39v2.36h-2.39zM393.06 489.65h2.39v2.36h-2.39zM407.37 491.66h2.39v2.36h-2.39zM364.43 493.68h2.39v2.36h-2.39zM419.63 509.79h2.39v2.36h-2.39zM401.23 513.82h2.39v2.36h-2.39zM425.77 513.82h2.39v2.36h-2.39zM374.66 519.86h2.39v2.36h-2.39zM388.97 521.87h2.39v2.36h-2.39z"/>
<path shape-rendering="crispEdges" fill="#67a4ce" d="M386.92 459.44h2.39v2.36h-2.39zM403.28 459.44h2.39v2.36h-2.39zM366.48 465.48h2.39v2.36h-2.39zM391.01 465.48h2.39v2.36h-2.39zM407.37 465.48h2.39v2.36h-2.39zM421.68 467.5h2.39v2.36h-2.39zM411.46 469.51h2.39v2.36h-2.39zM360.34 471.52h2.39v2.36h-2.39zM364.43 471.52h2.39v2.36h-2.39zM391.01 471.52h2.39v2.36h-2.39zM399.19 473.54h2.39v2.36h-2.39zM362.39 475.55h2.39v2.36h-2.39zM415.54 475.55h2.39v2.36h-2.39zM370.57 477.57h2.39v2.36h-2.39zM366.48 479.58h2.39v2.36h-2.39zM409.41 479.58h2.39v2.36h-2.39zM370.57 481.59h2.39v2.36h-2.39zM417.59 481.59h2.39v2.36h-2.39zM405.32 483.61h2.39v2.36h-2.39zM372.61 485.62h2.39v2.36h-2.39zM384.88 487.64h2.39v2.36h-2.39zM409.41 487.64h2.39v2.36h-2.39zM423.72 487.64h2.39v2.36h-2.39zM366.48 489.65h2.39v2.36h-2.39zM411.46 489.65h2.39v2.36h-2.39zM419.63 489.65h2.39v2.36h-2.39zM427.81 489.65h4.44v2.36h-4.44zM415.54 493.68h2.39v2.36h-2.39zM411.46 495.69h2.39v2.36h-2.39zM411.46 497.71h2.39v2.36h-2.39zM417.59 497.71h2.39v2.36h-2.39zM417.59 501.73h2.39v2.36h-2.39zM362.39 505.76h2.39v2.36h-2.39zM380.79 507.77h2.39v2.36h-2.39zM423.72 507.77h2.39v2.36h-2.39zM386.92 509.79h2.39v2.36h-2.39zM393.06 509.79h2.39v2.36h-2.39zM378.74 513.82h2.39v2.36h-2.39zM417.59 513.82h4.44v2.36h-4.44zM423.72 513.82h2.39v2.36h-2.39zM405.32 515.83h4.44v2.36h-4.44zM378.74 517.84h2.39v2.36h-2.39zM368.52 519.86h2.39v2.36h-2.39zM395.1 519.86h2.39v2.36h-2.39zM403.28 519.86h2.39v2.36h-2.39zM427.81 521.87h2.39v2.36h-2.39zM362.39 523.89h2.39v2.36h-2.39zM380.79 523.89h2.39v2.36h-2.39z"/>
<path shape-rendering="crispEdges" fill="#72b1d3" d="M362.39 453.4h2.39v2.36h-2.39zM366.48 453.4h2.39v2.36h-2.39zM378.74 453.4h2.39v2.36h-2.39zM382.83 453.4h2.39v2.36h-2.39zM391.01 453.4h2.39v2.36h-2.39zM399.19 455.41h2.39v2.36h-2.39zM411.46 455.41h2.39v2.36h-2.39zM415.54 455.41h4.44v2.36h-4.44zM360.34 457.43h4.44v2.36h-4.44zM405.32 457.43h2.39v2.36h-2.39zM417.59 457.43h2.39v2.36h-2.39zM407.37 459.44h2.39v2.36h-2.39zM358.3 461.46h2.39v2.36h-2.39zM384.88 461.46h2.39v2.36h-2.39zM391.01 461.46h2.39v2.36h-2.39zM403.28 461.46h2.39v2.36h-2.39zM378.74 463.47h2.39v2.36h-2.39zM397.14 463.47h2.39v2.36h-2.39zM427.81 463.47h4.44v2.36h-4.44zM403.28 465.48h2.39v2.36h-2.39zM417.59 465.48h2.39v2.36h-2.39zM360.34 467.5h2.39v2.36h-2.39zM378.74 467.5h2.39v2.36h-2.39zM386.92 467.5h2.39v2.36h-2.39zM395.1 467.5h2.39v2.36h-2.39zM399.19 467.5h2.39v2.36h-2.39zM407.37 467.5h2.39v2.36h-2.39zM415.54 467.5h2.39v2.36h-2.39zM368.52 469.51h2.39v2.36h-2.39zM376.7 469.51h2.39v2.36h-2.39zM393.06 469.51h2.39v2.36h-2.39zM399.19 469.51h2.39v2.36h-2.39zM423.72 469.51h2.39v2.36h-2.39zM374.66 471.52h4.44v2.36h-4.44zM409.41 471.52h2.39v2.36h-2.39zM417.59 471.52h2.39v2.36h-2.39zM425.77 471.52h2.39v2.36h-2.39zM374.66 473.54h2.39v2.36h-2.39zM384.88 473.54h2.39v2.36h-2.39zM401.23 473.54h2.39v2.36h-2.39zM407.37 473.54h2.39v2.36h-2.39zM411.46 473.54h2.39v2.36h-2.39zM419.63 473.54h2.39v2.36h-2.39zM425.77 473.54h2.39v2.36h-2.39zM370.57 475.55h2.39v2.36h-2.39zM378.74 475.55h2.39v2.36h-2.39zM386.92 475.55h2.39v2.36h-2.39zM391.01 475.55h2.39v2.36h-2.39zM362.39 477.57h2.39v2.36h-2.39zM391.01 477.57h2.39v2.36h-2.39zM413.5 477.57h2.39v2.36h-2.39zM419.63 477.57h2.39v2.36h-2.39zM403.28 479.58h2.39v2.36h-2.39zM386.92 481.59h2.39v2.36h-2.39zM415.54 481.59h2.39v2.36h-2.39zM427.81 481.59h2.39v2.36h-2.39zM391.01 483.61h2.39v2.36h-2.39zM395.1 483.61h2.39v2.36h-2.39zM362.39 485.62h2.39v2.36h-2.39zM378.74 485.62h2.39v2.36h-2.39zM413.5 485.62h2.39v2.36h-2.39zM421.68 485.62h2.39v2.36h-2.39zM427.81 485.62h2.39v2.36h-2.39zM370.57 487.64h2.39v2.36h-2.39zM413.5 487.64h2.39v2.36h-2.39zM421.68 487.64h2.39v2.36h-2.39zM388.97 489.65h2.39v2.36h-2.39zM401.23 489.65h2.39v2.36h-2.39zM417.59 489.65h2.39v2.36h-2.39zM388.97 491.66h2.39v2.36h-2.39zM358.3 493.68h2.39v2.36h-2.39zM362.39 493.68h2.39v2.36h-2.39zM376.7 493.68h2.39v2.36h-2.39zM407.37 493.68h4.44v2.36h-4.44zM417.59 493.68h2.39v2.36h-2.39zM421.68 493.68h2.39v2.36h-2.39zM362.39 495.69h2.39v2.36h-2.39zM425.77 495.69h2.39v2.36h-2.39zM362.39 497.71h2.39v2.36h-2.39zM382.83 497.71h2.39v2.36h-2.39zM425.77 497.71h4.44v2.36h-4.44zM364.43 499.72h2.39v2.36h-2.39zM423.72 501.73h2.39v2.36h-2.39zM370.57 503.75h2.39v2.36h-2.39zM382.83 503.75h2.39v2.36h-2.39zM401.23 503.75h2.39v2.36h-2.39zM407.37 503.75h2.39v2.36h-2.39zM421.68 503.75h2.39v2.36h-2.39zM391.01 505.76h4.44v2.36h-4.44zM399.19 505.76h2.39v2.36h-2.39zM413.5 505.76h2.39v2.36h-2.39zM421.68 505.76h2.39v2.36h-2.39zM425.77 505.76h2.39v2.36h-2.39zM399.19 507.77h2.39v2.36h-2.39zM368.52 511.8h4.44v2.36h-4.44zM376.7 511.8h2.39v2.36h-2.39zM391.01 511.8h2.39v2.36h-2.39zM358.3 513.82h2.39v2.36h-2.39zM393.06 513.82h2.39v2.36h-2.39zM405.32 513.82h2.39v2.36h-2.39zM409.41 513.82h2.39v2.36h-2.39zM360.34 515.83h2.39v2.36h-2.39zM366.48 515.83h4.44v2.36h-4.44zM399.19 515.83h2.39v2.36h-2.39zM411.46 515.83h2.39v2.36h-2.39zM366.48 517.84h2.39v2.36h-2.39zM360.34 519.86h2.39v2.36h-2.39zM378.74 519.86h4.44v2.36h-4.44zM397.14 519.86h2.39v2.36h-2.39zM419.63 519.86h2.39v2.36h-2.39zM427.81 519.86h2.39v2.36h-2.39zM358.3 521.87h2.39v2.36h-2.39zM378.74 521.87h2.39v2.36h-2.39zM403.28 521.87h2.39v2.36h-2.39zM421.68 521.87h2.39v2.36h-2.39zM425.77 521.87h2.39v2.36h-2.39zM397.14 523.89h2.39v2.36h-2.39zM411.46 523.89h2.39v2.36h-2.39zM423.72 523.89h2.39v2.36h-2.39zM429.86 523.89h2.39v2.36h-2.39z"/>
<path shape-rendering="crispEdges" fill="#7ebed7" d="M364.43 453.4h2.39v2.36h-2.39zM376.7 453.4h2.39v2.36h-2.39zM395.1 453.4h2.39v2.36h-2.39zM407.37 453.4h2.39v2.36h-2.39zM415.54 453.4h2.39v2.36h-2.39zM423.72 453.4h2.39v2.36h-2.39zM380.79 455.41h2.39v2.36h-2.39zM395.1 455.41h2.39v2.36h-2.39zM429.86 455.41h2.39v2.36h-2.39zM376.7 457.43h4.44v2.36h-4.44zM384.88 457.43h2.39v2.36h-2.39zM388.97 457.43h4.44v2.36h-4.44zM397.14 457.43h2.39v2.36h-2.39zM413.5 457.43h2.39v2.36h-2.39zM368.52 459.44h2.39v2.36h-2.39zM372.61 459.44h2.39v2.36h-2.39zM382.83 459.44h4.44v2.36h-4.44zM388.97 459.44h2.39v2.36h-2.39zM395.1 459.44h2.39v2.36h-2.39zM415.54 459.44h2.39v2.36h-2.39zM362.39 461.46h6.48v2.36h-6.48zM376.7 461.46h4.44v2.36h-4.44zM395.1 461.46h2.39v2.36h-2.39zM399.19 461.46h4.44v2.36h-4.44zM419.63 461.46h2.39v2.36h-2.39zM425.77 461.46h2.39v2.36h-2.39zM362.39 463.47h2.39v2.36h-2.39zM370.57 463.47h4.44v2.36h-4.44zM384.88 463.47h4.44v2.36h-4.44zM405.32 463.47h2.39v2.36h-2.39zM360.34 465.48h6.48v2.36h-6.48zM368.52 465.48h2.39v2.36h-2.39zM374.66 465.48h2.39v2.36h-2.39zM386.92 465.48h2.39v2.36h-2.39zM401.23 465.48h2.39v2.36h-2.39zM413.5 465.48h2.39v2.36h-2.39zM419.63 465.48h2.39v2.36h-2.39zM425.77 465.48h6.48v2.36h-6.48zM358.3 467.5h2.39v2.36h-2.39zM382.83 467.5h2.39v2.36h-2.39zM409.41 467.5h2.39v2.36h-2.39zM425.77 467.5h2.39v2.36h-2.39zM429.86 467.5h2.39v2.36h-2.39zM360.34 469.51h2.39v2.36h-2.39zM370.57 469.51h6.48v2.36h-6.48zM380.79 469.51h2.39v2.36h-2.39zM384.88 469.51h2.39v2.36h-2.39zM407.37 469.51h2.39v2.36h-2.39zM417.59 469.51h2.39v2.36h-2.39zM425.77 469.51h2.39v2.36h-2.39zM358.3 471.52h2.39v2.36h-2.39zM362.39 471.52h2.39v2.36h-2.39zM366.48 471.52h2.39v2.36h-2.39zM380.79 471.52h2.39v2.36h-2.39zM388.97 471.52h2.39v2.36h-2.39zM393.06 471.52h6.48v2.36h-6.48zM401.23 471.52h2.39v2.36h-2.39zM413.5 471.52h2.39v2.36h-2.39zM421.68 471.52h2.39v2.36h-2.39zM366.48 473.54h2.39v2.36h-2.39zM376.7 473.54h2.39v2.36h-2.39zM388.97 473.54h10.57v2.36h-10.57zM403.28 473.54h2.39v2.36h-2.39zM415.54 473.54h2.39v2.36h-2.39zM427.81 473.54h4.44v2.36h-4.44zM395.1 475.55h2.39v2.36h-2.39zM405.32 475.55h2.39v2.36h-2.39zM411.46 475.55h2.39v2.36h-2.39zM419.63 475.55h2.39v2.36h-2.39zM425.77 475.55h2.39v2.36h-2.39zM360.34 477.57h2.39v2.36h-2.39zM364.43 477.57h2.39v2.36h-2.39zM368.52 477.57h2.39v2.36h-2.39zM403.28 477.57h4.44v2.36h-4.44zM415.54 477.57h2.39v2.36h-2.39zM374.66 479.58h2.39v2.36h-2.39zM397.14 479.58h2.39v2.36h-2.39zM401.23 479.58h2.39v2.36h-2.39zM411.46 479.58h2.39v2.36h-2.39zM415.54 479.58h2.39v2.36h-2.39zM421.68 479.58h2.39v2.36h-2.39zM360.34 481.59h2.39v2.36h-2.39zM374.66 481.59h2.39v2.36h-2.39zM391.01 481.59h2.39v2.36h-2.39zM407.37 481.59h2.39v2.36h-2.39zM366.48 483.61h2.39v2.36h-2.39zM370.57 483.61h2.39v2.36h-2.39zM378.74 483.61h2.39v2.36h-2.39zM388.97 483.61h2.39v2.36h-2.39zM397.14 483.61h2.39v2.36h-2.39zM403.28 483.61h2.39v2.36h-2.39zM407.37 483.61h2.39v2.36h-2.39zM411.46 483.61h2.39v2.36h-2.39zM429.86 483.61h2.39v2.36h-2.39zM368.52 485.62h2.39v2.36h-2.39zM374.66 485.62h2.39v2.36h-2.39zM411.46 485.62h2.39v2.36h-2.39zM429.86 485.62h2.39v2.36h-2.39zM360.34 487.64h4.44v2.36h-4.44zM372.61 487.64h2.39v2.36h-2.39zM382.83 487.64h2.39v2.36h-2.39zM391.01 487.64h2.39v2.36h-2.39zM395.1 487.64h4.44v2.36h-4.44zM417.59 487.64h2.39v2.36h-2.39zM362.39 489.65h2.39v2.36h-2.39zM372.61 489.65h4.44v2.36h-4.44zM382.83 489.65h2.39v2.36h-2.39zM386.92 489.65h2.39v2.36h-2.39zM399.19 489.65h2.39v2.36h-2.39zM405.32 489.65h4.44v2.36h-4.44zM415.54 489.65h2.39v2.36h-2.39zM423.72 489.65h2.39v2.36h-2.39zM366.48 491.66h2.39v2.36h-2.39zM378.74 491.66h2.39v2.36h-2.39zM382.83 491.66h2.39v2.36h-2.39zM413.5 491.66h2.39v2.36h-2.39zM421.68 491.66h2.39v2.36h-2.39zM374.66 493.68h2.39v2.36h-2.39zM393.06 493.68h2.39v2.36h-2.39zM399.19 493.68h4.44v2.36h-4.44zM425.77 493.68h2.39v2.36h-2.39zM360.34 495.69h2.39v2.36h-2.39zM380.79 495.69h2.39v2.36h-2.39zM393.06 495.69h2.39v2.36h-2.39zM403.28 495.69h2.39v2.36h-2.39zM413.5 495.69h2.39v2.36h-2.39zM427.81 495.69h4.44v2.36h-4.44zM358.3 497.71h2.39v2.36h-2.39zM376.7 497.71h2.39v2.36h-2.39zM380.79 497.71h2.39v2.36h-2.39zM395.1 497.71h2.39v2.36h-2.39zM399.19 497.71h2.39v2.36h-2.39zM409.41 497.71h2.39v2.36h-2.39zM405.32 499.72h2.39v2.36h-2.39zM397.14 501.73h2.39v2.36h-2.39zM401.23 501.73h6.48v2.36h-6.48zM429.86 501.73h2.39v2.36h-2.39zM360.34 503.75h2.39v2.36h-2.39zM391.01 503.75h2.39v2.36h-2.39zM395.1 503.75h2.39v2.36h-2.39zM423.72 503.75h2.39v2.36h-2.39zM360.34 505.76h2.39v2.36h-2.39zM366.48 505.76h2.39v2.36h-2.39zM386.92 505.76h2.39v2.36h-2.39zM397.14 505.76h2.39v2.36h-2.39zM407.37 505.76h2.39v2.36h-2.39zM417.59 505.76h4.44v2.36h-4.44zM429.86 505.76h2.39v2.36h-2.39zM378.74 507.77h2.39v2.36h-2.39zM395.1 507.77h4.44v2.36h-4.44zM403.28 507.77h4.44v2.36h-4.44zM413.5 507.77h2.39v2.36h-2.39zM364.43 509.79h2.39v2.36h-2.39zM368.52 509.79h2.39v2.36h-2.39zM374.66 509.79h2.39v2.36h-2.39zM378.74 509.79h2.39v2.36h-2.39zM401.23 509.79h2.39v2.36h-2.39zM415.54 509.79h4.44v2.36h-4.44zM427.81 509.79h4.44v2.36h-4.44zM380.79 511.8h2.39v2.36h-2.39zM401.23 511.8h2.39v2.36h-2.39zM411.46 511.8h2.39v2.36h-2.39zM419.63 511.8h2.39v2.36h-2.39zM427.81 511.8h4.44v2.36h-4.44zM360.34 513.82h2.39v2.36h-2.39zM372.61 513.82h4.44v2.36h-4.44zM382.83 513.82h2.39v2.36h-2.39zM386.92 513.82h2.39v2.36h-2.39zM391.01 513.82h2.39v2.36h-2.39zM395.1 513.82h2.39v2.36h-2.39zM378.74 515.83h4.44v2.36h-4.44zM391.01 515.83h2.39v2.36h-2.39zM395.1 515.83h2.39v2.36h-2.39zM401.23 515.83h2.39v2.36h-2.39zM427.81 515.83h2.39v2.36h-2.39zM358.3 517.84h2.39v2.36h-2.39zM372.61 517.84h4.44v2.36h-4.44zM384.88 517.84h2.39v2.36h-2.39zM391.01 517.84h2.39v2.36h-2.39zM397.14 517.84h2.39v2.36h-2.39zM401.23 517.84h2.39v2.36h-2.39zM405.32 517.84h4.44v2.36h-4.44zM427.81 517.84h2.39v2.36h-2.39zM358.3 519.86h2.39v2.36h-2.39zM364.43 519.86h2.39v2.36h-2.39zM370.57 519.86h2.39v2.36h-2.39zM391.01 519.86h2.39v2.36h-2.39zM399.19 519.86h4.44v2.36h-4.44zM421.68 519.86h2.39v2.36h-2.39zM372.61 521.87h2.39v2.36h-2.39zM397.14 521.87h4.44v2.36h-4.44zM409.41 521.87h2.39v2.36h-2.39zM423.72 521.87h2.39v2.36h-2.39zM415.54 523.89h4.44v2.36h-4.44zM421.68 523.89h2.39v2.36h-2.39zM425.77 523.89h4.44v2.36h-4.44z"/>
<path shape-rendering="crispEdges" fill="#8cc8da" d="M360.34 453.4h2.39v2.36h-2.39zM380.79 453.4h2.39v2.36h-2.39zM384.88 453.4h2.39v2.36h-2.39zM388.97 453.4h2.39v2.36h-2.39zM403.28 453.4h2.39v2.36h-2.39zM411.46 453.4h2.39v2.36h-2.39zM417.59 453.4h2.39v2.36h-2.39zM427.81 453.4h4.44v2.36h-4.44zM366.48 455.41h2.39v2.36h-2.39zM370.57 455.41h2.39v2.36h-2.39zM374.66 455.41h2.39v2.36h-2.39zM391.01 455.41h2.39v2.36h-2.39zM405.32 455.41h2.39v2.36h-2.39zM421.68 455.41h2.39v2.36h-2.39zM425.77 455.41h2.39v2.36h-2.39zM382.83 457.43h2.39v2.36h-2.39zM399.19 457.43h4.44v2.36h-4.44zM419.63 457.43h2.39v2.36h-2.39zM427.81 457.43h2.39v2.36h-2.39zM364.43 459.44h2.39v2.36h-2.39zM370.57 459.44h2.39v2.36h-2.39zM376.7 459.44h4.44v2.36h-4.44zM393.06 459.44h2.39v2.36h-2.39zM397.14 459.44h2.39v2.36h-2.39zM405.32 459.44h2.39v2.36h-2.39zM409.41 459.44h2.39v2.36h-2.39zM419.63 459.44h4.44v2.36h-4.44zM386.92 461.46h2.39v2.36h-2.39zM405.32 461.46h2.39v2.36h-2.39zM409.41 461.46h2.39v2.36h-2.39zM374.66 463.47h2.39v2.36h-2.39zM380.79 463.47h4.44v2.36h-4.44zM399.19 463.47h4.44v2.36h-4.44zM409.41 463.47h2.39v2.36h-2.39zM415.54 463.47h2.39v2.36h-2.39zM358.3 465.48h2.39v2.36h-2.39zM370.57 465.48h2.39v2.36h-2.39zM393.06 465.48h2.39v2.36h-2.39zM397.14 465.48h2.39v2.36h-2.39zM405.32 465.48h2.39v2.36h-2.39zM415.54 465.48h2.39v2.36h-2.39zM366.48 467.5h2.39v2.36h-2.39zM380.79 467.5h2.39v2.36h-2.39zM388.97 467.5h2.39v2.36h-2.39zM393.06 467.5h2.39v2.36h-2.39zM397.14 467.5h2.39v2.36h-2.39zM401.23 467.5h2.39v2.36h-2.39zM405.32 467.5h2.39v2.36h-2.39zM411.46 467.5h4.44v2.36h-4.44zM366.48 469.51h2.39v2.36h-2.39zM378.74 469.51h2.39v2.36h-2.39zM382.83 469.51h2.39v2.36h-2.39zM386.92 469.51h4.44v2.36h-4.44zM401.23 469.51h6.48v2.36h-6.48zM413.5 469.51h2.39v2.36h-2.39zM419.63 469.51h4.44v2.36h-4.44zM372.61 471.52h2.39v2.36h-2.39zM382.83 471.52h4.44v2.36h-4.44zM403.28 471.52h2.39v2.36h-2.39zM407.37 471.52h2.39v2.36h-2.39zM411.46 471.52h2.39v2.36h-2.39zM423.72 471.52h2.39v2.36h-2.39zM427.81 471.52h2.39v2.36h-2.39zM358.3 473.54h2.39v2.36h-2.39zM364.43 473.54h2.39v2.36h-2.39zM368.52 473.54h6.48v2.36h-6.48zM378.74 473.54h4.44v2.36h-4.44zM386.92 473.54h2.39v2.36h-2.39zM405.32 473.54h2.39v2.36h-2.39zM417.59 473.54h2.39v2.36h-2.39zM368.52 475.55h2.39v2.36h-2.39zM384.88 475.55h2.39v2.36h-2.39zM393.06 475.55h2.39v2.36h-2.39zM399.19 475.55h4.44v2.36h-4.44zM413.5 475.55h2.39v2.36h-2.39zM423.72 475.55h2.39v2.36h-2.39zM374.66 477.57h2.39v2.36h-2.39zM380.79 477.57h2.39v2.36h-2.39zM384.88 477.57h6.48v2.36h-6.48zM411.46 477.57h2.39v2.36h-2.39zM360.34 479.58h2.39v2.36h-2.39zM376.7 479.58h2.39v2.36h-2.39zM388.97 479.58h2.39v2.36h-2.39zM395.1 479.58h2.39v2.36h-2.39zM405.32 479.58h2.39v2.36h-2.39zM423.72 479.58h4.44v2.36h-4.44zM362.39 481.59h4.44v2.36h-4.44zM376.7 481.59h4.44v2.36h-4.44zM384.88 481.59h2.39v2.36h-2.39zM388.97 481.59h2.39v2.36h-2.39zM397.14 481.59h2.39v2.36h-2.39zM405.32 481.59h2.39v2.36h-2.39zM411.46 481.59h2.39v2.36h-2.39zM419.63 481.59h4.44v2.36h-4.44zM425.77 481.59h2.39v2.36h-2.39zM358.3 483.61h6.48v2.36h-6.48zM368.52 483.61h2.39v2.36h-2.39zM372.61 483.61h6.48v2.36h-6.48zM382.83 483.61h6.48v2.36h-6.48zM393.06 483.61h2.39v2.36h-2.39zM399.19 483.61h2.39v2.36h-2.39zM409.41 483.61h2.39v2.36h-2.39zM423.72 483.61h2.39v2.36h-2.39zM427.81 483.61h2.39v2.36h-2.39zM358.3 485.62h4.44v2.36h-4.44zM366.48 485.62h2.39v2.36h-2.39zM380.79 485.62h6.48v2.36h-6.48zM388.97 485.62h4.44v2.36h-4.44zM401.23 485.62h2.39v2.36h-2.39zM415.54 485.62h2.39v2.36h-2.39zM419.63 485.62h2.39v2.36h-2.39zM425.77 485.62h2.39v2.36h-2.39zM358.3 487.64h2.39v2.36h-2.39zM368.52 487.64h2.39v2.36h-2.39zM407.37 487.64h2.39v2.36h-2.39zM358.3 489.65h2.39v2.36h-2.39zM368.52 489.65h2.39v2.36h-2.39zM380.79 489.65h2.39v2.36h-2.39zM397.14 489.65h2.39v2.36h-2.39zM409.41 489.65h2.39v2.36h-2.39zM425.77 489.65h2.39v2.36h-2.39zM360.34 491.66h2.39v2.36h-2.39zM368.52 491.66h2.39v2.36h-2.39zM376.7 491.66h2.39v2.36h-2.39zM380.79 491.66h2.39v2.36h-2.39zM384.88 491.66h2.39v2.36h-2.39zM397.14 491.66h4.44v2.36h-4.44zM403.28 491.66h4.44v2.36h-4.44zM417.59 491.66h2.39v2.36h-2.39zM423.72 491.66h2.39v2.36h-2.39zM429.86 491.66h2.39v2.36h-2.39zM370.57 493.68h2.39v2.36h-2.39zM395.1 493.68h2.39v2.36h-2.39zM403.28 493.68h2.39v2.36h-2.39zM413.5 493.68h2.39v2.36h-2.39zM419.63 493.68h2.39v2.36h-2.39zM429.86 493.68h2.39v2.36h-2.39zM364.43 495.69h2.39v2.36h-2.39zM370.57 495.69h2.39v2.36h-2.39zM374.66 495.69h2.39v2.36h-2.39zM386.92 495.69h2.39v2.36h-2.39zM407.37 495.69h4.44v2.36h-4.44zM423.72 495.69h2.39v2.36h-2.39zM364.43 497.71h4.44v2.36h-4.44zM370.57 497.71h2.39v2.36h-2.39zM374.66 497.71h2.39v2.36h-2.39zM378.74 497.71h2.39v2.36h-2.39zM386.92 497.71h2.39v2.36h-2.39zM391.01 497.71h2.39v2.36h-2.39zM397.14 497.71h2.39v2.36h-2.39zM403.28 497.71h4.44v2.36h-4.44zM413.5 497.71h2.39v2.36h-2.39zM368.52 499.72h4.44v2.36h-4.44zM388.97 499.72h2.39v2.36h-2.39zM393.06 499.72h2.39v2.36h-2.39zM411.46 499.72h2.39v2.36h-2.39zM362.39 501.73h2.39v2.36h-2.39zM376.7 501.73h2.39v2.36h-2.39zM380.79 501.73h6.48v2.36h-6.48zM391.01 501.73h4.44v2.36h-4.44zM399.19 501.73h2.39v2.36h-2.39zM407.37 501.73h2.39v2.36h-2.39zM427.81 501.73h2.39v2.36h-2.39zM368.52 503.75h2.39v2.36h-2.39zM372.61 503.75h2.39v2.36h-2.39zM376.7 503.75h4.44v2.36h-4.44zM405.32 503.75h2.39v2.36h-2.39zM427.81 503.75h4.44v2.36h-4.44zM358.3 505.76h2.39v2.36h-2.39zM364.43 505.76h2.39v2.36h-2.39zM370.57 505.76h6.48v2.36h-6.48zM378.74 505.76h4.44v2.36h-4.44zM384.88 505.76h2.39v2.36h-2.39zM405.32 505.76h2.39v2.36h-2.39zM409.41 505.76h4.44v2.36h-4.44zM358.3 507.77h6.48v2.36h-6.48zM384.88 507.77h2.39v2.36h-2.39zM391.01 507.77h2.39v2.36h-2.39zM415.54 507.77h4.44v2.36h-4.44zM370.57 509.79h4.44v2.36h-4.44zM382.83 509.79h2.39v2.36h-2.39zM391.01 509.79h2.39v2.36h-2.39zM397.14 509.79h4.44v2.36h-4.44zM409.41 509.79h4.44v2.36h-4.44zM425.77 509.79h2.39v2.36h-2.39zM358.3 511.8h2.39v2.36h-2.39zM366.48 511.8h2.39v2.36h-2.39zM374.66 511.8h2.39v2.36h-2.39zM378.74 511.8h2.39v2.36h-2.39zM395.1 511.8h4.44v2.36h-4.44zM405.32 511.8h2.39v2.36h-2.39zM409.41 511.8h2.39v2.36h-2.39zM421.68 511.8h2.39v2.36h-2.39zM425.77 511.8h2.39v2.36h-2.39zM364.43 513.82h2.39v2.36h-2.39zM370.57 513.82h2.39v2.36h-2.39zM380.79 513.82h2.39v2.36h-2.39zM384.88 513.82h2.39v2.36h-2.39zM397.14 513.82h2.39v2.36h-2.39zM403.28 513.82h2.39v2.36h-2.39zM407.37 513.82h2.39v2.36h-2.39zM413.5 513.82h4.44v2.36h-4.44zM421.68 513.82h2.39v2.36h-2.39zM358.3 515.83h2.39v2.36h-2.39zM362.39 515.83h4.44v2.36h-4.44zM370.57 515.83h2.39v2.36h-2.39zM374.66 515.83h2.39v2.36h-2.39zM382.83 515.83h2.39v2.36h-2.39zM386.92 515.83h2.39v2.36h-2.39zM393.06 515.83h2.39v2.36h-2.39zM421.68 515.83h2.39v2.36h-2.39zM425.77 515.83h2.39v2.36h-2.39zM429.86 515.83h2.39v2.36h-2.39zM360.34 517.84h2.39v2.36h-2.39zM370.57 517.84h2.39v2.36h-2.39zM380.79 517.84h4.44v2.36h-4.44zM388.97 517.84h2.39v2.36h-2.39zM393.06 517.84h2.39v2.36h-2.39zM399.19 517.84h2.39v2.36h-2.39zM403.28 517.84h2.39v2.36h-2.39zM409.41 517.84h2.39v2.36h-2.39zM415.54 517.84h4.44v2.36h-4.44zM425.77 517.84h2.39v2.36h-2.39zM362.39 519.86h2.39v2.36h-2.39zM384.88 519.86h4.44v2.36h-4.44zM407.37 519.86h12.62v2.36h-12.62zM423.72 519.86h4.44v2.36h-4.44zM362.39 521.87h2.39v2.36h-2.39zM368.52 521.87h2.39v2.36h-2.39zM374.66 521.87h2.39v2.36h-2.39zM386.92 521.87h2.39v2.36h-2.39zM393.06 521.87h2.39v2.36h-2.39zM429.86 521.87h2.39v2.36h-2.39zM360.34 523.89h2.39v2.36h-2.39zM368.52 523.89h2.39v2.36h-2.39zM374.66 523.89h6.48v2.36h-6.48zM382.83 523.89h2.39v2.36h-2.39zM407.37 523.89h2.39v2.36h-2.39zM413.5 523.89h2.39v2.36h-2.39zM419.63 523.89h2.39v2.36h-2.39z"/>
<path shape-rendering="crispEdges" fill="#9bd2dd" d="M374.66 453.4h2.39v2.36h-2.39zM397.14 453.4h4.44v2.36h-4.44zM405.32 453.4h2.39v2.36h-2.39zM409.41 453.4h2.39v2.36h-2.39zM413.5 453.4h2.39v2.36h-2.39zM358.3 455.41h4.44v2.36h-4.44zM364.43 455.41h2.39v2.36h-2.39zM368.52 455.41h2.39v2.36h-2.39zM372.61 455.41h2.39v2.36h-2.39zM376.7 455.41h4.44v2.36h-4.44zM382.83 455.41h2.39v2.36h-2.39zM386.92 455.41h2.39v2.36h-2.39zM393.06 455.41h2.39v2.36h-2.39zM397.14 455.41h2.39v2.36h-2.39zM407.37 455.41h2.39v2.36h-2.39zM358.3 457.43h2.39v2.36h-2.39zM364.43 457.43h2.39v2.36h-2.39zM374.66 457.43h2.39v2.36h-2.39zM380.79 457.43h2.39v2.36h-2.39zM386.92 457.43h2.39v2.36h-2.39zM415.54 457.43h2.39v2.36h-2.39zM358.3 459.44h4.44v2.36h-4.44zM366.48 459.44h2.39v2.36h-2.39zM427.81 459.44h2.39v2.36h-2.39zM368.52 461.46h2.39v2.36h-2.39zM382.83 461.46h2.39v2.36h-2.39zM393.06 461.46h2.39v2.36h-2.39zM407.37 461.46h2.39v2.36h-2.39zM411.46 461.46h2.39v2.36h-2.39zM417.59 461.46h2.39v2.36h-2.39zM427.81 461.46h2.39v2.36h-2.39zM360.34 463.47h2.39v2.36h-2.39zM366.48 463.47h4.44v2.36h-4.44zM388.97 463.47h4.44v2.36h-4.44zM395.1 463.47h2.39v2.36h-2.39zM411.46 463.47h2.39v2.36h-2.39zM417.59 463.47h4.44v2.36h-4.44zM382.83 465.48h2.39v2.36h-2.39zM388.97 465.48h2.39v2.36h-2.39zM409.41 465.48h2.39v2.36h-2.39zM421.68 465.48h4.44v2.36h-4.44zM362.39 467.5h2.39v2.36h-2.39zM368.52 467.5h4.44v2.36h-4.44zM376.7 467.5h2.39v2.36h-2.39zM384.88 467.5h2.39v2.36h-2.39zM391.01 467.5h2.39v2.36h-2.39zM403.28 467.5h2.39v2.36h-2.39zM427.81 467.5h2.39v2.36h-2.39zM358.3 469.51h2.39v2.36h-2.39zM362.39 469.51h4.44v2.36h-4.44zM399.19 471.52h2.39v2.36h-2.39zM405.32 471.52h2.39v2.36h-2.39zM415.54 471.52h2.39v2.36h-2.39zM429.86 471.52h2.39v2.36h-2.39zM360.34 473.54h2.39v2.36h-2.39zM382.83 473.54h2.39v2.36h-2.39zM409.41 473.54h2.39v2.36h-2.39zM421.68 473.54h2.39v2.36h-2.39zM360.34 475.55h2.39v2.36h-2.39zM364.43 475.55h2.39v2.36h-2.39zM374.66 475.55h4.44v2.36h-4.44zM380.79 475.55h4.44v2.36h-4.44zM388.97 475.55h2.39v2.36h-2.39zM397.14 475.55h2.39v2.36h-2.39zM407.37 475.55h2.39v2.36h-2.39zM417.59 475.55h2.39v2.36h-2.39zM421.68 475.55h2.39v2.36h-2.39zM427.81 475.55h4.44v2.36h-4.44zM372.61 477.57h2.39v2.36h-2.39zM376.7 477.57h4.44v2.36h-4.44zM393.06 477.57h2.39v2.36h-2.39zM397.14 477.57h2.39v2.36h-2.39zM407.37 477.57h2.39v2.36h-2.39zM417.59 477.57h2.39v2.36h-2.39zM421.68 477.57h6.48v2.36h-6.48zM429.86 477.57h2.39v2.36h-2.39zM364.43 479.58h2.39v2.36h-2.39zM382.83 479.58h4.44v2.36h-4.44zM391.01 479.58h4.44v2.36h-4.44zM407.37 479.58h2.39v2.36h-2.39zM427.81 479.58h2.39v2.36h-2.39zM366.48 481.59h2.39v2.36h-2.39zM380.79 481.59h2.39v2.36h-2.39zM399.19 481.59h2.39v2.36h-2.39zM425.77 483.61h2.39v2.36h-2.39zM386.92 485.62h2.39v2.36h-2.39zM393.06 485.62h2.39v2.36h-2.39zM397.14 485.62h2.39v2.36h-2.39zM403.28 485.62h2.39v2.36h-2.39zM407.37 485.62h2.39v2.36h-2.39zM417.59 485.62h2.39v2.36h-2.39zM364.43 487.64h2.39v2.36h-2.39zM374.66 487.64h2.39v2.36h-2.39zM386.92 487.64h4.44v2.36h-4.44zM393.06 487.64h2.39v2.36h-2.39zM419.63 487.64h2.39v2.36h-2.39zM429.86 487.64h2.39v2.36h-2.39zM370.57 489.65h2.39v2.36h-2.39zM376.7 489.65h4.44v2.36h-4.44zM391.01 489.65h2.39v2.36h-2.39zM421.68 489.65h2.39v2.36h-2.39zM358.3 491.66h2.39v2.36h-2.39zM362.39 491.66h4.44v2.36h-4.44zM370.57 491.66h4.44v2.36h-4.44zM391.01 491.66h6.48v2.36h-6.48zM409.41 491.66h4.44v2.36h-4.44zM415.54 491.66h2.39v2.36h-2.39zM360.34 493.68h2.39v2.36h-2.39zM368.52 493.68h2.39v2.36h-2.39zM372.61 493.68h2.39v2.36h-2.39zM378.74 493.68h6.48v2.36h-6.48zM388.97 493.68h4.44v2.36h-4.44zM368.52 495.69h2.39v2.36h-2.39zM372.61 495.69h2.39v2.36h-2.39zM376.7 495.69h2.39v2.36h-2.39zM415.54 495.69h2.39v2.36h-2.39zM360.34 497.71h2.39v2.36h-2.39zM384.88 497.71h2.39v2.36h-2.39zM388.97 497.71h2.39v2.36h-2.39zM401.23 497.71h2.39v2.36h-2.39zM407.37 497.71h2.39v2.36h-2.39zM421.68 497.71h2.39v2.36h-2.39zM360.34 499.72h2.39v2.36h-2.39zM376.7 499.72h2.39v2.36h-2.39zM380.79 499.72h2.39v2.36h-2.39zM386.92 499.72h2.39v2.36h-2.39zM397.14 499.72h2.39v2.36h-2.39zM401.23 499.72h4.44v2.36h-4.44zM407.37 499.72h4.44v2.36h-4.44zM413.5 499.72h4.44v2.36h-4.44zM419.63 499.72h2.39v2.36h-2.39zM423.72 499.72h2.39v2.36h-2.39zM427.81 499.72h4.44v2.36h-4.44zM358.3 501.73h2.39v2.36h-2.39zM378.74 501.73h2.39v2.36h-2.39zM386.92 501.73h4.44v2.36h-4.44zM409.41 501.73h8.53v2.36h-8.53zM358.3 503.75h2.39v2.36h-2.39zM362.39 503.75h4.44v2.36h-4.44zM374.66 503.75h2.39v2.36h-2.39zM380.79 503.75h2.39v2.36h-2.39zM397.14 503.75h4.44v2.36h-4.44zM403.28 503.75h2.39v2.36h-2.39zM409.41 503.75h2.39v2.36h-2.39zM417.59 503.75h4.44v2.36h-4.44zM425.77 503.75h2.39v2.36h-2.39zM368.52 505.76h2.39v2.36h-2.39zM376.7 505.76h2.39v2.36h-2.39zM382.83 505.76h2.39v2.36h-2.39zM388.97 505.76h2.39v2.36h-2.39zM395.1 505.76h2.39v2.36h-2.39zM401.23 505.76h4.44v2.36h-4.44zM415.54 505.76h2.39v2.36h-2.39zM427.81 505.76h2.39v2.36h-2.39zM366.48 507.77h8.53v2.36h-8.53zM376.7 507.77h2.39v2.36h-2.39zM386.92 507.77h2.39v2.36h-2.39zM393.06 507.77h2.39v2.36h-2.39zM419.63 507.77h2.39v2.36h-2.39zM425.77 507.77h6.48v2.36h-6.48zM360.34 509.79h2.39v2.36h-2.39zM366.48 509.79h2.39v2.36h-2.39zM376.7 509.79h2.39v2.36h-2.39zM380.79 509.79h2.39v2.36h-2.39zM384.88 509.79h2.39v2.36h-2.39zM395.1 509.79h2.39v2.36h-2.39zM403.28 509.79h2.39v2.36h-2.39zM407.37 509.79h2.39v2.36h-2.39zM413.5 509.79h2.39v2.36h-2.39zM421.68 509.79h4.44v2.36h-4.44zM372.61 511.8h2.39v2.36h-2.39zM382.83 511.8h2.39v2.36h-2.39zM388.97 511.8h2.39v2.36h-2.39zM407.37 511.8h2.39v2.36h-2.39zM413.5 511.8h2.39v2.36h-2.39zM417.59 511.8h2.39v2.36h-2.39zM362.39 513.82h2.39v2.36h-2.39zM368.52 513.82h2.39v2.36h-2.39zM427.81 513.82h2.39v2.36h-2.39zM372.61 515.83h2.39v2.36h-2.39zM376.7 515.83h2.39v2.36h-2.39zM384.88 515.83h2.39v2.36h-2.39zM409.41 515.83h2.39v2.36h-2.39zM413.5 515.83h2.39v2.36h-2.39zM417.59 515.83h2.39v2.36h-2.39zM423.72 515.83h2.39v2.36h-2.39zM376.7 517.84h2.39v2.36h-2.39zM395.1 517.84h2.39v2.36h-2.39zM411.46 517.84h2.39v2.36h-2.39zM419.63 517.84h6.48v2.36h-6.48zM372.61 519.86h2.39v2.36h-2.39zM382.83 519.86h2.39v2.36h-2.39zM393.06 519.86h2.39v2.36h-2.39zM360.34 521.87h2.39v2.36h-2.39zM364.43 521.87h2.39v2.36h-2.39zM370.57 521.87h2.39v2.36h-2.39zM382.83 521.87h2.39v2.36h-2.39zM395.1 521.87h2.39v2.36h-2.39zM407.37 521.87h2.39v2.36h-2.39zM417.59 521.87h4.44v2.36h-4.44zM358.3 523.89h2.39v2.36h-2.39zM364.43 523.89h2.39v2.36h-2.39zM372.61 523.89h2.39v2.36h-2.39zM399.19 523.89h4.44v2.36h-4.44zM409.41 523.89h2.39v2.36h-2.39z"/>
<path shape-rendering="crispEdges" fill="#aadce0" d="M358.3 453.4h2.39v2.36h-2.39zM370.57 453.4h4.44v2.36h-4.44zM386.92 453.4h2.39v2.36h-2.39zM393.06 453.4h2.39v2.36h-2.39zM425.77 453.4h2.39v2.36h-2.39zM384.88 455.41h2.39v2.36h-2.39zM409.41 455.41h2.39v2.36h-2.39zM419.63 455.41h2.39v2.36h-2.39zM423.72 455.41h2.39v2.36h-2.39zM427.81 455.41h2.39v2.36h-2.39zM368.52 457.43h2.39v2.36h-2.39zM372.61 457.43h2.39v2.36h-2.39zM393.06 457.43h2.39v2.36h-2.39zM407.37 457.43h2.39v2.36h-2.39zM411.46 457.43h2.39v2.36h-2.39zM421.68 457.43h6.48v2.36h-6.48zM429.86 457.43h2.39v2.36h-2.39zM391.01 459.44h2.39v2.36h-2.39zM413.5 459.44h2.39v2.36h-2.39zM417.59 459.44h2.39v2.36h-2.39zM372.61 461.46h2.39v2.36h-2.39zM380.79 461.46h2.39v2.36h-2.39zM397.14 461.46h2.39v2.36h-2.39zM413.5 461.46h2.39v2.36h-2.39zM358.3 463.47h2.39v2.36h-2.39zM403.28 463.47h2.39v2.36h-2.39zM407.37 463.47h2.39v2.36h-2.39zM421.68 463.47h2.39v2.36h-2.39zM425.77 463.47h2.39v2.36h-2.39zM376.7 465.48h2.39v2.36h-2.39zM384.88 465.48h2.39v2.36h-2.39zM395.1 465.48h2.39v2.36h-2.39zM399.19 465.48h2.39v2.36h-2.39zM411.46 465.48h2.39v2.36h-2.39zM364.43 467.5h2.39v2.36h-2.39zM372.61 467.5h2.39v2.36h-2.39zM417.59 467.5h4.44v2.36h-4.44zM423.72 467.5h2.39v2.36h-2.39zM391.01 469.51h2.39v2.36h-2.39zM397.14 469.51h2.39v2.36h-2.39zM427.81 469.51h2.39v2.36h-2.39zM370.57 471.52h2.39v2.36h-2.39zM362.39 473.54h2.39v2.36h-2.39zM358.3 475.55h2.39v2.36h-2.39zM372.61 475.55h2.39v2.36h-2.39zM403.28 475.55h2.39v2.36h-2.39zM409.41 475.55h2.39v2.36h-2.39zM358.3 477.57h2.39v2.36h-2.39zM401.23 477.57h2.39v2.36h-2.39zM409.41 477.57h2.39v2.36h-2.39zM427.81 477.57h2.39v2.36h-2.39zM362.39 479.58h2.39v2.36h-2.39zM372.61 479.58h2.39v2.36h-2.39zM419.63 479.58h2.39v2.36h-2.39zM368.52 481.59h2.39v2.36h-2.39zM382.83 481.59h2.39v2.36h-2.39zM403.28 481.59h2.39v2.36h-2.39zM409.41 481.59h2.39v2.36h-2.39zM429.86 481.59h2.39v2.36h-2.39zM415.54 483.61h6.48v2.36h-6.48zM395.1 485.62h2.39v2.36h-2.39zM399.19 485.62h2.39v2.36h-2.39zM405.32 485.62h2.39v2.36h-2.39zM409.41 485.62h2.39v2.36h-2.39zM423.72 485.62h2.39v2.36h-2.39zM378.74 487.64h2.39v2.36h-2.39zM401.23 487.64h6.48v2.36h-6.48zM427.81 487.64h2.39v2.36h-2.39zM360.34 489.65h2.39v2.36h-2.39zM403.28 489.65h2.39v2.36h-2.39zM419.63 491.66h2.39v2.36h-2.39zM425.77 491.66h4.44v2.36h-4.44zM366.48 493.68h2.39v2.36h-2.39zM384.88 493.68h4.44v2.36h-4.44zM411.46 493.68h2.39v2.36h-2.39zM427.81 493.68h2.39v2.36h-2.39zM388.97 495.69h2.39v2.36h-2.39zM395.1 495.69h4.44v2.36h-4.44zM401.23 495.69h2.39v2.36h-2.39zM417.59 495.69h4.44v2.36h-4.44zM368.52 497.71h2.39v2.36h-2.39zM393.06 497.71h2.39v2.36h-2.39zM423.72 497.71h2.39v2.36h-2.39zM358.3 499.72h2.39v2.36h-2.39zM362.39 499.72h2.39v2.36h-2.39zM366.48 499.72h2.39v2.36h-2.39zM372.61 499.72h4.44v2.36h-4.44zM382.83 499.72h2.39v2.36h-2.39zM399.19 499.72h2.39v2.36h-2.39zM425.77 499.72h2.39v2.36h-2.39zM360.34 501.73h2.39v2.36h-2.39zM364.43 501.73h4.44v2.36h-4.44zM372.61 501.73h2.39v2.36h-2.39zM419.63 501.73h4.44v2.36h-4.44zM425.77 501.73h2.39v2.36h-2.39zM384.88 503.75h2.39v2.36h-2.39zM388.97 503.75h2.39v2.36h-2.39zM411.46 503.75h2.39v2.36h-2.39zM423.72 505.76h2.39v2.36h-2.39zM364.43 507.77h2.39v2.36h-2.39zM374.66 507.77h2.39v2.36h-2.39zM382.83 507.77h2.39v2.36h-2.39zM401.23 507.77h2.39v2.36h-2.39zM407.37 507.77h2.39v2.36h-2.39zM411.46 507.77h2.39v2.36h-2.39zM421.68 507.77h2.39v2.36h-2.39zM360.34 511.8h2.39v2.36h-2.39zM364.43 511.8h2.39v2.36h-2.39zM384.88 511.8h2.39v2.36h-2.39zM393.06 511.8h2.39v2.36h-2.39zM399.19 511.8h2.39v2.36h-2.39zM415.54 511.8h2.39v2.36h-2.39zM423.72 511.8h2.39v2.36h-2.39zM429.86 513.82h2.39v2.36h-2.39zM388.97 515.83h2.39v2.36h-2.39zM397.14 515.83h2.39v2.36h-2.39zM403.28 515.83h2.39v2.36h-2.39zM419.63 515.83h2.39v2.36h-2.39zM362.39 517.84h2.39v2.36h-2.39zM386.92 517.84h2.39v2.36h-2.39zM429.86 517.84h2.39v2.36h-2.39zM366.48 519.86h2.39v2.36h-2.39zM405.32 519.86h2.39v2.36h-2.39zM429.86 519.86h2.39v2.36h-2.39zM366.48 521.87h2.39v2.36h-2.39zM380.79 521.87h2.39v2.36h-2.39zM401.23 521.87h2.39v2.36h-2.39zM411.46 521.87h2.39v2.36h-2.39zM370.57 523.89h2.39v2.36h-2.39zM384.88 523.89h2.39v2.36h-2.39zM388.97 523.89h8.53v2.36h-8.53zM405.32 523.89h2.39v2.36h-2.39z"/>
<path shape-rendering="crispEdges" fill="#b9e3dc" d="M368.52 453.4h2.39v2.36h-2.39zM419.63 453.4h2.39v2.36h-2.39zM362.39 455.41h2.39v2.36h-2.39zM403.28 455.41h2.39v2.36h-2.39zM366.48 457.43h2.39v2.36h-2.39zM370.57 457.43h2.39v2.36h-2.39zM395.1 457.43h2.39v2.36h-2.39zM403.28 457.43h2.39v2.36h-2.39zM399.19 459.44h4.44v2.36h-4.44zM423.72 459.44h4.44v2.36h-4.44zM370.57 461.46h2.39v2.36h-2.39zM388.97 461.46h2.39v2.36h-2.39zM393.06 463.47h2.39v2.36h-2.39zM413.5 463.47h2.39v2.36h-2.39zM374.66 467.5h2.39v2.36h-2.39zM415.54 469.51h2.39v2.36h-2.39zM368.52 471.52h2.39v2.36h-2.39zM419.63 471.52h2.39v2.36h-2.39zM413.5 473.54h2.39v2.36h-2.39zM358.3 479.58h2.39v2.36h-2.39zM368.52 479.58h2.39v2.36h-2.39zM378.74 479.58h2.39v2.36h-2.39zM423.72 481.59h2.39v2.36h-2.39zM380.79 483.61h2.39v2.36h-2.39zM401.23 483.61h2.39v2.36h-2.39zM413.5 483.61h2.39v2.36h-2.39zM364.43 485.62h2.39v2.36h-2.39zM370.57 485.62h2.39v2.36h-2.39zM376.7 485.62h2.39v2.36h-2.39zM376.7 487.64h2.39v2.36h-2.39zM380.79 487.64h2.39v2.36h-2.39zM399.19 487.64h2.39v2.36h-2.39zM413.5 489.65h2.39v2.36h-2.39zM374.66 491.66h2.39v2.36h-2.39zM401.23 491.66h2.39v2.36h-2.39zM423.72 493.68h2.39v2.36h-2.39zM366.48 495.69h2.39v2.36h-2.39zM382.83 495.69h2.39v2.36h-2.39zM405.32 495.69h2.39v2.36h-2.39zM415.54 497.71h2.39v2.36h-2.39zM419.63 497.71h2.39v2.36h-2.39zM378.74 499.72h2.39v2.36h-2.39zM384.88 499.72h2.39v2.36h-2.39zM391.01 499.72h2.39v2.36h-2.39zM417.59 499.72h2.39v2.36h-2.39zM421.68 499.72h2.39v2.36h-2.39zM368.52 501.73h2.39v2.36h-2.39zM374.66 501.73h2.39v2.36h-2.39zM366.48 503.75h2.39v2.36h-2.39zM415.54 503.75h2.39v2.36h-2.39zM388.97 507.77h2.39v2.36h-2.39zM409.41 507.77h2.39v2.36h-2.39zM405.32 509.79h2.39v2.36h-2.39zM362.39 511.8h2.39v2.36h-2.39zM386.92 511.8h2.39v2.36h-2.39zM376.7 513.82h2.39v2.36h-2.39zM376.7 521.87h2.39v2.36h-2.39zM384.88 521.87h2.39v2.36h-2.39zM391.01 521.87h2.39v2.36h-2.39zM413.5 521.87h4.44v2.36h-4.44zM366.48 523.89h2.39v2.36h-2.39zM386.92 523.89h2.39v2.36h-2.39z"/>
<path shape-rendering="crispEdges" fill="#c8ead8" d="M413.5 455.41h2.39v2.36h-2.39zM374.66 459.44h2.39v2.36h-2.39zM421.68 461.46h2.39v2.36h-2.39zM380.79 465.48h2.39v2.36h-2.39zM395.1 469.51h2.39v2.36h-2.39zM409.41 469.51h2.39v2.36h-2.39zM386.92 471.52h2.39v2.36h-2.39zM370.57 479.58h2.39v2.36h-2.39zM380.79 479.58h2.39v2.36h-2.39zM417.59 479.58h2.39v2.36h-2.39zM401.23 481.59h2.39v2.36h-2.39zM421.68 483.61h2.39v2.36h-2.39zM411.46 487.64h2.39v2.36h-2.39zM384.88 489.65h2.39v2.36h-2.39zM395.1 489.65h2.39v2.36h-2.39zM397.14 493.68h2.39v2.36h-2.39zM358.3 495.69h2.39v2.36h-2.39zM395.1 499.72h2.39v2.36h-2.39zM395.1 501.73h2.39v2.36h-2.39zM388.97 509.79h2.39v2.36h-2.39zM415.54 515.83h2.39v2.36h-2.39zM413.5 517.84h2.39v2.36h-2.39zM405.32 521.87h2.39v2.36h-2.39z"/>
<path shape-rendering="crispEdges" fill="#d4ebcc" d="M388.97 455.41h2.39v2.36h-2.39zM378.74 465.48h2.39v2.36h-2.39zM425.77 487.64h2.39v2.36h-2.39zM378.74 495.69h2.39v2.36h-2.39zM391.01 495.69h2.39v2.36h-2.39zM399.19 495.69h2.39v2.36h-2.39zM393.06 503.75h2.39v2.36h-2.39zM403.28 511.8h2.39v2.36h-2.39zM388.97 513.82h2.39v2.36h-2.39zM388.97 519.86h2.39v2.36h-2.39zM403.28 523.89h2.39v2.36h-2.39z"/>
<path shape-rendering="crispEdges" fill="#e0ecc0" d="M395.1 481.59h2.39v2.36h-2.39zM366.48 487.64h2.39v2.36h-2.39zM386.92 491.66h2.39v2.36h-2.39zM384.88 495.69h2.39v2.36h-2.39zM429.86 497.71h2.39v2.36h-2.39zM362.39 509.79h2.39v2.36h-2.39zM399.19 513.82h2.39v2.36h-2.39zM411.46 513.82h2.39v2.36h-2.39zM368.52 517.84h2.39v2.36h-2.39z"/>
<path shape-rendering="crispEdges" fill="#e3e7ad" d="M374.66 461.46h2.39v2.36h-2.39zM423.72 461.46h2.39v2.36h-2.39zM376.7 463.47h2.39v2.36h-2.39zM423.72 473.54h2.39v2.36h-2.39zM382.83 477.57h2.39v2.36h-2.39zM399.19 477.57h2.39v2.36h-2.39zM364.43 483.61h2.39v2.36h-2.39zM358.3 509.79h2.39v2.36h-2.39zM364.43 517.84h2.39v2.36h-2.39z"/>
<path shape-rendering="crispEdges" fill="#e6e29a" d="M401.23 455.41h2.39v2.36h-2.39zM409.41 457.43h2.39v2.36h-2.39zM362.39 459.44h2.39v2.36h-2.39zM411.46 459.44h2.39v2.36h-2.39zM429.86 459.44h2.39v2.36h-2.39zM429.86 461.46h2.39v2.36h-2.39zM378.74 471.52h2.39v2.36h-2.39zM395.1 477.57h2.39v2.36h-2.39zM386.92 479.58h2.39v2.36h-2.39zM372.61 497.71h2.39v2.36h-2.39zM370.57 501.73h2.39v2.36h-2.39z"/>
<path shape-rendering="crispEdges" fill="#dfd582" d="M415.54 461.46h2.39v2.36h-2.39zM366.48 477.57h2.39v2.36h-2.39zM399.19 479.58h2.39v2.36h-2.39zM429.86 479.58h2.39v2.36h-2.39zM393.06 481.59h2.39v2.36h-2.39zM413.5 481.59h2.39v2.36h-2.39zM364.43 489.65h2.39v2.36h-2.39zM386.92 503.75h2.39v2.36h-2.39zM413.5 503.75h2.39v2.36h-2.39zM366.48 513.82h2.39v2.36h-2.39z"/>
<path shape-rendering="crispEdges" fill="#d8c86a" d="M380.79 459.44h2.39v2.36h-2.39zM429.86 469.51h2.39v2.36h-2.39zM358.3 481.59h2.39v2.36h-2.39zM372.61 481.59h2.39v2.36h-2.39zM421.68 495.69h2.39v2.36h-2.39zM376.7 519.86h2.39v2.36h-2.39z"/>
<path shape-rendering="crispEdges" fill="#cdb55a" d="M401.23 453.4h2.39v2.36h-2.39zM366.48 475.55h2.39v2.36h-2.39zM405.32 493.68h2.39v2.36h-2.39z"/>
<rect x="358.3" y="453.4" width="73.6" height="72.5" fill="none" stroke="#9a9a9a" stroke-width="0.4"/>
<defs><linearGradient id="cb3" x1="0" y1="0" x2="0" y2="1"><stop offset="0" stop-color="#702a10"/><stop offset="0.1" stop-color="#8a4c1e"/><stop offset="0.2" stop-color="#a27230"/><stop offset="0.3" stop-color="#c2a24a"/><stop offset="0.35" stop-color="#d8c86a"/><stop offset="0.4" stop-color="#e6e29a"/><stop offset="0.45" stop-color="#e0ecc0"/><stop offset="0.5" stop-color="#c8ead8"/><stop offset="0.55" stop-color="#aadce0"/><stop offset="0.62" stop-color="#80c0d8"/><stop offset="0.7" stop-color="#5c98ca"/><stop offset="0.8" stop-color="#4070b6"/><stop offset="0.9" stop-color="#3050a4"/><stop offset="1" stop-color="#283a96"/></linearGradient></defs>
<rect x="228.8" y="472" width="7.1" height="53.7" fill="url(#cb3)"/>
<defs><linearGradient id="cb4" x1="0" y1="0" x2="0" y2="1"><stop offset="0" stop-color="#702a10"/><stop offset="0.1" stop-color="#8a4c1e"/><stop offset="0.2" stop-color="#a27230"/><stop offset="0.3" stop-color="#c2a24a"/><stop offset="0.35" stop-color="#d8c86a"/><stop offset="0.4" stop-color="#e6e29a"/><stop offset="0.45" stop-color="#e0ecc0"/><stop offset="0.5" stop-color="#c8ead8"/><stop offset="0.55" stop-color="#aadce0"/><stop offset="0.62" stop-color="#80c0d8"/><stop offset="0.7" stop-color="#5c98ca"/><stop offset="0.8" stop-color="#4070b6"/><stop offset="0.9" stop-color="#3050a4"/><stop offset="1" stop-color="#283a96"/></linearGradient></defs>
<rect x="439.7" y="471.5" width="7.7" height="54.4" fill="url(#cb4)"/>
<text x="316.1" y="447.6" font-size="8.8" text-anchor="middle">Time (fitting)</text>
<text x="393.6" y="447.6" font-size="8.8" text-anchor="middle">Time (phasor)</text>
<text x="277.3" y="457.4" font-size="8.8" text-anchor="end">0.2</text>
<text x="277.3" y="475.9" font-size="8.8" text-anchor="end">1.4</text>
<text x="277.3" y="494.1" font-size="8.8" text-anchor="end">2.5</text>
<text x="277.3" y="510.1" font-size="8.8" text-anchor="end">3.5</text>
<text x="277.3" y="527.1" font-size="8.8" text-anchor="end">4.7</text>
<text transform="translate(258.6 489) rotate(-90)" font-size="8.8" text-anchor="middle" >FWHM<tspan font-size="6.3" dy="2">IRF</tspan><tspan dy="-2"> (ns)</tspan></text>
<text x="215.6" y="443.4" font-size="10.5" fill="#111" font-weight="bold" font-family="Liberation Serif">g</text>
<text x="225.6" y="485.1" font-size="8.8" text-anchor="end">12</text>
<text x="225.6" y="506.6" font-size="8.8" text-anchor="end">10</text>
<text x="225.6" y="528.3" font-size="8.8" text-anchor="end">8</text>
<text x="226.8" y="457" font-size="8.8"><tspan font-style="italic">t</tspan><tspan font-size="5.6" dy="1.8">exe</tspan></text>
<text x="232.2" y="468.2" font-size="8.8" text-anchor="middle">(ms)</text>
<text x="450.3" y="474.6" font-size="8.8">6</text>
<text x="450.3" y="492.6" font-size="8.8">5</text>
<text x="450.3" y="510.9" font-size="8.8">4</text>
<text x="450.3" y="528.5" font-size="8.8">3</text>
<text x="437.3" y="457" font-size="8.8"><tspan font-style="italic">t</tspan><tspan font-size="5.6" dy="1.8">exe</tspan></text>
<text x="443.3" y="466.8" font-size="8.8" text-anchor="middle">(&#956;s)</text>
<text transform="translate(284.6 528.2) rotate(-90)" font-size="8.8" text-anchor="end">0</text>
<text transform="translate(302.3 528.2) rotate(-90)" font-size="8.8" text-anchor="end">0.1</text>
<text transform="translate(320.5 528.2) rotate(-90)" font-size="8.8" text-anchor="end">0.1</text>
<text transform="translate(336.9 528.2) rotate(-90)" font-size="8.8" text-anchor="end">0.2</text>
<text transform="translate(353.7 528.2) rotate(-90)" font-size="8.8" text-anchor="end">0.2</text>
<text transform="translate(362.5 528.2) rotate(-90)" font-size="8.8" text-anchor="end">0</text>
<text transform="translate(381.4 528.2) rotate(-90)" font-size="8.8" text-anchor="end">0.1</text>
<text transform="translate(397.5 528.2) rotate(-90)" font-size="8.8" text-anchor="end">0.1</text>
<text transform="translate(413.7 528.2) rotate(-90)" font-size="8.8" text-anchor="end">0.2</text>
<text transform="translate(430.9 528.2) rotate(-90)" font-size="8.8" text-anchor="end">0.2</text>
<text x="318.1" y="553.3" font-size="9.4" text-anchor="middle"><tspan font-style="italic">N</tspan><tspan font-size="6" dy="2.2">Ph</tspan><tspan font-size="6" dx="-6.2" dy="-7">decay</tspan><tspan dy="4.8">/</tspan><tspan font-style="italic">N</tspan><tspan font-size="6" dy="2.2">Ph</tspan><tspan font-size="6" dx="-6.2" dy="-7">bkg</tspan></text>
<text x="395.6" y="553.3" font-size="9.4" text-anchor="middle"><tspan font-style="italic">N</tspan><tspan font-size="6" dy="2.2">Ph</tspan><tspan font-size="6" dx="-6.2" dy="-7">decay</tspan><tspan dy="4.8">/</tspan><tspan font-style="italic">N</tspan><tspan font-size="6" dy="2.2">Ph</tspan><tspan font-size="6" dx="-6.2" dy="-7">bkg</tspan></text>
<path d="M550.5 248.9V330.6M588.9 248.9V330.6M512.5 253.3H596.7M512.5 268.9H596.7M512.5 284.4H596.7M512.5 299.9H596.7M512.5 315.5H596.7" fill="none" stroke="#e6e6e6" stroke-width="0.5"/>
<line x1="512.5" y1="330.6" x2="596.7" y2="330.6" stroke="#cfcfcf" stroke-width="1.1" />
<line x1="512.5" y1="248.4" x2="512.5" y2="331.1" stroke="#8a8a8a" stroke-width="0.7" />
<path d="M638.6 248.9V330.6M676.7 248.9V330.6M600.7 253.3H686M600.7 268.9H686M600.7 284.4H686M600.7 299.9H686M600.7 315.5H686" fill="none" stroke="#e6e6e6" stroke-width="0.5"/>
<line x1="600.7" y1="330.6" x2="686" y2="330.6" stroke="#cfcfcf" stroke-width="1.1" />
<line x1="600.7" y1="248.4" x2="600.7" y2="331.1" stroke="#8a8a8a" stroke-width="0.7" />
<line x1="512.5" y1="315.5" x2="596.7" y2="315.5" stroke="#222" stroke-width="0.8" stroke-dasharray="4 2"/>
<line x1="600.7" y1="315.5" x2="686" y2="315.5" stroke="#222" stroke-width="0.8" stroke-dasharray="4 2"/>
<polyline points="519.8,253.3 522.1,281.2 524.2,293.3 526.5,302.2 528.6,306.6 530.8,306.8 533,310.8 535.2,311 537.8,312 540,314.5 542.2,315.3 544.4,312 546.6,313.6 548.8,314 551,315.52 553.2,314.74 555.4,314.56 557.6,315.18 559.8,314.6 562,315.1 564.2,314.44 566.4,314.64 568.6,315.11 570.8,314.66 573,314.52 575.2,315.15 577.4,314.67 579.6,314.68 581.8,315.01 584,314.51 586.2,315.77 588.4,315.44" fill="none" stroke="#dd1c1c" stroke-width="0.7" />
<path d="M518.35 253.3a1.45 1.45 0 1 0 2.9 0a1.45 1.45 0 1 0 -2.9 0M520.65 281.2a1.45 1.45 0 1 0 2.9 0a1.45 1.45 0 1 0 -2.9 0M522.75 293.3a1.45 1.45 0 1 0 2.9 0a1.45 1.45 0 1 0 -2.9 0M525.05 302.2a1.45 1.45 0 1 0 2.9 0a1.45 1.45 0 1 0 -2.9 0M527.15 306.6a1.45 1.45 0 1 0 2.9 0a1.45 1.45 0 1 0 -2.9 0M529.35 306.8a1.45 1.45 0 1 0 2.9 0a1.45 1.45 0 1 0 -2.9 0M531.55 310.8a1.45 1.45 0 1 0 2.9 0a1.45 1.45 0 1 0 -2.9 0M533.75 311a1.45 1.45 0 1 0 2.9 0a1.45 1.45 0 1 0 -2.9 0M536.35 312a1.45 1.45 0 1 0 2.9 0a1.45 1.45 0 1 0 -2.9 0M538.55 314.5a1.45 1.45 0 1 0 2.9 0a1.45 1.45 0 1 0 -2.9 0M540.75 315.3a1.45 1.45 0 1 0 2.9 0a1.45 1.45 0 1 0 -2.9 0M542.95 312a1.45 1.45 0 1 0 2.9 0a1.45 1.45 0 1 0 -2.9 0M545.15 313.6a1.45 1.45 0 1 0 2.9 0a1.45 1.45 0 1 0 -2.9 0M547.35 314a1.45 1.45 0 1 0 2.9 0a1.45 1.45 0 1 0 -2.9 0M549.55 315.52a1.45 1.45 0 1 0 2.9 0a1.45 1.45 0 1 0 -2.9 0M551.75 314.74a1.45 1.45 0 1 0 2.9 0a1.45 1.45 0 1 0 -2.9 0M553.95 314.56a1.45 1.45 0 1 0 2.9 0a1.45 1.45 0 1 0 -2.9 0M556.15 315.18a1.45 1.45 0 1 0 2.9 0a1.45 1.45 0 1 0 -2.9 0M558.35 314.6a1.45 1.45 0 1 0 2.9 0a1.45 1.45 0 1 0 -2.9 0M560.55 315.1a1.45 1.45 0 1 0 2.9 0a1.45 1.45 0 1 0 -2.9 0M562.75 314.44a1.45 1.45 0 1 0 2.9 0a1.45 1.45 0 1 0 -2.9 0M564.95 314.64a1.45 1.45 0 1 0 2.9 0a1.45 1.45 0 1 0 -2.9 0M567.15 315.11a1.45 1.45 0 1 0 2.9 0a1.45 1.45 0 1 0 -2.9 0M569.35 314.66a1.45 1.45 0 1 0 2.9 0a1.45 1.45 0 1 0 -2.9 0M571.55 314.52a1.45 1.45 0 1 0 2.9 0a1.45 1.45 0 1 0 -2.9 0M573.75 315.15a1.45 1.45 0 1 0 2.9 0a1.45 1.45 0 1 0 -2.9 0M575.95 314.67a1.45 1.45 0 1 0 2.9 0a1.45 1.45 0 1 0 -2.9 0M578.15 314.68a1.45 1.45 0 1 0 2.9 0a1.45 1.45 0 1 0 -2.9 0M580.35 315.01a1.45 1.45 0 1 0 2.9 0a1.45 1.45 0 1 0 -2.9 0M582.55 314.51a1.45 1.45 0 1 0 2.9 0a1.45 1.45 0 1 0 -2.9 0M584.75 315.77a1.45 1.45 0 1 0 2.9 0a1.45 1.45 0 1 0 -2.9 0M586.95 315.44a1.45 1.45 0 1 0 2.9 0a1.45 1.45 0 1 0 -2.9 0" fill="#dd1c1c"/>
<polyline points="519.8,324.4 521.6,318.6 523.8,318 526,317.1 528.2,316.6 530.8,314.9 533,316.6 535.2,316.8 537.8,316.5 540.2,316.2 542.2,317.1 544.4,315.1 546.6,316 551,316.16 553.2,316.85 555.4,316.37 557.6,316.56 559.8,316.58 562,316.89 564.2,317.04 566.4,316.84 568.6,316.87 570.8,316.15 573,316.79 575.2,315.99 577.4,315.81 579.6,316.48 581.8,316.69 584,316.88 586.2,316.74 588.4,316.89" fill="none" stroke="#1f1ff0" stroke-width="0.7" />
<path d="M518.35 324.4a1.45 1.45 0 1 0 2.9 0a1.45 1.45 0 1 0 -2.9 0M520.15 318.6a1.45 1.45 0 1 0 2.9 0a1.45 1.45 0 1 0 -2.9 0M522.35 318a1.45 1.45 0 1 0 2.9 0a1.45 1.45 0 1 0 -2.9 0M524.55 317.1a1.45 1.45 0 1 0 2.9 0a1.45 1.45 0 1 0 -2.9 0M526.75 316.6a1.45 1.45 0 1 0 2.9 0a1.45 1.45 0 1 0 -2.9 0M529.35 314.9a1.45 1.45 0 1 0 2.9 0a1.45 1.45 0 1 0 -2.9 0M531.55 316.6a1.45 1.45 0 1 0 2.9 0a1.45 1.45 0 1 0 -2.9 0M533.75 316.8a1.45 1.45 0 1 0 2.9 0a1.45 1.45 0 1 0 -2.9 0M536.35 316.5a1.45 1.45 0 1 0 2.9 0a1.45 1.45 0 1 0 -2.9 0M538.75 316.2a1.45 1.45 0 1 0 2.9 0a1.45 1.45 0 1 0 -2.9 0M540.75 317.1a1.45 1.45 0 1 0 2.9 0a1.45 1.45 0 1 0 -2.9 0M542.95 315.1a1.45 1.45 0 1 0 2.9 0a1.45 1.45 0 1 0 -2.9 0M545.15 316a1.45 1.45 0 1 0 2.9 0a1.45 1.45 0 1 0 -2.9 0M549.55 316.16a1.45 1.45 0 1 0 2.9 0a1.45 1.45 0 1 0 -2.9 0M551.75 316.85a1.45 1.45 0 1 0 2.9 0a1.45 1.45 0 1 0 -2.9 0M553.95 316.37a1.45 1.45 0 1 0 2.9 0a1.45 1.45 0 1 0 -2.9 0M556.15 316.56a1.45 1.45 0 1 0 2.9 0a1.45 1.45 0 1 0 -2.9 0M558.35 316.58a1.45 1.45 0 1 0 2.9 0a1.45 1.45 0 1 0 -2.9 0M560.55 316.89a1.45 1.45 0 1 0 2.9 0a1.45 1.45 0 1 0 -2.9 0M562.75 317.04a1.45 1.45 0 1 0 2.9 0a1.45 1.45 0 1 0 -2.9 0M564.95 316.84a1.45 1.45 0 1 0 2.9 0a1.45 1.45 0 1 0 -2.9 0M567.15 316.87a1.45 1.45 0 1 0 2.9 0a1.45 1.45 0 1 0 -2.9 0M569.35 316.15a1.45 1.45 0 1 0 2.9 0a1.45 1.45 0 1 0 -2.9 0M571.55 316.79a1.45 1.45 0 1 0 2.9 0a1.45 1.45 0 1 0 -2.9 0M573.75 315.99a1.45 1.45 0 1 0 2.9 0a1.45 1.45 0 1 0 -2.9 0M575.95 315.81a1.45 1.45 0 1 0 2.9 0a1.45 1.45 0 1 0 -2.9 0M578.15 316.48a1.45 1.45 0 1 0 2.9 0a1.45 1.45 0 1 0 -2.9 0M580.35 316.69a1.45 1.45 0 1 0 2.9 0a1.45 1.45 0 1 0 -2.9 0M582.55 316.88a1.45 1.45 0 1 0 2.9 0a1.45 1.45 0 1 0 -2.9 0M584.75 316.74a1.45 1.45 0 1 0 2.9 0a1.45 1.45 0 1 0 -2.9 0M586.95 316.89a1.45 1.45 0 1 0 2.9 0a1.45 1.45 0 1 0 -2.9 0" fill="#1f1ff0"/>
<polyline points="603.1,305.2 605.6,306.6 607.9,307.5 610.2,308.4 612.7,309.3 615,309 617.3,312 619.8,308.4 622.1,311.4 624.4,316.4 626.9,312.9 629.2,312.9 631.5,313.8 634,308.4 636.3,313.8 638.6,313.8 641.1,309.7 643.4,305.4 645.7,309.7 648.2,310.2 650.5,307.9 653.2,316.4 655.3,311.1 657.6,303.6 660,307.5 662.4,313.2 664.7,301.8 667.1,304.3 669.5,304.9 671.9,307.5 674.2,311.4 676.7,307.2" fill="none" stroke="#dd1c1c" stroke-width="0.7" />
<path d="M601.65 305.2a1.45 1.45 0 1 0 2.9 0a1.45 1.45 0 1 0 -2.9 0M604.15 306.6a1.45 1.45 0 1 0 2.9 0a1.45 1.45 0 1 0 -2.9 0M606.45 307.5a1.45 1.45 0 1 0 2.9 0a1.45 1.45 0 1 0 -2.9 0M608.75 308.4a1.45 1.45 0 1 0 2.9 0a1.45 1.45 0 1 0 -2.9 0M611.25 309.3a1.45 1.45 0 1 0 2.9 0a1.45 1.45 0 1 0 -2.9 0M613.55 309a1.45 1.45 0 1 0 2.9 0a1.45 1.45 0 1 0 -2.9 0M615.85 312a1.45 1.45 0 1 0 2.9 0a1.45 1.45 0 1 0 -2.9 0M618.35 308.4a1.45 1.45 0 1 0 2.9 0a1.45 1.45 0 1 0 -2.9 0M620.65 311.4a1.45 1.45 0 1 0 2.9 0a1.45 1.45 0 1 0 -2.9 0M622.95 316.4a1.45 1.45 0 1 0 2.9 0a1.45 1.45 0 1 0 -2.9 0M625.45 312.9a1.45 1.45 0 1 0 2.9 0a1.45 1.45 0 1 0 -2.9 0M627.75 312.9a1.45 1.45 0 1 0 2.9 0a1.45 1.45 0 1 0 -2.9 0M630.05 313.8a1.45 1.45 0 1 0 2.9 0a1.45 1.45 0 1 0 -2.9 0M632.55 308.4a1.45 1.45 0 1 0 2.9 0a1.45 1.45 0 1 0 -2.9 0M634.85 313.8a1.45 1.45 0 1 0 2.9 0a1.45 1.45 0 1 0 -2.9 0M637.15 313.8a1.45 1.45 0 1 0 2.9 0a1.45 1.45 0 1 0 -2.9 0M639.65 309.7a1.45 1.45 0 1 0 2.9 0a1.45 1.45 0 1 0 -2.9 0M641.95 305.4a1.45 1.45 0 1 0 2.9 0a1.45 1.45 0 1 0 -2.9 0M644.25 309.7a1.45 1.45 0 1 0 2.9 0a1.45 1.45 0 1 0 -2.9 0M646.75 310.2a1.45 1.45 0 1 0 2.9 0a1.45 1.45 0 1 0 -2.9 0M649.05 307.9a1.45 1.45 0 1 0 2.9 0a1.45 1.45 0 1 0 -2.9 0M651.75 316.4a1.45 1.45 0 1 0 2.9 0a1.45 1.45 0 1 0 -2.9 0M653.85 311.1a1.45 1.45 0 1 0 2.9 0a1.45 1.45 0 1 0 -2.9 0M656.15 303.6a1.45 1.45 0 1 0 2.9 0a1.45 1.45 0 1 0 -2.9 0M658.55 307.5a1.45 1.45 0 1 0 2.9 0a1.45 1.45 0 1 0 -2.9 0M660.95 313.2a1.45 1.45 0 1 0 2.9 0a1.45 1.45 0 1 0 -2.9 0M663.25 301.8a1.45 1.45 0 1 0 2.9 0a1.45 1.45 0 1 0 -2.9 0M665.65 304.3a1.45 1.45 0 1 0 2.9 0a1.45 1.45 0 1 0 -2.9 0M668.05 304.9a1.45 1.45 0 1 0 2.9 0a1.45 1.45 0 1 0 -2.9 0M670.45 307.5a1.45 1.45 0 1 0 2.9 0a1.45 1.45 0 1 0 -2.9 0M672.75 311.4a1.45 1.45 0 1 0 2.9 0a1.45 1.45 0 1 0 -2.9 0M675.25 307.2a1.45 1.45 0 1 0 2.9 0a1.45 1.45 0 1 0 -2.9 0" fill="#dd1c1c"/>
<polyline points="603.1,315 605.6,315 607.9,315.9 610.2,316.4 612.7,316 615,315.2 617.3,317.7 619.8,314.3 622.1,316.1 624.4,319.1 626.9,316.8 629.2,317.8 631.5,318.2 634,314.3 636.3,318.2 638.6,318.2 641.1,313.2 643.4,309.8 645.7,313.8 648.2,313.2 650.5,313.8 653.2,321.4 655.3,316.4 657.6,312.5 660,316.4 662.4,322.1 664.7,312.9 667.1,315.5 669.5,316.8 671.9,319.6 674.2,325 676.7,322.6" fill="none" stroke="#1f1ff0" stroke-width="0.7" />
<path d="M601.65 315a1.45 1.45 0 1 0 2.9 0a1.45 1.45 0 1 0 -2.9 0M604.15 315a1.45 1.45 0 1 0 2.9 0a1.45 1.45 0 1 0 -2.9 0M606.45 315.9a1.45 1.45 0 1 0 2.9 0a1.45 1.45 0 1 0 -2.9 0M608.75 316.4a1.45 1.45 0 1 0 2.9 0a1.45 1.45 0 1 0 -2.9 0M611.25 316a1.45 1.45 0 1 0 2.9 0a1.45 1.45 0 1 0 -2.9 0M613.55 315.2a1.45 1.45 0 1 0 2.9 0a1.45 1.45 0 1 0 -2.9 0M615.85 317.7a1.45 1.45 0 1 0 2.9 0a1.45 1.45 0 1 0 -2.9 0M618.35 314.3a1.45 1.45 0 1 0 2.9 0a1.45 1.45 0 1 0 -2.9 0M620.65 316.1a1.45 1.45 0 1 0 2.9 0a1.45 1.45 0 1 0 -2.9 0M622.95 319.1a1.45 1.45 0 1 0 2.9 0a1.45 1.45 0 1 0 -2.9 0M625.45 316.8a1.45 1.45 0 1 0 2.9 0a1.45 1.45 0 1 0 -2.9 0M627.75 317.8a1.45 1.45 0 1 0 2.9 0a1.45 1.45 0 1 0 -2.9 0M630.05 318.2a1.45 1.45 0 1 0 2.9 0a1.45 1.45 0 1 0 -2.9 0M632.55 314.3a1.45 1.45 0 1 0 2.9 0a1.45 1.45 0 1 0 -2.9 0M634.85 318.2a1.45 1.45 0 1 0 2.9 0a1.45 1.45 0 1 0 -2.9 0M637.15 318.2a1.45 1.45 0 1 0 2.9 0a1.45 1.45 0 1 0 -2.9 0M639.65 313.2a1.45 1.45 0 1 0 2.9 0a1.45 1.45 0 1 0 -2.9 0M641.95 309.8a1.45 1.45 0 1 0 2.9 0a1.45 1.45 0 1 0 -2.9 0M644.25 313.8a1.45 1.45 0 1 0 2.9 0a1.45 1.45 0 1 0 -2.9 0M646.75 313.2a1.45 1.45 0 1 0 2.9 0a1.45 1.45 0 1 0 -2.9 0M649.05 313.8a1.45 1.45 0 1 0 2.9 0a1.45 1.45 0 1 0 -2.9 0M651.75 321.4a1.45 1.45 0 1 0 2.9 0a1.45 1.45 0 1 0 -2.9 0M653.85 316.4a1.45 1.45 0 1 0 2.9 0a1.45 1.45 0 1 0 -2.9 0M656.15 312.5a1.45 1.45 0 1 0 2.9 0a1.45 1.45 0 1 0 -2.9 0M658.55 316.4a1.45 1.45 0 1 0 2.9 0a1.45 1.45 0 1 0 -2.9 0M660.95 322.1a1.45 1.45 0 1 0 2.9 0a1.45 1.45 0 1 0 -2.9 0M663.25 312.9a1.45 1.45 0 1 0 2.9 0a1.45 1.45 0 1 0 -2.9 0M665.65 315.5a1.45 1.45 0 1 0 2.9 0a1.45 1.45 0 1 0 -2.9 0M668.05 316.8a1.45 1.45 0 1 0 2.9 0a1.45 1.45 0 1 0 -2.9 0M670.45 319.6a1.45 1.45 0 1 0 2.9 0a1.45 1.45 0 1 0 -2.9 0M672.75 325a1.45 1.45 0 1 0 2.9 0a1.45 1.45 0 1 0 -2.9 0M675.25 322.6a1.45 1.45 0 1 0 2.9 0a1.45 1.45 0 1 0 -2.9 0" fill="#1f1ff0"/>
<text x="508.4" y="255.9" font-size="8.8" text-anchor="end">0.8</text>
<text x="508.4" y="271.2" font-size="8.8" text-anchor="end">0.6</text>
<text x="508.4" y="286.7" font-size="8.8" text-anchor="end">0.4</text>
<text x="508.4" y="302.5" font-size="8.8" text-anchor="end">0.2</text>
<text x="508.4" y="318.1" font-size="8.8" text-anchor="end">0</text>
<text x="508.4" y="333.6" font-size="8.8" text-anchor="end">&#8722;0.2</text>
<text transform="translate(489.3 289.8) rotate(-90)" font-size="8.8" text-anchor="middle" >Bias (ns)</text>
<text x="481" y="248" font-size="10.4" fill="#111" font-weight="bold">h</text>
<path d="M550.5 346V428.7M588.9 346V428.7M512.5 347.2H596.7M512.5 361.3H596.7M512.5 375.3H596.7M512.5 389.6H596.7M512.5 403.9H596.7M512.5 417.9H596.7" fill="none" stroke="#e6e6e6" stroke-width="0.5"/>
<line x1="512.5" y1="428.7" x2="596.7" y2="428.7" stroke="#cfcfcf" stroke-width="1.1" />
<line x1="512.5" y1="345.5" x2="512.5" y2="429.2" stroke="#8a8a8a" stroke-width="0.7" />
<path d="M638.6 346V428.7M676.7 346V428.7M600.7 353.4H686M600.7 389.2H686M600.7 425.3H686" fill="none" stroke="#e6e6e6" stroke-width="0.5"/>
<line x1="600.7" y1="428.7" x2="686" y2="428.7" stroke="#cfcfcf" stroke-width="1.1" />
<line x1="600.7" y1="345.5" x2="600.7" y2="429.2" stroke="#8a8a8a" stroke-width="0.7" />
<polyline points="519.8,348.8 522.1,362.8 524.4,374 526.6,381.5 528.9,388 531.2,393 533.4,394.5 535.7,398.6 538,401.2 540.2,403.1 542.5,406.1 544.8,407.6 547,409.2 549.33,410.14 551.67,411.74 554,412.79 556.33,414.48 558.67,415.25 561,415.94 563.33,417.41 565.67,418.63 568,419.03 570.33,419.26 572.67,420.49 575,420.37 577.33,421.58 579.67,422.26 582,422.65 584.33,423.3 586.67,423.4 589,423.58" fill="none" stroke="#dd1c1c" stroke-width="0.7" />
<path d="M518.35 348.8a1.45 1.45 0 1 0 2.9 0a1.45 1.45 0 1 0 -2.9 0M520.65 362.8a1.45 1.45 0 1 0 2.9 0a1.45 1.45 0 1 0 -2.9 0M522.95 374a1.45 1.45 0 1 0 2.9 0a1.45 1.45 0 1 0 -2.9 0M525.15 381.5a1.45 1.45 0 1 0 2.9 0a1.45 1.45 0 1 0 -2.9 0M527.45 388a1.45 1.45 0 1 0 2.9 0a1.45 1.45 0 1 0 -2.9 0M529.75 393a1.45 1.45 0 1 0 2.9 0a1.45 1.45 0 1 0 -2.9 0M531.95 394.5a1.45 1.45 0 1 0 2.9 0a1.45 1.45 0 1 0 -2.9 0M534.25 398.6a1.45 1.45 0 1 0 2.9 0a1.45 1.45 0 1 0 -2.9 0M536.55 401.2a1.45 1.45 0 1 0 2.9 0a1.45 1.45 0 1 0 -2.9 0M538.75 403.1a1.45 1.45 0 1 0 2.9 0a1.45 1.45 0 1 0 -2.9 0M541.05 406.1a1.45 1.45 0 1 0 2.9 0a1.45 1.45 0 1 0 -2.9 0M543.35 407.6a1.45 1.45 0 1 0 2.9 0a1.45 1.45 0 1 0 -2.9 0M545.55 409.2a1.45 1.45 0 1 0 2.9 0a1.45 1.45 0 1 0 -2.9 0M547.88 410.14a1.45 1.45 0 1 0 2.9 0a1.45 1.45 0 1 0 -2.9 0M550.22 411.74a1.45 1.45 0 1 0 2.9 0a1.45 1.45 0 1 0 -2.9 0M552.55 412.79a1.45 1.45 0 1 0 2.9 0a1.45 1.45 0 1 0 -2.9 0M554.88 414.48a1.45 1.45 0 1 0 2.9 0a1.45 1.45 0 1 0 -2.9 0M557.22 415.25a1.45 1.45 0 1 0 2.9 0a1.45 1.45 0 1 0 -2.9 0M559.55 415.94a1.45 1.45 0 1 0 2.9 0a1.45 1.45 0 1 0 -2.9 0M561.88 417.41a1.45 1.45 0 1 0 2.9 0a1.45 1.45 0 1 0 -2.9 0M564.22 418.63a1.45 1.45 0 1 0 2.9 0a1.45 1.45 0 1 0 -2.9 0M566.55 419.03a1.45 1.45 0 1 0 2.9 0a1.45 1.45 0 1 0 -2.9 0M568.88 419.26a1.45 1.45 0 1 0 2.9 0a1.45 1.45 0 1 0 -2.9 0M571.22 420.49a1.45 1.45 0 1 0 2.9 0a1.45 1.45 0 1 0 -2.9 0M573.55 420.37a1.45 1.45 0 1 0 2.9 0a1.45 1.45 0 1 0 -2.9 0M575.88 421.58a1.45 1.45 0 1 0 2.9 0a1.45 1.45 0 1 0 -2.9 0M578.22 422.26a1.45 1.45 0 1 0 2.9 0a1.45 1.45 0 1 0 -2.9 0M580.55 422.65a1.45 1.45 0 1 0 2.9 0a1.45 1.45 0 1 0 -2.9 0M582.88 423.3a1.45 1.45 0 1 0 2.9 0a1.45 1.45 0 1 0 -2.9 0M585.22 423.4a1.45 1.45 0 1 0 2.9 0a1.45 1.45 0 1 0 -2.9 0M587.55 423.58a1.45 1.45 0 1 0 2.9 0a1.45 1.45 0 1 0 -2.9 0" fill="#dd1c1c"/>
<polyline points="519.8,363.1 522.1,372.2 524.4,379.7 526.6,385 528.9,391 531.2,394.1 533.4,396.8 535.7,400.1 538,403.1 540.2,404.6 542.5,406.9 544.8,409.2 547,410.2 549.33,411.51 551.67,412.96 554,414.13 556.33,415.01 558.67,416.69 561,417.15 563.33,418.61 565.67,419.1 568,419.82 570.33,420.78 572.67,420.72 575,422.12 577.33,422.73 579.67,423.13 582,423.2 584.33,424.04 586.67,424.69 589,424.68" fill="none" stroke="#1f1ff0" stroke-width="0.7" />
<path d="M518.35 363.1a1.45 1.45 0 1 0 2.9 0a1.45 1.45 0 1 0 -2.9 0M520.65 372.2a1.45 1.45 0 1 0 2.9 0a1.45 1.45 0 1 0 -2.9 0M522.95 379.7a1.45 1.45 0 1 0 2.9 0a1.45 1.45 0 1 0 -2.9 0M525.15 385a1.45 1.45 0 1 0 2.9 0a1.45 1.45 0 1 0 -2.9 0M527.45 391a1.45 1.45 0 1 0 2.9 0a1.45 1.45 0 1 0 -2.9 0M529.75 394.1a1.45 1.45 0 1 0 2.9 0a1.45 1.45 0 1 0 -2.9 0M531.95 396.8a1.45 1.45 0 1 0 2.9 0a1.45 1.45 0 1 0 -2.9 0M534.25 400.1a1.45 1.45 0 1 0 2.9 0a1.45 1.45 0 1 0 -2.9 0M536.55 403.1a1.45 1.45 0 1 0 2.9 0a1.45 1.45 0 1 0 -2.9 0M538.75 404.6a1.45 1.45 0 1 0 2.9 0a1.45 1.45 0 1 0 -2.9 0M541.05 406.9a1.45 1.45 0 1 0 2.9 0a1.45 1.45 0 1 0 -2.9 0M543.35 409.2a1.45 1.45 0 1 0 2.9 0a1.45 1.45 0 1 0 -2.9 0M545.55 410.2a1.45 1.45 0 1 0 2.9 0a1.45 1.45 0 1 0 -2.9 0M547.88 411.51a1.45 1.45 0 1 0 2.9 0a1.45 1.45 0 1 0 -2.9 0M550.22 412.96a1.45 1.45 0 1 0 2.9 0a1.45 1.45 0 1 0 -2.9 0M552.55 414.13a1.45 1.45 0 1 0 2.9 0a1.45 1.45 0 1 0 -2.9 0M554.88 415.01a1.45 1.45 0 1 0 2.9 0a1.45 1.45 0 1 0 -2.9 0M557.22 416.69a1.45 1.45 0 1 0 2.9 0a1.45 1.45 0 1 0 -2.9 0M559.55 417.15a1.45 1.45 0 1 0 2.9 0a1.45 1.45 0 1 0 -2.9 0M561.88 418.61a1.45 1.45 0 1 0 2.9 0a1.45 1.45 0 1 0 -2.9 0M564.22 419.1a1.45 1.45 0 1 0 2.9 0a1.45 1.45 0 1 0 -2.9 0M566.55 419.82a1.45 1.45 0 1 0 2.9 0a1.45 1.45 0 1 0 -2.9 0M568.88 420.78a1.45 1.45 0 1 0 2.9 0a1.45 1.45 0 1 0 -2.9 0M571.22 420.72a1.45 1.45 0 1 0 2.9 0a1.45 1.45 0 1 0 -2.9 0M573.55 422.12a1.45 1.45 0 1 0 2.9 0a1.45 1.45 0 1 0 -2.9 0M575.88 422.73a1.45 1.45 0 1 0 2.9 0a1.45 1.45 0 1 0 -2.9 0M578.22 423.13a1.45 1.45 0 1 0 2.9 0a1.45 1.45 0 1 0 -2.9 0M580.55 423.2a1.45 1.45 0 1 0 2.9 0a1.45 1.45 0 1 0 -2.9 0M582.88 424.04a1.45 1.45 0 1 0 2.9 0a1.45 1.45 0 1 0 -2.9 0M585.22 424.69a1.45 1.45 0 1 0 2.9 0a1.45 1.45 0 1 0 -2.9 0M587.55 424.68a1.45 1.45 0 1 0 2.9 0a1.45 1.45 0 1 0 -2.9 0" fill="#1f1ff0"/>
<polyline points="602.7,417.66 605.02,417.41 607.34,418.31 609.67,418.11 611.99,417.82 614.31,417.2 616.63,416.56 618.95,415.48 621.28,415.51 623.6,415.09 625.92,414.23 628.24,412.71 630.56,412.17 632.88,411.19 635.21,411.01 637.53,410.04 639.85,409.07 642.17,406.95 644.49,406.13 646.82,404.94 649.14,404.63 651.46,404.47 653.78,401.63 656.1,399.12 658.42,397.83 660.75,398.95 663.07,395.72 665.39,393.44 667.71,391.8 670.03,391.15 672.36,390.59 674.68,389.67 677,387.99" fill="none" stroke="#dd1c1c" stroke-width="0.7" />
<path d="M601.25 417.66a1.45 1.45 0 1 0 2.9 0a1.45 1.45 0 1 0 -2.9 0M603.57 417.41a1.45 1.45 0 1 0 2.9 0a1.45 1.45 0 1 0 -2.9 0M605.89 418.31a1.45 1.45 0 1 0 2.9 0a1.45 1.45 0 1 0 -2.9 0M608.22 418.11a1.45 1.45 0 1 0 2.9 0a1.45 1.45 0 1 0 -2.9 0M610.54 417.82a1.45 1.45 0 1 0 2.9 0a1.45 1.45 0 1 0 -2.9 0M612.86 417.2a1.45 1.45 0 1 0 2.9 0a1.45 1.45 0 1 0 -2.9 0M615.18 416.56a1.45 1.45 0 1 0 2.9 0a1.45 1.45 0 1 0 -2.9 0M617.5 415.48a1.45 1.45 0 1 0 2.9 0a1.45 1.45 0 1 0 -2.9 0M619.83 415.51a1.45 1.45 0 1 0 2.9 0a1.45 1.45 0 1 0 -2.9 0M622.15 415.09a1.45 1.45 0 1 0 2.9 0a1.45 1.45 0 1 0 -2.9 0M624.47 414.23a1.45 1.45 0 1 0 2.9 0a1.45 1.45 0 1 0 -2.9 0M626.79 412.71a1.45 1.45 0 1 0 2.9 0a1.45 1.45 0 1 0 -2.9 0M629.11 412.17a1.45 1.45 0 1 0 2.9 0a1.45 1.45 0 1 0 -2.9 0M631.43 411.19a1.45 1.45 0 1 0 2.9 0a1.45 1.45 0 1 0 -2.9 0M633.76 411.01a1.45 1.45 0 1 0 2.9 0a1.45 1.45 0 1 0 -2.9 0M636.08 410.04a1.45 1.45 0 1 0 2.9 0a1.45 1.45 0 1 0 -2.9 0M638.4 409.07a1.45 1.45 0 1 0 2.9 0a1.45 1.45 0 1 0 -2.9 0M640.72 406.95a1.45 1.45 0 1 0 2.9 0a1.45 1.45 0 1 0 -2.9 0M643.04 406.13a1.45 1.45 0 1 0 2.9 0a1.45 1.45 0 1 0 -2.9 0M645.37 404.94a1.45 1.45 0 1 0 2.9 0a1.45 1.45 0 1 0 -2.9 0M647.69 404.63a1.45 1.45 0 1 0 2.9 0a1.45 1.45 0 1 0 -2.9 0M650.01 404.47a1.45 1.45 0 1 0 2.9 0a1.45 1.45 0 1 0 -2.9 0M652.33 401.63a1.45 1.45 0 1 0 2.9 0a1.45 1.45 0 1 0 -2.9 0M654.65 399.12a1.45 1.45 0 1 0 2.9 0a1.45 1.45 0 1 0 -2.9 0M656.97 397.83a1.45 1.45 0 1 0 2.9 0a1.45 1.45 0 1 0 -2.9 0M659.3 398.95a1.45 1.45 0 1 0 2.9 0a1.45 1.45 0 1 0 -2.9 0M661.62 395.72a1.45 1.45 0 1 0 2.9 0a1.45 1.45 0 1 0 -2.9 0M663.94 393.44a1.45 1.45 0 1 0 2.9 0a1.45 1.45 0 1 0 -2.9 0M666.26 391.8a1.45 1.45 0 1 0 2.9 0a1.45 1.45 0 1 0 -2.9 0M668.58 391.15a1.45 1.45 0 1 0 2.9 0a1.45 1.45 0 1 0 -2.9 0M670.91 390.59a1.45 1.45 0 1 0 2.9 0a1.45 1.45 0 1 0 -2.9 0M673.23 389.67a1.45 1.45 0 1 0 2.9 0a1.45 1.45 0 1 0 -2.9 0M675.55 387.99a1.45 1.45 0 1 0 2.9 0a1.45 1.45 0 1 0 -2.9 0" fill="#dd1c1c"/>
<polyline points="602.7,416.12 605.02,416.91 607.34,416.12 609.67,416.89 611.99,416.65 614.31,416.32 616.63,416.2 618.95,415.51 621.28,415.61 623.6,414.54 625.92,414 628.24,413.73 630.56,413.29 632.88,413.91 635.21,413.17 637.53,412.61 639.85,411.35 642.17,409.52 644.49,409.92 646.82,408.64 649.14,408.06 651.46,407.37 653.78,406.86 656.1,405.31 658.42,402.33 660.75,403.09 663.07,402.5 665.39,400.68 667.71,399.83 670.03,398.29 672.36,397.06 674.68,395.49 677,395.5" fill="none" stroke="#1f1ff0" stroke-width="0.7" />
<path d="M601.25 416.12a1.45 1.45 0 1 0 2.9 0a1.45 1.45 0 1 0 -2.9 0M603.57 416.91a1.45 1.45 0 1 0 2.9 0a1.45 1.45 0 1 0 -2.9 0M605.89 416.12a1.45 1.45 0 1 0 2.9 0a1.45 1.45 0 1 0 -2.9 0M608.22 416.89a1.45 1.45 0 1 0 2.9 0a1.45 1.45 0 1 0 -2.9 0M610.54 416.65a1.45 1.45 0 1 0 2.9 0a1.45 1.45 0 1 0 -2.9 0M612.86 416.32a1.45 1.45 0 1 0 2.9 0a1.45 1.45 0 1 0 -2.9 0M615.18 416.2a1.45 1.45 0 1 0 2.9 0a1.45 1.45 0 1 0 -2.9 0M617.5 415.51a1.45 1.45 0 1 0 2.9 0a1.45 1.45 0 1 0 -2.9 0M619.83 415.61a1.45 1.45 0 1 0 2.9 0a1.45 1.45 0 1 0 -2.9 0M622.15 414.54a1.45 1.45 0 1 0 2.9 0a1.45 1.45 0 1 0 -2.9 0M624.47 414a1.45 1.45 0 1 0 2.9 0a1.45 1.45 0 1 0 -2.9 0M626.79 413.73a1.45 1.45 0 1 0 2.9 0a1.45 1.45 0 1 0 -2.9 0M629.11 413.29a1.45 1.45 0 1 0 2.9 0a1.45 1.45 0 1 0 -2.9 0M631.43 413.91a1.45 1.45 0 1 0 2.9 0a1.45 1.45 0 1 0 -2.9 0M633.76 413.17a1.45 1.45 0 1 0 2.9 0a1.45 1.45 0 1 0 -2.9 0M636.08 412.61a1.45 1.45 0 1 0 2.9 0a1.45 1.45 0 1 0 -2.9 0M638.4 411.35a1.45 1.45 0 1 0 2.9 0a1.45 1.45 0 1 0 -2.9 0M640.72 409.52a1.45 1.45 0 1 0 2.9 0a1.45 1.45 0 1 0 -2.9 0M643.04 409.92a1.45 1.45 0 1 0 2.9 0a1.45 1.45 0 1 0 -2.9 0M645.37 408.64a1.45 1.45 0 1 0 2.9 0a1.45 1.45 0 1 0 -2.9 0M647.69 408.06a1.45 1.45 0 1 0 2.9 0a1.45 1.45 0 1 0 -2.9 0M650.01 407.37a1.45 1.45 0 1 0 2.9 0a1.45 1.45 0 1 0 -2.9 0M652.33 406.86a1.45 1.45 0 1 0 2.9 0a1.45 1.45 0 1 0 -2.9 0M654.65 405.31a1.45 1.45 0 1 0 2.9 0a1.45 1.45 0 1 0 -2.9 0M656.97 402.33a1.45 1.45 0 1 0 2.9 0a1.45 1.45 0 1 0 -2.9 0M659.3 403.09a1.45 1.45 0 1 0 2.9 0a1.45 1.45 0 1 0 -2.9 0M661.62 402.5a1.45 1.45 0 1 0 2.9 0a1.45 1.45 0 1 0 -2.9 0M663.94 400.68a1.45 1.45 0 1 0 2.9 0a1.45 1.45 0 1 0 -2.9 0M666.26 399.83a1.45 1.45 0 1 0 2.9 0a1.45 1.45 0 1 0 -2.9 0M668.58 398.29a1.45 1.45 0 1 0 2.9 0a1.45 1.45 0 1 0 -2.9 0M670.91 397.06a1.45 1.45 0 1 0 2.9 0a1.45 1.45 0 1 0 -2.9 0M673.23 395.49a1.45 1.45 0 1 0 2.9 0a1.45 1.45 0 1 0 -2.9 0M675.55 395.5a1.45 1.45 0 1 0 2.9 0a1.45 1.45 0 1 0 -2.9 0" fill="#1f1ff0"/>
<text x="508.4" y="349.8" font-size="8.8" text-anchor="end">1.6</text>
<text x="508.4" y="363.9" font-size="8.8" text-anchor="end">1.4</text>
<text x="508.4" y="377.9" font-size="8.8" text-anchor="end">1.2</text>
<text x="508.4" y="392.2" font-size="8.8" text-anchor="end">1.0</text>
<text x="508.4" y="406.5" font-size="8.8" text-anchor="end">0.8</text>
<text x="508.4" y="420.5" font-size="8.8" text-anchor="end">0.6</text>
<text transform="translate(489.6 387.6) rotate(-90)" font-size="8.8" text-anchor="middle" ><tspan font-family="Liberation Serif" font-style="italic">&#963;</tspan> (ns)</text>
<text x="480.7" y="346" font-size="10.4" fill="#111" font-weight="bold">i</text>
<path d="M550.5 452.4V479.1M588.9 452.4V479.1M512.5 457.1H596.7M512.5 468.2H596.7" fill="none" stroke="#e6e6e6" stroke-width="0.5"/>
<line x1="512.5" y1="479.1" x2="596.7" y2="479.1" stroke="#cfcfcf" stroke-width="1.1" />
<line x1="512.5" y1="451.9" x2="512.5" y2="479.6" stroke="#8a8a8a" stroke-width="0.7" />
<path d="M638.6 452.4V479.1M676.7 452.4V479.1M600.7 457.1H686M600.7 468.2H686" fill="none" stroke="#e6e6e6" stroke-width="0.5"/>
<line x1="600.7" y1="479.1" x2="686" y2="479.1" stroke="#cfcfcf" stroke-width="1.1" />
<line x1="600.7" y1="451.9" x2="600.7" y2="479.6" stroke="#8a8a8a" stroke-width="0.7" />
<path d="M550.5 498.5V526.1M588.9 498.5V526.1M512.5 498.5H596.7M512.5 507.2H596.7M512.5 516.2H596.7" fill="none" stroke="#e6e6e6" stroke-width="0.5"/>
<line x1="512.5" y1="526.1" x2="596.7" y2="526.1" stroke="#cfcfcf" stroke-width="1.1" />
<line x1="512.5" y1="498" x2="512.5" y2="526.6" stroke="#8a8a8a" stroke-width="0.7" />
<path d="M638.6 498.5V526.1M676.7 498.5V526.1M600.7 498.5H686M600.7 507.2H686M600.7 516.2H686" fill="none" stroke="#e6e6e6" stroke-width="0.5"/>
<line x1="600.7" y1="526.1" x2="686" y2="526.1" stroke="#cfcfcf" stroke-width="1.1" />
<line x1="600.7" y1="498" x2="600.7" y2="526.6" stroke="#8a8a8a" stroke-width="0.7" />
<polyline points="519.6,456.57 521.6,456.92 523.6,457.03 525.6,457.44 527.6,457.94 529.6,458.92 531.6,459.74 533.6,460.26 535.6,460.92 537.6,461.54 539.6,462.42 541.6,462.67 543.6,463.43 545.6,463.86 547.6,464.4 549.6,464.61 551.6,464.92 553.6,465.7 555.6,465.78 557.6,466.3 559.6,466.95 561.6,466.9 563.6,467.82 565.6,468.02 567.6,468.37 569.6,468.78 571.6,468.75 573.6,469.06 575.6,469.73 577.6,469.89 579.6,470.16 581.6,470.42 583.6,470.23 585.6,470.31 587.6,470.94 589.6,470.54" fill="none" stroke="#dd1c1c" stroke-width="1.2" />
<path d="M518.1 456.57a1.5 1.5 0 1 0 3 0a1.5 1.5 0 1 0 -3 0M520.1 456.92a1.5 1.5 0 1 0 3 0a1.5 1.5 0 1 0 -3 0M522.1 457.03a1.5 1.5 0 1 0 3 0a1.5 1.5 0 1 0 -3 0M524.1 457.44a1.5 1.5 0 1 0 3 0a1.5 1.5 0 1 0 -3 0M526.1 457.94a1.5 1.5 0 1 0 3 0a1.5 1.5 0 1 0 -3 0M528.1 458.92a1.5 1.5 0 1 0 3 0a1.5 1.5 0 1 0 -3 0M530.1 459.74a1.5 1.5 0 1 0 3 0a1.5 1.5 0 1 0 -3 0M532.1 460.26a1.5 1.5 0 1 0 3 0a1.5 1.5 0 1 0 -3 0M534.1 460.92a1.5 1.5 0 1 0 3 0a1.5 1.5 0 1 0 -3 0M536.1 461.54a1.5 1.5 0 1 0 3 0a1.5 1.5 0 1 0 -3 0M538.1 462.42a1.5 1.5 0 1 0 3 0a1.5 1.5 0 1 0 -3 0M540.1 462.67a1.5 1.5 0 1 0 3 0a1.5 1.5 0 1 0 -3 0M542.1 463.43a1.5 1.5 0 1 0 3 0a1.5 1.5 0 1 0 -3 0M544.1 463.86a1.5 1.5 0 1 0 3 0a1.5 1.5 0 1 0 -3 0M546.1 464.4a1.5 1.5 0 1 0 3 0a1.5 1.5 0 1 0 -3 0M548.1 464.61a1.5 1.5 0 1 0 3 0a1.5 1.5 0 1 0 -3 0M550.1 464.92a1.5 1.5 0 1 0 3 0a1.5 1.5 0 1 0 -3 0M552.1 465.7a1.5 1.5 0 1 0 3 0a1.5 1.5 0 1 0 -3 0M554.1 465.78a1.5 1.5 0 1 0 3 0a1.5 1.5 0 1 0 -3 0M556.1 466.3a1.5 1.5 0 1 0 3 0a1.5 1.5 0 1 0 -3 0M558.1 466.95a1.5 1.5 0 1 0 3 0a1.5 1.5 0 1 0 -3 0M560.1 466.9a1.5 1.5 0 1 0 3 0a1.5 1.5 0 1 0 -3 0M562.1 467.82a1.5 1.5 0 1 0 3 0a1.5 1.5 0 1 0 -3 0M564.1 468.02a1.5 1.5 0 1 0 3 0a1.5 1.5 0 1 0 -3 0M566.1 468.37a1.5 1.5 0 1 0 3 0a1.5 1.5 0 1 0 -3 0M568.1 468.78a1.5 1.5 0 1 0 3 0a1.5 1.5 0 1 0 -3 0M570.1 468.75a1.5 1.5 0 1 0 3 0a1.5 1.5 0 1 0 -3 0M572.1 469.06a1.5 1.5 0 1 0 3 0a1.5 1.5 0 1 0 -3 0M574.1 469.73a1.5 1.5 0 1 0 3 0a1.5 1.5 0 1 0 -3 0M576.1 469.89a1.5 1.5 0 1 0 3 0a1.5 1.5 0 1 0 -3 0M578.1 470.16a1.5 1.5 0 1 0 3 0a1.5 1.5 0 1 0 -3 0M580.1 470.42a1.5 1.5 0 1 0 3 0a1.5 1.5 0 1 0 -3 0M582.1 470.23a1.5 1.5 0 1 0 3 0a1.5 1.5 0 1 0 -3 0M584.1 470.31a1.5 1.5 0 1 0 3 0a1.5 1.5 0 1 0 -3 0M586.1 470.94a1.5 1.5 0 1 0 3 0a1.5 1.5 0 1 0 -3 0M588.1 470.54a1.5 1.5 0 1 0 3 0a1.5 1.5 0 1 0 -3 0" fill="#dd1c1c"/>
<polyline points="602.9,467.31 605.02,467.25 607.13,467.36 609.25,466.51 611.37,466.85 613.49,466.19 615.6,466.34 617.72,466.32 619.84,466.35 621.95,465.55 624.07,465.96 626.19,465.32 628.31,465.37 630.42,465.68 632.54,465.42 634.66,464.65 636.77,464.44 638.89,464.31 641.01,464.72 643.13,463.9 645.24,464.28 647.36,464.07 649.48,463.86 651.59,463.73 653.71,463.26 655.83,463.19 657.95,462.74 660.06,462.62 662.18,461.92 664.3,462.08 666.41,462.21 668.53,461.5 670.65,461.54 672.77,460.89 674.88,460.91 677,460.73" fill="none" stroke="#dd1c1c" stroke-width="1.2" />
<path d="M601.4 467.31a1.5 1.5 0 1 0 3 0a1.5 1.5 0 1 0 -3 0M603.52 467.25a1.5 1.5 0 1 0 3 0a1.5 1.5 0 1 0 -3 0M605.63 467.36a1.5 1.5 0 1 0 3 0a1.5 1.5 0 1 0 -3 0M607.75 466.51a1.5 1.5 0 1 0 3 0a1.5 1.5 0 1 0 -3 0M609.87 466.85a1.5 1.5 0 1 0 3 0a1.5 1.5 0 1 0 -3 0M611.99 466.19a1.5 1.5 0 1 0 3 0a1.5 1.5 0 1 0 -3 0M614.1 466.34a1.5 1.5 0 1 0 3 0a1.5 1.5 0 1 0 -3 0M616.22 466.32a1.5 1.5 0 1 0 3 0a1.5 1.5 0 1 0 -3 0M618.34 466.35a1.5 1.5 0 1 0 3 0a1.5 1.5 0 1 0 -3 0M620.45 465.55a1.5 1.5 0 1 0 3 0a1.5 1.5 0 1 0 -3 0M622.57 465.96a1.5 1.5 0 1 0 3 0a1.5 1.5 0 1 0 -3 0M624.69 465.32a1.5 1.5 0 1 0 3 0a1.5 1.5 0 1 0 -3 0M626.81 465.37a1.5 1.5 0 1 0 3 0a1.5 1.5 0 1 0 -3 0M628.92 465.68a1.5 1.5 0 1 0 3 0a1.5 1.5 0 1 0 -3 0M631.04 465.42a1.5 1.5 0 1 0 3 0a1.5 1.5 0 1 0 -3 0M633.16 464.65a1.5 1.5 0 1 0 3 0a1.5 1.5 0 1 0 -3 0M635.27 464.44a1.5 1.5 0 1 0 3 0a1.5 1.5 0 1 0 -3 0M637.39 464.31a1.5 1.5 0 1 0 3 0a1.5 1.5 0 1 0 -3 0M639.51 464.72a1.5 1.5 0 1 0 3 0a1.5 1.5 0 1 0 -3 0M641.63 463.9a1.5 1.5 0 1 0 3 0a1.5 1.5 0 1 0 -3 0M643.74 464.28a1.5 1.5 0 1 0 3 0a1.5 1.5 0 1 0 -3 0M645.86 464.07a1.5 1.5 0 1 0 3 0a1.5 1.5 0 1 0 -3 0M647.98 463.86a1.5 1.5 0 1 0 3 0a1.5 1.5 0 1 0 -3 0M650.09 463.73a1.5 1.5 0 1 0 3 0a1.5 1.5 0 1 0 -3 0M652.21 463.26a1.5 1.5 0 1 0 3 0a1.5 1.5 0 1 0 -3 0M654.33 463.19a1.5 1.5 0 1 0 3 0a1.5 1.5 0 1 0 -3 0M656.45 462.74a1.5 1.5 0 1 0 3 0a1.5 1.5 0 1 0 -3 0M658.56 462.62a1.5 1.5 0 1 0 3 0a1.5 1.5 0 1 0 -3 0M660.68 461.92a1.5 1.5 0 1 0 3 0a1.5 1.5 0 1 0 -3 0M662.8 462.08a1.5 1.5 0 1 0 3 0a1.5 1.5 0 1 0 -3 0M664.91 462.21a1.5 1.5 0 1 0 3 0a1.5 1.5 0 1 0 -3 0M667.03 461.5a1.5 1.5 0 1 0 3 0a1.5 1.5 0 1 0 -3 0M669.15 461.54a1.5 1.5 0 1 0 3 0a1.5 1.5 0 1 0 -3 0M671.27 460.89a1.5 1.5 0 1 0 3 0a1.5 1.5 0 1 0 -3 0M673.38 460.91a1.5 1.5 0 1 0 3 0a1.5 1.5 0 1 0 -3 0M675.5 460.73a1.5 1.5 0 1 0 3 0a1.5 1.5 0 1 0 -3 0" fill="#dd1c1c"/>
<polyline points="519.6,513.26 521.6,514.24 523.6,514.9 525.6,515.13 527.6,515.62 529.6,515.73 531.6,515.3 533.6,515.37 535.6,515.21 537.6,514.91 539.6,515.13 541.6,514.76 543.6,514.92 545.6,514.99 547.6,514.24 549.6,514.11 551.6,513.57 553.6,514.25 555.6,514.67 557.6,515.07 559.6,515.33 561.6,515.08 563.6,515.25 565.6,515.21 567.6,515.06 569.6,515.27 571.6,515.27 573.6,514.99 575.6,514.86 577.6,514.76 579.6,514.71 581.6,515.12 583.6,514.83 585.6,514.94 587.6,514.68 589.6,514.6" fill="none" stroke="#1f1ff0" stroke-width="1" />
<path d="M518.2 513.26a1.4 1.4 0 1 0 2.8 0a1.4 1.4 0 1 0 -2.8 0M520.2 514.24a1.4 1.4 0 1 0 2.8 0a1.4 1.4 0 1 0 -2.8 0M522.2 514.9a1.4 1.4 0 1 0 2.8 0a1.4 1.4 0 1 0 -2.8 0M524.2 515.13a1.4 1.4 0 1 0 2.8 0a1.4 1.4 0 1 0 -2.8 0M526.2 515.62a1.4 1.4 0 1 0 2.8 0a1.4 1.4 0 1 0 -2.8 0M528.2 515.73a1.4 1.4 0 1 0 2.8 0a1.4 1.4 0 1 0 -2.8 0M530.2 515.3a1.4 1.4 0 1 0 2.8 0a1.4 1.4 0 1 0 -2.8 0M532.2 515.37a1.4 1.4 0 1 0 2.8 0a1.4 1.4 0 1 0 -2.8 0M534.2 515.21a1.4 1.4 0 1 0 2.8 0a1.4 1.4 0 1 0 -2.8 0M536.2 514.91a1.4 1.4 0 1 0 2.8 0a1.4 1.4 0 1 0 -2.8 0M538.2 515.13a1.4 1.4 0 1 0 2.8 0a1.4 1.4 0 1 0 -2.8 0M540.2 514.76a1.4 1.4 0 1 0 2.8 0a1.4 1.4 0 1 0 -2.8 0M542.2 514.92a1.4 1.4 0 1 0 2.8 0a1.4 1.4 0 1 0 -2.8 0M544.2 514.99a1.4 1.4 0 1 0 2.8 0a1.4 1.4 0 1 0 -2.8 0M546.2 514.24a1.4 1.4 0 1 0 2.8 0a1.4 1.4 0 1 0 -2.8 0M548.2 514.11a1.4 1.4 0 1 0 2.8 0a1.4 1.4 0 1 0 -2.8 0M550.2 513.57a1.4 1.4 0 1 0 2.8 0a1.4 1.4 0 1 0 -2.8 0M552.2 514.25a1.4 1.4 0 1 0 2.8 0a1.4 1.4 0 1 0 -2.8 0M554.2 514.67a1.4 1.4 0 1 0 2.8 0a1.4 1.4 0 1 0 -2.8 0M556.2 515.07a1.4 1.4 0 1 0 2.8 0a1.4 1.4 0 1 0 -2.8 0M558.2 515.33a1.4 1.4 0 1 0 2.8 0a1.4 1.4 0 1 0 -2.8 0M560.2 515.08a1.4 1.4 0 1 0 2.8 0a1.4 1.4 0 1 0 -2.8 0M562.2 515.25a1.4 1.4 0 1 0 2.8 0a1.4 1.4 0 1 0 -2.8 0M564.2 515.21a1.4 1.4 0 1 0 2.8 0a1.4 1.4 0 1 0 -2.8 0M566.2 515.06a1.4 1.4 0 1 0 2.8 0a1.4 1.4 0 1 0 -2.8 0M568.2 515.27a1.4 1.4 0 1 0 2.8 0a1.4 1.4 0 1 0 -2.8 0M570.2 515.27a1.4 1.4 0 1 0 2.8 0a1.4 1.4 0 1 0 -2.8 0M572.2 514.99a1.4 1.4 0 1 0 2.8 0a1.4 1.4 0 1 0 -2.8 0M574.2 514.86a1.4 1.4 0 1 0 2.8 0a1.4 1.4 0 1 0 -2.8 0M576.2 514.76a1.4 1.4 0 1 0 2.8 0a1.4 1.4 0 1 0 -2.8 0M578.2 514.71a1.4 1.4 0 1 0 2.8 0a1.4 1.4 0 1 0 -2.8 0M580.2 515.12a1.4 1.4 0 1 0 2.8 0a1.4 1.4 0 1 0 -2.8 0M582.2 514.83a1.4 1.4 0 1 0 2.8 0a1.4 1.4 0 1 0 -2.8 0M584.2 514.94a1.4 1.4 0 1 0 2.8 0a1.4 1.4 0 1 0 -2.8 0M586.2 514.68a1.4 1.4 0 1 0 2.8 0a1.4 1.4 0 1 0 -2.8 0M588.2 514.6a1.4 1.4 0 1 0 2.8 0a1.4 1.4 0 1 0 -2.8 0" fill="#1f1ff0"/>
<polyline points="602.9,514.81 605.02,515.11 607.13,515.28 609.25,515.43 611.37,515.57 613.49,515.7 615.6,515.84 617.72,515.57 619.84,515.27 621.95,515.15 624.07,514.73 626.19,514.34 628.31,514.27 630.42,513.83 632.54,513 634.66,513.76 636.77,514 638.89,514.73 641.01,514.45 643.13,515.21 645.24,515.68 647.36,514.6 649.48,514.26 651.59,514.05 653.71,513.66 655.83,513.85 657.95,513.55 660.06,513.49 662.18,512.8 664.3,513.69 666.41,514.83 668.53,514.56 670.65,514.23 672.77,514.48 674.88,515.19 677,514.93" fill="none" stroke="#1f1ff0" stroke-width="1" />
<path d="M601.5 514.81a1.4 1.4 0 1 0 2.8 0a1.4 1.4 0 1 0 -2.8 0M603.62 515.11a1.4 1.4 0 1 0 2.8 0a1.4 1.4 0 1 0 -2.8 0M605.73 515.28a1.4 1.4 0 1 0 2.8 0a1.4 1.4 0 1 0 -2.8 0M607.85 515.43a1.4 1.4 0 1 0 2.8 0a1.4 1.4 0 1 0 -2.8 0M609.97 515.57a1.4 1.4 0 1 0 2.8 0a1.4 1.4 0 1 0 -2.8 0M612.09 515.7a1.4 1.4 0 1 0 2.8 0a1.4 1.4 0 1 0 -2.8 0M614.2 515.84a1.4 1.4 0 1 0 2.8 0a1.4 1.4 0 1 0 -2.8 0M616.32 515.57a1.4 1.4 0 1 0 2.8 0a1.4 1.4 0 1 0 -2.8 0M618.44 515.27a1.4 1.4 0 1 0 2.8 0a1.4 1.4 0 1 0 -2.8 0M620.55 515.15a1.4 1.4 0 1 0 2.8 0a1.4 1.4 0 1 0 -2.8 0M622.67 514.73a1.4 1.4 0 1 0 2.8 0a1.4 1.4 0 1 0 -2.8 0M624.79 514.34a1.4 1.4 0 1 0 2.8 0a1.4 1.4 0 1 0 -2.8 0M626.91 514.27a1.4 1.4 0 1 0 2.8 0a1.4 1.4 0 1 0 -2.8 0M629.02 513.83a1.4 1.4 0 1 0 2.8 0a1.4 1.4 0 1 0 -2.8 0M631.14 513a1.4 1.4 0 1 0 2.8 0a1.4 1.4 0 1 0 -2.8 0M633.26 513.76a1.4 1.4 0 1 0 2.8 0a1.4 1.4 0 1 0 -2.8 0M635.37 514a1.4 1.4 0 1 0 2.8 0a1.4 1.4 0 1 0 -2.8 0M637.49 514.73a1.4 1.4 0 1 0 2.8 0a1.4 1.4 0 1 0 -2.8 0M639.61 514.45a1.4 1.4 0 1 0 2.8 0a1.4 1.4 0 1 0 -2.8 0M641.73 515.21a1.4 1.4 0 1 0 2.8 0a1.4 1.4 0 1 0 -2.8 0M643.84 515.68a1.4 1.4 0 1 0 2.8 0a1.4 1.4 0 1 0 -2.8 0M645.96 514.6a1.4 1.4 0 1 0 2.8 0a1.4 1.4 0 1 0 -2.8 0M648.08 514.26a1.4 1.4 0 1 0 2.8 0a1.4 1.4 0 1 0 -2.8 0M650.19 514.05a1.4 1.4 0 1 0 2.8 0a1.4 1.4 0 1 0 -2.8 0M652.31 513.66a1.4 1.4 0 1 0 2.8 0a1.4 1.4 0 1 0 -2.8 0M654.43 513.85a1.4 1.4 0 1 0 2.8 0a1.4 1.4 0 1 0 -2.8 0M656.55 513.55a1.4 1.4 0 1 0 2.8 0a1.4 1.4 0 1 0 -2.8 0M658.66 513.49a1.4 1.4 0 1 0 2.8 0a1.4 1.4 0 1 0 -2.8 0M660.78 512.8a1.4 1.4 0 1 0 2.8 0a1.4 1.4 0 1 0 -2.8 0M662.9 513.69a1.4 1.4 0 1 0 2.8 0a1.4 1.4 0 1 0 -2.8 0M665.01 514.83a1.4 1.4 0 1 0 2.8 0a1.4 1.4 0 1 0 -2.8 0M667.13 514.56a1.4 1.4 0 1 0 2.8 0a1.4 1.4 0 1 0 -2.8 0M669.25 514.23a1.4 1.4 0 1 0 2.8 0a1.4 1.4 0 1 0 -2.8 0M671.37 514.48a1.4 1.4 0 1 0 2.8 0a1.4 1.4 0 1 0 -2.8 0M673.48 515.19a1.4 1.4 0 1 0 2.8 0a1.4 1.4 0 1 0 -2.8 0M675.6 514.93a1.4 1.4 0 1 0 2.8 0a1.4 1.4 0 1 0 -2.8 0" fill="#1f1ff0"/>
<text x="508.6" y="459.7" font-size="8.8" text-anchor="end">12</text>
<text x="508.6" y="470.8" font-size="8.8" text-anchor="end">10</text>
<text x="508.6" y="481.7" font-size="8.8" text-anchor="end">8</text>
<text x="508.6" y="501.1" font-size="8.8" text-anchor="end">6</text>
<text x="508.6" y="509.8" font-size="8.8" text-anchor="end">5</text>
<text x="508.6" y="518.8" font-size="8.8" text-anchor="end">4</text>
<text x="508.6" y="528.7" font-size="8.8" text-anchor="end">3</text>
<text x="512.5" y="536.6" font-size="8.8" text-anchor="middle">0</text>
<text x="550.3" y="536.6" font-size="8.8" text-anchor="middle">0.1</text>
<text x="589.2" y="536.6" font-size="8.8" text-anchor="middle">0.2</text>
<text x="600.3" y="536.6" font-size="8.8" text-anchor="middle">0</text>
<text x="638.3" y="536.6" font-size="8.8" text-anchor="middle">1</text>
<text x="676.5" y="536.6" font-size="8.8" text-anchor="middle">2</text>
<text transform="translate(490 465.4) rotate(-90)" font-size="8.8" text-anchor="middle" ><tspan font-style="italic">t</tspan><tspan font-size="5.8" dy="1.8">exe</tspan><tspan dy="-1.8"> (ms)</tspan></text>
<text transform="translate(490 513.8) rotate(-90)" font-size="8.8" text-anchor="middle" ><tspan font-style="italic">t</tspan><tspan font-size="5.8" dy="1.8">exe</tspan><tspan dy="-1.8"> (&#956;s)</tspan></text>
<text x="482.3" y="442.5" font-size="10.4" fill="#111" font-weight="bold">j</text>
<text x="553.8" y="549.8" font-size="9.4" text-anchor="middle"><tspan font-style="italic">N</tspan><tspan font-size="6" dy="2.2">Ph</tspan><tspan font-size="6" dx="-6.2" dy="-7">decay</tspan><tspan dy="4.8">/</tspan><tspan font-style="italic">N</tspan><tspan font-size="6" dy="2.2">Ph</tspan><tspan font-size="6" dx="-6.2" dy="-7">bkg</tspan></text>
<text x="615.6" y="548.9" textLength="53.6" lengthAdjust="spacingAndGlyphs" font-size="9.1">FWHM<tspan font-size="6.3" dy="2">IRF</tspan><tspan dy="-2"> (ns)</tspan></text>
</svg></body></html>
